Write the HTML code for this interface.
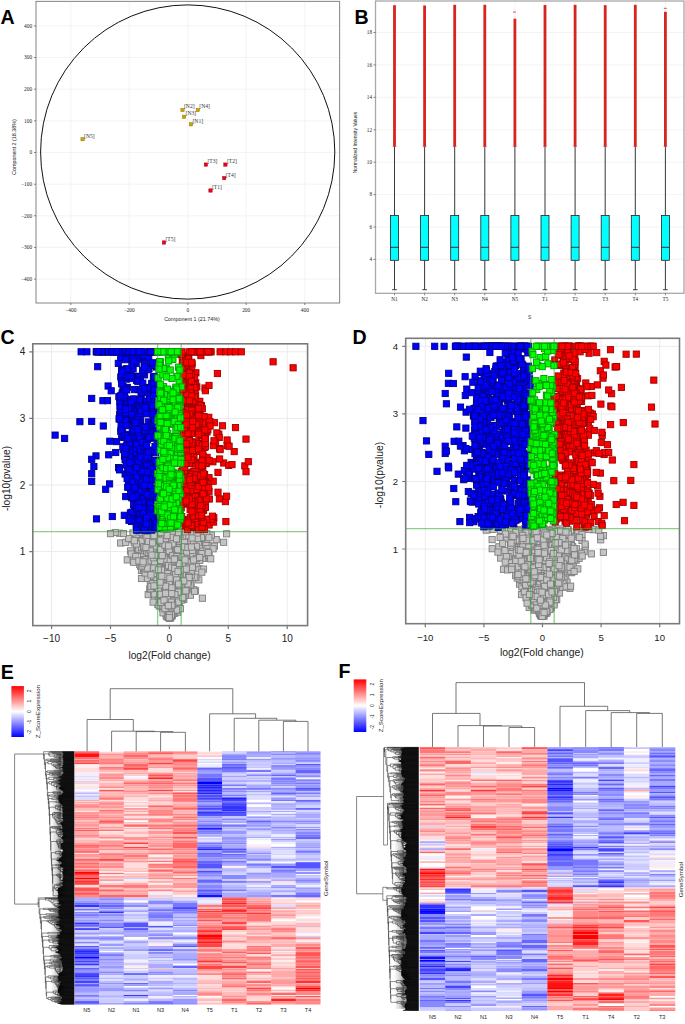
<!DOCTYPE html>
<html><head><meta charset="utf-8"><title>Figure</title>
<style>
html,body{margin:0;padding:0;background:#fff;}
body{width:685px;height:1024px;overflow:hidden;position:relative;}
body>svg{position:absolute;left:0;top:0;display:block;}
text{font-family:"Liberation Sans",sans-serif;}
.sf text,text.sf{font-family:"Liberation Serif",serif}
.b rect,.g rect,.r rect,.k rect{width:6.2px;height:6.2px;stroke-width:0.9px}
.b{fill:#0000ff;stroke:#00008c}.g{fill:#00ff00;stroke:#009a00}.r{fill:#ff0000;stroke:#9c0000}.k{fill:#c4c4c4;stroke:#7e7e7e}
.hm rect:not([height]){height:1px}
.hE rect{width:24.8px}.hF rect{width:25.8px}
</style></head><body>
<svg width="685" height="1024" viewBox="0 0 685 1024">
<path d="M70.8 1.4V303M129.2 1.4V303M187.8 1.4V303M246.2 1.4V303M304.8 1.4V303M36 279.1H339.6M36 247.4H339.6M36 215.8H339.6M36 184.2H339.6M36 152.5H339.6M36 120.8H339.6M36 89.2H339.6M36 57.5H339.6M36 25.9H339.6" stroke="#f0f0f0" stroke-width="0.8" fill="none"/>
<circle cx="187.7" cy="152" r="147.1" fill="none" stroke="#111" stroke-width="1"/>
<rect x="36" y="1.4" width="303.6" height="301.6" fill="none" stroke="#8e8e8e" stroke-width="1.1"/>
<path d="M70.8 303v2M129.2 303v2M187.8 303v2M246.2 303v2M304.8 303v2M36 279.1h-2M36 247.4h-2M36 215.8h-2M36 184.2h-2M36 152.5h-2M36 120.8h-2M36 89.2h-2M36 57.5h-2M36 25.9h-2" stroke="#555" stroke-width="0.7"/>
<g font-size="5.4" fill="#222" text-anchor="end" class="sf">
<text x="32.2" y="280.9">−400</text>
<text x="32.2" y="249.2">−300</text>
<text x="32.2" y="217.6">−200</text>
<text x="32.2" y="186">−100</text>
<text x="32.2" y="154.3">0</text>
<text x="32.2" y="122.6">100</text>
<text x="32.2" y="91">200</text>
<text x="32.2" y="59.3">300</text>
<text x="32.2" y="27.7">400</text>
</g><g font-size="5.4" fill="#222" text-anchor="middle" class="sf">
<text x="70.8" y="311.5">−400</text>
<text x="129.2" y="311.5">−200</text>
<text x="187.8" y="311.5">0</text>
<text x="246.2" y="311.5">200</text>
<text x="304.8" y="311.5">400</text>
</g>
<text x="192" y="320.8" font-size="5.4" fill="#222" text-anchor="middle">Component 1 (21.74%)</text>
<text transform="translate(15.8,147) rotate(-90)" font-size="5.4" fill="#222" text-anchor="middle">Component 2 (18.38%)</text>
<rect x="80.9" y="137.5" width="3.4" height="3.4" fill="#c9a400" stroke="#8a7000" stroke-width="0.4"/>
<text x="84.1" y="137.6" font-size="5.6" fill="#333" class="sf">[N5]</text>
<rect x="180.8" y="108.3" width="3.4" height="3.4" fill="#c9a400" stroke="#8a7000" stroke-width="0.4"/>
<text x="184" y="108.4" font-size="5.6" fill="#333" class="sf">[N2]</text>
<rect x="196.1" y="108.3" width="3.4" height="3.4" fill="#c9a400" stroke="#8a7000" stroke-width="0.4"/>
<text x="199.3" y="108.4" font-size="5.6" fill="#333" class="sf">[N4]</text>
<rect x="182.4" y="115.1" width="3.4" height="3.4" fill="#c9a400" stroke="#8a7000" stroke-width="0.4"/>
<text x="185.6" y="115.2" font-size="5.6" fill="#333" class="sf">[N3]</text>
<rect x="189.3" y="122.6" width="3.4" height="3.4" fill="#c9a400" stroke="#8a7000" stroke-width="0.4"/>
<text x="192.5" y="122.7" font-size="5.6" fill="#333" class="sf">[N1]</text>
<rect x="204.2" y="162.9" width="3.4" height="3.4" fill="#e8001c" stroke="#a00010" stroke-width="0.4"/>
<text x="207.4" y="163" font-size="5.6" fill="#333" class="sf">[T3]</text>
<rect x="223.7" y="162.9" width="3.4" height="3.4" fill="#e8001c" stroke="#a00010" stroke-width="0.4"/>
<text x="226.9" y="163" font-size="5.6" fill="#333" class="sf">[T2]</text>
<rect x="222.5" y="176.4" width="3.4" height="3.4" fill="#e8001c" stroke="#a00010" stroke-width="0.4"/>
<text x="225.7" y="176.5" font-size="5.6" fill="#333" class="sf">[T4]</text>
<rect x="208.8" y="188.8" width="3.4" height="3.4" fill="#e8001c" stroke="#a00010" stroke-width="0.4"/>
<text x="212" y="188.9" font-size="5.6" fill="#333" class="sf">[T1]</text>
<rect x="162.3" y="240.8" width="3.4" height="3.4" fill="#e8001c" stroke="#a00010" stroke-width="0.4"/>
<text x="165.5" y="240.9" font-size="5.6" fill="#333" class="sf">[T5]</text>
<text x="0.6" y="23.8" font-size="19.6" font-weight="bold" fill="#000">A</text>
<path d="M375.5 259.4H684M375.5 227H684M375.5 194.6H684M375.5 162.2H684M375.5 129.8H684M375.5 97.3H684M375.5 64.9H684M375.5 32.5H684M394.5 1V293.3M424.6 1V293.3M454.7 1V293.3M484.8 1V293.3M514.9 1V293.3M545 1V293.3M575.1 1V293.3M605.2 1V293.3M635.3 1V293.3M665.4 1V293.3" stroke="#f0f0f0" stroke-width="0.8" fill="none"/>
<rect x="375.5" y="1" width="308.5" height="292.3" fill="none" stroke="#a8a8a8" stroke-width="1.3"/>
<path d="M375.5 259.4h-2M375.5 227h-2M375.5 194.6h-2M375.5 162.2h-2M375.5 129.8h-2M375.5 97.3h-2M375.5 64.9h-2M375.5 32.5h-2M394.5 293.3v2M424.6 293.3v2M454.7 293.3v2M484.8 293.3v2M514.9 293.3v2M545 293.3v2M575.1 293.3v2M605.2 293.3v2M635.3 293.3v2M665.4 293.3v2" stroke="#555" stroke-width="0.7"/>
<g font-size="5.2" fill="#222" text-anchor="end" class="sf">
<text x="372" y="261.1">4</text>
<text x="372" y="228.7">6</text>
<text x="372" y="196.3">8</text>
<text x="372" y="163.9">10</text>
<text x="372" y="131.5">12</text>
<text x="372" y="99">14</text>
<text x="372" y="66.6">16</text>
<text x="372" y="34.2">18</text>
</g><g font-size="5.2" fill="#222" text-anchor="middle" class="sf">
<text x="394.5" y="301">N1</text>
<text x="424.6" y="301">N2</text>
<text x="454.7" y="301">N3</text>
<text x="484.8" y="301">N4</text>
<text x="514.9" y="301">N5</text>
<text x="545" y="301">T1</text>
<text x="575.1" y="301">T2</text>
<text x="605.2" y="301">T3</text>
<text x="635.3" y="301">T4</text>
<text x="665.4" y="301">T5</text>
</g>
<text x="529.5" y="319" font-size="4.8" fill="#333" text-anchor="middle">S</text>
<text transform="translate(356.8,142.5) rotate(-90)" font-size="5" fill="#222" text-anchor="middle">Normalized Intensity Values</text>
<path d="M394.5 146.4V215.5M394.5 260.3V289.7M392.2 289.7h4.6" stroke="#3a3a3a" stroke-width="1" fill="none"/>
<rect x="390.5" y="215.5" width="8" height="44.8" fill="#00ffff" stroke="#222" stroke-width="0.8"/>
<path d="M390.5 247.3h8" stroke="#222" stroke-width="0.9"/>
<rect x="393.1" y="5.2" width="2.8" height="141.4" fill="#d8241f"/>
<path d="M392.5 146.4h4" stroke="#d8241f" stroke-width="0.8" opacity="0.6"/>
<path d="M424.6 146.4V215.5M424.6 260.3V289.7M422.3 289.7h4.6" stroke="#3a3a3a" stroke-width="1" fill="none"/>
<rect x="420.6" y="215.5" width="8" height="44.8" fill="#00ffff" stroke="#222" stroke-width="0.8"/>
<path d="M420.6 247.3h8" stroke="#222" stroke-width="0.9"/>
<rect x="423.2" y="5.5" width="2.8" height="141.1" fill="#d8241f"/>
<path d="M422.6 146.4h4" stroke="#d8241f" stroke-width="0.8" opacity="0.6"/>
<path d="M454.7 146.4V215.5M454.7 260.3V289.7M452.4 289.7h4.6" stroke="#3a3a3a" stroke-width="1" fill="none"/>
<rect x="450.7" y="215.5" width="8" height="44.8" fill="#00ffff" stroke="#222" stroke-width="0.8"/>
<path d="M450.7 247.3h8" stroke="#222" stroke-width="0.9"/>
<rect x="453.3" y="4.8" width="2.8" height="141.8" fill="#d8241f"/>
<path d="M452.7 146.4h4" stroke="#d8241f" stroke-width="0.8" opacity="0.6"/>
<path d="M484.8 146.4V215.5M484.8 260.3V289.7M482.5 289.7h4.6" stroke="#3a3a3a" stroke-width="1" fill="none"/>
<rect x="480.8" y="215.5" width="8" height="44.8" fill="#00ffff" stroke="#222" stroke-width="0.8"/>
<path d="M480.8 247.3h8" stroke="#222" stroke-width="0.9"/>
<rect x="483.4" y="4.8" width="2.8" height="141.8" fill="#d8241f"/>
<path d="M482.8 146.4h4" stroke="#d8241f" stroke-width="0.8" opacity="0.6"/>
<path d="M514.9 146.4V215.5M514.9 260.3V289.7M512.6 289.7h4.6" stroke="#3a3a3a" stroke-width="1" fill="none"/>
<rect x="510.9" y="215.5" width="8" height="44.8" fill="#00ffff" stroke="#222" stroke-width="0.8"/>
<path d="M510.9 247.3h8" stroke="#222" stroke-width="0.9"/>
<rect x="513.5" y="18.7" width="2.8" height="127.9" fill="#d8241f"/>
<path d="M512.9 146.4h4" stroke="#d8241f" stroke-width="0.8" opacity="0.6"/>
<path d="M545 146.4V215.5M545 260.3V289.7M542.7 289.7h4.6" stroke="#3a3a3a" stroke-width="1" fill="none"/>
<rect x="541" y="215.5" width="8" height="44.8" fill="#00ffff" stroke="#222" stroke-width="0.8"/>
<path d="M541 247.3h8" stroke="#222" stroke-width="0.9"/>
<rect x="543.6" y="5" width="2.8" height="141.6" fill="#d8241f"/>
<path d="M543 146.4h4" stroke="#d8241f" stroke-width="0.8" opacity="0.6"/>
<path d="M575.1 146.4V215.5M575.1 260.3V289.7M572.8 289.7h4.6" stroke="#3a3a3a" stroke-width="1" fill="none"/>
<rect x="571.1" y="215.5" width="8" height="44.8" fill="#00ffff" stroke="#222" stroke-width="0.8"/>
<path d="M571.1 247.3h8" stroke="#222" stroke-width="0.9"/>
<rect x="573.7" y="4.8" width="2.8" height="141.8" fill="#d8241f"/>
<path d="M573.1 146.4h4" stroke="#d8241f" stroke-width="0.8" opacity="0.6"/>
<path d="M605.2 146.4V215.5M605.2 260.3V289.7M602.9 289.7h4.6" stroke="#3a3a3a" stroke-width="1" fill="none"/>
<rect x="601.2" y="215.5" width="8" height="44.8" fill="#00ffff" stroke="#222" stroke-width="0.8"/>
<path d="M601.2 247.3h8" stroke="#222" stroke-width="0.9"/>
<rect x="603.8" y="5.2" width="2.8" height="141.4" fill="#d8241f"/>
<path d="M603.2 146.4h4" stroke="#d8241f" stroke-width="0.8" opacity="0.6"/>
<path d="M635.3 146.4V215.5M635.3 260.3V289.7M633 289.7h4.6" stroke="#3a3a3a" stroke-width="1" fill="none"/>
<rect x="631.3" y="215.5" width="8" height="44.8" fill="#00ffff" stroke="#222" stroke-width="0.8"/>
<path d="M631.3 247.3h8" stroke="#222" stroke-width="0.9"/>
<rect x="633.9" y="4.8" width="2.8" height="141.8" fill="#d8241f"/>
<path d="M633.3 146.4h4" stroke="#d8241f" stroke-width="0.8" opacity="0.6"/>
<path d="M665.4 146.4V215.5M665.4 260.3V289.7M663.1 289.7h4.6" stroke="#3a3a3a" stroke-width="1" fill="none"/>
<rect x="661.4" y="215.5" width="8" height="44.8" fill="#00ffff" stroke="#222" stroke-width="0.8"/>
<path d="M661.4 247.3h8" stroke="#222" stroke-width="0.9"/>
<rect x="664" y="11.8" width="2.8" height="134.8" fill="#d8241f"/>
<path d="M663.4 146.4h4" stroke="#d8241f" stroke-width="0.8" opacity="0.6"/>
<rect x="513" y="11.6" width="3" height="1" fill="#d8241f" opacity="0.8"/>
<rect x="663.8" y="7.8" width="3" height="1" fill="#d8241f" opacity="0.8"/>
<text x="354.5" y="24.1" font-size="19.6" font-weight="bold" fill="#000">B</text>
<path d="M51.6 343.8V625.6M110.5 343.8V625.6M169.4 343.8V625.6M228.3 343.8V625.6M287.2 343.8V625.6M32.8 551.6H307.6M32.8 485H307.6M32.8 418.4H307.6M32.8 351.8H307.6" stroke="#ebebeb" stroke-width="1" fill="none"/>
<svg x="32.8" y="343.8" width="274.8" height="281.8" viewBox="32.8 343.8 274.8 281.8" overflow="hidden">
<g class="k"><rect x="175.2" y="594.1"/><rect x="165.7" y="599.7"/><rect x="190.4" y="546.9"/><rect x="170.9" y="540.8"/><rect x="171.6" y="556"/><rect x="167.2" y="541.2"/><rect x="161.4" y="539.9"/><rect x="204.8" y="542.5"/><rect x="166.9" y="602.1"/><rect x="165.2" y="581.8"/><rect x="168.5" y="592.2"/><rect x="169.8" y="608.8"/><rect x="173.3" y="531.1"/><rect x="181.4" y="579.5"/><rect x="146.6" y="534.6"/><rect x="159.2" y="546.5"/><rect x="158.3" y="562"/><rect x="169.4" y="543.5"/><rect x="124.2" y="556.8"/><rect x="174.5" y="570"/><rect x="174.1" y="548"/><rect x="178" y="556.6"/><rect x="192.4" y="587.7"/><rect x="165.2" y="555.4"/><rect x="162.7" y="549.7"/><rect x="196.1" y="538.9"/><rect x="150.2" y="570.4"/><rect x="161.4" y="588.5"/><rect x="167.8" y="608.8"/><rect x="182.5" y="556.1"/><rect x="165.1" y="539.3"/><rect x="173.2" y="573.7"/><rect x="165.9" y="596.5"/><rect x="184" y="552.3"/><rect x="168.9" y="602.3"/><rect x="179.3" y="565.4"/><rect x="161.6" y="595.3"/><rect x="145.9" y="531.2"/><rect x="160.7" y="531.9"/><rect x="162.3" y="565.3"/><rect x="165.7" y="586.5"/><rect x="172.3" y="551.9"/><rect x="164.6" y="554.6"/><rect x="179.9" y="529.1"/><rect x="163" y="562.8"/><rect x="153.2" y="532.8"/><rect x="158.7" y="549.7"/><rect x="166" y="572.3"/><rect x="167.2" y="611.4"/><rect x="175" y="601.7"/><rect x="155.7" y="592.5"/><rect x="180.7" y="596.4"/><rect x="162.9" y="574"/><rect x="165.5" y="562"/><rect x="164.8" y="606.1"/><rect x="181.5" y="528.7"/><rect x="163.1" y="572.2"/><rect x="174.2" y="584"/><rect x="162.3" y="596.7"/><rect x="180.7" y="579.4"/><rect x="179.9" y="590.3"/><rect x="170.2" y="584.1"/><rect x="179.7" y="586.6"/><rect x="137.5" y="563"/><rect x="169.7" y="606.1"/><rect x="163.8" y="612.3"/><rect x="171.6" y="585.1"/><rect x="159.6" y="595.3"/><rect x="169.1" y="529.6"/><rect x="175.7" y="551.6"/><rect x="165.3" y="529.5"/><rect x="165.9" y="611.9"/><rect x="156.4" y="591.7"/><rect x="154.8" y="601.3"/><rect x="164.6" y="553.6"/><rect x="162.4" y="535.7"/><rect x="154.3" y="582.8"/><rect x="183" y="563.6"/><rect x="185.2" y="556.9"/><rect x="169.4" y="597.9"/><rect x="170" y="541.7"/><rect x="145.2" y="555.5"/><rect x="180.6" y="530.3"/><rect x="151.8" y="578.8"/><rect x="166.8" y="613"/><rect x="166.3" y="609.1"/><rect x="181.5" y="559.4"/><rect x="165.9" y="592.2"/><rect x="167.2" y="612.1"/><rect x="174.5" y="579.7"/><rect x="190.6" y="586.7"/><rect x="116.4" y="530.1"/><rect x="164.9" y="593.4"/><rect x="159.5" y="570.2"/><rect x="157.5" y="567"/><rect x="178.8" y="591.2"/><rect x="168.7" y="543.3"/><rect x="160.5" y="605.4"/><rect x="171.1" y="600.7"/><rect x="147" y="589.4"/><rect x="167.8" y="553.8"/><rect x="154.6" y="599.2"/><rect x="176.9" y="592.6"/><rect x="172.4" y="578.9"/><rect x="177.5" y="551.3"/><rect x="177.1" y="586.4"/><rect x="142.1" y="572.1"/><rect x="156.9" y="593.9"/><rect x="176.1" y="544.8"/><rect x="169.3" y="551.4"/><rect x="171.2" y="604.7"/><rect x="152.6" y="591.3"/><rect x="140.9" y="550.6"/><rect x="138.4" y="567.4"/><rect x="172.3" y="578.1"/><rect x="156.4" y="534.9"/><rect x="149.7" y="578.6"/><rect x="183.2" y="546.8"/><rect x="155" y="594.5"/><rect x="138.4" y="575.4"/><rect x="154.3" y="562.4"/><rect x="151.8" y="576.2"/><rect x="173" y="577"/><rect x="178.7" y="581.3"/><rect x="193.2" y="544.5"/><rect x="169.3" y="596.8"/><rect x="173.6" y="538.3"/><rect x="162.2" y="602.9"/><rect x="171.8" y="592.1"/><rect x="211.3" y="543"/><rect x="168.9" y="611.5"/><rect x="167.1" y="570.8"/><rect x="180.2" y="562.8"/><rect x="157" y="599.3"/><rect x="145.9" y="530.8"/><rect x="168.1" y="597.7"/><rect x="168.9" y="589.5"/><rect x="176.2" y="563.5"/><rect x="165.8" y="587.7"/><rect x="168.2" y="606.2"/><rect x="147.9" y="535.1"/><rect x="168.7" y="599.7"/><rect x="199.3" y="529.7"/><rect x="166.7" y="609.1"/><rect x="156.3" y="585"/><rect x="167.8" y="550.8"/><rect x="164.8" y="561.4"/><rect x="163" y="584.6"/><rect x="157.1" y="586.3"/><rect x="166.9" y="602"/><rect x="168.1" y="600"/><rect x="168.1" y="555.3"/><rect x="156" y="531.2"/><rect x="161.1" y="558.2"/><rect x="161.6" y="567.5"/><rect x="181.5" y="587.3"/><rect x="173" y="583.5"/><rect x="170.1" y="534.3"/><rect x="164.4" y="568.8"/><rect x="156.3" y="587.1"/><rect x="157.5" y="579.2"/><rect x="165.7" y="565.8"/><rect x="165.5" y="611.3"/><rect x="170.3" y="568.8"/><rect x="188.8" y="564.6"/><rect x="147.1" y="536.4"/><rect x="159.9" y="571.6"/><rect x="176.3" y="600.9"/><rect x="184.5" y="577.1"/><rect x="177.4" y="547.7"/><rect x="179.9" y="534"/><rect x="193.3" y="551.4"/><rect x="143.7" y="563.4"/><rect x="174" y="569.3"/><rect x="182.1" y="532.5"/><rect x="160.6" y="563.9"/><rect x="184.8" y="572.9"/><rect x="153.7" y="575.3"/><rect x="159.9" y="578.1"/><rect x="186.5" y="553.9"/><rect x="145" y="557.4"/><rect x="166.1" y="614"/><rect x="159.4" y="568.8"/><rect x="140.6" y="542.3"/><rect x="184.9" y="590.7"/><rect x="149.4" y="557.4"/><rect x="169.9" y="541.9"/><rect x="171" y="591.4"/><rect x="175.9" y="564.3"/><rect x="155.7" y="533.4"/><rect x="170.3" y="541.2"/><rect x="167.6" y="528.7"/><rect x="170.8" y="567.1"/><rect x="147.9" y="583.7"/><rect x="168.8" y="612.6"/><rect x="147.3" y="575.4"/><rect x="201.6" y="554.2"/><rect x="168.8" y="558.1"/><rect x="159.6" y="530.2"/><rect x="160.3" y="595"/><rect x="176.8" y="565.9"/><rect x="154" y="563.9"/><rect x="169.7" y="591.2"/><rect x="171.8" y="583.6"/><rect x="175.4" y="569.4"/><rect x="164" y="590.4"/><rect x="177.1" y="548"/><rect x="163.7" y="584.1"/><rect x="170.9" y="574.1"/><rect x="168.5" y="562.9"/><rect x="167.9" y="588.8"/><rect x="188.6" y="568.6"/><rect x="153.8" y="561.9"/><rect x="141.4" y="534.4"/><rect x="189.8" y="530.7"/><rect x="168.6" y="611.3"/><rect x="166.2" y="600.9"/><rect x="169.6" y="597.6"/><rect x="171.7" y="590"/><rect x="145.7" y="566.9"/><rect x="166" y="563"/><rect x="160.7" y="605.3"/><rect x="170.3" y="570.4"/><rect x="186.6" y="530.2"/><rect x="162.1" y="593.3"/><rect x="184" y="554.3"/><rect x="157.5" y="583.5"/><rect x="179.5" y="533.7"/><rect x="169.5" y="608.4"/><rect x="151.6" y="534.7"/><rect x="164.9" y="576.2"/><rect x="164.9" y="591"/><rect x="157.8" y="555.2"/><rect x="186.4" y="529.8"/><rect x="157.8" y="562.2"/><rect x="156.8" y="588.2"/><rect x="163.3" y="529.6"/><rect x="168" y="573.2"/><rect x="169.6" y="574.1"/><rect x="170.4" y="605.8"/><rect x="151.3" y="532.9"/><rect x="164.9" y="563.2"/><rect x="146.8" y="559.7"/><rect x="180.3" y="570.7"/><rect x="169.2" y="534.2"/><rect x="156.4" y="596.6"/><rect x="194.5" y="550.9"/><rect x="165.6" y="609"/><rect x="179.7" y="585.4"/><rect x="166.6" y="537"/><rect x="156.5" y="552.2"/><rect x="149.3" y="548.8"/><rect x="168.7" y="563.3"/><rect x="159.5" y="569.5"/><rect x="183.2" y="556.7"/><rect x="176" y="534.8"/><rect x="165.6" y="604.2"/><rect x="138" y="536.7"/><rect x="149.9" y="531"/><rect x="153.7" y="569.2"/><rect x="157.8" y="572"/><rect x="157.2" y="543.6"/><rect x="151.6" y="563.3"/><rect x="173.8" y="550.5"/><rect x="177" y="540.7"/><rect x="154.4" y="589"/><rect x="166.5" y="615"/><rect x="170" y="566.5"/><rect x="159.4" y="605.3"/><rect x="169.6" y="572"/><rect x="153.4" y="537.9"/><rect x="174" y="587.1"/><rect x="163.7" y="599.7"/><rect x="164.8" y="598.1"/><rect x="162.8" y="584.9"/><rect x="145.1" y="591.5"/><rect x="176.9" y="589.3"/><rect x="162.1" y="543.7"/><rect x="158.6" y="528.6"/><rect x="154.3" y="529.9"/><rect x="213.1" y="536.5"/><rect x="167" y="555.2"/><rect x="159.6" y="590.1"/><rect x="168.5" y="545.4"/><rect x="186.2" y="575.4"/><rect x="177" y="581.3"/><rect x="165.2" y="595.5"/><rect x="159.2" y="558.6"/><rect x="187.5" y="571.6"/><rect x="192.7" y="551.7"/><rect x="170.3" y="607.6"/><rect x="151.9" y="541.7"/><rect x="173.1" y="545.6"/><rect x="171.4" y="595.7"/><rect x="187.1" y="542.6"/><rect x="159.9" y="553.8"/><rect x="146.2" y="530.3"/><rect x="165" y="585.7"/><rect x="175.2" y="529.6"/><rect x="174.1" y="539.6"/><rect x="167.2" y="611.1"/><rect x="175.7" y="589.7"/><rect x="182.2" y="576.7"/><rect x="167.3" y="605.6"/><rect x="177.6" y="584.9"/><rect x="173.4" y="591.4"/><rect x="183.3" y="562.7"/><rect x="169" y="580.3"/><rect x="171.5" y="535.3"/><rect x="180.1" y="538.3"/><rect x="162.1" y="607.1"/><rect x="166.9" y="584.8"/><rect x="164.7" y="596.1"/><rect x="166.3" y="613.4"/><rect x="161.3" y="585.2"/><rect x="174.7" y="550.3"/><rect x="154.6" y="574.1"/><rect x="153.1" y="550.3"/><rect x="140.2" y="533.6"/><rect x="158.5" y="562.5"/><rect x="168.9" y="605.4"/><rect x="163.3" y="609.6"/><rect x="127.4" y="547.8"/><rect x="166.1" y="573.9"/><rect x="188.5" y="569.4"/><rect x="143.4" y="545.7"/><rect x="148.8" y="571.6"/><rect x="178.5" y="536.1"/><rect x="161.8" y="570.5"/><rect x="149.8" y="562.9"/><rect x="165.1" y="591.8"/><rect x="180.5" y="529.7"/><rect x="166.6" y="611.2"/><rect x="177.5" y="542.3"/><rect x="163.7" y="553.4"/><rect x="173" y="553.3"/><rect x="150.3" y="547.6"/><rect x="149" y="559.2"/><rect x="167.6" y="610.7"/><rect x="153.5" y="596.2"/><rect x="195.7" y="576.8"/><rect x="161.5" y="542.2"/><rect x="185.7" y="540.2"/><rect x="195.3" y="541.8"/><rect x="177.7" y="593.1"/><rect x="148.9" y="534.7"/><rect x="175.4" y="536.1"/><rect x="171.9" y="543"/><rect x="159.4" y="595.6"/><rect x="190.9" y="541.2"/><rect x="151.7" y="575.4"/><rect x="181.6" y="528.8"/><rect x="160.2" y="556.8"/><rect x="170.6" y="594.3"/><rect x="164.4" y="558.1"/><rect x="155.1" y="547.8"/><rect x="150.8" y="558.7"/><rect x="160.2" y="574.4"/><rect x="164" y="612.7"/><rect x="160.1" y="536.9"/><rect x="159.6" y="530.5"/><rect x="158" y="539"/><rect x="192.8" y="574.2"/><rect x="163.8" y="603.9"/><rect x="171" y="608.1"/><rect x="172" y="567.7"/><rect x="157.5" y="557.1"/><rect x="171.9" y="603.4"/><rect x="165.7" y="592.5"/><rect x="162.5" y="601.4"/><rect x="200.7" y="555.1"/><rect x="161.9" y="537.3"/><rect x="175.4" y="550.1"/><rect x="166.7" y="560.4"/><rect x="168" y="564.4"/><rect x="163.2" y="557"/><rect x="166.4" y="605.9"/><rect x="160.9" y="568.2"/><rect x="195.4" y="545.6"/><rect x="163.5" y="544.8"/><rect x="158.8" y="584.1"/><rect x="154.3" y="567.5"/><rect x="153.4" y="559.4"/><rect x="171.7" y="546.3"/><rect x="199.6" y="555.3"/><rect x="160.3" y="543.4"/><rect x="160.3" y="601.8"/><rect x="165.9" y="544.2"/><rect x="167.2" y="535.2"/><rect x="168.7" y="538.2"/><rect x="152.9" y="530.3"/><rect x="178.8" y="576.6"/><rect x="155.5" y="576.7"/><rect x="145.4" y="535.9"/><rect x="154.8" y="578.4"/><rect x="167" y="529.6"/><rect x="195.8" y="565.7"/><rect x="163.3" y="610.9"/><rect x="181" y="545.6"/><rect x="177.3" y="556.6"/><rect x="160.6" y="605.1"/><rect x="158.9" y="579.8"/><rect x="160.3" y="563.9"/><rect x="169.3" y="588"/><rect x="151.3" y="532.9"/><rect x="150.4" y="543.1"/><rect x="167" y="540.7"/><rect x="152.9" y="563.8"/><rect x="186.7" y="582"/><rect x="170.1" y="605"/><rect x="171.8" y="577.7"/><rect x="153.8" y="535.1"/><rect x="167.5" y="611.8"/><rect x="179.2" y="556.2"/><rect x="190.8" y="544"/><rect x="158.4" y="594.4"/><rect x="186.7" y="529.1"/><rect x="169.6" y="579.7"/><rect x="168.2" y="611.5"/><rect x="223.5" y="530.7"/><rect x="182.9" y="580.1"/><rect x="166.3" y="610.3"/><rect x="169.5" y="558.8"/><rect x="178.5" y="549.8"/><rect x="165.8" y="592.4"/><rect x="167.1" y="582.1"/><rect x="169.5" y="583.7"/><rect x="169.6" y="574.8"/><rect x="169.4" y="604.8"/><rect x="163.1" y="578.1"/><rect x="167.2" y="606.8"/><rect x="163.8" y="605.4"/><rect x="186.5" y="577.8"/><rect x="152.1" y="569.8"/><rect x="193.1" y="560.6"/><rect x="181.8" y="547"/><rect x="168.9" y="588.8"/><rect x="160.1" y="568.5"/><rect x="160" y="585.2"/><rect x="162.1" y="563.5"/><rect x="170.4" y="588"/><rect x="167.1" y="544.3"/><rect x="149" y="571.4"/><rect x="165.3" y="588"/><rect x="156.4" y="594.2"/><rect x="180.8" y="548.7"/><rect x="159.1" y="570.4"/><rect x="157.4" y="532.4"/><rect x="171" y="555.9"/><rect x="153.8" y="560.7"/><rect x="140.5" y="550.4"/><rect x="163.3" y="586.5"/><rect x="158" y="544.6"/><rect x="172.9" y="598.5"/><rect x="168.4" y="575.1"/><rect x="165.2" y="594.2"/><rect x="155.2" y="563.6"/><rect x="146.8" y="552.2"/><rect x="159" y="549.6"/><rect x="161.7" y="563.5"/><rect x="177" y="585.7"/><rect x="167.1" y="530.4"/><rect x="167.4" y="569.8"/><rect x="162.5" y="609.8"/><rect x="185.7" y="563.1"/><rect x="165.3" y="584.2"/><rect x="146" y="535.6"/><rect x="131.1" y="539.8"/><rect x="149.6" y="560.3"/><rect x="168.7" y="582.3"/><rect x="202.8" y="539.4"/><rect x="188" y="580.6"/><rect x="158.5" y="572"/><rect x="158.6" y="558.4"/><rect x="167.4" y="607.8"/><rect x="160.2" y="537.9"/><rect x="173" y="539.1"/><rect x="154.9" y="594.3"/><rect x="187.2" y="561.6"/><rect x="176.7" y="544.4"/><rect x="163.2" y="592.1"/><rect x="168.6" y="553.7"/><rect x="186.1" y="551.3"/><rect x="175.3" y="537.5"/><rect x="170.9" y="595.1"/><rect x="165.6" y="612.5"/><rect x="166.4" y="604.6"/><rect x="154.9" y="539"/><rect x="184.9" y="572.4"/><rect x="175.3" y="581.6"/><rect x="171.1" y="599.7"/><rect x="166.5" y="570.2"/><rect x="161.8" y="567.4"/><rect x="166.2" y="614.5"/><rect x="140.9" y="536.9"/><rect x="179.3" y="536.3"/><rect x="165.7" y="559.5"/><rect x="160.9" y="592"/><rect x="200.4" y="566"/><rect x="164.4" y="590.1"/><rect x="162.9" y="556.3"/><rect x="174.5" y="585.6"/><rect x="150.5" y="528.9"/><rect x="169.6" y="604.3"/><rect x="194.3" y="539.8"/><rect x="174.2" y="589.4"/><rect x="173.6" y="589.8"/><rect x="170.8" y="531.8"/><rect x="157.8" y="578.6"/><rect x="177.7" y="590.3"/><rect x="197.5" y="546.8"/><rect x="165.1" y="609.4"/><rect x="173.5" y="544.9"/><rect x="142.5" y="560.7"/><rect x="163.3" y="602.2"/><rect x="151.6" y="568.2"/><rect x="172.8" y="546"/><rect x="179.2" y="556.5"/><rect x="203.6" y="536.2"/><rect x="165.2" y="587.3"/><rect x="153.8" y="573.5"/><rect x="165.6" y="605.1"/><rect x="175.6" y="578.2"/><rect x="159.1" y="537.5"/><rect x="126.7" y="536.6"/><rect x="162.5" y="530.3"/><rect x="163.8" y="613.4"/><rect x="153.6" y="583.1"/><rect x="178.8" y="578.5"/><rect x="189.2" y="561.9"/><rect x="141.8" y="559.6"/><rect x="150.6" y="565.7"/><rect x="154.9" y="563"/><rect x="171.8" y="530.8"/><rect x="159.9" y="555.4"/><rect x="166.5" y="555.9"/><rect x="164.3" y="609"/><rect x="167.6" y="576.1"/><rect x="167.6" y="591.1"/><rect x="172" y="600.8"/><rect x="165.6" y="588.3"/><rect x="158.4" y="540"/><rect x="170.9" y="574.4"/><rect x="184.2" y="577.4"/><rect x="172.9" y="578.1"/><rect x="166.4" y="533.2"/><rect x="150.9" y="567.5"/><rect x="168.7" y="604"/><rect x="172" y="597.7"/><rect x="155.9" y="582.3"/><rect x="161.4" y="538.7"/><rect x="183.7" y="544.6"/><rect x="156.9" y="539.5"/><rect x="187.3" y="592.1"/><rect x="155.2" y="587"/><rect x="164.8" y="563.8"/><rect x="168" y="569.7"/><rect x="157.6" y="572.4"/><rect x="175.3" y="553"/><rect x="161.3" y="579.2"/><rect x="164.7" y="569.5"/><rect x="188.2" y="533"/><rect x="174.5" y="590"/><rect x="143.4" y="568"/><rect x="175.8" y="579.5"/><rect x="181" y="540.1"/><rect x="165.7" y="576.9"/><rect x="178.2" y="597.1"/><rect x="168" y="561.9"/><rect x="155.4" y="584.6"/><rect x="155.5" y="559.1"/><rect x="187.5" y="543.8"/><rect x="167.6" y="543.3"/><rect x="161.8" y="586.7"/><rect x="145.4" y="553.7"/><rect x="147.6" y="572"/><rect x="167.3" y="607.1"/><rect x="168.2" y="564"/><rect x="187.1" y="581.9"/><rect x="168.2" y="606.6"/><rect x="168.7" y="579.8"/><rect x="154.7" y="591.3"/><rect x="133.4" y="531.3"/><rect x="173.2" y="573.5"/><rect x="171.2" y="555.3"/><rect x="165" y="561.6"/><rect x="184.9" y="559.8"/><rect x="163.9" y="587.4"/><rect x="163" y="599"/><rect x="164.3" y="579.6"/><rect x="171.5" y="531.6"/><rect x="175.6" y="553.5"/><rect x="175.8" y="566.8"/><rect x="158.4" y="546.7"/><rect x="191.6" y="574.1"/><rect x="165.7" y="593.6"/><rect x="154.5" y="577.8"/><rect x="168.9" y="559.7"/><rect x="179.4" y="551.9"/><rect x="186.2" y="541.7"/><rect x="165.3" y="574.4"/><rect x="177.1" y="558.4"/><rect x="167.4" y="600.8"/><rect x="178.9" y="552"/><rect x="157.6" y="547.9"/><rect x="164.7" y="579.3"/><rect x="170.3" y="607.1"/><rect x="165.9" y="540.6"/><rect x="165.5" y="588.8"/><rect x="172.3" y="576.4"/><rect x="153.5" y="552.3"/><rect x="164.7" y="600"/><rect x="167" y="586.4"/><rect x="154.5" y="529.1"/><rect x="166.9" y="540.6"/><rect x="167.4" y="541.6"/><rect x="164.6" y="609.1"/><rect x="154.6" y="574.3"/><rect x="189.2" y="560.5"/><rect x="169.4" y="540.4"/><rect x="165.3" y="609.8"/><rect x="179.9" y="593.4"/><rect x="172.5" y="598.4"/><rect x="112.1" y="529.4"/><rect x="167" y="593.6"/><rect x="166.9" y="601"/><rect x="182.3" y="581.5"/><rect x="163.4" y="594.9"/><rect x="160.1" y="575.6"/><rect x="165.7" y="607.4"/><rect x="165.7" y="593.9"/><rect x="171.2" y="530.4"/><rect x="146.5" y="530.5"/><rect x="168.8" y="562.7"/><rect x="133.7" y="540.9"/><rect x="188.6" y="531.7"/><rect x="146.7" y="586"/><rect x="155.2" y="583.6"/><rect x="137.9" y="529.1"/><rect x="166.3" y="603.3"/><rect x="162.2" y="575.8"/><rect x="155.7" y="530.7"/><rect x="148.8" y="575.6"/><rect x="159.5" y="582.9"/><rect x="163.4" y="551"/><rect x="149.7" y="582.4"/><rect x="156.8" y="580.6"/><rect x="159.7" y="569.3"/><rect x="166.7" y="561.7"/><rect x="162.1" y="591.9"/><rect x="162.5" y="600.2"/><rect x="164.9" y="533.7"/><rect x="154.2" y="592.5"/><rect x="171.3" y="585.5"/><rect x="167.1" y="605"/><rect x="182.2" y="579.7"/><rect x="175.1" y="532.6"/><rect x="175.1" y="567.5"/><rect x="165" y="581"/><rect x="172" y="566.6"/><rect x="134.7" y="547.4"/><rect x="196.7" y="557.3"/><rect x="160.7" y="578.6"/><rect x="169.1" y="603.4"/><rect x="145" y="569.3"/><rect x="164.7" y="605.2"/><rect x="168.2" y="610.7"/><rect x="158.1" y="549.2"/><rect x="164.2" y="537.6"/><rect x="176.4" y="545"/><rect x="165.9" y="583.8"/><rect x="166.3" y="560.4"/><rect x="168.2" y="572"/><rect x="177.9" y="533.9"/><rect x="160.5" y="536"/><rect x="174.4" y="580.6"/><rect x="147.2" y="580"/><rect x="169.1" y="612.4"/><rect x="152.6" y="578.5"/><rect x="162.2" y="581.1"/><rect x="158.2" y="549.5"/><rect x="170.8" y="535.1"/><rect x="161.4" y="592.4"/><rect x="151.6" y="595.9"/><rect x="168.9" y="546.8"/><rect x="149.8" y="534.7"/><rect x="150" y="599"/><rect x="162" y="565"/><rect x="145.5" y="537.7"/><rect x="176.7" y="568.2"/><rect x="163.9" y="550.4"/><rect x="140.6" y="546.6"/><rect x="158.5" y="591.8"/><rect x="142.9" y="547.6"/><rect x="165.2" y="595.1"/><rect x="165.3" y="530.7"/><rect x="166.8" y="555.2"/><rect x="179.3" y="582.9"/><rect x="172.4" y="562.4"/><rect x="129.9" y="529.8"/><rect x="148.9" y="554.3"/><rect x="164.5" y="597.7"/><rect x="171.5" y="610.3"/><rect x="136.7" y="541.2"/><rect x="163" y="594.1"/><rect x="161.7" y="582"/><rect x="168.7" y="544.2"/><rect x="165.2" y="545.1"/><rect x="163.5" y="550.4"/><rect x="160.8" y="579.6"/><rect x="169.1" y="547.7"/><rect x="173.5" y="568.8"/><rect x="166" y="595.9"/><rect x="170.7" y="591.9"/><rect x="162.5" y="602.7"/><rect x="169.1" y="598.8"/><rect x="164.1" y="595.1"/><rect x="168.3" y="584.3"/><rect x="166.2" y="608.9"/><rect x="160.1" y="569.6"/><rect x="159.8" y="599.2"/><rect x="128.2" y="550.8"/><rect x="167.2" y="604.4"/><rect x="176.4" y="537.1"/><rect x="166.9" y="604.6"/><rect x="137" y="540.9"/><rect x="157" y="573.2"/><rect x="173.1" y="554.9"/><rect x="162.7" y="568.4"/><rect x="148.5" y="540.2"/><rect x="164.4" y="559.1"/><rect x="174.6" y="590.1"/><rect x="183.9" y="534.7"/><rect x="169.7" y="572.9"/><rect x="183.2" y="558.5"/><rect x="171.5" y="599.5"/><rect x="165" y="586"/><rect x="173.2" y="528.6"/><rect x="170.8" y="607.1"/><rect x="150.4" y="533.7"/><rect x="151.8" y="559.6"/><rect x="162" y="563.1"/><rect x="172.1" y="581.3"/><rect x="186.1" y="544"/><rect x="187.8" y="530.2"/><rect x="160.8" y="592.6"/><rect x="180.3" y="562.3"/><rect x="193.6" y="546.9"/><rect x="156.4" y="577.4"/><rect x="188.2" y="572.3"/><rect x="164.1" y="605.2"/><rect x="161.4" y="601.1"/><rect x="169.1" y="539.2"/><rect x="174.5" y="564.7"/><rect x="161.7" y="588.5"/><rect x="183.7" y="533.7"/><rect x="142.3" y="559.8"/><rect x="180.6" y="533.9"/><rect x="198.7" y="534.7"/><rect x="171" y="545.3"/><rect x="163" y="550.2"/><rect x="155.4" y="592.4"/><rect x="170" y="533.6"/><rect x="156.9" y="564.4"/><rect x="167.2" y="594.2"/><rect x="174.6" y="598.8"/><rect x="165.2" y="613.6"/><rect x="149.5" y="535.3"/><rect x="165.9" y="611"/><rect x="174.8" y="534.9"/><rect x="177.2" y="543.1"/><rect x="180.4" y="552"/><rect x="148.5" y="557.4"/><rect x="167.3" y="592.1"/><rect x="168.7" y="607"/><rect x="172.3" y="598.5"/><rect x="165.5" y="537.1"/><rect x="168.6" y="555.4"/><rect x="165.7" y="554"/><rect x="146.6" y="534.8"/><rect x="191" y="553"/><rect x="159.9" y="586.3"/><rect x="170.7" y="572.8"/><rect x="181.1" y="576.4"/><rect x="161.3" y="570.3"/><rect x="172.8" y="559.8"/><rect x="161.5" y="549.2"/><rect x="172.4" y="557.8"/><rect x="140.5" y="557.2"/><rect x="155.9" y="532.9"/><rect x="135" y="546.3"/><rect x="147.6" y="561.9"/><rect x="169.4" y="565.6"/><rect x="175.2" y="578.4"/><rect x="165.5" y="587"/><rect x="169.4" y="602.5"/><rect x="143.9" y="562.5"/><rect x="177.4" y="549.2"/><rect x="173.8" y="533.7"/><rect x="162.5" y="554.4"/><rect x="174.9" y="534"/><rect x="166.8" y="611.9"/><rect x="179.6" y="595.1"/><rect x="162.3" y="598.5"/><rect x="167.5" y="614.2"/><rect x="178.5" y="582"/><rect x="157.2" y="561.4"/><rect x="178.1" y="556.2"/><rect x="184" y="532.9"/><rect x="172.7" y="550.1"/><rect x="156.9" y="544.5"/><rect x="165" y="611.1"/><rect x="150.6" y="590.4"/><rect x="155.4" y="559.9"/><rect x="148.9" y="559.2"/><rect x="187.2" y="530.7"/><rect x="156.9" y="569.2"/><rect x="158.2" y="588.1"/><rect x="183.1" y="535.4"/><rect x="174.9" y="534.1"/><rect x="159.1" y="561.2"/><rect x="170.9" y="577.7"/><rect x="157" y="547.5"/><rect x="142.9" y="532.2"/><rect x="163.1" y="578"/><rect x="191.2" y="533.7"/><rect x="184.5" y="550.7"/><rect x="163.4" y="611.7"/><rect x="166.9" y="556"/><rect x="191.3" y="544.4"/><rect x="172.2" y="543.1"/><rect x="172" y="597.1"/><rect x="160.2" y="541.3"/><rect x="149.9" y="563.1"/><rect x="156.7" y="548.3"/><rect x="169.6" y="531.9"/><rect x="145.2" y="545.5"/><rect x="166.6" y="592.4"/><rect x="177.5" y="589.9"/><rect x="174.6" y="542.5"/><rect x="169.4" y="587.4"/><rect x="175.3" y="585.4"/><rect x="166.5" y="546.8"/><rect x="175" y="574.9"/><rect x="164.3" y="539"/><rect x="163.4" y="598.8"/><rect x="164" y="608.1"/><rect x="157.9" y="596.3"/><rect x="168" y="585.5"/><rect x="162.3" y="548.7"/><rect x="157.8" y="541.3"/><rect x="154.8" y="548.1"/><rect x="142.6" y="534.3"/><rect x="159.3" y="558.9"/><rect x="193" y="533.7"/><rect x="163.3" y="568"/><rect x="160.5" y="600.4"/><rect x="167.5" y="552.8"/><rect x="166.7" y="568.2"/><rect x="177" y="547.4"/><rect x="167.4" y="561.3"/><rect x="158.6" y="571.5"/><rect x="168.6" y="601.2"/><rect x="173.6" y="586.2"/><rect x="183.9" y="532"/><rect x="169.7" y="603.6"/><rect x="194.2" y="537"/><rect x="177.8" y="582.6"/><rect x="178.2" y="578.9"/><rect x="169.5" y="605.8"/><rect x="154.5" y="553.6"/><rect x="163.9" y="555.1"/><rect x="197.9" y="550.5"/><rect x="181.8" y="537.8"/><rect x="179.9" y="543.6"/><rect x="163.9" y="599.9"/><rect x="181.5" y="572.7"/><rect x="162.5" y="601.9"/><rect x="172.7" y="547.2"/><rect x="151" y="555.2"/><rect x="138.7" y="538.1"/><rect x="177.4" y="561.4"/><rect x="171.7" y="544.6"/><rect x="163" y="594.1"/><rect x="159.6" y="560.1"/><rect x="166.7" y="615"/><rect x="178.4" y="571.7"/><rect x="166.2" y="591.6"/><rect x="164.3" y="577.7"/><rect x="165.4" y="595.9"/><rect x="153.1" y="565"/><rect x="172.9" y="599.9"/><rect x="171.5" y="606.9"/><rect x="153.5" y="555.6"/><rect x="169.1" y="558.8"/><rect x="172.6" y="571.6"/><rect x="148.8" y="552.5"/><rect x="167.5" y="605"/><rect x="167.5" y="532.3"/><rect x="182.9" y="543.1"/><rect x="152.6" y="532.5"/><rect x="180.2" y="540.5"/><rect x="172.7" y="568"/><rect x="171.1" y="580.7"/><rect x="167.5" y="614.5"/><rect x="180.4" y="540.9"/><rect x="161.1" y="541.3"/><rect x="182.4" y="533.1"/><rect x="163.4" y="608.1"/><rect x="172.5" y="547.8"/><rect x="206" y="552.3"/><rect x="164.9" y="558.5"/><rect x="156.2" y="534.6"/><rect x="161.3" y="566.4"/><rect x="179.5" y="586.8"/><rect x="161.5" y="602.6"/><rect x="150.6" y="555.1"/><rect x="158.1" y="598.2"/><rect x="177.6" y="560.4"/><rect x="173.3" y="578.6"/><rect x="155.9" y="579.1"/><rect x="169.7" y="601.7"/><rect x="184.4" y="564.8"/><rect x="168.2" y="610"/><rect x="188" y="568.4"/><rect x="167" y="532.8"/><rect x="149.1" y="547.7"/><rect x="171.2" y="546.9"/><rect x="163.4" y="605.3"/><rect x="172.4" y="595.6"/><rect x="162.4" y="570.5"/><rect x="172.4" y="559.9"/><rect x="176.5" y="572.3"/><rect x="173.2" y="590.7"/><rect x="157.2" y="561.5"/><rect x="186.6" y="559.2"/><rect x="165.8" y="614.5"/><rect x="180.8" y="580.7"/><rect x="190.4" y="545.7"/><rect x="138.2" y="547.2"/><rect x="161.5" y="573.2"/><rect x="166.8" y="584.5"/><rect x="170.8" y="587.4"/><rect x="142" y="556.6"/><rect x="145.2" y="546.3"/><rect x="172.6" y="579.1"/><rect x="163.2" y="612.8"/><rect x="162.6" y="567.3"/><rect x="155.9" y="535.7"/><rect x="169.5" y="597"/><rect x="164.3" y="572.8"/><rect x="170.6" y="582.9"/><rect x="170" y="532"/><rect x="158" y="589.8"/><rect x="157.6" y="567.4"/><rect x="177.1" y="585.7"/><rect x="167.5" y="557.3"/><rect x="160" y="591.1"/><rect x="141.1" y="561.6"/><rect x="150.9" y="542.5"/><rect x="145.1" y="570.2"/><rect x="167.2" y="561"/><rect x="164.3" y="600.7"/><rect x="171.4" y="553.5"/><rect x="162.7" y="545"/><rect x="163.5" y="574.9"/><rect x="165.1" y="612.3"/><rect x="155.1" y="593"/><rect x="174.6" y="550"/><rect x="169.4" y="533.9"/><rect x="155.6" y="591.5"/><rect x="135.7" y="546"/><rect x="155.4" y="570.7"/><rect x="169.1" y="597.4"/><rect x="138.4" y="544.6"/><rect x="163.6" y="568.8"/><rect x="166.1" y="589.7"/><rect x="174.2" y="549.7"/><rect x="140.4" y="567"/><rect x="185.2" y="578.4"/><rect x="167.7" y="579.2"/><rect x="172.9" y="588.6"/><rect x="153.7" y="566.1"/><rect x="175.7" y="540.8"/><rect x="156.7" y="579.6"/><rect x="152.5" y="532.4"/><rect x="178.4" y="559.3"/><rect x="163.4" y="593.7"/><rect x="167.9" y="592.3"/><rect x="162.2" y="584.8"/><rect x="191.2" y="539.8"/><rect x="172.9" y="576"/><rect x="180.9" y="590.9"/><rect x="161.3" y="591.9"/><rect x="164.2" y="599.6"/><rect x="163.9" y="532.5"/><rect x="165" y="581.6"/><rect x="170.1" y="568"/><rect x="181" y="562.1"/><rect x="180.6" y="566"/><rect x="196.4" y="541.9"/><rect x="154.8" y="572.1"/><rect x="159.5" y="579.9"/><rect x="157" y="570.8"/><rect x="168.6" y="588.7"/><rect x="171.8" y="556.3"/><rect x="180.4" y="535"/><rect x="165.6" y="592.6"/><rect x="172.8" y="604.3"/><rect x="177.8" y="580"/><rect x="171.8" y="578"/><rect x="176.8" y="593.9"/><rect x="208.3" y="532"/><rect x="170.1" y="574.5"/><rect x="157.6" y="571.7"/><rect x="166.2" y="534.7"/><rect x="141.1" y="565.5"/><rect x="157.9" y="554.2"/><rect x="177" y="540.6"/><rect x="170.7" y="591.9"/><rect x="164.3" y="566.1"/><rect x="182.3" y="592.2"/><rect x="158.4" y="576.3"/><rect x="174" y="550.5"/><rect x="169.6" y="567.7"/><rect x="151" y="540.7"/><rect x="133.2" y="540.9"/><rect x="190.9" y="533.9"/><rect x="151.2" y="590.8"/><rect x="161.2" y="590.4"/><rect x="155.6" y="538.3"/><rect x="185" y="577.3"/><rect x="179.2" y="532.6"/><rect x="165.3" y="613"/><rect x="155.3" y="557.5"/><rect x="160.1" y="534.8"/><rect x="158.3" y="573.8"/><rect x="164.3" y="548.8"/><rect x="185.3" y="564.2"/><rect x="183.1" y="586"/><rect x="165.3" y="599.1"/><rect x="149" y="543.1"/><rect x="149" y="573.2"/><rect x="156.9" y="537.9"/><rect x="172" y="596.5"/><rect x="170.9" y="597.5"/><rect x="157.8" y="543.9"/><rect x="169.8" y="604.4"/><rect x="161.8" y="586.3"/><rect x="170.8" y="592"/><rect x="165.6" y="585.6"/><rect x="159.9" y="566.7"/><rect x="193.4" y="555.2"/><rect x="170.4" y="546.7"/><rect x="169.3" y="588.9"/><rect x="168.8" y="537.9"/><rect x="163.3" y="609.3"/><rect x="153.9" y="554.4"/><rect x="153.7" y="571.3"/><rect x="171.8" y="546.8"/><rect x="165.6" y="602.8"/><rect x="179.4" y="574"/><rect x="137.1" y="558.1"/><rect x="178.8" y="591.7"/><rect x="199.5" y="534.4"/><rect x="167.3" y="602.6"/><rect x="148.5" y="585"/><rect x="172" y="599.6"/><rect x="170.1" y="566.3"/><rect x="148.7" y="549.4"/><rect x="171" y="528.6"/><rect x="159.3" y="581.8"/><rect x="166.4" y="563.1"/><rect x="117.6" y="539.9"/><rect x="146.2" y="545"/><rect x="148.7" y="538.1"/><rect x="172" y="543.5"/><rect x="173.4" y="574.8"/><rect x="152.9" y="531.1"/><rect x="181.9" y="584.5"/><rect x="198.8" y="550.5"/><rect x="136.6" y="561.3"/><rect x="179.7" y="559.3"/><rect x="179.2" y="592"/><rect x="170.7" y="600.2"/><rect x="155.1" y="570.2"/><rect x="175.9" y="593.9"/><rect x="153.9" y="538.6"/><rect x="153.3" y="576.2"/><rect x="167" y="603.7"/><rect x="164.9" y="612"/><rect x="157.2" y="540.3"/><rect x="155.9" y="546.3"/><rect x="156.9" y="589.2"/><rect x="160.9" y="560.5"/><rect x="158.2" y="569.9"/><rect x="164.4" y="606.1"/><rect x="159" y="591.4"/><rect x="169.6" y="550.4"/><rect x="165.6" y="613.8"/><rect x="172" y="560.3"/><rect x="164.2" y="543.3"/><rect x="165.7" y="558.5"/><rect x="164.6" y="575.7"/><rect x="174.6" y="609.1"/><rect x="151.3" y="550.2"/><rect x="167.4" y="559.5"/><rect x="156.4" y="529.7"/><rect x="164.8" y="576.5"/><rect x="166.6" y="604.9"/><rect x="173.5" y="534"/><rect x="183.9" y="549.2"/><rect x="143.6" y="548.8"/><rect x="175.7" y="540.9"/><rect x="159" y="592.7"/><rect x="179.6" y="551.7"/><rect x="176.3" y="561.6"/><rect x="167.8" y="579"/><rect x="155.9" y="538.5"/><rect x="159.1" y="561.7"/><rect x="180.3" y="584.3"/><rect x="160.7" y="537.5"/><rect x="179.4" y="576.1"/><rect x="175.2" y="594.9"/><rect x="170.2" y="539.5"/><rect x="139.1" y="561.2"/><rect x="178" y="555.6"/><rect x="167.1" y="600.8"/><rect x="165" y="606.8"/><rect x="165.4" y="567.5"/><rect x="170.6" y="597.2"/><rect x="197.8" y="529.5"/><rect x="159.4" y="556.5"/><rect x="161.5" y="573.3"/><rect x="181.9" y="536.7"/><rect x="169.8" y="589.1"/><rect x="173.8" y="590.9"/><rect x="179.5" y="580.6"/><rect x="153.3" y="529.6"/><rect x="181.1" y="578.4"/><rect x="210" y="545.7"/><rect x="175.1" y="588.6"/><rect x="165" y="548.1"/><rect x="168.5" y="563.9"/><rect x="167.1" y="600.2"/><rect x="164.1" y="608.3"/><rect x="150" y="563.9"/><rect x="154.8" y="550.1"/><rect x="171.2" y="608.3"/><rect x="149.9" y="547.5"/><rect x="166.1" y="614"/><rect x="177.9" y="537.3"/><rect x="161.5" y="586.7"/><rect x="172.9" y="548.8"/><rect x="157.4" y="600.7"/><rect x="170" y="578.6"/><rect x="161.2" y="590.6"/><rect x="165.5" y="549"/><rect x="166.8" y="542.4"/><rect x="169.7" y="577.7"/><rect x="168.2" y="613.2"/><rect x="138.1" y="559.6"/><rect x="155.8" y="565.2"/><rect x="159.7" y="563.8"/><rect x="173.2" y="557.9"/><rect x="162.1" y="598.1"/><rect x="176" y="571.6"/><rect x="169.6" y="566.2"/><rect x="122.6" y="539.3"/><rect x="140.6" y="544.6"/><rect x="178.8" y="529.6"/><rect x="162.2" y="595"/><rect x="165.2" y="551.3"/><rect x="149" y="541.9"/><rect x="166.7" y="555.5"/><rect x="165.3" y="540.5"/><rect x="169.7" y="537.5"/><rect x="182.8" y="587.2"/><rect x="182.6" y="539.7"/><rect x="158.6" y="603.4"/><rect x="161.2" y="593.5"/><rect x="163.9" y="577"/><rect x="175.7" y="531.5"/><rect x="164.2" y="596.1"/><rect x="164.3" y="545.1"/><rect x="165.3" y="531.5"/><rect x="178.7" y="594.7"/><rect x="184.4" y="541.5"/><rect x="156" y="602.8"/><rect x="145.2" y="528.8"/><rect x="188.8" y="535.3"/><rect x="144.3" y="575.4"/><rect x="184.1" y="550.4"/><rect x="145.8" y="559.2"/><rect x="168.1" y="540.5"/><rect x="125.6" y="535.4"/><rect x="172.6" y="537.9"/><rect x="176.8" y="567.5"/><rect x="166" y="614.3"/><rect x="203.6" y="530.3"/><rect x="160.2" y="567.8"/><rect x="165.6" y="564.1"/><rect x="156.7" y="533.5"/><rect x="189.4" y="542.2"/><rect x="149.1" y="570.8"/><rect x="170.8" y="595.2"/><rect x="166.7" y="580.6"/><rect x="169.3" y="589"/><rect x="166.2" y="541.1"/><rect x="161" y="601.4"/><rect x="162.2" y="566"/><rect x="190.2" y="539.2"/><rect x="157.2" y="578.7"/><rect x="195.2" y="539.2"/><rect x="148.4" y="551.7"/><rect x="173.6" y="606.8"/><rect x="165.1" y="529.4"/><rect x="164" y="596"/><rect x="173.3" y="543.8"/><rect x="163.7" y="557.5"/><rect x="146.3" y="539.1"/><rect x="131.2" y="537.6"/><rect x="178.7" y="595.2"/><rect x="175.2" y="588.8"/><rect x="183.1" y="537.7"/><rect x="161.9" y="546"/><rect x="162.4" y="592.1"/><rect x="165.8" y="556.9"/><rect x="165.1" y="598.6"/><rect x="168.2" y="530.1"/><rect x="160.9" y="557.8"/><rect x="176.3" y="544.7"/><rect x="163" y="567.8"/><rect x="165.1" y="578.3"/><rect x="170.7" y="569.8"/><rect x="164.5" y="608.4"/><rect x="167.1" y="564"/><rect x="167.7" y="602"/><rect x="157.6" y="568.7"/><rect x="171.7" y="550.8"/><rect x="165.3" y="608.3"/><rect x="175.6" y="589"/><rect x="155.4" y="531"/><rect x="183.7" y="532.2"/><rect x="167.8" y="565.5"/><rect x="187.8" y="529.2"/><rect x="163.8" y="541.1"/><rect x="172.9" y="534.1"/><rect x="174.8" y="584"/><rect x="174.6" y="546.3"/><rect x="174.5" y="577.8"/><rect x="132.7" y="553.3"/><rect x="160" y="537.3"/><rect x="162.9" y="552.9"/><rect x="172.8" y="588"/><rect x="142.1" y="569.9"/><rect x="185.7" y="550.8"/><rect x="172.2" y="554.3"/><rect x="177.2" y="534.5"/><rect x="170.8" y="546.5"/><rect x="130.1" y="558"/><rect x="169.6" y="606"/><rect x="176.3" y="538.1"/><rect x="173.5" y="554.5"/><rect x="166.6" y="608.1"/><rect x="152" y="543.8"/><rect x="165.4" y="559"/><rect x="198.4" y="534.6"/><rect x="181.2" y="544.2"/><rect x="168.6" y="606.4"/><rect x="163.4" y="571.3"/><rect x="187.4" y="538.4"/><rect x="167.8" y="547.7"/><rect x="162.2" y="568.3"/><rect x="162.7" y="574"/><rect x="164.2" y="613.8"/><rect x="164.1" y="538.8"/><rect x="169.5" y="557.5"/><rect x="189.3" y="564.2"/><rect x="160.9" y="569.6"/><rect x="181.6" y="545"/><rect x="158.9" y="582.4"/><rect x="180.1" y="554.8"/><rect x="148" y="557.6"/><rect x="165.1" y="596.5"/><rect x="145.2" y="549.3"/><rect x="175.3" y="570.4"/><rect x="168.8" y="559.7"/><rect x="163.3" y="597.3"/><rect x="171.8" y="598.6"/><rect x="147.4" y="585.6"/><rect x="177.1" y="549.7"/><rect x="159.4" y="602.7"/><rect x="167" y="615.1"/><rect x="163.9" y="550.5"/><rect x="165.2" y="612.9"/><rect x="159.7" y="583.2"/><rect x="171.7" y="605.4"/><rect x="166" y="596.3"/><rect x="162.4" y="559.4"/><rect x="160.7" y="577.8"/><rect x="175.2" y="580.4"/><rect x="184.9" y="543.9"/><rect x="156.2" y="552.4"/><rect x="181.4" y="540.1"/><rect x="167.9" y="611.1"/><rect x="173.2" y="546.9"/><rect x="162.5" y="573.5"/><rect x="161.6" y="557.3"/><rect x="165.5" y="574.6"/><rect x="149.3" y="580.6"/><rect x="161" y="605.1"/><rect x="153.6" y="563.8"/><rect x="168" y="593.8"/><rect x="179.4" y="571.1"/><rect x="175.7" y="584.5"/><rect x="166.8" y="538"/><rect x="171.2" y="594.2"/><rect x="183.4" y="549.1"/><rect x="144.4" y="565.8"/><rect x="155.1" y="556"/><rect x="171.4" y="601.6"/><rect x="148.3" y="538"/><rect x="168.9" y="602.6"/><rect x="178.6" y="566"/><rect x="177.3" y="605.6"/><rect x="172.4" y="579.3"/><rect x="170.3" y="566.9"/><rect x="162.8" y="606.3"/><rect x="149.9" y="546.1"/><rect x="160.3" y="580.4"/><rect x="155.9" y="552.1"/><rect x="178.8" y="529.4"/><rect x="189" y="543.7"/><rect x="175.8" y="588.6"/><rect x="171" y="566.2"/><rect x="167.2" y="558.1"/><rect x="151.2" y="543"/><rect x="166.7" y="550.2"/><rect x="175" y="571"/><rect x="181.5" y="539.1"/><rect x="154.9" y="564.7"/><rect x="166.3" y="567.5"/><rect x="163" y="550.5"/><rect x="142.9" y="565.8"/><rect x="162.5" y="602.1"/><rect x="175.5" y="566.1"/><rect x="163.1" y="557.7"/><rect x="167.7" y="586"/><rect x="157.9" y="598.9"/><rect x="162.6" y="598.9"/><rect x="181.2" y="543.7"/><rect x="158.7" y="532.7"/><rect x="164.6" y="570.4"/><rect x="183.9" y="532.6"/><rect x="170.7" y="587"/><rect x="167.4" y="555.4"/><rect x="168.4" y="594.3"/><rect x="144.2" y="565"/><rect x="173.2" y="591.9"/><rect x="169.3" y="555"/><rect x="165" y="567.8"/><rect x="161.9" y="592.3"/><rect x="174.6" y="546.7"/><rect x="172.1" y="587.8"/><rect x="165.6" y="584.5"/><rect x="172.7" y="555.9"/><rect x="170.6" y="581"/><rect x="175" y="554"/><rect x="155.4" y="585.2"/><rect x="179.2" y="561.9"/><rect x="165.7" y="601.5"/><rect x="159.9" y="609.7"/><rect x="179.5" y="532.9"/><rect x="168" y="551.5"/><rect x="173.7" y="591.9"/><rect x="166.7" y="572.1"/><rect x="163.1" y="565.4"/><rect x="156.4" y="591.7"/><rect x="146.8" y="546.1"/><rect x="167.7" y="579.9"/><rect x="165.4" y="584.4"/><rect x="163.5" y="598.1"/><rect x="151.4" y="558.8"/><rect x="170.9" y="607.5"/><rect x="181.2" y="555.2"/><rect x="143.9" y="534.4"/><rect x="172.6" y="572.9"/><rect x="160.5" y="537.7"/><rect x="184.8" y="544.4"/><rect x="161.9" y="577.7"/><rect x="169.7" y="531.4"/><rect x="158.8" y="567"/><rect x="167.5" y="574.5"/><rect x="170.1" y="579.5"/><rect x="175.3" y="579.3"/><rect x="207.6" y="555.7"/><rect x="190.5" y="540.2"/><rect x="164.3" y="613.3"/><rect x="167.6" y="609.4"/><rect x="172.9" y="536.6"/><rect x="165.6" y="582"/><rect x="159.7" y="530.9"/><rect x="193.1" y="543.3"/><rect x="165.7" y="614.3"/><rect x="168.4" y="541.6"/><rect x="165.8" y="605.1"/><rect x="163.5" y="558.5"/><rect x="198.7" y="569.1"/><rect x="144.2" y="541.8"/><rect x="151.5" y="551.3"/><rect x="177" y="573.3"/><rect x="189.5" y="547.9"/><rect x="164.9" y="598.1"/><rect x="138.3" y="562.9"/><rect x="162.2" y="582.1"/><rect x="161.2" y="575.6"/><rect x="150.2" y="567.6"/><rect x="167.1" y="558.9"/><rect x="171.3" y="572.3"/><rect x="164.6" y="564.6"/><rect x="156.3" y="580.9"/><rect x="177" y="531.6"/><rect x="159.8" y="539.3"/><rect x="183.4" y="580.4"/><rect x="173.7" y="564.9"/><rect x="161.4" y="533.6"/><rect x="167.6" y="576.1"/><rect x="168.6" y="551.5"/><rect x="177.9" y="590.4"/><rect x="189.8" y="553.6"/><rect x="167.1" y="592.6"/><rect x="171.3" y="576.5"/><rect x="165.9" y="605.5"/><rect x="175.6" y="530.8"/><rect x="150.7" y="565"/><rect x="152.6" y="570.3"/><rect x="157.8" y="599.2"/><rect x="160.2" y="579"/><rect x="166.2" y="602"/><rect x="193.2" y="555.5"/><rect x="164.5" y="582.5"/><rect x="184.8" y="580.8"/><rect x="164.3" y="559.3"/><rect x="171.1" y="605"/><rect x="179.1" y="578.1"/><rect x="177.9" y="554.2"/><rect x="183.1" y="566"/><rect x="169" y="601.8"/><rect x="172.3" y="575.9"/><rect x="174.4" y="563.8"/><rect x="164.8" y="593.6"/><rect x="166.5" y="564.6"/><rect x="167.6" y="566.6"/><rect x="158.5" y="574.3"/><rect x="162.4" y="605.7"/><rect x="170.2" y="572"/><rect x="170.1" y="539.1"/><rect x="194.5" y="535.4"/><rect x="160" y="558"/><rect x="155.3" y="566.8"/><rect x="164" y="538"/><rect x="176.1" y="570"/><rect x="162.2" y="588.5"/><rect x="161.5" y="556"/><rect x="157.7" y="591.2"/><rect x="164.7" y="604.6"/><rect x="159.5" y="540"/><rect x="164.7" y="570.4"/><rect x="152.2" y="535.4"/><rect x="169.3" y="589.3"/><rect x="166" y="548.3"/><rect x="178.1" y="584.1"/><rect x="158.2" y="548.5"/><rect x="167.4" y="563.3"/><rect x="157.6" y="577.2"/><rect x="177.8" y="554"/><rect x="168.5" y="593.3"/><rect x="166.3" y="595.3"/><rect x="169.4" y="562.5"/><rect x="164.5" y="573.6"/><rect x="130.6" y="559.2"/><rect x="196.5" y="554.5"/><rect x="147.9" y="571.8"/><rect x="148.9" y="538.6"/><rect x="170.5" y="588.1"/><rect x="166.1" y="547.8"/><rect x="176.6" y="571.7"/><rect x="166.3" y="612.4"/><rect x="166.1" y="599.5"/><rect x="166.9" y="536.2"/><rect x="164.7" y="591.2"/><rect x="174.5" y="574.3"/><rect x="167.2" y="580.1"/><rect x="194" y="529.9"/><rect x="170.1" y="592"/><rect x="190.4" y="556.9"/><rect x="168.5" y="534.2"/><rect x="173.4" y="606.9"/><rect x="163.1" y="583.2"/><rect x="174.1" y="568.4"/><rect x="166.4" y="607.5"/><rect x="166.3" y="580.1"/><rect x="167.7" y="606.8"/><rect x="169.8" y="594.5"/><rect x="169.6" y="540.6"/><rect x="185.9" y="573.2"/><rect x="173.3" y="595.7"/><rect x="180.7" y="590.8"/><rect x="172.4" y="571.4"/><rect x="139.3" y="560.6"/><rect x="163.8" y="535.8"/><rect x="140.9" y="543.4"/><rect x="163.9" y="591.5"/><rect x="162.3" y="538.7"/><rect x="166.1" y="581.3"/><rect x="163.9" y="532.4"/><rect x="175.5" y="529.6"/><rect x="156.5" y="573"/><rect x="162.6" y="587.5"/><rect x="176.6" y="582"/><rect x="158.9" y="550.2"/><rect x="167.1" y="557.9"/><rect x="205.8" y="534.6"/><rect x="175.4" y="598.9"/><rect x="169.3" y="597.8"/><rect x="145.2" y="538.4"/><rect x="167.2" y="586.2"/><rect x="165.4" y="562.6"/><rect x="168.5" y="564.2"/><rect x="156.4" y="538"/><rect x="149.5" y="539.8"/><rect x="167" y="608.5"/><rect x="168.2" y="611.7"/><rect x="167.9" y="603.9"/><rect x="150.4" y="554.7"/><rect x="179.6" y="594.6"/><rect x="154.1" y="580.6"/><rect x="162.9" y="593.2"/><rect x="173.6" y="576.8"/><rect x="169.7" y="552.4"/><rect x="135.8" y="557.8"/><rect x="162.2" y="541.8"/><rect x="164.1" y="595.6"/><rect x="171.2" y="589.7"/><rect x="173.6" y="553.5"/><rect x="147.2" y="547.8"/><rect x="172.1" y="555.7"/><rect x="153.2" y="552.4"/><rect x="171.6" y="565.3"/><rect x="176.4" y="560.5"/><rect x="176.9" y="566.9"/><rect x="157.3" y="546.5"/><rect x="205.1" y="549.4"/><rect x="157.5" y="557.3"/><rect x="166.2" y="580.4"/><rect x="162.6" y="583.1"/><rect x="166.4" y="611.9"/><rect x="182.4" y="528.7"/><rect x="166.8" y="575.1"/><rect x="157.8" y="529.5"/><rect x="174.9" y="568.3"/><rect x="182" y="556.8"/><rect x="161.9" y="605.4"/><rect x="173.4" y="535.8"/><rect x="161.9" y="542"/><rect x="189" y="534.9"/><rect x="147.9" y="583.4"/><rect x="171.2" y="556.1"/><rect x="140" y="558.7"/><rect x="157" y="537.1"/><rect x="150.9" y="532.5"/><rect x="186" y="574.5"/><rect x="180.6" y="577.8"/><rect x="188.3" y="543.9"/><rect x="148.8" y="552"/><rect x="156.5" y="581.8"/><rect x="165.5" y="542.8"/><rect x="150.9" y="582.8"/><rect x="169.6" y="601.5"/><rect x="142.8" y="544.4"/><rect x="158.7" y="552.7"/><rect x="175.1" y="589"/><rect x="157" y="579"/><rect x="166.7" y="602.2"/><rect x="168.7" y="584.8"/><rect x="168.2" y="599.1"/><rect x="166.6" y="602.6"/><rect x="171.8" y="591.4"/><rect x="168.7" y="602.2"/><rect x="160.9" y="597.1"/><rect x="159.1" y="552.4"/><rect x="162.5" y="590.2"/><rect x="158.7" y="573"/><rect x="191.5" y="588.2"/><rect x="182.7" y="587.7"/><rect x="166.1" y="614.5"/><rect x="165.2" y="602.6"/><rect x="168.6" y="590.5"/><rect x="175.5" y="580.9"/><rect x="220.5" y="539.2"/><rect x="199.3" y="595.1"/><rect x="107.4" y="530.5"/><rect x="120.4" y="530.5"/></g><g class="b"><rect x="137.3" y="447.3"/><rect x="135" y="437.6"/><rect x="119.7" y="416"/><rect x="153.2" y="511.2"/><rect x="153.6" y="411.8"/><rect x="144.4" y="433.9"/><rect x="135.5" y="521.9"/><rect x="129.7" y="435.6"/><rect x="120.2" y="446.5"/><rect x="151.8" y="471.5"/><rect x="138" y="391.9"/><rect x="143.7" y="527.1"/><rect x="117.6" y="354.2"/><rect x="119.1" y="389.8"/><rect x="134.4" y="506.4"/><rect x="135.7" y="386.5"/><rect x="122.6" y="493.5"/><rect x="147" y="506.6"/><rect x="141.6" y="473.5"/><rect x="147.5" y="509.5"/><rect x="150.8" y="390.8"/><rect x="139.6" y="511.3"/><rect x="137.9" y="461.6"/><rect x="147.6" y="425.8"/><rect x="128" y="483.2"/><rect x="137.8" y="492.5"/><rect x="92.9" y="452.8"/><rect x="131.3" y="485.1"/><rect x="126.3" y="421.9"/><rect x="134.5" y="515"/><rect x="145.3" y="418.8"/><rect x="152.8" y="524.3"/><rect x="150.4" y="496.1"/><rect x="132.9" y="463.3"/><rect x="123" y="405.2"/><rect x="133.4" y="524"/><rect x="138" y="523.4"/><rect x="122" y="470.9"/><rect x="126.2" y="397.1"/><rect x="126.9" y="465.1"/><rect x="134.4" y="453.6"/><rect x="129.8" y="416.9"/><rect x="133.7" y="513"/><rect x="130.7" y="398.7"/><rect x="112.6" y="449.4"/><rect x="148.6" y="521.9"/><rect x="118.4" y="403.9"/><rect x="134.6" y="482"/><rect x="136.2" y="491.4"/><rect x="130.9" y="449.2"/><rect x="130.1" y="492.2"/><rect x="141.5" y="371.8"/><rect x="133.1" y="503.2"/><rect x="146.7" y="401.7"/><rect x="139" y="447.7"/><rect x="121.5" y="416.8"/><rect x="127.8" y="353.9"/><rect x="132.2" y="373.1"/><rect x="129" y="472.6"/><rect x="145.1" y="446.9"/><rect x="142.5" y="502.3"/><rect x="117.2" y="416"/><rect x="146.3" y="406.4"/><rect x="149.9" y="525.3"/><rect x="138.5" y="479.1"/><rect x="123.4" y="418.7"/><rect x="127.9" y="367.2"/><rect x="131.9" y="504.3"/><rect x="128.4" y="460.7"/><rect x="146.3" y="360.5"/><rect x="125.7" y="399.8"/><rect x="128.1" y="489.5"/><rect x="121" y="432.4"/><rect x="118.3" y="376.2"/><rect x="153" y="430.1"/><rect x="146.5" y="384.4"/><rect x="128.2" y="468.1"/><rect x="128.8" y="436"/><rect x="150.8" y="360.3"/><rect x="134.1" y="488.1"/><rect x="131.5" y="414.4"/><rect x="127.2" y="472.2"/><rect x="139.6" y="490.4"/><rect x="134.4" y="426.1"/><rect x="133.5" y="420.4"/><rect x="137.2" y="456.5"/><rect x="137" y="405.2"/><rect x="125.6" y="479.7"/><rect x="131.9" y="443.1"/><rect x="153.4" y="363.9"/><rect x="145" y="492.9"/><rect x="115.5" y="464.5"/><rect x="148.8" y="505.5"/><rect x="138.1" y="433.6"/><rect x="130.6" y="433.8"/><rect x="129.5" y="414.5"/><rect x="123.4" y="376"/><rect x="121.3" y="367.9"/><rect x="150.1" y="488.7"/><rect x="151.1" y="484.9"/><rect x="148.6" y="380.3"/><rect x="125.9" y="456.1"/><rect x="149" y="406.8"/><rect x="129.1" y="437.9"/><rect x="133.2" y="493.8"/><rect x="148" y="429.8"/><rect x="128.7" y="494.6"/><rect x="94.6" y="363.6"/><rect x="137.1" y="445.6"/><rect x="153.8" y="436.2"/><rect x="135.4" y="403.5"/><rect x="146.8" y="396.7"/><rect x="125.1" y="436.7"/><rect x="137.3" y="402.8"/><rect x="123.3" y="421.4"/><rect x="131.9" y="481.6"/><rect x="119.9" y="383.4"/><rect x="137.3" y="404.6"/><rect x="134.9" y="399.7"/><rect x="140.4" y="525.3"/><rect x="144.2" y="486.2"/><rect x="137.9" y="410.7"/><rect x="153.2" y="403.4"/><rect x="137.6" y="418.6"/><rect x="151.7" y="518.3"/><rect x="139.3" y="482.9"/><rect x="124.2" y="384.3"/><rect x="143.1" y="519.2"/><rect x="152.5" y="497.3"/><rect x="133.1" y="360.4"/><rect x="135.7" y="462.7"/><rect x="153.9" y="477.1"/><rect x="132.9" y="483.9"/><rect x="152.3" y="458.4"/><rect x="142.6" y="514.2"/><rect x="123.4" y="355.4"/><rect x="122.1" y="399.6"/><rect x="135.7" y="420.7"/><rect x="150.4" y="491.2"/><rect x="144.3" y="449"/><rect x="133.3" y="424.4"/><rect x="99.8" y="397.6"/><rect x="142.5" y="388.8"/><rect x="128.8" y="406.3"/><rect x="116.4" y="394.2"/><rect x="144.2" y="520.2"/><rect x="150.9" y="417.2"/><rect x="139" y="511.9"/><rect x="142.3" y="461.3"/><rect x="122.1" y="395.7"/><rect x="144.8" y="384.4"/><rect x="140.9" y="452.3"/><rect x="131.9" y="411.8"/><rect x="105.6" y="451.7"/><rect x="142.3" y="513.3"/><rect x="150.7" y="406.2"/><rect x="129.1" y="489.5"/><rect x="147.8" y="399.2"/><rect x="149.9" y="464"/><rect x="117.8" y="402"/><rect x="142.4" y="366"/><rect x="127.2" y="471.1"/><rect x="143.3" y="483.4"/><rect x="135" y="457.4"/><rect x="131.3" y="386.5"/><rect x="146.3" y="496"/><rect x="141.3" y="523.3"/><rect x="123.1" y="385.2"/><rect x="133.2" y="512.4"/><rect x="121.2" y="512.2"/><rect x="124" y="412.6"/><rect x="140.9" y="435.1"/><rect x="128.6" y="440.1"/><rect x="130" y="365.7"/><rect x="137.9" y="434.7"/><rect x="121.4" y="453"/><rect x="139.7" y="460.9"/><rect x="127.1" y="475.6"/><rect x="149.4" y="506.9"/><rect x="133.5" y="516.2"/><rect x="148.9" y="520.8"/><rect x="147.3" y="485.6"/><rect x="134.2" y="494.5"/><rect x="139" y="472.2"/><rect x="143.7" y="481.2"/><rect x="145.1" y="430.6"/><rect x="144.9" y="518.4"/><rect x="118.6" y="434.1"/><rect x="116.6" y="411.1"/><rect x="134.2" y="461.6"/><rect x="147" y="499.4"/><rect x="117.7" y="373.8"/><rect x="131.9" y="480.2"/><rect x="136.6" y="526.9"/><rect x="151.6" y="512.6"/><rect x="132.8" y="442.5"/><rect x="137.4" y="375.9"/><rect x="145.9" y="365.4"/><rect x="123.5" y="431.3"/><rect x="126.7" y="472.2"/><rect x="129.8" y="444.7"/><rect x="131.2" y="508.5"/><rect x="118.6" y="380.7"/><rect x="135.3" y="401.9"/><rect x="149.3" y="525.3"/><rect x="132.5" y="418.5"/><rect x="134" y="474.6"/><rect x="144.1" y="481.9"/><rect x="150" y="399.4"/><rect x="136.3" y="502.3"/><rect x="138.4" y="495.4"/><rect x="150.9" y="511.3"/><rect x="139.2" y="455.4"/><rect x="124.5" y="436.9"/><rect x="153.8" y="459.1"/><rect x="128" y="456.5"/><rect x="119.2" y="410.7"/><rect x="124.7" y="466.8"/><rect x="131.6" y="437.3"/><rect x="139.8" y="499.2"/><rect x="116.3" y="465"/><rect x="117.6" y="400.9"/><rect x="120.6" y="416.5"/><rect x="119.5" y="425.4"/><rect x="90.8" y="463.4"/><rect x="139.8" y="503.3"/><rect x="117.7" y="428.3"/><rect x="105" y="382.9"/><rect x="136.8" y="476.3"/><rect x="150.7" y="380.6"/><rect x="133.5" y="521.5"/><rect x="125" y="411"/><rect x="153.7" y="459.8"/><rect x="128.1" y="492"/><rect x="143.3" y="426.7"/><rect x="152.6" y="426.9"/><rect x="130" y="408.8"/><rect x="129.6" y="444.3"/><rect x="115.8" y="393.4"/><rect x="124.3" y="455"/><rect x="121.5" y="434.4"/><rect x="127" y="470.6"/><rect x="141.2" y="398"/><rect x="118" y="422.5"/><rect x="113.5" y="438.5"/><rect x="138.8" y="434.3"/><rect x="127.7" y="485.6"/><rect x="122.5" y="409.7"/><rect x="129.7" y="488"/><rect x="127.3" y="509.8"/><rect x="143.1" y="359.4"/><rect x="129.2" y="469.9"/><rect x="152.5" y="457.1"/><rect x="142.7" y="521.7"/><rect x="122.1" y="443.8"/><rect x="140.4" y="368.9"/><rect x="119.8" y="443.8"/><rect x="130.8" y="491.5"/><rect x="146.6" y="518.4"/><rect x="117.8" y="401.3"/><rect x="142.7" y="448.6"/><rect x="143.9" y="401.8"/><rect x="127.7" y="409.9"/><rect x="135.5" y="486.8"/><rect x="88.6" y="478.3"/><rect x="152.4" y="449.5"/><rect x="123.3" y="421.3"/><rect x="147.9" y="511.8"/><rect x="128.2" y="477.9"/><rect x="129" y="352.9"/><rect x="147.6" y="459.3"/><rect x="129.2" y="429.1"/><rect x="121.1" y="389"/><rect x="146.5" y="406.4"/><rect x="143.9" y="389.6"/><rect x="127" y="449.5"/><rect x="137.6" y="485.5"/><rect x="128.3" y="439.1"/><rect x="147.7" y="426.1"/><rect x="144.1" y="524"/><rect x="106.5" y="480.8"/><rect x="144.3" y="426.8"/><rect x="130.5" y="501.4"/><rect x="130.6" y="417.6"/><rect x="147.6" y="511.6"/><rect x="134.1" y="499"/><rect x="148.7" y="516.4"/><rect x="128.6" y="355.9"/><rect x="129.2" y="353.1"/><rect x="150.7" y="520.3"/><rect x="151.3" y="457.8"/><rect x="137.7" y="521.1"/><rect x="146.9" y="486.6"/><rect x="141.5" y="445.7"/><rect x="152.8" y="520.2"/><rect x="135.2" y="466.6"/><rect x="123.3" y="370.8"/><rect x="142.1" y="459.9"/><rect x="148.3" y="494.8"/><rect x="141.5" y="489.3"/><rect x="151" y="374.9"/><rect x="153.4" y="405.2"/><rect x="130.4" y="495.1"/><rect x="147.3" y="401"/><rect x="128.8" y="361.9"/><rect x="139.5" y="367.1"/><rect x="136" y="512.5"/><rect x="144.6" y="435.5"/><rect x="153.5" y="520"/><rect x="149.5" y="472.1"/><rect x="127.5" y="402.5"/><rect x="136" y="501.2"/><rect x="145.9" y="455.7"/><rect x="152.9" y="475.6"/><rect x="136.3" y="522.9"/><rect x="123.9" y="355"/><rect x="128.6" y="489"/><rect x="150.3" y="373.9"/><rect x="122.5" y="451.7"/><rect x="148.7" y="469.3"/><rect x="131.8" y="456.2"/><rect x="141.7" y="484.9"/><rect x="139.8" y="500.6"/><rect x="138.9" y="403.6"/><rect x="128.9" y="516.1"/><rect x="143.6" y="423.8"/><rect x="141.4" y="523"/><rect x="140.1" y="481"/><rect x="131.1" y="418.6"/><rect x="137" y="416.5"/><rect x="142.4" y="478.4"/><rect x="118.6" y="366.7"/><rect x="149.1" y="472.7"/><rect x="147.4" y="493.2"/><rect x="148.6" y="527"/><rect x="131.4" y="440.1"/><rect x="140.7" y="428.2"/><rect x="131.5" y="466"/><rect x="121.8" y="404.5"/><rect x="139.4" y="499"/><rect x="136.4" y="462"/><rect x="148.7" y="485.4"/><rect x="125.1" y="436.5"/><rect x="129" y="509.1"/><rect x="120.4" y="390.9"/><rect x="134.4" y="373.7"/><rect x="143.3" y="386.6"/><rect x="124.2" y="400.9"/><rect x="130.2" y="427"/><rect x="148" y="505.1"/><rect x="129.9" y="494.6"/><rect x="139.4" y="355.9"/><rect x="116.1" y="415.7"/><rect x="136" y="518.6"/><rect x="150.2" y="476.7"/><rect x="138.6" y="468.9"/><rect x="127.3" y="461.3"/><rect x="131.6" y="477.1"/><rect x="135.4" y="354.1"/><rect x="149.3" y="386"/><rect x="149.4" y="362.4"/><rect x="149.2" y="470.1"/><rect x="134.5" y="416.8"/><rect x="128.5" y="462.6"/><rect x="123.5" y="369.6"/><rect x="123.6" y="441.9"/><rect x="139.3" y="441.7"/><rect x="139.6" y="517"/><rect x="125.8" y="478.3"/><rect x="147.4" y="449"/><rect x="136" y="522.5"/><rect x="137.2" y="463.8"/><rect x="154.1" y="525.3"/><rect x="127.1" y="434.1"/><rect x="128.7" y="456.7"/><rect x="140" y="353.2"/><rect x="153.2" y="402.7"/><rect x="139.2" y="425.4"/><rect x="128.6" y="411.2"/><rect x="143.2" y="464.7"/><rect x="148.7" y="510.6"/><rect x="146.3" y="396"/><rect x="143.3" y="508.5"/><rect x="146.7" y="525.5"/><rect x="122" y="432.4"/><rect x="88.6" y="470.6"/><rect x="139.5" y="451.3"/><rect x="127.1" y="402.6"/><rect x="141.1" y="359.9"/><rect x="140.8" y="352.6"/><rect x="119.6" y="413.6"/><rect x="106.7" y="438.1"/><rect x="136.7" y="405.4"/><rect x="135" y="459.3"/><rect x="137.1" y="436.3"/><rect x="147.6" y="422.5"/><rect x="142.3" y="444.5"/><rect x="88.6" y="456.2"/><rect x="130.6" y="440.5"/><rect x="151.2" y="386.4"/><rect x="138.5" y="482.9"/><rect x="129.5" y="374.4"/><rect x="142.3" y="514.2"/><rect x="132.5" y="484.5"/><rect x="147.8" y="430.2"/><rect x="124.7" y="462.6"/><rect x="133.5" y="506.5"/><rect x="88.6" y="418.3"/><rect x="134.5" y="490.7"/><rect x="153.9" y="492.4"/><rect x="144.8" y="467.3"/><rect x="148.5" y="420.8"/><rect x="122.1" y="404.7"/><rect x="132" y="464.1"/><rect x="137.2" y="397.2"/><rect x="133.6" y="501.4"/><rect x="123.2" y="455"/><rect x="135.5" y="466.1"/><rect x="129.2" y="476.9"/><rect x="138" y="407.8"/><rect x="151.2" y="396"/><rect x="122.5" y="453.2"/><rect x="146.2" y="475.5"/><rect x="145" y="454.6"/><rect x="125.7" y="452.9"/><rect x="100.2" y="422.9"/><rect x="136.9" y="511.6"/><rect x="117.4" y="409.1"/><rect x="145.7" y="523.1"/><rect x="132.5" y="445.1"/><rect x="132.1" y="352"/><rect x="116.8" y="403.5"/><rect x="122" y="456.4"/><rect x="127.8" y="490.2"/><rect x="128.2" y="396.3"/><rect x="122.5" y="417.2"/><rect x="116.7" y="398.2"/><rect x="134.8" y="524.4"/><rect x="142" y="522.9"/><rect x="141.4" y="507.6"/><rect x="133.9" y="505.2"/><rect x="144.3" y="436.8"/><rect x="138.3" y="454.1"/><rect x="149.7" y="428.7"/><rect x="133.4" y="377.2"/><rect x="122.6" y="455.5"/><rect x="126.8" y="454.2"/><rect x="132.5" y="397.6"/><rect x="133.1" y="522.2"/><rect x="117.7" y="413.7"/><rect x="109.2" y="513.4"/><rect x="127.1" y="469.2"/><rect x="142.5" y="438.8"/><rect x="136.4" y="396.7"/><rect x="137.5" y="443"/><rect x="128.5" y="518.4"/><rect x="149.9" y="430.6"/><rect x="146" y="461.5"/><rect x="117.9" y="394.9"/><rect x="122.4" y="356.6"/><rect x="143.8" y="462.7"/><rect x="134.1" y="419.7"/><rect x="124.7" y="436.1"/><rect x="141.5" y="482.7"/><rect x="128.1" y="375.4"/><rect x="145.9" y="512.1"/><rect x="134.3" y="471.2"/><rect x="125.9" y="517.2"/><rect x="153.3" y="429.7"/><rect x="137.4" y="424.9"/><rect x="150.7" y="407.2"/><rect x="138.3" y="389.3"/><rect x="123.1" y="448.2"/><rect x="104.4" y="397.5"/><rect x="122.1" y="409.6"/><rect x="126.7" y="472.5"/><rect x="131.6" y="489.9"/><rect x="153.4" y="505.4"/><rect x="123" y="451"/><rect x="126.3" y="440.1"/><rect x="139.7" y="508.6"/><rect x="144.2" y="491.5"/><rect x="131.6" y="422.8"/><rect x="134.8" y="378.5"/><rect x="145.6" y="354.1"/><rect x="146.2" y="481.1"/><rect x="137.5" y="515.9"/><rect x="121.5" y="450.8"/><rect x="145" y="366.6"/><rect x="121" y="394.3"/><rect x="141.5" y="521"/><rect x="130.4" y="468.4"/><rect x="144.6" y="385"/><rect x="150.6" y="492"/><rect x="118.3" y="392.2"/><rect x="125.6" y="405.5"/><rect x="145.6" y="475.9"/><rect x="146.4" y="483.2"/><rect x="124" y="475.5"/><rect x="138.8" y="479.1"/><rect x="122.5" y="373"/><rect x="132.7" y="419.6"/><rect x="143" y="410.7"/><rect x="136.2" y="517.6"/><rect x="133.8" y="486"/><rect x="141.3" y="360.6"/><rect x="102.6" y="486.2"/><rect x="149.5" y="411.2"/><rect x="141.6" y="427.4"/><rect x="151.2" y="373.3"/><rect x="138.8" y="522"/><rect x="146.6" y="435.2"/><rect x="146.1" y="434.2"/><rect x="150.6" y="402.8"/><rect x="133.6" y="441.2"/><rect x="136.5" y="503.4"/><rect x="138.9" y="523.6"/><rect x="150.3" y="419"/><rect x="124.5" y="435.5"/><rect x="138.8" y="522.9"/><rect x="124.8" y="435.5"/><rect x="133.6" y="527.1"/><rect x="139.7" y="380.1"/><rect x="141.1" y="524.5"/><rect x="136.7" y="434.3"/><rect x="149.5" y="485.8"/><rect x="144.1" y="482.5"/><rect x="139.1" y="485.1"/><rect x="146.9" y="482.2"/><rect x="133.7" y="474"/><rect x="108.1" y="387.7"/><rect x="126.9" y="484"/><rect x="123" y="461.8"/><rect x="128.6" y="458.9"/><rect x="144.5" y="467.5"/><rect x="122.9" y="422.5"/><rect x="152.7" y="524.7"/><rect x="123.1" y="365.8"/><rect x="116.5" y="466.8"/><rect x="115.2" y="360.3"/><rect x="149.5" y="359.7"/><rect x="129.3" y="479"/><rect x="147.8" y="465.9"/><rect x="139.8" y="505.5"/><rect x="150.4" y="392.7"/><rect x="133.2" y="487.8"/><rect x="141.6" y="364.1"/><rect x="118.2" y="426.9"/><rect x="137.2" y="446"/><rect x="153.6" y="493.5"/><rect x="121.5" y="392.6"/><rect x="153.8" y="496.6"/><rect x="136" y="488.4"/><rect x="122.9" y="445.1"/><rect x="145.4" y="519.9"/><rect x="140.7" y="443.7"/><rect x="142.2" y="453.6"/><rect x="123.9" y="365.9"/><rect x="118.5" y="371.5"/><rect x="146.6" y="476.2"/><rect x="142.4" y="424.2"/><rect x="140.4" y="510.1"/><rect x="139.7" y="439.4"/><rect x="141.5" y="526.9"/><rect x="116.2" y="415.7"/><rect x="143.4" y="442.2"/><rect x="145.3" y="449"/><rect x="141.4" y="482.2"/><rect x="135.4" y="429.2"/><rect x="143.3" y="475.9"/><rect x="132.8" y="492.5"/><rect x="122.4" y="406.3"/><rect x="141.2" y="385.8"/><rect x="124.6" y="484.1"/><rect x="126" y="466.6"/><rect x="93.4" y="515.8"/><rect x="127.9" y="373.4"/><rect x="151.5" y="417.3"/><rect x="134.8" y="426.7"/><rect x="126.8" y="459.3"/><rect x="123.6" y="386.8"/><rect x="142.4" y="404.6"/><rect x="129.8" y="494.1"/><rect x="144.5" y="468.8"/><rect x="138.4" y="468.4"/><rect x="143.2" y="520.9"/><rect x="130.7" y="395.8"/><rect x="131.7" y="484.6"/><rect x="133.5" y="464.5"/><rect x="137.6" y="454.1"/><rect x="130.6" y="357.9"/><rect x="117.8" y="392.6"/><rect x="118.9" y="367.9"/><rect x="151.8" y="434.1"/><rect x="135.8" y="500.7"/><rect x="128.2" y="398.9"/><rect x="149.3" y="402.6"/><rect x="151.9" y="443.4"/><rect x="143.5" y="514.6"/><rect x="135.7" y="504.6"/><rect x="129.4" y="348.7"/><rect x="114" y="348.7"/><rect x="112" y="348.7"/><rect x="116.1" y="348.7"/><rect x="151.6" y="348.7"/><rect x="110.2" y="348.7"/><rect x="146.5" y="348.7"/><rect x="151.1" y="348.7"/><rect x="124.9" y="348.7"/><rect x="153.5" y="348.7"/><rect x="150" y="348.7"/><rect x="130.1" y="348.7"/><rect x="125.3" y="348.7"/><rect x="147.9" y="348.7"/><rect x="95" y="348.7"/><rect x="101.3" y="348.7"/><rect x="124.1" y="348.7"/><rect x="117.8" y="348.7"/><rect x="134.8" y="348.7"/><rect x="93.1" y="348.7"/><rect x="147" y="348.7"/><rect x="135.5" y="348.7"/><rect x="140.7" y="348.7"/><rect x="100.5" y="348.7"/><rect x="122.8" y="348.7"/><rect x="128.9" y="348.7"/><rect x="129.6" y="348.7"/><rect x="99.1" y="348.7"/><rect x="138.4" y="348.7"/><rect x="105.1" y="348.7"/><rect x="110.3" y="348.7"/><rect x="126.5" y="348.7"/><rect x="131.7" y="348.7"/><rect x="127.2" y="348.7"/><rect x="126.2" y="348.7"/><rect x="134.8" y="348.7"/><rect x="115.6" y="348.7"/><rect x="128.9" y="348.7"/><rect x="135.6" y="348.7"/><rect x="106.3" y="348.7"/><rect x="126.1" y="348.7"/><rect x="125" y="348.7"/><rect x="99.6" y="348.7"/><rect x="126.1" y="348.7"/><rect x="131" y="348.7"/><rect x="98.5" y="348.7"/><rect x="93.6" y="348.7"/><rect x="105.5" y="348.7"/><rect x="129.5" y="348.7"/><rect x="112.6" y="348.7"/><rect x="108.3" y="348.7"/><rect x="136" y="348.7"/><rect x="109.3" y="348.7"/><rect x="95.2" y="348.7"/><rect x="113.6" y="348.7"/><rect x="52" y="432"/><rect x="61.5" y="435.3"/><rect x="76.8" y="418.6"/><rect x="88.6" y="395.3"/><rect x="78" y="348.7"/><rect x="83.8" y="348.7"/></g><g class="r"><rect x="183.9" y="409.2"/><rect x="184.8" y="391.2"/><rect x="193.9" y="401.6"/><rect x="189" y="481.4"/><rect x="178.9" y="351.8"/><rect x="188.5" y="424.3"/><rect x="196.6" y="423"/><rect x="192.5" y="425"/><rect x="215.7" y="431.1"/><rect x="186" y="469.9"/><rect x="183" y="427.1"/><rect x="185.8" y="416.8"/><rect x="201.9" y="384.9"/><rect x="193.6" y="445.9"/><rect x="179.2" y="358.9"/><rect x="199.3" y="474.2"/><rect x="192.7" y="460.1"/><rect x="182.3" y="522.9"/><rect x="185.3" y="472.3"/><rect x="216.3" y="495.8"/><rect x="191.8" y="396.8"/><rect x="183.9" y="522.2"/><rect x="196.3" y="403"/><rect x="189.9" y="488.6"/><rect x="193.7" y="383.8"/><rect x="182.6" y="487.8"/><rect x="183.2" y="357"/><rect x="193.9" y="407.7"/><rect x="184.6" y="489.1"/><rect x="179.7" y="462.9"/><rect x="190.1" y="404.4"/><rect x="202.6" y="424.3"/><rect x="189.6" y="375"/><rect x="192.5" y="404.2"/><rect x="184.9" y="404.4"/><rect x="185.1" y="428.1"/><rect x="202.6" y="475.6"/><rect x="219.4" y="422.7"/><rect x="201.1" y="444.4"/><rect x="191.2" y="394.1"/><rect x="191.7" y="438.9"/><rect x="198.8" y="444.5"/><rect x="192.8" y="369.7"/><rect x="185.8" y="521.6"/><rect x="195.5" y="493.4"/><rect x="187.2" y="405.1"/><rect x="200.8" y="429.6"/><rect x="192.6" y="379.7"/><rect x="199.7" y="431.3"/><rect x="242.9" y="436"/><rect x="193.9" y="524.8"/><rect x="189.5" y="507.7"/><rect x="181.8" y="392.6"/><rect x="184.6" y="445.3"/><rect x="193.9" y="448.3"/><rect x="194.2" y="415.7"/><rect x="187.3" y="489.4"/><rect x="198.1" y="509.3"/><rect x="194.2" y="399.4"/><rect x="178.8" y="386.4"/><rect x="186.9" y="498.3"/><rect x="194.7" y="481.4"/><rect x="206.9" y="418.6"/><rect x="197" y="459.6"/><rect x="184.9" y="494.5"/><rect x="180.2" y="478"/><rect x="199.2" y="494.3"/><rect x="191.7" y="403.6"/><rect x="180.1" y="459.6"/><rect x="179.8" y="440.4"/><rect x="186.8" y="522.3"/><rect x="183.3" y="501"/><rect x="193.2" y="438.9"/><rect x="180.6" y="485"/><rect x="185.1" y="374.6"/><rect x="189.5" y="378.2"/><rect x="181.6" y="399.7"/><rect x="222.3" y="498.5"/><rect x="220.6" y="459.9"/><rect x="198.7" y="421"/><rect x="200.8" y="476.6"/><rect x="205.7" y="414.2"/><rect x="192" y="460.9"/><rect x="209.8" y="458.7"/><rect x="223.5" y="493.1"/><rect x="200.9" y="423.5"/><rect x="188.1" y="503.9"/><rect x="198.3" y="402.4"/><rect x="196.3" y="475.5"/><rect x="188.6" y="364"/><rect x="191.7" y="392.1"/><rect x="191.5" y="374.4"/><rect x="180.7" y="379.1"/><rect x="216.5" y="455.9"/><rect x="186.7" y="516.2"/><rect x="198.9" y="420.1"/><rect x="185.7" y="353"/><rect x="192.6" y="493.7"/><rect x="198.4" y="467.3"/><rect x="195" y="469.3"/><rect x="190.5" y="515.7"/><rect x="187.1" y="399.7"/><rect x="197.4" y="471.1"/><rect x="216.6" y="445.5"/><rect x="180.2" y="356.6"/><rect x="196" y="521"/><rect x="180" y="426.2"/><rect x="198.3" y="509.8"/><rect x="186.9" y="406.5"/><rect x="200.5" y="507.3"/><rect x="206" y="521.9"/><rect x="187.4" y="504.6"/><rect x="199.8" y="505.9"/><rect x="195.4" y="429.4"/><rect x="185.1" y="355.1"/><rect x="185.8" y="444.5"/><rect x="179.9" y="421"/><rect x="202.2" y="504"/><rect x="187.1" y="387.3"/><rect x="186.5" y="385.3"/><rect x="203.7" y="456.9"/><rect x="210.5" y="519"/><rect x="193.5" y="500.6"/><rect x="185.4" y="392.4"/><rect x="214.3" y="370.4"/><rect x="224.5" y="442"/><rect x="182.7" y="395"/><rect x="231.1" y="448.5"/><rect x="181.5" y="468"/><rect x="199.7" y="520.6"/><rect x="202.3" y="387.6"/><rect x="184.3" y="444.2"/><rect x="200.2" y="413.7"/><rect x="199.8" y="418.1"/><rect x="180.9" y="386.9"/><rect x="185.1" y="430.8"/><rect x="213.8" y="429.8"/><rect x="191.1" y="393.2"/><rect x="194.8" y="398.8"/><rect x="194.6" y="497.3"/><rect x="241.7" y="462.8"/><rect x="193.1" y="420.3"/><rect x="199.2" y="419"/><rect x="182.5" y="356"/><rect x="188.1" y="454.7"/><rect x="196" y="465.1"/><rect x="182.3" y="378.3"/><rect x="201.5" y="471.5"/><rect x="200" y="473.8"/><rect x="200.2" y="414.6"/><rect x="185.2" y="393.2"/><rect x="189.9" y="443.6"/><rect x="210.1" y="478.1"/><rect x="180.5" y="385.5"/><rect x="178.6" y="513.5"/><rect x="179.3" y="447.2"/><rect x="188.4" y="452.9"/><rect x="180.9" y="425.8"/><rect x="203.9" y="428.8"/><rect x="200.2" y="499.6"/><rect x="194.1" y="413.2"/><rect x="191.5" y="499.3"/><rect x="194.3" y="401.3"/><rect x="190.8" y="381.5"/><rect x="189.7" y="498.9"/><rect x="198.6" y="445.1"/><rect x="178.1" y="468.7"/><rect x="180.3" y="430.5"/><rect x="195.4" y="480"/><rect x="190.9" y="454.3"/><rect x="199.8" y="481.8"/><rect x="178.2" y="492.3"/><rect x="203.1" y="460.2"/><rect x="201.2" y="495.8"/><rect x="200.9" y="490.4"/><rect x="185.2" y="443.6"/><rect x="189" y="412.8"/><rect x="190.8" y="446.6"/><rect x="190.9" y="406.2"/><rect x="187.8" y="501.6"/><rect x="200.6" y="521.5"/><rect x="184.1" y="379.4"/><rect x="199.6" y="472.3"/><rect x="198.7" y="459.8"/><rect x="192.5" y="392.1"/><rect x="197.1" y="512.5"/><rect x="185.6" y="397.1"/><rect x="199.3" y="443.9"/><rect x="198.2" y="497"/><rect x="198.8" y="505.8"/><rect x="197" y="407"/><rect x="186.4" y="437.2"/><rect x="199.6" y="453.3"/><rect x="187.2" y="514.6"/><rect x="204.2" y="487"/><rect x="186.2" y="430.8"/><rect x="190.6" y="524.2"/><rect x="202.7" y="460.5"/><rect x="205.9" y="474.6"/><rect x="189.5" y="523.7"/><rect x="216.1" y="434.4"/><rect x="197" y="429"/><rect x="200.9" y="438.4"/><rect x="189.2" y="399.1"/><rect x="199.2" y="425"/><rect x="193.1" y="518"/><rect x="183.3" y="366.9"/><rect x="180.1" y="359.8"/><rect x="184.4" y="394.1"/><rect x="188.2" y="371.3"/><rect x="197" y="478.6"/><rect x="179.2" y="516.5"/><rect x="224" y="442.6"/><rect x="181.8" y="362.2"/><rect x="187.9" y="408.5"/><rect x="202.3" y="443.7"/><rect x="185.6" y="380.9"/><rect x="201.1" y="413.7"/><rect x="201" y="472.1"/><rect x="196.7" y="398.2"/><rect x="185.6" y="484.4"/><rect x="196" y="509.1"/><rect x="192" y="443.8"/><rect x="187.2" y="479.3"/><rect x="183.8" y="414.4"/><rect x="201.2" y="487.2"/><rect x="205.9" y="382.3"/><rect x="190.6" y="519.5"/><rect x="196.7" y="448.3"/><rect x="225.6" y="462.3"/><rect x="182.8" y="399.5"/><rect x="181.6" y="447.6"/><rect x="184.3" y="526.5"/><rect x="200.9" y="488.1"/><rect x="192" y="407.8"/><rect x="185.4" y="398"/><rect x="210.7" y="514.6"/><rect x="197.9" y="420.2"/><rect x="197.8" y="352.5"/><rect x="187.5" y="414.5"/><rect x="201.4" y="526.4"/><rect x="201.9" y="422.5"/><rect x="178.5" y="445.6"/><rect x="189" y="469.7"/><rect x="202.4" y="478.7"/><rect x="189.9" y="457.5"/><rect x="181.8" y="385.6"/><rect x="202.2" y="433.5"/><rect x="185.4" y="369.1"/><rect x="203.1" y="480.2"/><rect x="196.3" y="477"/><rect x="179.9" y="422.2"/><rect x="202.1" y="504.2"/><rect x="189.5" y="390.4"/><rect x="191.1" y="420.5"/><rect x="180.4" y="479.8"/><rect x="185.6" y="409.1"/><rect x="199.9" y="420"/><rect x="179.5" y="364.6"/><rect x="232.4" y="424.5"/><rect x="178.1" y="504.8"/><rect x="191.9" y="387.2"/><rect x="212.5" y="439.6"/><rect x="194.9" y="520.3"/><rect x="187" y="506.6"/><rect x="187.9" y="391"/><rect x="187.8" y="478.5"/><rect x="178.1" y="391.1"/><rect x="208.4" y="516.2"/><rect x="184.5" y="417.4"/><rect x="205.9" y="488.2"/><rect x="187.2" y="453.1"/><rect x="190.6" y="381.2"/><rect x="211.4" y="419.6"/><rect x="196.7" y="486.2"/><rect x="201.1" y="484"/><rect x="180.2" y="518.1"/><rect x="187.9" y="475.1"/><rect x="189.4" y="512.7"/><rect x="206.1" y="418.5"/><rect x="185.2" y="517.3"/><rect x="190.5" y="382"/><rect x="195.5" y="526.6"/><rect x="186" y="487.7"/><rect x="189.3" y="429.5"/><rect x="198.7" y="518.4"/><rect x="180.8" y="371.7"/><rect x="178.2" y="399.1"/><rect x="193.5" y="504.9"/><rect x="182.3" y="443.1"/><rect x="198" y="503.6"/><rect x="180.7" y="381.3"/><rect x="196" y="440.5"/><rect x="191.6" y="384.5"/><rect x="214.9" y="489.1"/><rect x="190.1" y="443.6"/><rect x="179.1" y="364.2"/><rect x="181.9" y="407.8"/><rect x="180.6" y="426.7"/><rect x="200.4" y="453.5"/><rect x="217" y="446.5"/><rect x="204.8" y="426.6"/><rect x="203.7" y="516.1"/><rect x="199.5" y="503"/><rect x="199.1" y="429.5"/><rect x="179.7" y="424"/><rect x="201.5" y="491.9"/><rect x="207" y="422.9"/><rect x="184.3" y="455"/><rect x="199" y="524.4"/><rect x="185" y="500"/><rect x="185.6" y="418.7"/><rect x="185.1" y="420.1"/><rect x="186.2" y="369.8"/><rect x="181.6" y="481.8"/><rect x="181.1" y="520.2"/><rect x="183.5" y="390.1"/><rect x="199.7" y="463.1"/><rect x="192.7" y="424.4"/><rect x="196.6" y="483.6"/><rect x="189.8" y="487.5"/><rect x="187.4" y="377.8"/><rect x="192.5" y="429.6"/><rect x="200.4" y="485.5"/><rect x="184.4" y="360.1"/><rect x="180.9" y="447.1"/><rect x="183.7" y="487"/><rect x="209.4" y="513.1"/><rect x="193.5" y="421.3"/><rect x="184.4" y="475"/><rect x="190.5" y="397.8"/><rect x="188.2" y="430.3"/><rect x="183.7" y="450.9"/><rect x="188.8" y="439.7"/><rect x="195.9" y="511.8"/><rect x="196.3" y="418.5"/><rect x="194.7" y="420.6"/><rect x="195.9" y="428.4"/><rect x="183.2" y="451.7"/><rect x="224" y="436.9"/><rect x="206.3" y="495.9"/><rect x="178.2" y="351.3"/><rect x="183.2" y="448.1"/><rect x="181.7" y="464.4"/><rect x="198.1" y="432"/><rect x="193.2" y="421.4"/><rect x="179.7" y="479.3"/><rect x="182.5" y="412.8"/><rect x="193.8" y="486.3"/><rect x="198.4" y="479.5"/><rect x="187.4" y="385.2"/><rect x="190.1" y="468.1"/><rect x="184.5" y="406.5"/><rect x="186.5" y="373.6"/><rect x="201.9" y="434.9"/><rect x="178.5" y="396.1"/><rect x="179.1" y="517.9"/><rect x="178.8" y="496.1"/><rect x="202.1" y="498"/><rect x="200.1" y="440.5"/><rect x="184.8" y="422.9"/><rect x="228.9" y="461.5"/><rect x="199" y="442"/><rect x="201.4" y="478.9"/><rect x="184.6" y="494.1"/><rect x="199.2" y="405.6"/><rect x="191.9" y="468.3"/><rect x="181.3" y="495.8"/><rect x="183.6" y="521"/><rect x="182.5" y="480.7"/><rect x="188.5" y="407.3"/><rect x="198" y="432.2"/><rect x="199.6" y="483.4"/><rect x="186.2" y="437.6"/><rect x="189" y="360.7"/><rect x="189.4" y="447.3"/><rect x="195.4" y="505.3"/><rect x="188.9" y="471.3"/><rect x="187.7" y="390.8"/><rect x="188.8" y="501.2"/><rect x="195.8" y="483.4"/><rect x="181.5" y="452.2"/><rect x="202.2" y="440.3"/><rect x="210.2" y="442.5"/><rect x="197.7" y="506.3"/><rect x="195.7" y="462.3"/><rect x="200.3" y="519.2"/><rect x="187.5" y="389.8"/><rect x="181.6" y="385.9"/><rect x="193.1" y="515.2"/><rect x="195.4" y="446"/><rect x="201" y="454.6"/><rect x="183.1" y="390.9"/><rect x="193.6" y="509.1"/><rect x="184.9" y="430.2"/><rect x="187.1" y="473.6"/><rect x="194.8" y="471.8"/><rect x="191.7" y="393.8"/><rect x="185.3" y="355.7"/><rect x="193" y="471.8"/><rect x="201.9" y="435.5"/><rect x="226" y="443.1"/><rect x="180.3" y="477.9"/><rect x="199.2" y="474.5"/><rect x="179.9" y="380.1"/><rect x="186.5" y="460.3"/><rect x="179.8" y="409.6"/><rect x="189.2" y="424.7"/><rect x="201.7" y="426.9"/><rect x="195.4" y="429.9"/><rect x="183.8" y="519"/><rect x="188.6" y="392.7"/><rect x="187.8" y="482.1"/><rect x="181.6" y="424.7"/><rect x="188.5" y="522.4"/><rect x="186.8" y="411"/><rect x="188.4" y="378"/><rect x="203.4" y="495.7"/><rect x="183" y="460.4"/><rect x="188.2" y="456.6"/><rect x="196" y="401.5"/><rect x="197.2" y="402.7"/><rect x="204" y="454.3"/><rect x="214.9" y="469.3"/><rect x="198.6" y="514.1"/><rect x="184.5" y="415.6"/><rect x="189.6" y="418.3"/><rect x="187.8" y="479.2"/><rect x="201.6" y="484.3"/><rect x="190.8" y="513.1"/><rect x="195.5" y="405.2"/><rect x="186.1" y="495.9"/><rect x="196.9" y="507"/><rect x="180.6" y="499"/><rect x="197.6" y="502.5"/><rect x="179.1" y="437.8"/><rect x="180.1" y="382.3"/><rect x="199.7" y="450.9"/><rect x="182" y="397.9"/><rect x="179.4" y="413.9"/><rect x="191" y="475.3"/><rect x="186.3" y="476.7"/><rect x="199" y="457.9"/><rect x="195.6" y="431.1"/><rect x="188.9" y="508.7"/><rect x="183.6" y="412"/><rect x="179.9" y="440.8"/><rect x="205.6" y="484.4"/><rect x="186.3" y="397.6"/><rect x="206.1" y="457.4"/><rect x="199.9" y="479.3"/><rect x="210.9" y="437.7"/><rect x="183.5" y="440.7"/><rect x="179.4" y="492.4"/><rect x="183.2" y="418.6"/><rect x="183.7" y="359.2"/><rect x="183" y="497.9"/><rect x="185" y="519.9"/><rect x="188.6" y="359.2"/><rect x="195.6" y="412.6"/><rect x="197.5" y="472.8"/><rect x="183.1" y="421.2"/><rect x="179.7" y="386.4"/><rect x="198.9" y="462.8"/><rect x="184.9" y="454.2"/><rect x="195.5" y="512.8"/><rect x="200" y="490.7"/><rect x="200.4" y="470.7"/><rect x="180" y="397.6"/><rect x="198.4" y="512.2"/><rect x="201.3" y="348.7"/><rect x="193.5" y="348.7"/><rect x="208" y="348.7"/><rect x="192.2" y="348.7"/><rect x="191.7" y="348.7"/><rect x="197.6" y="348.7"/><rect x="202.2" y="348.7"/><rect x="196.1" y="348.7"/><rect x="206.9" y="348.7"/><rect x="186.4" y="348.7"/><rect x="205.5" y="348.7"/><rect x="205" y="348.7"/><rect x="188.7" y="348.7"/><rect x="179" y="348.7"/><rect x="196.5" y="348.7"/><rect x="197.1" y="348.7"/><rect x="217" y="348.7"/><rect x="222.8" y="348.7"/><rect x="227.6" y="348.7"/><rect x="232.3" y="348.7"/><rect x="238.2" y="348.7"/><rect x="270" y="358.7"/><rect x="290" y="364.7"/><rect x="245.2" y="458.6"/><rect x="242.9" y="468.6"/><rect x="222.8" y="518.5"/></g><g class="g"><rect x="170.2" y="399.4"/><rect x="163.1" y="449.8"/><rect x="155.8" y="397.5"/><rect x="173" y="388.2"/><rect x="161.5" y="516"/><rect x="168.8" y="447.6"/><rect x="167.7" y="420.5"/><rect x="158.2" y="434.9"/><rect x="170.4" y="441.9"/><rect x="172.1" y="478.5"/><rect x="173.4" y="491.2"/><rect x="173.2" y="433.5"/><rect x="157.5" y="463.9"/><rect x="163.6" y="496"/><rect x="155.8" y="433.4"/><rect x="154.7" y="507.6"/><rect x="165.2" y="354.2"/><rect x="169.8" y="356.3"/><rect x="170.5" y="522.9"/><rect x="173.1" y="513.3"/><rect x="166.5" y="433.5"/><rect x="158.5" y="389.1"/><rect x="161.3" y="502"/><rect x="157.3" y="358.8"/><rect x="168.5" y="509"/><rect x="157.8" y="424"/><rect x="173.8" y="404.4"/><rect x="176.5" y="513.8"/><rect x="154.9" y="417.6"/><rect x="166.5" y="436.4"/><rect x="161.9" y="432.2"/><rect x="165.1" y="403.2"/><rect x="156.8" y="496.7"/><rect x="156.2" y="366.2"/><rect x="158.7" y="446.7"/><rect x="159.7" y="430.7"/><rect x="170.9" y="420.6"/><rect x="167.6" y="421.3"/><rect x="155.9" y="485.9"/><rect x="177.1" y="424.6"/><rect x="154.7" y="501.4"/><rect x="156.1" y="459.5"/><rect x="165.9" y="484.2"/><rect x="166.3" y="486.3"/><rect x="172.8" y="385.7"/><rect x="158.6" y="465.1"/><rect x="160.5" y="453.2"/><rect x="175.9" y="439.4"/><rect x="170.8" y="399.1"/><rect x="176.7" y="410.6"/><rect x="161.9" y="474.2"/><rect x="159.4" y="401.2"/><rect x="165.6" y="417.9"/><rect x="156.7" y="507.5"/><rect x="166.4" y="418.5"/><rect x="164.8" y="437.8"/><rect x="178" y="383.7"/><rect x="173.8" y="514.6"/><rect x="175.5" y="364.1"/><rect x="176.3" y="399.7"/><rect x="169" y="511.1"/><rect x="175.9" y="394.3"/><rect x="177.1" y="510.6"/><rect x="158.6" y="399.1"/><rect x="158" y="481.5"/><rect x="157.4" y="511.9"/><rect x="167.1" y="436.5"/><rect x="172.8" y="384.1"/><rect x="176.7" y="397.2"/><rect x="177" y="516.4"/><rect x="173.1" y="500.9"/><rect x="159.2" y="427.7"/><rect x="156.7" y="423.8"/><rect x="158.5" y="471.7"/><rect x="169.5" y="514.1"/><rect x="163.1" y="365"/><rect x="176.1" y="377.7"/><rect x="156.5" y="358.5"/><rect x="162.9" y="428.3"/><rect x="160.8" y="525.8"/><rect x="171.4" y="435.4"/><rect x="167" y="506.5"/><rect x="167.3" y="510.7"/><rect x="162.8" y="411.8"/><rect x="159.5" y="490.3"/><rect x="164.8" y="493.3"/><rect x="160.5" y="383.6"/><rect x="165.2" y="454.9"/><rect x="159.2" y="482.6"/><rect x="160.7" y="425.5"/><rect x="175.4" y="495.2"/><rect x="166.5" y="503.7"/><rect x="162.8" y="467.8"/><rect x="162" y="504.6"/><rect x="164.9" y="496.3"/><rect x="171.3" y="488.3"/><rect x="177.3" y="397.2"/><rect x="167.4" y="415"/><rect x="173.8" y="441.3"/><rect x="155.4" y="484.5"/><rect x="172" y="490.5"/><rect x="161.5" y="410.4"/><rect x="166.9" y="391"/><rect x="162.7" y="457.6"/><rect x="154.6" y="470.6"/><rect x="172.7" y="442.6"/><rect x="168.1" y="475.4"/><rect x="172.1" y="504.9"/><rect x="172.2" y="455.3"/><rect x="158.6" y="513.2"/><rect x="162.9" y="504.3"/><rect x="163.6" y="387.7"/><rect x="176.8" y="471.9"/><rect x="159.6" y="515.1"/><rect x="171.3" y="523.5"/><rect x="156.7" y="468.5"/><rect x="177" y="399.6"/><rect x="164.1" y="415.7"/><rect x="177.9" y="475.6"/><rect x="166" y="397.1"/><rect x="160.3" y="508.6"/><rect x="176.9" y="512.7"/><rect x="155.7" y="415.2"/><rect x="166.4" y="405.7"/><rect x="160" y="454.7"/><rect x="164.7" y="387"/><rect x="167.6" y="474.9"/><rect x="162.9" y="401.1"/><rect x="167.7" y="417.3"/><rect x="167.2" y="419.3"/><rect x="156.3" y="417.6"/><rect x="168.4" y="416.9"/><rect x="176.7" y="479.8"/><rect x="156.7" y="414.1"/><rect x="170" y="469.1"/><rect x="159.4" y="416"/><rect x="165.5" y="509.6"/><rect x="173.3" y="386.1"/><rect x="170" y="475.5"/><rect x="163.4" y="522.1"/><rect x="170.9" y="478"/><rect x="161" y="441.8"/><rect x="156.6" y="475.8"/><rect x="172.9" y="506.5"/><rect x="166.5" y="409.1"/><rect x="157.2" y="524.1"/><rect x="159.7" y="505.9"/><rect x="177.7" y="513.5"/><rect x="174.4" y="412.6"/><rect x="175.7" y="471.1"/><rect x="168" y="388.3"/><rect x="171.2" y="522.7"/><rect x="159.8" y="442"/><rect x="176.6" y="403.4"/><rect x="162.1" y="451"/><rect x="173.3" y="473.6"/><rect x="161.3" y="412.5"/><rect x="177.9" y="456.4"/><rect x="173.8" y="373.2"/><rect x="174.1" y="435.4"/><rect x="173.7" y="499.4"/><rect x="158.4" y="493.7"/><rect x="158.3" y="499.8"/><rect x="176.8" y="366.9"/><rect x="176.1" y="505.9"/><rect x="174.5" y="448.9"/><rect x="175.5" y="470.7"/><rect x="162.1" y="523.8"/><rect x="174.3" y="422.9"/><rect x="158.4" y="440.1"/><rect x="155" y="486.6"/><rect x="174.8" y="460.5"/><rect x="172.6" y="484.9"/><rect x="164.5" y="410.8"/><rect x="164" y="446.1"/><rect x="159.1" y="435.5"/><rect x="163.6" y="502.8"/><rect x="166.3" y="403.8"/><rect x="158.7" y="414.9"/><rect x="172.8" y="426.9"/><rect x="177.2" y="490.8"/><rect x="173" y="440.6"/><rect x="165.1" y="461.5"/><rect x="158.4" y="442.6"/><rect x="164.2" y="495.6"/><rect x="168.5" y="440.1"/><rect x="168.2" y="518.6"/><rect x="172" y="445.5"/><rect x="171.7" y="418.2"/><rect x="160.8" y="492.4"/><rect x="155" y="374.8"/><rect x="169.8" y="445.2"/><rect x="163.2" y="422.9"/><rect x="176.2" y="394.9"/><rect x="176" y="487.4"/><rect x="158.4" y="419.4"/><rect x="177.6" y="449"/><rect x="164.4" y="386"/><rect x="163" y="495.7"/><rect x="166.4" y="395.7"/><rect x="165.8" y="415.8"/><rect x="156.8" y="458.8"/><rect x="158.5" y="437.3"/><rect x="167.8" y="474.6"/><rect x="164.6" y="413.1"/><rect x="176.2" y="412.2"/><rect x="159.8" y="371.7"/><rect x="158.7" y="504.2"/><rect x="166.6" y="419.9"/><rect x="171.2" y="418.3"/><rect x="157.2" y="381.2"/><rect x="160" y="512.8"/><rect x="165.6" y="357.8"/><rect x="157.6" y="415.3"/><rect x="160.3" y="365.3"/><rect x="156.1" y="362"/><rect x="164.9" y="433.4"/><rect x="163.5" y="481.4"/><rect x="158.8" y="473.4"/><rect x="172" y="435.7"/><rect x="157.3" y="447.2"/><rect x="159.5" y="473.6"/><rect x="168.9" y="375.3"/><rect x="167.3" y="504.2"/><rect x="157.2" y="398.3"/><rect x="176.8" y="446.2"/><rect x="163.7" y="439.9"/><rect x="174.7" y="404.3"/><rect x="166.7" y="393.1"/><rect x="175.5" y="507.3"/><rect x="166.3" y="485.7"/><rect x="167.5" y="473.8"/><rect x="161.1" y="450.6"/><rect x="164.5" y="492.2"/><rect x="160.7" y="438.2"/><rect x="169.5" y="475.1"/><rect x="163.5" y="520.5"/><rect x="171.9" y="508.3"/><rect x="159.9" y="464.7"/><rect x="161.8" y="426.4"/><rect x="167.8" y="405.5"/><rect x="169.8" y="472.8"/><rect x="156.1" y="503.5"/><rect x="167.5" y="523.8"/><rect x="176" y="437.9"/><rect x="175.3" y="421.7"/><rect x="161.6" y="391.5"/><rect x="168.6" y="514.6"/><rect x="174" y="477.2"/><rect x="167.4" y="481.4"/><rect x="167.1" y="450.5"/><rect x="165" y="463"/><rect x="155.2" y="480.7"/><rect x="162" y="410"/><rect x="171.6" y="479.3"/><rect x="155.9" y="473.5"/><rect x="166.5" y="480.7"/><rect x="174.5" y="478.7"/><rect x="175.1" y="482"/><rect x="164.1" y="442.5"/><rect x="167" y="455.6"/><rect x="170" y="389.9"/><rect x="171.5" y="481"/><rect x="157.1" y="508.3"/><rect x="169.9" y="501.2"/><rect x="174.7" y="521.9"/><rect x="154.8" y="432.6"/><rect x="160.7" y="400.5"/><rect x="157.3" y="412.3"/><rect x="163.4" y="483.8"/><rect x="163.1" y="412.4"/><rect x="157.4" y="495.7"/><rect x="155.9" y="366.1"/><rect x="165.6" y="406.5"/><rect x="174.4" y="443.7"/><rect x="164" y="420.6"/><rect x="164.7" y="430.1"/><rect x="156.5" y="388.8"/><rect x="164.5" y="520.3"/><rect x="177.7" y="460.2"/><rect x="160.3" y="510.4"/><rect x="157.6" y="419.4"/><rect x="160.5" y="407.3"/><rect x="161.1" y="391.4"/><rect x="164.5" y="454.5"/><rect x="167.1" y="366.9"/><rect x="163.5" y="465.5"/><rect x="171.5" y="351.1"/><rect x="155.6" y="401.9"/><rect x="172" y="408.9"/><rect x="165.9" y="404.4"/><rect x="158.4" y="506"/><rect x="174.9" y="445.7"/><rect x="168" y="465.2"/><rect x="175.5" y="476.4"/><rect x="158.3" y="404.3"/><rect x="166.8" y="501.6"/><rect x="159.8" y="456.1"/><rect x="165.5" y="515.8"/><rect x="174.1" y="424.6"/><rect x="176.6" y="476.2"/><rect x="163.2" y="373.8"/><rect x="158.5" y="407.2"/><rect x="170" y="396.7"/><rect x="170.2" y="482.2"/><rect x="161.8" y="450.1"/><rect x="158.4" y="390.4"/><rect x="159.4" y="489.9"/><rect x="157.7" y="394.4"/><rect x="176.6" y="471.9"/><rect x="160.5" y="397.2"/><rect x="171.6" y="494"/><rect x="176.9" y="437.7"/><rect x="176.2" y="396.5"/><rect x="176.9" y="444.3"/><rect x="167.5" y="471.1"/><rect x="164" y="495.1"/><rect x="171.6" y="506.7"/><rect x="162.3" y="426.4"/><rect x="164.3" y="511.9"/><rect x="167.6" y="515"/><rect x="166" y="486.1"/><rect x="169.3" y="495.9"/><rect x="163.2" y="432.4"/><rect x="170.4" y="513.7"/><rect x="166.7" y="520.1"/><rect x="169" y="495.9"/><rect x="155.9" y="401.7"/><rect x="158.7" y="520.5"/><rect x="163" y="474.9"/><rect x="166.3" y="442.6"/><rect x="167.9" y="519.9"/><rect x="166.2" y="473.8"/><rect x="177.5" y="414.9"/><rect x="159.2" y="406.7"/><rect x="176.2" y="395.7"/><rect x="173.2" y="493.7"/><rect x="171.4" y="459.9"/><rect x="160.3" y="490.6"/><rect x="157.2" y="389.8"/><rect x="177.6" y="424.4"/><rect x="160.7" y="448.6"/><rect x="158.7" y="508.5"/><rect x="161.4" y="501.9"/><rect x="167.9" y="471.7"/><rect x="161.1" y="503.8"/><rect x="170.2" y="348.7"/><rect x="158.7" y="348.7"/><rect x="156.8" y="348.7"/><rect x="156.2" y="348.7"/><rect x="174.7" y="348.7"/><rect x="167.2" y="348.7"/><rect x="155" y="348.7"/><rect x="162.9" y="348.7"/><rect x="169.4" y="348.7"/><rect x="159.7" y="348.7"/><rect x="174.1" y="348.7"/><rect x="154.6" y="348.7"/><rect x="166.9" y="348.7"/><rect x="168.1" y="348.7"/></g>
<path d="M157.6 343.8V625.6M181.2 343.8V625.6M32.8 531.6H307.6" stroke="rgba(40,170,40,0.55)" stroke-width="1.3" fill="none"/>
</svg>
<rect x="32.8" y="343.8" width="274.8" height="281.8" fill="none" stroke="#7a7a7a" stroke-width="1.6"/>
<path d="M51.6 625.6v3.5M110.5 625.6v3.5M169.4 625.6v3.5M228.3 625.6v3.5M287.2 625.6v3.5M32.8 551.6h-3.5M32.8 485h-3.5M32.8 418.4h-3.5M32.8 351.8h-3.5" stroke="#777" stroke-width="1.2"/>
<g font-size="10" fill="#222" text-anchor="end">
<text x="25.2" y="555.2">1</text>
<text x="25.2" y="488.6">2</text>
<text x="25.2" y="422">3</text>
<text x="25.2" y="355.4">4</text>
</g><g font-size="10" fill="#222" text-anchor="middle">
<text x="51.6" y="642.2">−10</text>
<text x="110.5" y="642.2">−5</text>
<text x="169.4" y="642.2">0</text>
<text x="228.3" y="642.2">5</text>
<text x="287.2" y="642.2">10</text>
</g>
<text x="169.5" y="658.6" font-size="10.2" fill="#222" text-anchor="middle">log2(Fold change)</text>
<text transform="translate(10.2,478.5) rotate(-90)" font-size="10.2" fill="#222" text-anchor="middle">-log10(pvalue)</text>
<text x="0.6" y="344.3" font-size="19.6" font-weight="bold" fill="#000">C</text>
<path d="M425.3 338.3V623.7M483.9 338.3V623.7M542.5 338.3V623.7M601.1 338.3V623.7M659.7 338.3V623.7M405.7 549H679.5M405.7 481.5H679.5M405.7 413.9H679.5M405.7 346.3H679.5" stroke="#ebebeb" stroke-width="1" fill="none"/>
<svg x="405.7" y="338.3" width="273.8" height="285.40000000000003" viewBox="405.7 338.3 273.8 285.40000000000003" overflow="hidden">
<g class="k"><rect x="544.6" y="597.1"/><rect x="554.4" y="577.7"/><rect x="560.5" y="530.9"/><rect x="564.1" y="556.6"/><rect x="536.3" y="608"/><rect x="550.3" y="545.9"/><rect x="540" y="604.6"/><rect x="537.5" y="600.2"/><rect x="531.7" y="584.2"/><rect x="546.2" y="590"/><rect x="546.5" y="590.6"/><rect x="513.8" y="526.4"/><rect x="545.4" y="564"/><rect x="537.8" y="585.9"/><rect x="541.8" y="591.4"/><rect x="519.8" y="541.6"/><rect x="553.5" y="538.5"/><rect x="557.6" y="533.1"/><rect x="549.3" y="576.3"/><rect x="546.6" y="553.4"/><rect x="536.7" y="543.6"/><rect x="554.3" y="561.5"/><rect x="541.3" y="600.5"/><rect x="523" y="566.5"/><rect x="539.4" y="588.5"/><rect x="535.2" y="585.5"/><rect x="541" y="541.1"/><rect x="540.1" y="544.7"/><rect x="531.5" y="530.4"/><rect x="497.6" y="555"/><rect x="527.4" y="574.2"/><rect x="542.4" y="583.5"/><rect x="532.6" y="599.8"/><rect x="535" y="596.5"/><rect x="559.6" y="581.2"/><rect x="525.7" y="573.6"/><rect x="517" y="546.1"/><rect x="528.3" y="574.4"/><rect x="541.1" y="545.5"/><rect x="536.9" y="561.7"/><rect x="565.6" y="547.5"/><rect x="525.4" y="552"/><rect x="539.9" y="600.1"/><rect x="538.3" y="552.7"/><rect x="510.6" y="549"/><rect x="544.7" y="545.3"/><rect x="540.2" y="605.7"/><rect x="535" y="555.4"/><rect x="539.7" y="537.2"/><rect x="542.4" y="604"/><rect x="556.6" y="567.1"/><rect x="535.2" y="583.7"/><rect x="529.5" y="526.4"/><rect x="534.8" y="545.9"/><rect x="524.8" y="545.9"/><rect x="554.3" y="588.3"/><rect x="527.4" y="571.4"/><rect x="526.3" y="528.7"/><rect x="543.3" y="527.2"/><rect x="547.5" y="595.7"/><rect x="540.2" y="598.2"/><rect x="536.9" y="534.9"/><rect x="527.8" y="569.1"/><rect x="543.8" y="552.2"/><rect x="550.5" y="567.4"/><rect x="530.5" y="554.1"/><rect x="533.7" y="572.6"/><rect x="542.5" y="551.3"/><rect x="562.7" y="542.8"/><rect x="530.9" y="550"/><rect x="536.3" y="610.1"/><rect x="557.2" y="527.2"/><rect x="524.7" y="594.4"/><rect x="546.5" y="573.9"/><rect x="542.1" y="607.9"/><rect x="539.8" y="582.7"/><rect x="552.7" y="546"/><rect x="540.8" y="532.5"/><rect x="531.4" y="558.4"/><rect x="526.6" y="597.8"/><rect x="536.6" y="606.9"/><rect x="566.5" y="564"/><rect x="523.9" y="593.5"/><rect x="565.1" y="526.8"/><rect x="534" y="588.6"/><rect x="538.2" y="603.5"/><rect x="560.7" y="571.3"/><rect x="527.4" y="530.1"/><rect x="526.1" y="604.4"/><rect x="540.1" y="609.1"/><rect x="514.8" y="544.9"/><rect x="573" y="557.1"/><rect x="546.4" y="581.4"/><rect x="529.1" y="601.6"/><rect x="521.5" y="525.8"/><rect x="547.1" y="584.2"/><rect x="557.7" y="567.1"/><rect x="549" y="598.9"/><rect x="545.8" y="547.9"/><rect x="522.7" y="526.8"/><rect x="553.2" y="561.2"/><rect x="536.7" y="559.2"/><rect x="551.9" y="544.9"/><rect x="539" y="569.3"/><rect x="576" y="555.2"/><rect x="529.6" y="571.4"/><rect x="541.9" y="552"/><rect x="567.6" y="566.4"/><rect x="547.7" y="595.8"/><rect x="533.9" y="570.4"/><rect x="539.8" y="611.2"/><rect x="540.3" y="574.7"/><rect x="541.8" y="609.3"/><rect x="538.8" y="555.7"/><rect x="533.2" y="570.6"/><rect x="535.4" y="566"/><rect x="539.9" y="561.8"/><rect x="536.9" y="543.3"/><rect x="513.3" y="543.6"/><rect x="537" y="565.2"/><rect x="539.4" y="536.2"/><rect x="542.7" y="545.2"/><rect x="548" y="578.7"/><rect x="540.1" y="583.3"/><rect x="538.4" y="612.5"/><rect x="537.8" y="582.7"/><rect x="550.5" y="553.8"/><rect x="540.7" y="607.3"/><rect x="526" y="547.1"/><rect x="531.3" y="536.2"/><rect x="553.7" y="563"/><rect x="541.4" y="533.7"/><rect x="512.6" y="572.5"/><rect x="581.1" y="548.5"/><rect x="546.6" y="551.7"/><rect x="540.3" y="542.2"/><rect x="564.7" y="536.1"/><rect x="536.9" y="611"/><rect x="512.4" y="528.2"/><rect x="529" y="588.6"/><rect x="567" y="565.6"/><rect x="539.9" y="584.3"/><rect x="552.2" y="554.2"/><rect x="543.1" y="573.7"/><rect x="538.1" y="548.9"/><rect x="544.6" y="604.3"/><rect x="557.4" y="553.3"/><rect x="545.9" y="587.3"/><rect x="539.3" y="609.2"/><rect x="537.9" y="530.5"/><rect x="539.5" y="607.2"/><rect x="540.9" y="525.7"/><rect x="540.4" y="552.2"/><rect x="536.3" y="588.4"/><rect x="557.9" y="532.3"/><rect x="557.4" y="569.8"/><rect x="538.2" y="588.5"/><rect x="562.5" y="526.6"/><rect x="540.2" y="582"/><rect x="542.5" y="570"/><rect x="536.1" y="560.8"/><rect x="544.2" y="579.6"/><rect x="516.4" y="581"/><rect x="546.1" y="562.7"/><rect x="537.4" y="590.3"/><rect x="534.8" y="598"/><rect x="541.2" y="551.8"/><rect x="543.1" y="576.3"/><rect x="538.9" y="606.7"/><rect x="539" y="559.4"/><rect x="534.3" y="584.8"/><rect x="537.5" y="569.6"/><rect x="568.6" y="558.6"/><rect x="549.1" y="550.3"/><rect x="534.6" y="578.7"/><rect x="519.5" y="528.7"/><rect x="526.9" y="568.9"/><rect x="547.9" y="581.4"/><rect x="541.9" y="581.3"/><rect x="543.5" y="563.6"/><rect x="517.4" y="533.8"/><rect x="542.4" y="593.6"/><rect x="541.4" y="602.1"/><rect x="535.8" y="567"/><rect x="544.1" y="594"/><rect x="537.1" y="598.3"/><rect x="545.7" y="603"/><rect x="545.2" y="577.5"/><rect x="550.3" y="542.6"/><rect x="542.8" y="594.5"/><rect x="538.8" y="552.9"/><rect x="537.9" y="565.6"/><rect x="545.6" y="600.4"/><rect x="537.4" y="604.8"/><rect x="546.6" y="595"/><rect x="554.4" y="584.3"/><rect x="546.1" y="583.2"/><rect x="545.5" y="563.8"/><rect x="512.6" y="529.1"/><rect x="553.5" y="532.2"/><rect x="519.9" y="539.4"/><rect x="543.8" y="588.2"/><rect x="530" y="562.2"/><rect x="537.7" y="602.6"/><rect x="545.8" y="570.9"/><rect x="527.3" y="578.1"/><rect x="538.9" y="567.9"/><rect x="545.2" y="581.8"/><rect x="551.1" y="592.2"/><rect x="542.6" y="577.6"/><rect x="545.2" y="594.3"/><rect x="556.2" y="545.7"/><rect x="540.5" y="595.6"/><rect x="542.6" y="529.9"/><rect x="529.6" y="579.2"/><rect x="545.7" y="581.3"/><rect x="549.1" y="532"/><rect x="536.9" y="566.3"/><rect x="549.1" y="583"/><rect x="553.3" y="530.5"/><rect x="537.1" y="585.8"/><rect x="548" y="547.1"/><rect x="537.8" y="604.1"/><rect x="542.3" y="558.4"/><rect x="511.8" y="555.2"/><rect x="554" y="567.9"/><rect x="522" y="532.5"/><rect x="543.6" y="592.2"/><rect x="548.1" y="535"/><rect x="532.4" y="574.7"/><rect x="540.4" y="608.3"/><rect x="546.8" y="605.1"/><rect x="558.1" y="555.7"/><rect x="516.3" y="535.5"/><rect x="531.3" y="576.5"/><rect x="543.2" y="536.6"/><rect x="531.8" y="559.5"/><rect x="504.2" y="551.4"/><rect x="534.8" y="593.1"/><rect x="532.6" y="575.8"/><rect x="534.7" y="567.8"/><rect x="546.1" y="587.2"/><rect x="550.3" y="539"/><rect x="527.3" y="583.9"/><rect x="568.4" y="569.6"/><rect x="533.1" y="587.4"/><rect x="532.2" y="566.3"/><rect x="529.2" y="591.3"/><rect x="500.4" y="566.2"/><rect x="543.2" y="542.5"/><rect x="541.6" y="600"/><rect x="526.3" y="588.7"/><rect x="547.4" y="574.5"/><rect x="549.1" y="551.2"/><rect x="526.7" y="544"/><rect x="541.7" y="584.3"/><rect x="546" y="605.9"/><rect x="551" y="600"/><rect x="578.9" y="537.4"/><rect x="546.8" y="542.2"/><rect x="549.3" y="586.7"/><rect x="537.2" y="596.5"/><rect x="539.6" y="598.9"/><rect x="545.6" y="593.3"/><rect x="531" y="594.3"/><rect x="545.1" y="594.7"/><rect x="547.8" y="587.8"/><rect x="535.3" y="539.6"/><rect x="548.7" y="575"/><rect x="512.8" y="539.2"/><rect x="542.3" y="574.8"/><rect x="545.5" y="541.3"/><rect x="534.5" y="606"/><rect x="542" y="573.8"/><rect x="539.5" y="547.1"/><rect x="529.5" y="564.4"/><rect x="543.6" y="550"/><rect x="553.8" y="553.1"/><rect x="541.7" y="580.5"/><rect x="534.8" y="557.7"/><rect x="544.7" y="601.3"/><rect x="499.4" y="532.3"/><rect x="526.7" y="561"/><rect x="523.1" y="562.8"/><rect x="545.4" y="596.6"/><rect x="534.3" y="526.3"/><rect x="540.2" y="605"/><rect x="555.8" y="558.9"/><rect x="541" y="562.7"/><rect x="543.6" y="573"/><rect x="551.4" y="570"/><rect x="543.7" y="567.6"/><rect x="526.7" y="590.1"/><rect x="518.7" y="551.7"/><rect x="543.3" y="600"/><rect x="536.2" y="542.2"/><rect x="546.9" y="569.6"/><rect x="542.9" y="571.3"/><rect x="535.6" y="544.1"/><rect x="540" y="540.9"/><rect x="582.3" y="543.1"/><rect x="537.7" y="575.4"/><rect x="542.7" y="595.4"/><rect x="539.2" y="612.8"/><rect x="553.5" y="542.8"/><rect x="520.3" y="547.9"/><rect x="539.5" y="550.5"/><rect x="559.7" y="544.8"/><rect x="537.5" y="610"/><rect x="507.5" y="527.7"/><rect x="546" y="554.4"/><rect x="600.4" y="532.5"/><rect x="533.5" y="588.3"/><rect x="545.2" y="587"/><rect x="524.5" y="553.4"/><rect x="506.8" y="559.4"/><rect x="525.4" y="543.3"/><rect x="540.3" y="574.4"/><rect x="546.5" y="554.4"/><rect x="544.8" y="588.9"/><rect x="538" y="608.1"/><rect x="557" y="534.9"/><rect x="543.2" y="607.1"/><rect x="544.9" y="573.9"/><rect x="536.5" y="530.7"/><rect x="527" y="547.5"/><rect x="536.4" y="544.3"/><rect x="534.1" y="571.5"/><rect x="549.7" y="550.1"/><rect x="547.7" y="572.5"/><rect x="539.8" y="587"/><rect x="527" y="593.9"/><rect x="537.6" y="612.4"/><rect x="553.5" y="575.7"/><rect x="535.5" y="574.3"/><rect x="538.2" y="606.8"/><rect x="539.5" y="567.8"/><rect x="528.2" y="552.6"/><rect x="554.5" y="528.4"/><rect x="550.3" y="561.5"/><rect x="542.5" y="600.3"/><rect x="550.3" y="555.9"/><rect x="543.4" y="598.7"/><rect x="552.5" y="530.8"/><rect x="534.3" y="548.8"/><rect x="537.7" y="597.5"/><rect x="547.5" y="535.3"/><rect x="530.4" y="527.3"/><rect x="526" y="534.3"/><rect x="540.6" y="542.4"/><rect x="533.5" y="593.6"/><rect x="518.8" y="546"/><rect x="553.5" y="564"/><rect x="563.2" y="579.4"/><rect x="509.3" y="534.4"/><rect x="542.3" y="572.5"/><rect x="536" y="602"/><rect x="536.1" y="549.4"/><rect x="535.2" y="595.6"/><rect x="549.2" y="559.7"/><rect x="526.9" y="594.7"/><rect x="536.4" y="587.7"/><rect x="545.1" y="581"/><rect x="517.8" y="541.6"/><rect x="525.2" y="583.5"/><rect x="516.8" y="567.1"/><rect x="507.9" y="550.2"/><rect x="540.7" y="528.1"/><rect x="562.7" y="547.1"/><rect x="516.5" y="542.5"/><rect x="525" y="554.7"/><rect x="538.1" y="589.8"/><rect x="548.8" y="567.2"/><rect x="539" y="604"/><rect x="539.5" y="589.8"/><rect x="552.7" y="529.7"/><rect x="536.6" y="549.1"/><rect x="534.1" y="589"/><rect x="520.8" y="562.8"/><rect x="542.4" y="562.1"/><rect x="590.7" y="526.6"/><rect x="543" y="599.7"/><rect x="538.6" y="546.6"/><rect x="533.2" y="591.7"/><rect x="537.5" y="607.9"/><rect x="546" y="598.7"/><rect x="528.8" y="557"/><rect x="531.6" y="598"/><rect x="543.7" y="553"/><rect x="551.2" y="596.4"/><rect x="545" y="594.3"/><rect x="540.4" y="595.8"/><rect x="529.3" y="576.9"/><rect x="549.5" y="577.1"/><rect x="531.8" y="587"/><rect x="537.3" y="594.5"/><rect x="540.1" y="578.8"/><rect x="539.4" y="589.9"/><rect x="543.3" y="587.8"/><rect x="547.2" y="535.3"/><rect x="561" y="527.8"/><rect x="545.3" y="596.5"/><rect x="541.4" y="602.6"/><rect x="543" y="593.7"/><rect x="544.1" y="589.4"/><rect x="541.5" y="600.9"/><rect x="538.2" y="591.3"/><rect x="536.7" y="535.9"/><rect x="532.8" y="595"/><rect x="538.9" y="597.2"/><rect x="541.1" y="527.1"/><rect x="566.7" y="538.9"/><rect x="539.3" y="566.2"/><rect x="561.3" y="563.5"/><rect x="536.5" y="590"/><rect x="527.4" y="558.3"/><rect x="549.2" y="535.9"/><rect x="529.9" y="595.7"/><rect x="533.6" y="569.2"/><rect x="536.2" y="532.8"/><rect x="539.9" y="594.1"/><rect x="540.3" y="609.9"/><rect x="531.7" y="573.7"/><rect x="571.9" y="554.7"/><rect x="553.6" y="546.2"/><rect x="539.3" y="596.1"/><rect x="546.6" y="583.6"/><rect x="538.8" y="588.7"/><rect x="539.8" y="610.7"/><rect x="561.6" y="556.1"/><rect x="531.4" y="566.8"/><rect x="527.5" y="587.6"/><rect x="543.1" y="592.5"/><rect x="520.9" y="543.8"/><rect x="526.7" y="577.1"/><rect x="544.8" y="592.1"/><rect x="538.5" y="544.6"/><rect x="528.1" y="530.3"/><rect x="529.9" y="576.2"/><rect x="534.3" y="549.3"/><rect x="536.9" y="579.4"/><rect x="538" y="581.5"/><rect x="572.3" y="551.1"/><rect x="549.2" y="568.9"/><rect x="548.7" y="565.4"/><rect x="540.2" y="577"/><rect x="530" y="561.8"/><rect x="553.5" y="527.9"/><rect x="542.8" y="601.2"/><rect x="511.1" y="534.5"/><rect x="531.2" y="588.4"/><rect x="519.2" y="560"/><rect x="548.5" y="595.8"/><rect x="535.1" y="597"/><rect x="531.7" y="539.8"/><rect x="520.8" y="536.4"/><rect x="546.6" y="557.1"/><rect x="572.2" y="549.3"/><rect x="530.7" y="587.3"/><rect x="510.3" y="534.6"/><rect x="546.8" y="577.1"/><rect x="557.4" y="560.5"/><rect x="560.7" y="540.1"/><rect x="534.5" y="578.1"/><rect x="536.8" y="598.7"/><rect x="537.2" y="588"/><rect x="549" y="527.1"/><rect x="531" y="574.3"/><rect x="521" y="526.1"/><rect x="553.6" y="549.2"/><rect x="543.3" y="569.3"/><rect x="503.3" y="531.8"/><rect x="538.3" y="539.1"/><rect x="532.2" y="565.5"/><rect x="539.7" y="611.6"/><rect x="540.7" y="539.6"/><rect x="530.1" y="576.5"/><rect x="530.2" y="557.7"/><rect x="538.7" y="591.2"/><rect x="545.1" y="581"/><rect x="526.6" y="579"/><rect x="550.3" y="567.7"/><rect x="571" y="556"/><rect x="539.2" y="584.5"/><rect x="530.8" y="557.8"/><rect x="549" y="548.6"/><rect x="573.1" y="529.5"/><rect x="534.7" y="595.6"/><rect x="526.6" y="546.2"/><rect x="529.8" y="530.3"/><rect x="554.9" y="554.9"/><rect x="539.7" y="542.1"/><rect x="530.8" y="567.2"/><rect x="537.6" y="606.1"/><rect x="545.5" y="550.4"/><rect x="534.5" y="575"/><rect x="532.1" y="594.7"/><rect x="559.1" y="558.6"/><rect x="522.3" y="557.7"/><rect x="527.6" y="578.9"/><rect x="512.9" y="539.9"/><rect x="525" y="569.4"/><rect x="541.1" y="609.2"/><rect x="536.3" y="555.2"/><rect x="553.4" y="531.2"/><rect x="540.6" y="557.4"/><rect x="544.4" y="588.3"/><rect x="530.9" y="564"/><rect x="524.6" y="530.5"/><rect x="559.6" y="546.3"/><rect x="531.7" y="596.8"/><rect x="542.3" y="572.3"/><rect x="529.4" y="540.7"/><rect x="541.1" y="600.3"/><rect x="530.5" y="559.7"/><rect x="525.5" y="586.2"/><rect x="547.9" y="563.1"/><rect x="561.6" y="529.7"/><rect x="518.1" y="566.3"/><rect x="538.5" y="577.4"/><rect x="541.7" y="607.5"/><rect x="540.1" y="602.7"/><rect x="531.1" y="607"/><rect x="527" y="527.1"/><rect x="547.4" y="586.3"/><rect x="543.4" y="569.1"/><rect x="546.8" y="527.8"/><rect x="538.6" y="589.8"/><rect x="515.5" y="546.7"/><rect x="568.1" y="539"/><rect x="569.6" y="543.4"/><rect x="537.4" y="601.7"/><rect x="535.1" y="606.2"/><rect x="539.3" y="551.5"/><rect x="518.6" y="530.5"/><rect x="530" y="534.4"/><rect x="534.7" y="589.3"/><rect x="554.4" y="585.4"/><rect x="530.5" y="583.5"/><rect x="550.5" y="542.1"/><rect x="547.7" y="592.3"/><rect x="545.5" y="588.6"/><rect x="509.1" y="541.8"/><rect x="535.1" y="592.4"/><rect x="543.6" y="563"/><rect x="542.1" y="577.7"/><rect x="543.2" y="549.7"/><rect x="517.2" y="560.6"/><rect x="554.4" y="527.5"/><rect x="540.1" y="589.4"/><rect x="559.4" y="557.8"/><rect x="538.5" y="546.3"/><rect x="543.1" y="608.9"/><rect x="537.6" y="603.9"/><rect x="545.6" y="577.2"/><rect x="539" y="604"/><rect x="546.4" y="534.7"/><rect x="531.6" y="533.9"/><rect x="530.1" y="562.7"/><rect x="552.8" y="587"/><rect x="543.9" y="569"/><rect x="523" y="569.2"/><rect x="529.5" y="537.9"/><rect x="533.2" y="534.4"/><rect x="544.6" y="536.2"/><rect x="537" y="528"/><rect x="551.1" y="526.9"/><rect x="541.4" y="559.8"/><rect x="564.8" y="562.9"/><rect x="538.4" y="551.3"/><rect x="557.8" y="557.1"/><rect x="559.7" y="575.1"/><rect x="541.9" y="609.1"/><rect x="553.7" y="584.9"/><rect x="541.1" y="606.5"/><rect x="565.1" y="537.5"/><rect x="528.8" y="568.9"/><rect x="545.9" y="598.3"/><rect x="532.1" y="592.5"/><rect x="546.5" y="548.3"/><rect x="554.4" y="538.5"/><rect x="544.1" y="608.8"/><rect x="535.3" y="602.7"/><rect x="539.5" y="611.9"/><rect x="534.8" y="554.8"/><rect x="539" y="599.1"/><rect x="539" y="580.3"/><rect x="531.3" y="604.5"/><rect x="520.4" y="568"/><rect x="558.6" y="549.3"/><rect x="535.8" y="542"/><rect x="541.5" y="533.3"/><rect x="538.3" y="611.2"/><rect x="544.4" y="549.6"/><rect x="534.9" y="530.8"/><rect x="541.7" y="558.4"/><rect x="527.8" y="554.9"/><rect x="530" y="535.3"/><rect x="542.9" y="565.2"/><rect x="534.5" y="547.2"/><rect x="544.4" y="592.5"/><rect x="532.1" y="569.7"/><rect x="530.8" y="562.2"/><rect x="512.5" y="555.7"/><rect x="533.8" y="528.1"/><rect x="548.5" y="562.9"/><rect x="540.8" y="612.9"/><rect x="538" y="541.1"/><rect x="557.7" y="560.3"/><rect x="538.9" y="607"/><rect x="520.3" y="588.1"/><rect x="537.7" y="587.5"/><rect x="550.4" y="534.4"/><rect x="532.1" y="558.2"/><rect x="540.6" y="612.9"/><rect x="542.1" y="557.3"/><rect x="548.4" y="562"/><rect x="507.3" y="559.5"/><rect x="542.2" y="563.5"/><rect x="510.9" y="540.5"/><rect x="538" y="603.3"/><rect x="529.1" y="549.9"/><rect x="548" y="604.5"/><rect x="523.3" y="557.8"/><rect x="597.6" y="536.7"/><rect x="548.4" y="550.8"/><rect x="542.4" y="560.8"/><rect x="547.5" y="544.9"/><rect x="521.8" y="564.4"/><rect x="524.9" y="557.7"/><rect x="559.9" y="530.2"/><rect x="541.5" y="608"/><rect x="534.5" y="583.7"/><rect x="558.3" y="569.7"/><rect x="558.3" y="541.5"/><rect x="520.3" y="551.9"/><rect x="553.9" y="533"/><rect x="534.4" y="532.1"/><rect x="520.3" y="558.7"/><rect x="514.5" y="540"/><rect x="527.1" y="540.1"/><rect x="528.6" y="551.3"/><rect x="548.4" y="574"/><rect x="552.3" y="579"/><rect x="552.4" y="533.4"/><rect x="538.9" y="609.6"/><rect x="547.3" y="590.4"/><rect x="532.5" y="602.7"/><rect x="532" y="528.3"/><rect x="542.1" y="599"/><rect x="547.1" y="587.4"/><rect x="547.8" y="574.7"/><rect x="541.7" y="533.8"/><rect x="530.7" y="568.5"/><rect x="540.6" y="599.6"/><rect x="527.6" y="529.6"/><rect x="537.9" y="563.9"/><rect x="555.6" y="579.5"/><rect x="544.7" y="605.1"/><rect x="533.4" y="579.9"/><rect x="512.7" y="560.3"/><rect x="530.9" y="535.5"/><rect x="524.4" y="547.3"/><rect x="552.9" y="536.8"/><rect x="545" y="554.3"/><rect x="533.9" y="550"/><rect x="541.8" y="598.9"/><rect x="537.8" y="561.1"/><rect x="546.4" y="590.4"/><rect x="536.8" y="575.3"/><rect x="537.4" y="531.1"/><rect x="547.8" y="552"/><rect x="538.8" y="526"/><rect x="525.7" y="574.9"/><rect x="537.6" y="607.4"/><rect x="520.4" y="546.9"/><rect x="553.6" y="527.4"/><rect x="531.8" y="570.6"/><rect x="533.2" y="527.9"/><rect x="545.5" y="528.5"/><rect x="553.1" y="565.5"/><rect x="543.2" y="601.9"/><rect x="534.8" y="602.6"/><rect x="533.8" y="597"/><rect x="534.7" y="604.5"/><rect x="542.2" y="575.2"/><rect x="533.7" y="584.2"/><rect x="552.6" y="548.9"/><rect x="548.4" y="589.1"/><rect x="548.4" y="573.3"/><rect x="524.9" y="535.2"/><rect x="532.8" y="526.2"/><rect x="525.9" y="578.3"/><rect x="557.4" y="578.1"/><rect x="573.7" y="526.6"/><rect x="545.3" y="560.9"/><rect x="569.4" y="552.2"/><rect x="520.6" y="529.2"/><rect x="547.6" y="562.9"/><rect x="521.8" y="527.2"/><rect x="536.2" y="535.1"/><rect x="541.6" y="604.5"/><rect x="542.7" y="563.5"/><rect x="558.6" y="560.4"/><rect x="527.1" y="546.4"/><rect x="538" y="607.7"/><rect x="539.8" y="542.3"/><rect x="536.2" y="599.1"/><rect x="531.7" y="582.4"/><rect x="538" y="612.5"/><rect x="564.3" y="551.3"/><rect x="519.1" y="542"/><rect x="537.4" y="545.5"/><rect x="532.4" y="583.8"/><rect x="536.5" y="564.7"/><rect x="534.7" y="583"/><rect x="546.6" y="600.1"/><rect x="541.1" y="579.4"/><rect x="538.5" y="579.5"/><rect x="525.4" y="565.6"/><rect x="523" y="529.3"/><rect x="539.8" y="556.1"/><rect x="570" y="533.4"/><rect x="550.1" y="548.7"/><rect x="525.4" y="541.2"/><rect x="526.1" y="568.7"/><rect x="542.8" y="541.9"/><rect x="547.3" y="596.9"/><rect x="543.5" y="610.1"/><rect x="537.4" y="595.4"/><rect x="561.6" y="547"/><rect x="533.9" y="593.4"/><rect x="551.3" y="549.4"/><rect x="513.9" y="527.1"/><rect x="534" y="593"/><rect x="558.9" y="550.9"/><rect x="519.9" y="559.2"/><rect x="562.6" y="575"/><rect x="557.9" y="545.7"/><rect x="521.6" y="571.4"/><rect x="557.9" y="531.3"/><rect x="542.6" y="575.2"/><rect x="524" y="533.7"/><rect x="522.7" y="532.1"/><rect x="533.5" y="530.8"/><rect x="548.8" y="562.6"/><rect x="541" y="588.8"/><rect x="539.7" y="593.1"/><rect x="553" y="586.5"/><rect x="537.2" y="586.8"/><rect x="517.5" y="533.2"/><rect x="560.5" y="556.3"/><rect x="552.8" y="580.5"/><rect x="539.4" y="527.4"/><rect x="544.1" y="597.8"/><rect x="513.7" y="535.6"/><rect x="533.5" y="549.1"/><rect x="521.5" y="584.7"/><rect x="545.9" y="591.2"/><rect x="528.4" y="577.4"/><rect x="552.4" y="540.1"/><rect x="546.1" y="565.6"/><rect x="539.3" y="564.1"/><rect x="528.8" y="602.5"/><rect x="540.5" y="578.6"/><rect x="540.7" y="598.5"/><rect x="538.9" y="599.7"/><rect x="566.8" y="585.2"/><rect x="539.2" y="608.3"/><rect x="547.6" y="568.5"/><rect x="523.4" y="534.7"/><rect x="549.6" y="572.4"/><rect x="538.3" y="526.9"/><rect x="541.1" y="600.1"/><rect x="528.6" y="594.3"/><rect x="535.1" y="532.1"/><rect x="538.7" y="613.1"/><rect x="521.5" y="543.3"/><rect x="536.1" y="603.7"/><rect x="534.8" y="542.6"/><rect x="551.3" y="546.8"/><rect x="489" y="536.5"/><rect x="547.4" y="560.8"/><rect x="551.4" y="527.8"/><rect x="551.2" y="582.4"/><rect x="521.9" y="554.6"/><rect x="521.7" y="537.8"/><rect x="534.8" y="604.7"/><rect x="524.3" y="533.3"/><rect x="522" y="530.7"/><rect x="561.3" y="563.4"/><rect x="546.7" y="533.8"/><rect x="517.1" y="532.1"/><rect x="536.1" y="567.9"/><rect x="562.4" y="581.7"/><rect x="523" y="573.9"/><rect x="534.1" y="547.5"/><rect x="556.2" y="539.9"/><rect x="514.4" y="556.5"/><rect x="532.9" y="570.6"/><rect x="530.9" y="529.1"/><rect x="517.7" y="575.4"/><rect x="538.3" y="600.4"/><rect x="546.9" y="605.4"/><rect x="543.6" y="567.6"/><rect x="537.9" y="610.8"/><rect x="539.7" y="612.7"/><rect x="534.1" y="569.1"/><rect x="531.6" y="579.6"/><rect x="543.6" y="590"/><rect x="545.1" y="593.2"/><rect x="532.9" y="606.7"/><rect x="547.4" y="580"/><rect x="539.6" y="537.9"/><rect x="536.8" y="561.7"/><rect x="562.2" y="528.8"/><rect x="539.2" y="591.2"/><rect x="515.6" y="527.4"/><rect x="529.7" y="596.3"/><rect x="543.8" y="550.7"/><rect x="545.8" y="602.4"/><rect x="588.3" y="550.8"/><rect x="534.1" y="560.2"/><rect x="531.5" y="527.3"/><rect x="536.8" y="596.7"/><rect x="517.3" y="551.3"/><rect x="555.9" y="547"/><rect x="541.1" y="569"/><rect x="518.4" y="554.8"/><rect x="525.8" y="572.7"/><rect x="534.1" y="555.1"/><rect x="545.4" y="591.1"/><rect x="551" y="571.5"/><rect x="512.7" y="536.9"/><rect x="551.4" y="539.8"/><rect x="516.3" y="568.7"/><rect x="541.6" y="596.7"/><rect x="536" y="537.5"/><rect x="532.3" y="592"/><rect x="535.8" y="561.6"/><rect x="541.5" y="608.5"/><rect x="553.4" y="565.9"/><rect x="549.4" y="573.1"/><rect x="582" y="541"/><rect x="530.1" y="549.7"/><rect x="534.1" y="586.8"/><rect x="538.5" y="585.5"/><rect x="538.9" y="613.3"/><rect x="525.6" y="550.4"/><rect x="515.5" y="562.5"/><rect x="535" y="572.9"/><rect x="530.5" y="560"/><rect x="559.8" y="559.4"/><rect x="537.5" y="590.4"/><rect x="567.6" y="555.9"/><rect x="505" y="553.6"/><rect x="547.5" y="566.1"/><rect x="573.4" y="545.7"/><rect x="495.8" y="543.7"/><rect x="557.2" y="535.4"/><rect x="547.7" y="534.5"/><rect x="509.4" y="544.2"/><rect x="526.1" y="584.3"/><rect x="561.9" y="555.5"/><rect x="539.2" y="567.2"/><rect x="538.2" y="605.7"/><rect x="555.5" y="529.9"/><rect x="533.9" y="602.8"/><rect x="537.4" y="607.8"/><rect x="575.1" y="531"/><rect x="529.2" y="600.2"/><rect x="536.8" y="603.6"/><rect x="532.3" y="586.8"/><rect x="541.8" y="588.1"/><rect x="550.7" y="577.9"/><rect x="550.9" y="574.8"/><rect x="543.8" y="574.3"/><rect x="535.9" y="584.7"/><rect x="559.7" y="532.7"/><rect x="526.8" y="559.6"/><rect x="539.8" y="602.3"/><rect x="560.6" y="550.2"/><rect x="556.3" y="566.7"/><rect x="535.9" y="570"/><rect x="533.6" y="584.7"/><rect x="543.3" y="543.6"/><rect x="530.4" y="566.7"/><rect x="543.3" y="600.6"/><rect x="543.6" y="596.9"/><rect x="540.3" y="599.2"/><rect x="540.8" y="598.3"/><rect x="538.2" y="595.1"/><rect x="521.5" y="537.4"/><rect x="534.7" y="579.1"/><rect x="552.5" y="542.3"/><rect x="538.3" y="607.8"/><rect x="543.2" y="604"/><rect x="540.7" y="604.9"/><rect x="523.8" y="541.1"/><rect x="548.6" y="584.4"/><rect x="541.7" y="538"/><rect x="516.7" y="538.5"/><rect x="552.4" y="579.6"/><rect x="499.7" y="533"/><rect x="522.5" y="565.2"/><rect x="528.4" y="552.7"/><rect x="530" y="599.6"/><rect x="543.3" y="583"/><rect x="507.3" y="539.3"/><rect x="535.9" y="553.7"/><rect x="541" y="592.4"/><rect x="556" y="530.7"/><rect x="542.1" y="610.5"/><rect x="541.3" y="569.9"/><rect x="535.9" y="608.1"/><rect x="539" y="549.7"/><rect x="551.6" y="574.2"/><rect x="564.9" y="534.2"/><rect x="518.8" y="583.6"/><rect x="546.5" y="541.1"/><rect x="535.9" y="595.8"/><rect x="521.4" y="571.4"/><rect x="537" y="609.7"/><rect x="533.2" y="551.7"/><rect x="541.1" y="602"/><rect x="570.2" y="563.9"/><rect x="546.7" y="581.5"/><rect x="522.7" y="550"/><rect x="523.4" y="578.5"/><rect x="557.2" y="533.7"/><rect x="530" y="585.5"/><rect x="523.6" y="540.9"/><rect x="551.7" y="552.4"/><rect x="536.1" y="536.7"/><rect x="533.2" y="592.3"/><rect x="559.4" y="530.5"/><rect x="568.5" y="569.1"/><rect x="523.1" y="539.7"/><rect x="538.9" y="611.6"/><rect x="547.7" y="557.8"/><rect x="542" y="599.1"/><rect x="548.4" y="541.9"/><rect x="535.3" y="606.5"/><rect x="540.5" y="611.9"/><rect x="533.2" y="533.1"/><rect x="549.6" y="526.1"/><rect x="541.8" y="558.7"/><rect x="521.1" y="562.2"/><rect x="535.1" y="586"/><rect x="536.4" y="532"/><rect x="512.7" y="558"/><rect x="550.5" y="549.7"/><rect x="516.8" y="537.6"/><rect x="540.7" y="590.4"/><rect x="547.4" y="575.2"/><rect x="522.2" y="534.4"/><rect x="540.3" y="607.5"/><rect x="539.7" y="610.4"/><rect x="535.6" y="597.5"/><rect x="562" y="555.9"/><rect x="519" y="570.9"/><rect x="514.8" y="567"/><rect x="533.2" y="575.2"/><rect x="546.5" y="594.4"/><rect x="535.8" y="554.8"/><rect x="509.3" y="541"/><rect x="554.6" y="560.8"/><rect x="548.1" y="545.5"/><rect x="558" y="558.3"/><rect x="549.1" y="580.9"/><rect x="539.6" y="530.7"/><rect x="542.8" y="605.7"/><rect x="541" y="588.4"/><rect x="549.5" y="562.6"/><rect x="543.1" y="580.1"/><rect x="501.8" y="547.4"/><rect x="500.1" y="531.8"/><rect x="562.5" y="528.8"/><rect x="541.6" y="528.3"/><rect x="545.1" y="570.3"/><rect x="535.9" y="559.8"/><rect x="519.1" y="543.5"/><rect x="534.7" y="572.7"/><rect x="533.2" y="566"/><rect x="533.4" y="555.2"/><rect x="537.4" y="602.8"/><rect x="556.4" y="567.4"/><rect x="551.5" y="532.4"/><rect x="552.3" y="546.4"/><rect x="527.8" y="527.7"/><rect x="562.1" y="566"/><rect x="539.9" y="573.4"/><rect x="521.2" y="556.8"/><rect x="550.9" y="571.3"/><rect x="503.8" y="535.6"/><rect x="535.9" y="603.8"/><rect x="538" y="604"/><rect x="531.7" y="584"/><rect x="530.1" y="539.9"/><rect x="547.1" y="602.8"/><rect x="551.9" y="588.1"/><rect x="550.5" y="585.9"/><rect x="550.6" y="544.3"/><rect x="516" y="530.6"/><rect x="543.2" y="561.5"/><rect x="549.2" y="586.6"/><rect x="558.4" y="535.9"/><rect x="556.9" y="539.1"/><rect x="549.7" y="563.8"/><rect x="532.2" y="584.1"/><rect x="558.7" y="554"/><rect x="535.6" y="584.7"/><rect x="544.8" y="579.7"/><rect x="526.7" y="539.6"/><rect x="597.5" y="533.2"/><rect x="552.6" y="582.5"/><rect x="566.5" y="533.7"/><rect x="541.7" y="609.2"/><rect x="536.2" y="551"/><rect x="539.1" y="592.5"/><rect x="541.7" y="581.1"/><rect x="541.3" y="610.2"/><rect x="538.6" y="586.2"/><rect x="538.9" y="538.5"/><rect x="554.3" y="537.2"/><rect x="529.5" y="558.9"/><rect x="532.9" y="561.5"/><rect x="545.8" y="532.2"/><rect x="540" y="544.6"/><rect x="549.1" y="548.4"/><rect x="537.6" y="607.4"/><rect x="550.4" y="573.9"/><rect x="540.7" y="591.6"/><rect x="545.3" y="581.5"/><rect x="545.5" y="581.1"/><rect x="544.6" y="562.5"/><rect x="542.1" y="550.2"/><rect x="535.6" y="556.7"/><rect x="526.7" y="569.4"/><rect x="544.8" y="580.9"/><rect x="544.9" y="541.9"/><rect x="532.8" y="558.2"/><rect x="565.8" y="539.4"/><rect x="522.7" y="545.5"/><rect x="541" y="568.3"/><rect x="539.1" y="593.3"/><rect x="568.2" y="542.5"/><rect x="535.2" y="551.6"/><rect x="548.7" y="563.7"/><rect x="534" y="583.7"/><rect x="536.5" y="525.9"/><rect x="565.5" y="538.5"/><rect x="534.1" y="545.8"/><rect x="527.2" y="585.1"/><rect x="537.3" y="591.6"/><rect x="526.4" y="561.9"/><rect x="528.4" y="579"/><rect x="547.8" y="589.9"/><rect x="539.9" y="583.4"/><rect x="520" y="572.4"/><rect x="522" y="564.1"/><rect x="535.6" y="600.2"/><rect x="551" y="601.8"/><rect x="556.4" y="589.9"/><rect x="521.1" y="579.6"/><rect x="565.1" y="531.3"/><rect x="553.5" y="543.2"/><rect x="540.7" y="539"/><rect x="513.3" y="549.7"/><rect x="537.2" y="594.9"/><rect x="529.6" y="596"/><rect x="539.1" y="589.3"/><rect x="542.1" y="607.7"/><rect x="527.2" y="526.2"/><rect x="547.3" y="551.9"/><rect x="563.9" y="579.1"/><rect x="510.5" y="537.4"/><rect x="553.7" y="575"/><rect x="552" y="568.1"/><rect x="549.9" y="577.5"/><rect x="560.4" y="560.8"/><rect x="547.6" y="581.4"/><rect x="545.6" y="564.3"/><rect x="523.2" y="558"/><rect x="516.7" y="576.5"/><rect x="541.3" y="554.2"/><rect x="525.2" y="543.4"/><rect x="529.6" y="568.9"/><rect x="550.2" y="571.7"/><rect x="533.9" y="548.8"/><rect x="531.4" y="571.3"/><rect x="530.9" y="586.9"/><rect x="534" y="572.9"/><rect x="543.4" y="577.3"/><rect x="538.3" y="600.6"/><rect x="541.6" y="584.1"/><rect x="549.9" y="556.9"/><rect x="531.1" y="534.9"/><rect x="546.7" y="600.3"/><rect x="567.7" y="568"/><rect x="534.7" y="564.6"/><rect x="517.1" y="549.8"/><rect x="529.9" y="547.8"/><rect x="537.2" y="584.3"/><rect x="538.2" y="577.3"/><rect x="556.1" y="584"/><rect x="536.5" y="585.6"/><rect x="569.1" y="548.5"/><rect x="541.7" y="582.5"/><rect x="531.9" y="591.1"/><rect x="545.4" y="587.9"/><rect x="529.2" y="535.1"/><rect x="519.6" y="537.1"/><rect x="560.9" y="576.1"/><rect x="535" y="542.7"/><rect x="559.4" y="584.1"/><rect x="514.2" y="574.9"/><rect x="539.2" y="593.9"/><rect x="546.2" y="587.4"/><rect x="523.8" y="591.5"/><rect x="543.5" y="603.2"/><rect x="542.3" y="536.6"/><rect x="539.5" y="567.4"/><rect x="550" y="568.2"/><rect x="515" y="563.7"/><rect x="534.5" y="597.4"/><rect x="547.1" y="586.5"/><rect x="534.9" y="600"/><rect x="531.3" y="572.5"/><rect x="533.8" y="556.6"/><rect x="535.4" y="543.1"/><rect x="546.2" y="606.3"/><rect x="533.2" y="542.4"/><rect x="526.3" y="558.6"/><rect x="544.4" y="594.8"/><rect x="527" y="566.8"/><rect x="539.3" y="605"/><rect x="554.8" y="574.8"/><rect x="507.5" y="542.5"/><rect x="530.6" y="573.5"/><rect x="552.4" y="581.1"/><rect x="549.2" y="585"/><rect x="574.9" y="527.8"/><rect x="540.4" y="534.7"/><rect x="540.1" y="607"/><rect x="531.5" y="564"/><rect x="535.6" y="572"/><rect x="553.6" y="596.5"/><rect x="543.8" y="556.6"/><rect x="526" y="533.9"/><rect x="541.7" y="574.5"/><rect x="538" y="570.6"/><rect x="521.5" y="535.8"/><rect x="539.7" y="531.7"/><rect x="533.6" y="572.9"/><rect x="529.6" y="585"/><rect x="530.1" y="587.6"/><rect x="527.4" y="539.1"/><rect x="534" y="539.2"/><rect x="543.4" y="600.9"/><rect x="523.2" y="586.6"/><rect x="539.5" y="588.4"/><rect x="538.1" y="611.6"/><rect x="515.1" y="573"/><rect x="530.6" y="575.6"/><rect x="534.3" y="537.7"/><rect x="544" y="583.7"/><rect x="530.6" y="555.9"/><rect x="534.7" y="595.2"/><rect x="541" y="602"/><rect x="533.6" y="552.8"/><rect x="532.7" y="538.7"/><rect x="546.2" y="588.5"/><rect x="527.2" y="577.1"/><rect x="529.4" y="553.5"/><rect x="528.7" y="574.4"/><rect x="520.1" y="573.8"/><rect x="543.2" y="528.2"/><rect x="550.4" y="561.9"/><rect x="543.7" y="600.9"/><rect x="528" y="551.1"/><rect x="499.5" y="528.4"/><rect x="522.3" y="550.2"/><rect x="554.2" y="568"/><rect x="536.7" y="574.7"/><rect x="536.5" y="543.7"/><rect x="528.8" y="566.6"/><rect x="546.2" y="567.6"/><rect x="532.5" y="570.5"/><rect x="541.5" y="578"/><rect x="578.9" y="531.3"/><rect x="512.5" y="529.3"/><rect x="538.5" y="598.5"/><rect x="524.3" y="561.9"/><rect x="529.7" y="561.1"/><rect x="528.5" y="585.8"/><rect x="517.9" y="540.9"/><rect x="530" y="533.8"/><rect x="547" y="571.4"/><rect x="535.5" y="595.4"/><rect x="489.1" y="545.6"/><rect x="532.1" y="532.6"/><rect x="544.7" y="552.8"/><rect x="541.4" y="598.1"/><rect x="535.8" y="527.9"/><rect x="506.9" y="531.2"/><rect x="536.2" y="581.8"/><rect x="556.8" y="529.4"/><rect x="540.3" y="594.5"/><rect x="518.9" y="560.2"/><rect x="564.4" y="526.5"/><rect x="553.9" y="581.5"/><rect x="508" y="540"/><rect x="537.6" y="572.7"/><rect x="524.5" y="587"/><rect x="541" y="562.9"/><rect x="533.6" y="578.1"/><rect x="564.5" y="538.6"/><rect x="544.2" y="561"/><rect x="549.8" y="534.9"/><rect x="563.2" y="563.8"/><rect x="547.4" y="530.7"/><rect x="526.3" y="580.8"/><rect x="531.8" y="557.7"/><rect x="535.6" y="576.9"/><rect x="541.7" y="599.4"/><rect x="537.5" y="538"/><rect x="544.8" y="594"/><rect x="519.3" y="539.8"/><rect x="522.1" y="542.3"/><rect x="552.7" y="585.8"/><rect x="528.2" y="590.7"/><rect x="546.2" y="527.4"/><rect x="544.6" y="539"/><rect x="523.2" y="544.1"/><rect x="538.3" y="599.5"/><rect x="536.5" y="604.2"/><rect x="571" y="548.1"/><rect x="540.2" y="579.4"/><rect x="541.6" y="526.6"/><rect x="555.2" y="549.5"/><rect x="546.3" y="544.5"/><rect x="532.3" y="550"/><rect x="526.5" y="586.8"/><rect x="543" y="594.7"/><rect x="541.6" y="593.8"/><rect x="528.9" y="587.3"/><rect x="543.7" y="571.3"/><rect x="545.5" y="588.9"/><rect x="533.4" y="597.4"/><rect x="556.5" y="541.4"/><rect x="557.7" y="558.9"/><rect x="539.3" y="591.9"/><rect x="497.6" y="527.3"/><rect x="516.2" y="537.1"/><rect x="551.6" y="588.1"/><rect x="527.9" y="566.3"/><rect x="532.8" y="549"/><rect x="542.8" y="576.9"/><rect x="527.4" y="530.3"/><rect x="566.9" y="564.2"/><rect x="534" y="600.1"/><rect x="543.5" y="588.2"/><rect x="530.4" y="592.2"/><rect x="538.4" y="610.2"/><rect x="530.2" y="546.4"/><rect x="522" y="540.1"/><rect x="535" y="525.9"/><rect x="540.1" y="597.1"/><rect x="535" y="538.3"/><rect x="526.3" y="547.9"/><rect x="544.7" y="541.5"/><rect x="535.9" y="554.3"/><rect x="550.2" y="574.4"/><rect x="518.4" y="591.5"/><rect x="564.6" y="547.2"/><rect x="484.7" y="526.5"/><rect x="524.1" y="530.7"/><rect x="536" y="601.4"/><rect x="540.3" y="562.6"/><rect x="551.1" y="577.6"/><rect x="556.2" y="568.1"/><rect x="539.8" y="589.7"/><rect x="538.6" y="559.8"/><rect x="550.1" y="586.2"/><rect x="545" y="580.5"/><rect x="527.3" y="540.3"/><rect x="565.2" y="531"/><rect x="535" y="603.8"/><rect x="535.6" y="593.2"/><rect x="552.6" y="529.7"/><rect x="537.6" y="597"/><rect x="551.9" y="565"/><rect x="540.7" y="556"/><rect x="550.7" y="590.2"/><rect x="531.4" y="572.1"/><rect x="533.2" y="555.9"/><rect x="536.9" y="602.5"/><rect x="540.1" y="540.3"/><rect x="550" y="549.7"/><rect x="537.3" y="607"/><rect x="556.3" y="554.7"/><rect x="547.6" y="585.1"/><rect x="536.6" y="553.4"/><rect x="550.4" y="559.9"/><rect x="543.6" y="537.5"/><rect x="528.5" y="552.4"/><rect x="539.1" y="613.3"/><rect x="534.6" y="575.5"/><rect x="523.2" y="594.8"/><rect x="545.6" y="598.4"/><rect x="544.3" y="529.7"/><rect x="539.3" y="577"/><rect x="539.3" y="566.6"/><rect x="538.4" y="582.5"/><rect x="552.4" y="596.6"/><rect x="529.3" y="600.7"/><rect x="557.2" y="532.7"/><rect x="530.9" y="559.9"/><rect x="529.5" y="587.1"/><rect x="542.8" y="599"/><rect x="537.1" y="572.8"/><rect x="532.6" y="552.7"/><rect x="542.4" y="536.2"/><rect x="526.2" y="563.8"/><rect x="533.7" y="559.6"/><rect x="533.2" y="561.6"/><rect x="530.2" y="583.1"/><rect x="528.6" y="587.5"/><rect x="524.1" y="582.4"/><rect x="544.9" y="573.5"/><rect x="568.7" y="557.1"/><rect x="526.6" y="575.5"/><rect x="530.6" y="547.3"/><rect x="528.3" y="541.5"/><rect x="531.2" y="557.2"/><rect x="544.8" y="584.4"/><rect x="541.9" y="583.4"/><rect x="516" y="552.1"/><rect x="527.1" y="580.3"/><rect x="538.6" y="607.9"/><rect x="537" y="602.4"/><rect x="515.6" y="546.5"/><rect x="544.8" y="567.3"/><rect x="524.7" y="526.9"/><rect x="522.1" y="541.3"/><rect x="549.4" y="556.6"/><rect x="534.7" y="602.8"/><rect x="541.6" y="557.9"/><rect x="522.6" y="581.8"/><rect x="537" y="572.5"/><rect x="537.9" y="552.5"/><rect x="536.1" y="588.3"/><rect x="559.3" y="543.2"/><rect x="523.2" y="529.9"/><rect x="550.5" y="594.1"/><rect x="529.6" y="593"/><rect x="519.6" y="532.3"/><rect x="529.6" y="573.4"/><rect x="520.4" y="562.3"/><rect x="536.8" y="594.4"/><rect x="542.2" y="584.3"/><rect x="541" y="536"/><rect x="557.5" y="561.6"/><rect x="554.4" y="542.2"/><rect x="533.2" y="581.7"/><rect x="499.5" y="540.3"/><rect x="546.7" y="530.1"/><rect x="540.8" y="582.4"/><rect x="537.1" y="530"/><rect x="554.3" y="546.9"/><rect x="545.7" y="547.7"/><rect x="537.5" y="592.1"/><rect x="559.1" y="579.1"/><rect x="539.3" y="610.2"/><rect x="545.3" y="530.6"/><rect x="528.4" y="601.6"/><rect x="548.2" y="580.3"/><rect x="541.1" y="588.3"/><rect x="490.1" y="526.2"/><rect x="559.9" y="580"/><rect x="540.3" y="575.9"/><rect x="519" y="538.1"/><rect x="550.3" y="552.6"/><rect x="534" y="538.3"/><rect x="539.6" y="592.1"/><rect x="508.9" y="563.5"/><rect x="521.3" y="589"/><rect x="524.8" y="561.9"/><rect x="550.7" y="529.2"/><rect x="554.7" y="534.2"/><rect x="546.5" y="554.7"/><rect x="556.3" y="555.3"/><rect x="553" y="533.4"/><rect x="523.1" y="594.6"/><rect x="528.9" y="527.6"/><rect x="518.5" y="569.8"/><rect x="547.7" y="580.1"/><rect x="551.3" y="588.3"/><rect x="540.4" y="585.3"/><rect x="537.6" y="589.5"/><rect x="542.5" y="536.1"/><rect x="538" y="583.9"/><rect x="551" y="575.2"/><rect x="544.2" y="550.6"/><rect x="544.1" y="576.8"/><rect x="504.5" y="566.8"/><rect x="537.5" y="533.7"/><rect x="547" y="598"/><rect x="541" y="599.5"/><rect x="559.7" y="535.3"/><rect x="562.8" y="547.4"/><rect x="542.5" y="563.4"/><rect x="519.8" y="541.7"/><rect x="538" y="587.1"/><rect x="536" y="582"/><rect x="537.3" y="608.7"/><rect x="543.8" y="580.3"/><rect x="535.3" y="571.6"/><rect x="528.6" y="554.6"/><rect x="545.6" y="597.7"/><rect x="549.2" y="542.3"/><rect x="531.3" y="596.3"/><rect x="536.7" y="581.3"/><rect x="531.1" y="536.9"/><rect x="529.2" y="578.5"/><rect x="559" y="525.8"/><rect x="539.5" y="601.6"/><rect x="540.5" y="525.8"/><rect x="541.5" y="539.4"/><rect x="542.4" y="545.2"/><rect x="533.7" y="568.1"/><rect x="533.7" y="546.1"/><rect x="524" y="600.1"/><rect x="546.7" y="606.2"/><rect x="543.1" y="593.4"/><rect x="539.6" y="595"/><rect x="540.8" y="589.4"/><rect x="537" y="560.9"/><rect x="535.5" y="589.6"/><rect x="549.6" y="548.6"/><rect x="538.3" y="549.9"/><rect x="531.4" y="529.7"/><rect x="524.2" y="535.1"/><rect x="576.3" y="534.3"/><rect x="537.8" y="600.8"/><rect x="533" y="528.5"/><rect x="532.7" y="587.9"/><rect x="571.5" y="551.8"/><rect x="540.2" y="605.2"/><rect x="520.2" y="537.6"/><rect x="503.3" y="553.6"/><rect x="517.2" y="547.1"/><rect x="541.5" y="601"/><rect x="533.3" y="591.5"/><rect x="540" y="536.9"/><rect x="538.4" y="604.8"/><rect x="527.7" y="579"/><rect x="551.5" y="545"/><rect x="556" y="546.4"/><rect x="551.8" y="568.3"/><rect x="545.2" y="601.1"/><rect x="558" y="543"/><rect x="543.5" y="593.1"/><rect x="545" y="600.8"/><rect x="555.1" y="557.5"/><rect x="515" y="571.4"/><rect x="553.8" y="528.3"/><rect x="540.4" y="602"/><rect x="538.6" y="596.1"/><rect x="531.6" y="597.7"/><rect x="534.5" y="574.2"/><rect x="552.7" y="560.5"/><rect x="558.8" y="565.6"/><rect x="544.3" y="568.2"/><rect x="508.6" y="566.2"/><rect x="543.9" y="586.6"/><rect x="543.9" y="572.7"/><rect x="523.7" y="537.1"/><rect x="557.6" y="527.7"/><rect x="535.6" y="584.9"/><rect x="540.7" y="579.4"/><rect x="559.1" y="542.8"/><rect x="540.6" y="609.1"/><rect x="508.3" y="533.2"/><rect x="541.6" y="557.4"/><rect x="533.2" y="598.7"/><rect x="535" y="586.6"/><rect x="544.2" y="567.4"/><rect x="543.8" y="553.2"/><rect x="540" y="610.2"/><rect x="543.8" y="605"/><rect x="534.3" y="589.5"/><rect x="541" y="590.7"/><rect x="554.9" y="572.3"/><rect x="570.9" y="545.4"/><rect x="502.1" y="559"/><rect x="524" y="576.3"/><rect x="530.4" y="573.9"/><rect x="551.1" y="565.9"/><rect x="546.9" y="551.1"/><rect x="540.1" y="564.3"/><rect x="541.2" y="609.8"/><rect x="531.6" y="550.2"/><rect x="502.3" y="530.8"/><rect x="530.5" y="595.7"/><rect x="525.1" y="550.6"/><rect x="543.1" y="608.2"/><rect x="545" y="554.7"/><rect x="539.9" y="610.8"/><rect x="531.7" y="593.2"/><rect x="538.6" y="606.5"/><rect x="578.2" y="550.7"/><rect x="509.9" y="533.2"/><rect x="539.8" y="602"/><rect x="539.2" y="608.7"/><rect x="497" y="534.3"/><rect x="541.9" y="529.9"/><rect x="555.9" y="539.5"/><rect x="546.2" y="588.3"/><rect x="522.8" y="575.7"/><rect x="555.2" y="552.7"/><rect x="539.1" y="613.3"/><rect x="543.2" y="600.2"/><rect x="541.4" y="583.2"/><rect x="518.2" y="558.1"/><rect x="537.6" y="574.3"/><rect x="544" y="553.3"/><rect x="533.7" y="605"/><rect x="535.9" y="557.9"/><rect x="534.9" y="556.7"/><rect x="558.2" y="546.7"/><rect x="535" y="566.5"/><rect x="546.7" y="594.5"/><rect x="534.3" y="535.1"/><rect x="519.9" y="535.2"/><rect x="574.7" y="565.8"/><rect x="563" y="583.7"/><rect x="535.1" y="546.6"/><rect x="541" y="609.4"/><rect x="558.1" y="564.1"/><rect x="549.1" y="590.3"/><rect x="536.8" y="563.8"/><rect x="568.1" y="535.1"/><rect x="536.8" y="588.2"/><rect x="557.6" y="556.9"/><rect x="531.7" y="549.4"/><rect x="530.2" y="564.9"/><rect x="579.1" y="552.9"/><rect x="541.5" y="590.3"/><rect x="585.8" y="526.4"/><rect x="549.6" y="554.7"/><rect x="543.4" y="554.7"/><rect x="546.6" y="558.3"/><rect x="531.8" y="572.5"/><rect x="540.6" y="592"/><rect x="542.3" y="545.8"/><rect x="552.2" y="539.9"/><rect x="571" y="568.3"/><rect x="525.7" y="544.1"/><rect x="548.1" y="547.5"/><rect x="545.4" y="591.1"/><rect x="538.1" y="599.5"/><rect x="526.4" y="591.4"/><rect x="534.2" y="593.5"/><rect x="521.8" y="563.7"/><rect x="494.9" y="549"/><rect x="557.2" y="575.8"/><rect x="549.2" y="530.2"/><rect x="528.2" y="553.4"/><rect x="534.9" y="546.2"/><rect x="555.6" y="579.9"/><rect x="531.1" y="568.7"/><rect x="546.8" y="599"/><rect x="524.8" y="548.3"/><rect x="558.1" y="573.9"/><rect x="556.5" y="571.7"/><rect x="562.8" y="528.9"/><rect x="529.6" y="537.1"/><rect x="546" y="560.4"/><rect x="542.2" y="601.9"/><rect x="548.9" y="588.8"/><rect x="543.7" y="576.7"/><rect x="550.4" y="550.5"/><rect x="541.3" y="550.1"/><rect x="543.7" y="531.9"/><rect x="541" y="542.2"/><rect x="538.9" y="589.1"/><rect x="535" y="549.5"/><rect x="535.5" y="561.4"/><rect x="555.9" y="562.6"/><rect x="562.5" y="542"/><rect x="536" y="556.7"/><rect x="537.4" y="597"/><rect x="523.1" y="549.3"/><rect x="556.4" y="572.9"/><rect x="534.2" y="534.8"/><rect x="547.4" y="581"/><rect x="527.3" y="555.2"/><rect x="546.3" y="571.1"/><rect x="600.3" y="549.3"/><rect x="567.5" y="583.1"/><rect x="483.1" y="527"/><rect x="595.7" y="527"/></g><g class="b"><rect x="510.3" y="364.5"/><rect x="500.1" y="429.4"/><rect x="479.9" y="484.7"/><rect x="486" y="397.2"/><rect x="492.5" y="460"/><rect x="504.9" y="406.5"/><rect x="490.8" y="388.3"/><rect x="485.8" y="468"/><rect x="515.3" y="418.6"/><rect x="515.4" y="492.3"/><rect x="480.4" y="503.8"/><rect x="504.3" y="421.7"/><rect x="494.8" y="472.7"/><rect x="486.5" y="478"/><rect x="481" y="375.9"/><rect x="471.7" y="418.2"/><rect x="466.5" y="514.3"/><rect x="474.5" y="401.3"/><rect x="505.7" y="427.9"/><rect x="524.8" y="349.8"/><rect x="473.3" y="440.9"/><rect x="516.6" y="485.6"/><rect x="501.4" y="427"/><rect x="495.2" y="363"/><rect x="480.5" y="401.2"/><rect x="502" y="409.8"/><rect x="482.9" y="386.1"/><rect x="497.4" y="504.9"/><rect x="522.7" y="374.7"/><rect x="493.7" y="423.7"/><rect x="527.3" y="440"/><rect x="477.9" y="456.8"/><rect x="501.2" y="487.9"/><rect x="498.3" y="448.6"/><rect x="496.4" y="400.9"/><rect x="455.2" y="471"/><rect x="497.2" y="369.7"/><rect x="505.4" y="416"/><rect x="503.6" y="470.2"/><rect x="494.3" y="449.2"/><rect x="477" y="478.6"/><rect x="519.9" y="477.1"/><rect x="500.4" y="441.5"/><rect x="515" y="370.6"/><rect x="508.2" y="516.7"/><rect x="467.5" y="498.1"/><rect x="522" y="453.4"/><rect x="516.2" y="493.9"/><rect x="491.6" y="520.9"/><rect x="482.7" y="440.4"/><rect x="508.8" y="377.2"/><rect x="515.2" y="500.3"/><rect x="495.4" y="447.9"/><rect x="497.5" y="370.5"/><rect x="479.2" y="390.9"/><rect x="483.9" y="501.2"/><rect x="489.8" y="517.2"/><rect x="523.2" y="428.5"/><rect x="492.6" y="467.8"/><rect x="488.1" y="450.1"/><rect x="493.1" y="444.5"/><rect x="474.5" y="412.7"/><rect x="503.3" y="447.3"/><rect x="473.7" y="455.8"/><rect x="516.6" y="397.4"/><rect x="496.2" y="416.4"/><rect x="471.6" y="427.2"/><rect x="493.6" y="498.2"/><rect x="515.2" y="390"/><rect x="509.5" y="462.1"/><rect x="508.7" y="436"/><rect x="509.6" y="351.9"/><rect x="493.4" y="362.9"/><rect x="472.8" y="404.9"/><rect x="483.3" y="504.5"/><rect x="493" y="381.9"/><rect x="471" y="432.7"/><rect x="484.5" y="408.5"/><rect x="516.3" y="393.3"/><rect x="518.2" y="485.4"/><rect x="504.9" y="349.6"/><rect x="489.6" y="422.4"/><rect x="495.6" y="499.4"/><rect x="478.2" y="432.6"/><rect x="495.5" y="509.7"/><rect x="487.3" y="375.3"/><rect x="476.6" y="498.7"/><rect x="480.2" y="414.4"/><rect x="474.1" y="430.8"/><rect x="485.9" y="476.6"/><rect x="515.3" y="501.5"/><rect x="520.6" y="434.6"/><rect x="499.9" y="479.9"/><rect x="524.9" y="495.7"/><rect x="484.2" y="418.2"/><rect x="486.7" y="497"/><rect x="510.4" y="444.3"/><rect x="507.3" y="392.1"/><rect x="486.8" y="507.8"/><rect x="484.8" y="452"/><rect x="525.8" y="493.1"/><rect x="483.7" y="400.2"/><rect x="489.6" y="412.2"/><rect x="509.4" y="358.7"/><rect x="490.5" y="430.7"/><rect x="483.9" y="413.1"/><rect x="517.1" y="416.8"/><rect x="522.7" y="522.4"/><rect x="482.1" y="437.4"/><rect x="519.5" y="405.2"/><rect x="501.1" y="415.1"/><rect x="483" y="365.6"/><rect x="473.4" y="400.2"/><rect x="517.7" y="401.2"/><rect x="507.1" y="393.5"/><rect x="523.7" y="427"/><rect x="519.5" y="457.1"/><rect x="479" y="513.3"/><rect x="478.1" y="369.3"/><rect x="499.8" y="464.7"/><rect x="485.1" y="393"/><rect x="482.4" y="473.8"/><rect x="496.4" y="393.5"/><rect x="484.7" y="409.6"/><rect x="488.7" y="445.6"/><rect x="494.8" y="490"/><rect x="487.9" y="504.7"/><rect x="517" y="379.9"/><rect x="519.4" y="414.6"/><rect x="475.3" y="487.5"/><rect x="512.9" y="492.1"/><rect x="521.4" y="410.1"/><rect x="524.6" y="492.7"/><rect x="527.4" y="427.6"/><rect x="473.3" y="457.8"/><rect x="521.9" y="465.9"/><rect x="520.7" y="369.3"/><rect x="481.4" y="507.5"/><rect x="498.3" y="499.3"/><rect x="524.1" y="435.4"/><rect x="478" y="516.2"/><rect x="472.9" y="412.4"/><rect x="463.3" y="468.3"/><rect x="480.5" y="405"/><rect x="478.8" y="437.1"/><rect x="491.5" y="398.8"/><rect x="512" y="468.4"/><rect x="512.4" y="362.2"/><rect x="513" y="421.9"/><rect x="504.4" y="507.7"/><rect x="524.1" y="504.6"/><rect x="460.6" y="476.6"/><rect x="520.2" y="362.9"/><rect x="476.5" y="393.7"/><rect x="478.6" y="477.9"/><rect x="487.4" y="384.6"/><rect x="480.3" y="495.9"/><rect x="505" y="428.2"/><rect x="494.1" y="442"/><rect x="484.7" y="395.5"/><rect x="522.7" y="378.5"/><rect x="476.1" y="442.2"/><rect x="473.1" y="463.6"/><rect x="526.3" y="402.5"/><rect x="490.4" y="422.7"/><rect x="465.2" y="488.4"/><rect x="496.5" y="384.1"/><rect x="508.3" y="489.3"/><rect x="494.4" y="400.6"/><rect x="518" y="355.7"/><rect x="515.5" y="467.9"/><rect x="498.2" y="395.6"/><rect x="502.4" y="416.3"/><rect x="475.5" y="383.9"/><rect x="489.4" y="492.2"/><rect x="480.7" y="507.9"/><rect x="470.3" y="412.9"/><rect x="494.9" y="394"/><rect x="490" y="379.1"/><rect x="503.1" y="388.1"/><rect x="463.5" y="467.3"/><rect x="469" y="499"/><rect x="470.5" y="412.3"/><rect x="525.9" y="390"/><rect x="467.9" y="475.4"/><rect x="512.2" y="418.4"/><rect x="479" y="474"/><rect x="488.1" y="436.6"/><rect x="473.3" y="459.6"/><rect x="485.4" y="461"/><rect x="479.6" y="476.6"/><rect x="513.7" y="432.5"/><rect x="506.8" y="420.7"/><rect x="503.7" y="345.6"/><rect x="504.2" y="457.4"/><rect x="516.7" y="445.7"/><rect x="500.2" y="408.1"/><rect x="501.4" y="405.8"/><rect x="477.1" y="402.8"/><rect x="507.3" y="514.7"/><rect x="500.1" y="442.6"/><rect x="483.5" y="472.3"/><rect x="483.1" y="513.4"/><rect x="487.2" y="411.2"/><rect x="506.8" y="517.4"/><rect x="504.2" y="363.1"/><rect x="499.5" y="450.6"/><rect x="509.5" y="491.3"/><rect x="524.6" y="508.5"/><rect x="472" y="440.3"/><rect x="506.8" y="473"/><rect x="514.3" y="514.6"/><rect x="495.2" y="406.3"/><rect x="524.2" y="476.8"/><rect x="507.2" y="483.1"/><rect x="517.5" y="345.8"/><rect x="521.4" y="364.2"/><rect x="477.9" y="453.7"/><rect x="523.2" y="500"/><rect x="503.4" y="501"/><rect x="503.6" y="388.1"/><rect x="475.9" y="482.6"/><rect x="489.3" y="515.2"/><rect x="503.5" y="517.5"/><rect x="452.7" y="498.6"/><rect x="505.9" y="369.3"/><rect x="507.8" y="419.6"/><rect x="453.7" y="423.8"/><rect x="485.5" y="460.4"/><rect x="494.2" y="496.5"/><rect x="492.3" y="475.5"/><rect x="515.5" y="425.7"/><rect x="508.9" y="384.1"/><rect x="512.2" y="362.6"/><rect x="474.5" y="392.7"/><rect x="520.8" y="434.6"/><rect x="500.3" y="474.2"/><rect x="487.2" y="445.5"/><rect x="481.3" y="515.3"/><rect x="459.9" y="442.5"/><rect x="475.7" y="496.4"/><rect x="500.6" y="421.2"/><rect x="523" y="403.5"/><rect x="495.8" y="501.3"/><rect x="475.3" y="433.1"/><rect x="509.2" y="471.8"/><rect x="480.3" y="500.5"/><rect x="489.3" y="463.5"/><rect x="506.5" y="413.1"/><rect x="495.4" y="478.4"/><rect x="479" y="490.1"/><rect x="497.7" y="496.4"/><rect x="463" y="409"/><rect x="489.9" y="387.2"/><rect x="504.3" y="397.9"/><rect x="504" y="426.6"/><rect x="501.5" y="359.1"/><rect x="523" y="412.6"/><rect x="474.1" y="409.5"/><rect x="509.3" y="435.5"/><rect x="478.9" y="413.7"/><rect x="516.7" y="453.6"/><rect x="507.2" y="434"/><rect x="512.1" y="477.4"/><rect x="522.5" y="481"/><rect x="500.5" y="372.7"/><rect x="488.8" y="442.5"/><rect x="485.1" y="492.2"/><rect x="496.7" y="505"/><rect x="470.8" y="518.6"/><rect x="516.8" y="380.2"/><rect x="484.6" y="385.5"/><rect x="484.5" y="478.8"/><rect x="525.6" y="431.6"/><rect x="498.5" y="419.5"/><rect x="479.6" y="427.8"/><rect x="496.1" y="412.5"/><rect x="484.3" y="471.8"/><rect x="510.9" y="451.6"/><rect x="478.6" y="440.4"/><rect x="511.5" y="357.5"/><rect x="510.7" y="441.2"/><rect x="488.5" y="520.8"/><rect x="476" y="427.9"/><rect x="497.2" y="471.9"/><rect x="493.7" y="467.6"/><rect x="485" y="511.5"/><rect x="504.2" y="389.1"/><rect x="507.7" y="365.4"/><rect x="474.1" y="439.5"/><rect x="481.6" y="475.5"/><rect x="463.7" y="386"/><rect x="519.1" y="361.1"/><rect x="490.4" y="501"/><rect x="479.8" y="441.1"/><rect x="514.7" y="435.3"/><rect x="493.7" y="501.3"/><rect x="514.5" y="349.9"/><rect x="505.9" y="362.4"/><rect x="501.2" y="395.4"/><rect x="504.8" y="413.2"/><rect x="507.2" y="436.8"/><rect x="522.2" y="512.7"/><rect x="475.5" y="457.6"/><rect x="474.1" y="401"/><rect x="445.3" y="380.2"/><rect x="471.8" y="463.3"/><rect x="486.4" y="430.3"/><rect x="479" y="507.5"/><rect x="496.3" y="442.8"/><rect x="526.2" y="485.4"/><rect x="523.2" y="421.9"/><rect x="474.5" y="491.2"/><rect x="498.2" y="387.2"/><rect x="526.5" y="426.4"/><rect x="475.5" y="400.7"/><rect x="514.8" y="453.4"/><rect x="526.5" y="375.7"/><rect x="471.2" y="435.1"/><rect x="480.7" y="523.7"/><rect x="493.2" y="451.7"/><rect x="515.7" y="411.9"/><rect x="456.8" y="518.5"/><rect x="486.8" y="483.7"/><rect x="512.7" y="463.7"/><rect x="503.7" y="476.5"/><rect x="507.7" y="498.8"/><rect x="513.4" y="469.8"/><rect x="482.8" y="464.9"/><rect x="479.5" y="472.9"/><rect x="503.1" y="479.7"/><rect x="479.7" y="390.4"/><rect x="483.6" y="459.7"/><rect x="522" y="420.8"/><rect x="502.7" y="477.6"/><rect x="519.8" y="511.3"/><rect x="505.9" y="449.8"/><rect x="499.2" y="434.2"/><rect x="482.9" y="386.3"/><rect x="478.8" y="431.6"/><rect x="478.3" y="479.2"/><rect x="505.9" y="434.1"/><rect x="497.3" y="392.3"/><rect x="493.2" y="440"/><rect x="509.2" y="370.9"/><rect x="521.4" y="471.3"/><rect x="519.8" y="431.8"/><rect x="519.2" y="416.4"/><rect x="523" y="431.6"/><rect x="517.2" y="383.3"/><rect x="509.8" y="378.6"/><rect x="515.3" y="462.9"/><rect x="486.7" y="522.3"/><rect x="492.3" y="401.9"/><rect x="511.5" y="351.8"/><rect x="484" y="515"/><rect x="502.7" y="503.9"/><rect x="489.6" y="491.4"/><rect x="508.8" y="508.4"/><rect x="526.2" y="451.1"/><rect x="488.9" y="470"/><rect x="510.7" y="429.9"/><rect x="489.5" y="431.2"/><rect x="509.7" y="348.6"/><rect x="497.1" y="495.4"/><rect x="514.3" y="398.5"/><rect x="504.9" y="451"/><rect x="474.9" y="463.3"/><rect x="514.2" y="516"/><rect x="472.1" y="405.3"/><rect x="518.3" y="415.3"/><rect x="520.1" y="450.4"/><rect x="498.8" y="456.4"/><rect x="477.2" y="415.1"/><rect x="527.1" y="382.7"/><rect x="473.5" y="482"/><rect x="496.3" y="414.5"/><rect x="514.4" y="374.3"/><rect x="475.8" y="471.3"/><rect x="524.9" y="437.3"/><rect x="502.3" y="438.5"/><rect x="471" y="405.5"/><rect x="480.8" y="449.9"/><rect x="478.4" y="492.3"/><rect x="508" y="438.4"/><rect x="489.2" y="377.1"/><rect x="502.7" y="508.9"/><rect x="473.7" y="399.7"/><rect x="479.4" y="418.3"/><rect x="478.3" y="451.5"/><rect x="476.6" y="377.7"/><rect x="522.1" y="392.8"/><rect x="491.3" y="476.1"/><rect x="489.1" y="448"/><rect x="475.5" y="388.1"/><rect x="474.1" y="393.6"/><rect x="466.7" y="465.4"/><rect x="470" y="466"/><rect x="520.1" y="513.4"/><rect x="512.7" y="428.6"/><rect x="511.5" y="426.1"/><rect x="481.5" y="476.6"/><rect x="492.9" y="461.5"/><rect x="527.6" y="419.2"/><rect x="495.9" y="493.1"/><rect x="492.8" y="406.3"/><rect x="484.4" y="478.8"/><rect x="479.1" y="404.4"/><rect x="525.1" y="520.5"/><rect x="494.9" y="401"/><rect x="492" y="464.6"/><rect x="494.2" y="466.1"/><rect x="489" y="455.8"/><rect x="499.7" y="368.6"/><rect x="472.1" y="515.6"/><rect x="484.4" y="388.3"/><rect x="513.3" y="432.2"/><rect x="524.4" y="522.3"/><rect x="477.3" y="439.6"/><rect x="504.6" y="387"/><rect x="466.5" y="406.2"/><rect x="494.7" y="472.3"/><rect x="478.8" y="490.4"/><rect x="517.4" y="464.1"/><rect x="493.1" y="433.8"/><rect x="509.2" y="382.7"/><rect x="479.4" y="467.8"/><rect x="482.6" y="408.8"/><rect x="519.7" y="444.3"/><rect x="495.7" y="410.6"/><rect x="522.3" y="517"/><rect x="502.3" y="521.5"/><rect x="495.1" y="524.2"/><rect x="524.4" y="463.4"/><rect x="510.7" y="520.6"/><rect x="488.3" y="407.9"/><rect x="461.3" y="447.7"/><rect x="480.9" y="513"/><rect x="499.8" y="409.8"/><rect x="514.8" y="507.5"/><rect x="508.1" y="465.5"/><rect x="481" y="419.6"/><rect x="442.1" y="443.1"/><rect x="508.2" y="491.9"/><rect x="520.2" y="384.8"/><rect x="486.4" y="466.3"/><rect x="478.8" y="465.2"/><rect x="484.6" y="466.4"/><rect x="502.5" y="463.5"/><rect x="492.7" y="366.2"/><rect x="493.9" y="514.6"/><rect x="476.1" y="445.4"/><rect x="478.5" y="477.5"/><rect x="518" y="461.9"/><rect x="513.3" y="443.4"/><rect x="514" y="460.9"/><rect x="475" y="442.9"/><rect x="525.4" y="363.1"/><rect x="496.6" y="518.3"/><rect x="504.8" y="355.5"/><rect x="522.8" y="500.2"/><rect x="501.4" y="406.4"/><rect x="520.8" y="405.1"/><rect x="468" y="459.3"/><rect x="480.1" y="481.6"/><rect x="484.5" y="413.3"/><rect x="520.1" y="511.6"/><rect x="493.5" y="431"/><rect x="507.4" y="435"/><rect x="523.8" y="411.5"/><rect x="509.7" y="383.1"/><rect x="498" y="413.4"/><rect x="511.3" y="490.5"/><rect x="517.9" y="499"/><rect x="486.4" y="431.6"/><rect x="477.9" y="492.1"/><rect x="487.3" y="497.8"/><rect x="468.7" y="446.4"/><rect x="514.3" y="513.7"/><rect x="475" y="513.5"/><rect x="519.9" y="497.6"/><rect x="486.3" y="502.7"/><rect x="499.9" y="369.4"/><rect x="498.5" y="518"/><rect x="481.9" y="385.5"/><rect x="485" y="428.1"/><rect x="491.7" y="368.5"/><rect x="527" y="505.2"/><rect x="472.4" y="410.4"/><rect x="482.6" y="383.8"/><rect x="466.4" y="472.1"/><rect x="505.9" y="402.4"/><rect x="483.8" y="479.7"/><rect x="511.5" y="370.8"/><rect x="522.2" y="509"/><rect x="515" y="350.3"/><rect x="481.6" y="492.9"/><rect x="486.3" y="466.8"/><rect x="519.9" y="421.3"/><rect x="497.5" y="440.5"/><rect x="488" y="434.8"/><rect x="524.3" y="517.5"/><rect x="490.4" y="517.9"/><rect x="521.5" y="477.5"/><rect x="507.1" y="369.2"/><rect x="477.3" y="423"/><rect x="478.5" y="487.9"/><rect x="479.7" y="419.5"/><rect x="509.9" y="460.7"/><rect x="473.8" y="460.1"/><rect x="502.7" y="395.4"/><rect x="513.1" y="408.1"/><rect x="491.2" y="403.2"/><rect x="477.2" y="368.1"/><rect x="511.4" y="370.4"/><rect x="461.3" y="467.4"/><rect x="499.2" y="378"/><rect x="518.1" y="381.2"/><rect x="483.6" y="397.8"/><rect x="483.5" y="453.4"/><rect x="493.8" y="463.2"/><rect x="519.5" y="459.7"/><rect x="495.4" y="470"/><rect x="489.9" y="443.6"/><rect x="489" y="449.4"/><rect x="525.3" y="462.3"/><rect x="525.4" y="395.8"/><rect x="468.5" y="461"/><rect x="510.5" y="379.1"/><rect x="468.3" y="462.2"/><rect x="514.4" y="467.5"/><rect x="498.7" y="486.4"/><rect x="498.8" y="419.6"/><rect x="472.4" y="423.1"/><rect x="520.1" y="481"/><rect x="475.5" y="476.7"/><rect x="476.2" y="471.4"/><rect x="521.9" y="441.4"/><rect x="500.4" y="501.4"/><rect x="484.7" y="405.1"/><rect x="484.3" y="505.4"/><rect x="510.2" y="385.4"/><rect x="475.7" y="497.1"/><rect x="519.7" y="492.3"/><rect x="515.7" y="438.3"/><rect x="480" y="519.4"/><rect x="514.6" y="396.6"/><rect x="495.2" y="367.5"/><rect x="465.5" y="470.9"/><rect x="493.9" y="505.6"/><rect x="498.5" y="377.2"/><rect x="493" y="389.2"/><rect x="510.1" y="358.3"/><rect x="505" y="471.1"/><rect x="511.5" y="477.6"/><rect x="519.7" y="515.4"/><rect x="495.9" y="363.6"/><rect x="469.7" y="379.1"/><rect x="509.7" y="481.3"/><rect x="500.4" y="366"/><rect x="516.2" y="426.1"/><rect x="498.6" y="443"/><rect x="478.7" y="403.1"/><rect x="474.9" y="406.7"/><rect x="481.4" y="487.2"/><rect x="514.7" y="414.5"/><rect x="480" y="393"/><rect x="485.1" y="499.6"/><rect x="499.5" y="384.7"/><rect x="519.1" y="428.6"/><rect x="486.1" y="522.9"/><rect x="505.3" y="351.3"/><rect x="523.2" y="517.9"/><rect x="499.9" y="507"/><rect x="511.5" y="469.3"/><rect x="473.9" y="443.2"/><rect x="483.8" y="475.5"/><rect x="477.1" y="449.7"/><rect x="512.6" y="439.5"/><rect x="478.6" y="427.8"/><rect x="484.8" y="370.3"/><rect x="490.7" y="495.8"/><rect x="505.3" y="394.4"/><rect x="486.9" y="440.9"/><rect x="482.6" y="518.5"/><rect x="521.5" y="499.9"/><rect x="494.4" y="392"/><rect x="463.6" y="462.3"/><rect x="473.6" y="395"/><rect x="450.7" y="485.4"/><rect x="517.6" y="388.7"/><rect x="506.6" y="494.9"/><rect x="490.9" y="427.8"/><rect x="475.6" y="500.9"/><rect x="486.2" y="444"/><rect x="521.2" y="457.2"/><rect x="503.8" y="432"/><rect x="514.6" y="407.8"/><rect x="478.6" y="459.4"/><rect x="507.4" y="512.8"/><rect x="486.4" y="436.6"/><rect x="501.1" y="467.2"/><rect x="504" y="510.2"/><rect x="477.7" y="509.6"/><rect x="478.4" y="449.3"/><rect x="499.9" y="452.8"/><rect x="494.5" y="478.4"/><rect x="473" y="431.2"/><rect x="505.3" y="374.9"/><rect x="521.5" y="457.7"/><rect x="502.2" y="350.1"/><rect x="499.4" y="369.9"/><rect x="481.1" y="515.2"/><rect x="516" y="510.1"/><rect x="521.4" y="390.2"/><rect x="472" y="373.3"/><rect x="507.3" y="401.1"/><rect x="494.6" y="439.9"/><rect x="480.2" y="412.8"/><rect x="442.1" y="450.4"/><rect x="487.3" y="515.7"/><rect x="494.5" y="520.8"/><rect x="513.9" y="389.9"/><rect x="468.9" y="389.6"/><rect x="511.9" y="420.4"/><rect x="476.8" y="422.1"/><rect x="445.2" y="463.1"/><rect x="476.8" y="416.1"/><rect x="506.7" y="384.4"/><rect x="523.4" y="373.7"/><rect x="479.5" y="434.6"/><rect x="467.3" y="498"/><rect x="473.3" y="476.4"/><rect x="487" y="424.1"/><rect x="462.8" y="425"/><rect x="451" y="438.2"/><rect x="512.8" y="517.1"/><rect x="517.8" y="506.2"/><rect x="478.8" y="450.8"/><rect x="523.7" y="503.4"/><rect x="527.5" y="496"/><rect x="494.7" y="479.5"/><rect x="486.1" y="445.9"/><rect x="501.7" y="442.6"/><rect x="478.2" y="508.1"/><rect x="499" y="469.7"/><rect x="475.1" y="384.6"/><rect x="442.1" y="390.4"/><rect x="516.7" y="477.4"/><rect x="476.7" y="434"/><rect x="478" y="457.8"/><rect x="517.5" y="472.3"/><rect x="516.7" y="404.7"/><rect x="481.5" y="515.2"/><rect x="494.3" y="410.9"/><rect x="485.9" y="454.2"/><rect x="462.8" y="445.4"/><rect x="511.7" y="437.1"/><rect x="511.2" y="483.1"/><rect x="511" y="393.9"/><rect x="471.4" y="475.5"/><rect x="524.7" y="456.8"/><rect x="491.8" y="512.3"/><rect x="490.1" y="456.9"/><rect x="501" y="428.6"/><rect x="524.3" y="370.8"/><rect x="526.1" y="367.9"/><rect x="505.6" y="390.1"/><rect x="484.1" y="426.7"/><rect x="505.4" y="407.8"/><rect x="523.1" y="512.4"/><rect x="511" y="429.9"/><rect x="506" y="516.1"/><rect x="513.5" y="405.3"/><rect x="513.3" y="450.5"/><rect x="494.3" y="440.2"/><rect x="476.5" y="473.7"/><rect x="486.4" y="506.9"/><rect x="517" y="477.7"/><rect x="473.8" y="451"/><rect x="489.2" y="388.4"/><rect x="503.4" y="384"/><rect x="471.9" y="450.6"/><rect x="487.9" y="414.5"/><rect x="485.3" y="513.6"/><rect x="508.2" y="505.4"/><rect x="497" y="356.7"/><rect x="520.9" y="403.7"/><rect x="472.7" y="442.8"/><rect x="525.6" y="486"/><rect x="501.4" y="518.7"/><rect x="509.4" y="354.1"/><rect x="486.7" y="398"/><rect x="501.1" y="480.3"/><rect x="478.4" y="463.6"/><rect x="495.4" y="459.8"/><rect x="480.7" y="503.6"/><rect x="461.9" y="475.3"/><rect x="492.9" y="363.5"/><rect x="515.8" y="491.9"/><rect x="487.3" y="424.5"/><rect x="489.4" y="507.4"/><rect x="512.2" y="460.3"/><rect x="499.2" y="521.9"/><rect x="469.2" y="433"/><rect x="523.8" y="392.5"/><rect x="499" y="518.5"/><rect x="476" y="422.9"/><rect x="478.1" y="467.5"/><rect x="495.5" y="515"/><rect x="511.5" y="449.3"/><rect x="520.6" y="472.7"/><rect x="472.1" y="418.9"/><rect x="473.4" y="448.4"/><rect x="500.1" y="409.1"/><rect x="516.4" y="355.7"/><rect x="520.8" y="373"/><rect x="501.5" y="449.5"/><rect x="497.4" y="515.8"/><rect x="478" y="397.4"/><rect x="519.3" y="420.9"/><rect x="506.6" y="381"/><rect x="481.4" y="506"/><rect x="510.7" y="450.7"/><rect x="524.3" y="346.7"/><rect x="523.1" y="398.1"/><rect x="485.7" y="520.4"/><rect x="468.1" y="490.2"/><rect x="507" y="406.1"/><rect x="522.5" y="414"/><rect x="497.8" y="362.4"/><rect x="486.8" y="349.4"/><rect x="484.1" y="465.6"/><rect x="463.2" y="354"/><rect x="462.2" y="392.4"/><rect x="525.7" y="398.2"/><rect x="473.5" y="461.4"/><rect x="490.2" y="483.6"/><rect x="470.7" y="492.2"/><rect x="491.1" y="510.1"/><rect x="485.6" y="397"/><rect x="489.5" y="396.5"/><rect x="502.6" y="426.5"/><rect x="503" y="417.1"/><rect x="466.6" y="519.5"/><rect x="492.9" y="510.2"/><rect x="522.6" y="427.6"/><rect x="504.3" y="426.2"/><rect x="497" y="463.4"/><rect x="498.6" y="412.3"/><rect x="525.9" y="504.6"/><rect x="515.9" y="382.5"/><rect x="499.5" y="393.8"/><rect x="508.1" y="402.3"/><rect x="517.5" y="455.9"/><rect x="519.7" y="431.2"/><rect x="511.4" y="365.8"/><rect x="492.4" y="396.8"/><rect x="518.6" y="447"/><rect x="511.5" y="455.5"/><rect x="491.2" y="372.1"/><rect x="471.6" y="412.7"/><rect x="482.3" y="458.3"/><rect x="496" y="412"/><rect x="505.5" y="437.7"/><rect x="480.8" y="514.6"/><rect x="495" y="382.9"/><rect x="515.6" y="450.2"/><rect x="484.9" y="520"/><rect x="471.8" y="424"/><rect x="484.7" y="490"/><rect x="478.6" y="519.9"/><rect x="499.5" y="506.4"/><rect x="511.8" y="513.7"/><rect x="472.3" y="475.3"/><rect x="483" y="426.5"/><rect x="482.6" y="397.8"/><rect x="509.3" y="520"/><rect x="503.9" y="513.5"/><rect x="480.6" y="383.8"/><rect x="476.8" y="464.4"/><rect x="483" y="382.4"/><rect x="490.5" y="443.2"/><rect x="493.8" y="496.4"/><rect x="516.2" y="385.3"/><rect x="487.1" y="513.4"/><rect x="455.7" y="438.1"/><rect x="490.7" y="412.1"/><rect x="520.7" y="402.8"/><rect x="457.3" y="443"/><rect x="483.3" y="367.2"/><rect x="502.6" y="518.8"/><rect x="489.3" y="514.5"/><rect x="488.4" y="497"/><rect x="509.6" y="510.6"/><rect x="474.6" y="449.2"/><rect x="475.4" y="465.5"/><rect x="477.5" y="378.7"/><rect x="472" y="442.5"/><rect x="499.9" y="405.2"/><rect x="452.8" y="343.2"/><rect x="465.9" y="343.2"/><rect x="521.7" y="343.2"/><rect x="468.2" y="343.2"/><rect x="490.9" y="343.2"/><rect x="521.7" y="343.2"/><rect x="496.1" y="343.2"/><rect x="473.7" y="343.2"/><rect x="497.2" y="343.2"/><rect x="460.4" y="343.2"/><rect x="472" y="343.2"/><rect x="504.7" y="343.2"/><rect x="494.5" y="343.2"/><rect x="455.2" y="343.2"/><rect x="481.1" y="343.2"/><rect x="516.8" y="343.2"/><rect x="496.7" y="343.2"/><rect x="513.8" y="343.2"/><rect x="508.5" y="343.2"/><rect x="485" y="343.2"/><rect x="506.5" y="343.2"/><rect x="453.4" y="343.2"/><rect x="485.5" y="343.2"/><rect x="487.2" y="343.2"/><rect x="479.1" y="343.2"/><rect x="517.7" y="343.2"/><rect x="475.4" y="343.2"/><rect x="486.4" y="343.2"/><rect x="482.5" y="343.2"/><rect x="521.2" y="343.2"/><rect x="488.8" y="343.2"/><rect x="471.1" y="343.2"/><rect x="503.2" y="343.2"/><rect x="496.4" y="343.2"/><rect x="459.7" y="343.2"/><rect x="522" y="343.2"/><rect x="494.2" y="343.2"/><rect x="480.6" y="343.2"/><rect x="518.7" y="343.2"/><rect x="494" y="343.2"/><rect x="454.4" y="343.2"/><rect x="486.8" y="343.2"/><rect x="500.8" y="343.2"/><rect x="507.5" y="343.2"/><rect x="502" y="343.2"/><rect x="493.6" y="343.2"/><rect x="501.3" y="343.2"/><rect x="488.9" y="343.2"/><rect x="480.3" y="343.2"/><rect x="472.4" y="343.2"/><rect x="465.6" y="343.2"/><rect x="510.7" y="343.2"/><rect x="525.4" y="343.2"/><rect x="490.4" y="343.2"/><rect x="494.4" y="343.2"/><rect x="515.5" y="343.2"/><rect x="490.2" y="343.2"/><rect x="494.8" y="343.2"/><rect x="482.1" y="343.2"/><rect x="502.2" y="343.2"/><rect x="498.4" y="343.2"/><rect x="524.2" y="343.2"/><rect x="517.3" y="343.2"/><rect x="489.2" y="343.2"/><rect x="516.4" y="343.2"/><rect x="454.5" y="343.2"/><rect x="517.4" y="343.2"/><rect x="452.3" y="343.2"/><rect x="466.1" y="343.2"/><rect x="492.7" y="343.2"/><rect x="412.8" y="343.2"/><rect x="431.6" y="343.2"/><rect x="441" y="343.2"/><rect x="419.9" y="417.5"/><rect x="423.4" y="437.8"/><rect x="425.7" y="451.3"/><rect x="433.9" y="468.2"/><rect x="443.3" y="448"/><rect x="445.6" y="464.8"/><rect x="445.6" y="370.2"/><rect x="450.3" y="380.4"/><rect x="462" y="373.6"/><rect x="443.3" y="400.7"/><rect x="457.4" y="404"/></g><g class="r"><rect x="560.4" y="443"/><rect x="573.5" y="459"/><rect x="556.5" y="473.7"/><rect x="573" y="378.4"/><rect x="564.2" y="350.8"/><rect x="568.4" y="365.4"/><rect x="583.6" y="415.2"/><rect x="577.1" y="499.8"/><rect x="555.3" y="416"/><rect x="582.7" y="509.7"/><rect x="554.7" y="394.4"/><rect x="559.1" y="447.9"/><rect x="571.5" y="369.9"/><rect x="556.5" y="376.7"/><rect x="580.7" y="488.7"/><rect x="565.6" y="501.6"/><rect x="580.4" y="457.7"/><rect x="561.8" y="510.7"/><rect x="577.9" y="490.1"/><rect x="569.1" y="402.5"/><rect x="582.7" y="379.9"/><rect x="563.6" y="431.7"/><rect x="564.6" y="354.7"/><rect x="557.6" y="500"/><rect x="577.4" y="475.3"/><rect x="578.7" y="474"/><rect x="556.6" y="499.6"/><rect x="566.7" y="406.5"/><rect x="584.1" y="496"/><rect x="581.4" y="415.9"/><rect x="569.5" y="392"/><rect x="627.7" y="477.3"/><rect x="573.9" y="484.9"/><rect x="561.9" y="374.7"/><rect x="579" y="488.1"/><rect x="567.4" y="495.4"/><rect x="560.8" y="472"/><rect x="573.3" y="419.5"/><rect x="575" y="385.4"/><rect x="586.7" y="425.7"/><rect x="585.1" y="392.7"/><rect x="575.8" y="495.7"/><rect x="565.6" y="496.1"/><rect x="556.6" y="438.9"/><rect x="591.2" y="427.4"/><rect x="564.2" y="374.7"/><rect x="581.2" y="473.2"/><rect x="597.3" y="470"/><rect x="559.8" y="457.4"/><rect x="571.9" y="365.4"/><rect x="560.7" y="370"/><rect x="554.7" y="346"/><rect x="559.1" y="352.5"/><rect x="552.4" y="405.5"/><rect x="559.8" y="360.2"/><rect x="583.2" y="465.1"/><rect x="564.3" y="441.6"/><rect x="584.3" y="471.2"/><rect x="570" y="372.7"/><rect x="575.8" y="387.7"/><rect x="558.2" y="479.6"/><rect x="560.6" y="485.9"/><rect x="568.1" y="484.7"/><rect x="588.6" y="508.3"/><rect x="563.1" y="365.6"/><rect x="577.9" y="449.4"/><rect x="554.5" y="428.4"/><rect x="571.5" y="463.3"/><rect x="566.4" y="443"/><rect x="573.2" y="448.6"/><rect x="562.1" y="359.8"/><rect x="564.2" y="412.6"/><rect x="558.3" y="508.7"/><rect x="565.6" y="488"/><rect x="571.6" y="474.6"/><rect x="573.7" y="456.6"/><rect x="571.5" y="362"/><rect x="575.3" y="463.8"/><rect x="566.1" y="447.9"/><rect x="566.4" y="518"/><rect x="563.5" y="518.6"/><rect x="582.4" y="455"/><rect x="582.6" y="462.2"/><rect x="583" y="522.1"/><rect x="582.7" y="470.1"/><rect x="573" y="448.8"/><rect x="598.2" y="439.4"/><rect x="569.5" y="364.1"/><rect x="561.7" y="404"/><rect x="562.6" y="454"/><rect x="577.7" y="507.3"/><rect x="559.8" y="414.1"/><rect x="574.6" y="478.9"/><rect x="566.2" y="389.5"/><rect x="574.8" y="389.6"/><rect x="579.4" y="512.1"/><rect x="560.7" y="356.4"/><rect x="574.7" y="424.3"/><rect x="569.7" y="516.2"/><rect x="575.9" y="477.8"/><rect x="570.9" y="375.6"/><rect x="566.1" y="402.7"/><rect x="561.2" y="428.5"/><rect x="579.9" y="462.5"/><rect x="574.2" y="393.3"/><rect x="558.6" y="484.8"/><rect x="576.2" y="459.7"/><rect x="558" y="390.3"/><rect x="582.8" y="479.6"/><rect x="576.9" y="410.8"/><rect x="562.8" y="436.6"/><rect x="554.7" y="511.1"/><rect x="565.4" y="511.6"/><rect x="551.1" y="395.4"/><rect x="561.7" y="421.2"/><rect x="561.4" y="484.9"/><rect x="555.1" y="429.9"/><rect x="585.4" y="418.7"/><rect x="565.2" y="477.4"/><rect x="564.1" y="487.1"/><rect x="570.2" y="444"/><rect x="583.3" y="512"/><rect x="553.2" y="406.7"/><rect x="589.2" y="410.9"/><rect x="552.7" y="451.7"/><rect x="557.1" y="511.3"/><rect x="554.3" y="420.1"/><rect x="557.6" y="485.6"/><rect x="574.3" y="398.4"/><rect x="567.7" y="386.6"/><rect x="575.7" y="430"/><rect x="562.8" y="472.3"/><rect x="587.4" y="458.9"/><rect x="599.9" y="375"/><rect x="607.7" y="402.9"/><rect x="560.1" y="454.8"/><rect x="569" y="351.1"/><rect x="559.3" y="492"/><rect x="562.5" y="431.4"/><rect x="580.7" y="419.4"/><rect x="555.8" y="411.6"/><rect x="573.4" y="383.2"/><rect x="577.7" y="441.9"/><rect x="555.7" y="491.4"/><rect x="581.5" y="448.2"/><rect x="573.9" y="474.5"/><rect x="580.7" y="428.9"/><rect x="564.3" y="397.2"/><rect x="562.7" y="366"/><rect x="558.9" y="500.1"/><rect x="570.5" y="443.1"/><rect x="582.1" y="474.9"/><rect x="553.4" y="453.7"/><rect x="561.2" y="491.9"/><rect x="558.4" y="400.7"/><rect x="553.2" y="483.7"/><rect x="572.7" y="380.1"/><rect x="553.4" y="404.3"/><rect x="578.4" y="393.6"/><rect x="591" y="513.2"/><rect x="590.3" y="449.8"/><rect x="584.3" y="479"/><rect x="551.5" y="500.9"/><rect x="567.4" y="404.2"/><rect x="572.8" y="426"/><rect x="571.7" y="356.6"/><rect x="578.4" y="418"/><rect x="567.6" y="459.8"/><rect x="551.8" y="474.5"/><rect x="563.4" y="422"/><rect x="573.2" y="471.5"/><rect x="570.5" y="511.5"/><rect x="564.1" y="432"/><rect x="610.7" y="477.6"/><rect x="570.6" y="422.4"/><rect x="562.2" y="463.1"/><rect x="555.4" y="377.5"/><rect x="594.5" y="482.7"/><rect x="569.1" y="495.1"/><rect x="559.6" y="445.5"/><rect x="563.8" y="476.5"/><rect x="585.3" y="432.1"/><rect x="551.2" y="382.4"/><rect x="563.5" y="368.2"/><rect x="558.4" y="451.3"/><rect x="581.8" y="455.3"/><rect x="607.5" y="421.5"/><rect x="562.6" y="449.2"/><rect x="596.4" y="504.7"/><rect x="551.7" y="356.9"/><rect x="579.1" y="476.6"/><rect x="569.6" y="371.3"/><rect x="555.5" y="433"/><rect x="554.9" y="431.9"/><rect x="572.1" y="517.1"/><rect x="576.9" y="398"/><rect x="585.2" y="499.7"/><rect x="586.1" y="490.1"/><rect x="571.3" y="467.5"/><rect x="564.1" y="496.3"/><rect x="581.3" y="521.6"/><rect x="576.4" y="387.2"/><rect x="572" y="444"/><rect x="566.4" y="448.8"/><rect x="572.9" y="483.2"/><rect x="568.9" y="510.4"/><rect x="588.8" y="392.3"/><rect x="577.3" y="488"/><rect x="556" y="476.4"/><rect x="601.1" y="512.5"/><rect x="571.2" y="440"/><rect x="555.3" y="491.6"/><rect x="562" y="518.1"/><rect x="574.3" y="509.8"/><rect x="576.2" y="413.7"/><rect x="588.4" y="501.4"/><rect x="573.2" y="436.4"/><rect x="552.5" y="361.5"/><rect x="552.8" y="515.6"/><rect x="564.8" y="507.3"/><rect x="596.8" y="493.2"/><rect x="571.7" y="412.1"/><rect x="608.8" y="403.7"/><rect x="564.9" y="437.6"/><rect x="564.6" y="504.4"/><rect x="556.7" y="495.9"/><rect x="582.1" y="524"/><rect x="579.4" y="517.6"/><rect x="563.6" y="379.5"/><rect x="601" y="451.4"/><rect x="561.9" y="393.2"/><rect x="577.1" y="387.9"/><rect x="555.5" y="421.7"/><rect x="574.4" y="385.9"/><rect x="580" y="419.9"/><rect x="572" y="464.3"/><rect x="601.1" y="358.2"/><rect x="568.1" y="431.6"/><rect x="559.9" y="378.8"/><rect x="558.3" y="396.4"/><rect x="582.6" y="509.6"/><rect x="558.4" y="423.7"/><rect x="613.5" y="363.5"/><rect x="604.4" y="441.6"/><rect x="574.7" y="477.9"/><rect x="564.3" y="346.2"/><rect x="553.5" y="446.7"/><rect x="564.4" y="429.5"/><rect x="609.2" y="456.9"/><rect x="588.2" y="383.4"/><rect x="569.8" y="482.3"/><rect x="583.9" y="460"/><rect x="576.8" y="462.3"/><rect x="583.5" y="523.1"/><rect x="576.5" y="472.8"/><rect x="558" y="413.7"/><rect x="575.6" y="413.5"/><rect x="587" y="409.9"/><rect x="574.1" y="403.2"/><rect x="568.9" y="418.8"/><rect x="570.6" y="387.2"/><rect x="590.1" y="413.6"/><rect x="573.9" y="489.1"/><rect x="559.5" y="454.4"/><rect x="572.3" y="504.7"/><rect x="564.6" y="468.5"/><rect x="554.6" y="494.9"/><rect x="575.4" y="485.5"/><rect x="581.2" y="495.7"/><rect x="572.5" y="378.1"/><rect x="557.3" y="447.8"/><rect x="571.3" y="377.5"/><rect x="578.3" y="441.2"/><rect x="581.9" y="518.8"/><rect x="597.2" y="367.7"/><rect x="587.5" y="519.3"/><rect x="578.1" y="446.9"/><rect x="581.8" y="451.9"/><rect x="553.4" y="478.7"/><rect x="579.6" y="433.5"/><rect x="556" y="411.7"/><rect x="558.1" y="379.3"/><rect x="577.4" y="388.4"/><rect x="553.5" y="514.5"/><rect x="585" y="523.5"/><rect x="555.3" y="433.2"/><rect x="566.8" y="403.8"/><rect x="580.5" y="485.7"/><rect x="558.8" y="496.7"/><rect x="555.8" y="514.7"/><rect x="573" y="421.5"/><rect x="580.4" y="451.4"/><rect x="608.5" y="390.6"/><rect x="551.6" y="487.6"/><rect x="558.7" y="404.4"/><rect x="562.1" y="450.1"/><rect x="574.5" y="375.6"/><rect x="584.2" y="508.7"/><rect x="563.2" y="434"/><rect x="587.6" y="416.3"/><rect x="564.2" y="513.6"/><rect x="580.8" y="491"/><rect x="567.9" y="499.5"/><rect x="559.7" y="409.6"/><rect x="569.3" y="442"/><rect x="577" y="461.1"/><rect x="595.1" y="518.5"/><rect x="581.4" y="460.7"/><rect x="590.2" y="481.3"/><rect x="558.9" y="455.6"/><rect x="551.3" y="401.1"/><rect x="584.9" y="456"/><rect x="576.6" y="500.1"/><rect x="567" y="356"/><rect x="578.9" y="467.2"/><rect x="575.4" y="457.9"/><rect x="600.3" y="371.9"/><rect x="578.5" y="398.3"/><rect x="578.4" y="476.3"/><rect x="602.8" y="362"/><rect x="586.6" y="504"/><rect x="578" y="390.4"/><rect x="573.4" y="510.1"/><rect x="556.1" y="362.3"/><rect x="571.5" y="350.7"/><rect x="583.8" y="383.6"/><rect x="570.7" y="369.5"/><rect x="568.5" y="482.9"/><rect x="579.4" y="420"/><rect x="623" y="351.1"/><rect x="581.6" y="409.5"/><rect x="575.6" y="450.6"/><rect x="583" y="447.1"/><rect x="568.5" y="405.9"/><rect x="574.4" y="410"/><rect x="579.6" y="420"/><rect x="584" y="460.2"/><rect x="566.2" y="387.9"/><rect x="620.2" y="419.5"/><rect x="578" y="505.6"/><rect x="570.2" y="465.2"/><rect x="558" y="480.9"/><rect x="553.4" y="393.5"/><rect x="558.4" y="453"/><rect x="598.6" y="520.1"/><rect x="578.6" y="511.1"/><rect x="571.2" y="396.2"/><rect x="579.4" y="414.2"/><rect x="577.2" y="448"/><rect x="580.7" y="450.8"/><rect x="567" y="489.1"/><rect x="564.4" y="415.9"/><rect x="601.5" y="449.6"/><rect x="577.5" y="386.2"/><rect x="552.2" y="401.9"/><rect x="566.6" y="473.2"/><rect x="620" y="499.2"/><rect x="599.1" y="432.2"/><rect x="580.7" y="440.4"/><rect x="573.3" y="389.9"/><rect x="584.5" y="467.7"/><rect x="585.3" y="450.8"/><rect x="571.2" y="432.5"/><rect x="576.8" y="445.8"/><rect x="567.6" y="437.2"/><rect x="559.5" y="501.1"/><rect x="563.1" y="353.8"/><rect x="565.9" y="462.1"/><rect x="599.1" y="522.4"/><rect x="572.7" y="451.8"/><rect x="562.3" y="380.7"/><rect x="560.8" y="506.4"/><rect x="562.8" y="502.6"/><rect x="567.6" y="482"/><rect x="589.1" y="459.6"/><rect x="558.1" y="453.7"/><rect x="573.8" y="523.7"/><rect x="580.8" y="407.5"/><rect x="572.9" y="374.2"/><rect x="564.4" y="381"/><rect x="573.6" y="474.1"/><rect x="560.5" y="374.2"/><rect x="577.5" y="461.9"/><rect x="552" y="505.8"/><rect x="584.8" y="487.2"/><rect x="556.8" y="499.9"/><rect x="551.7" y="435.6"/><rect x="554" y="385.4"/><rect x="576.9" y="446.1"/><rect x="569.5" y="427.8"/><rect x="580.4" y="471.4"/><rect x="553.4" y="420.3"/><rect x="568.1" y="401.7"/><rect x="569.3" y="372.6"/><rect x="584.8" y="489.1"/><rect x="595" y="490"/><rect x="579.3" y="475.4"/><rect x="575.1" y="419.6"/><rect x="575.9" y="449.3"/><rect x="569.5" y="490.1"/><rect x="576.8" y="393.7"/><rect x="558.2" y="503.3"/><rect x="556.6" y="347.4"/><rect x="557.8" y="438.3"/><rect x="558.9" y="388.9"/><rect x="552" y="511.9"/><rect x="580.8" y="436.7"/><rect x="593.1" y="469.3"/><rect x="582.9" y="467.2"/><rect x="572.9" y="390.4"/><rect x="569.9" y="481.6"/><rect x="597.8" y="401"/><rect x="577.3" y="396.8"/><rect x="578.1" y="394.7"/><rect x="560.9" y="377.5"/><rect x="574.4" y="483.5"/><rect x="578.6" y="408.2"/><rect x="564.3" y="390.7"/><rect x="573.8" y="406.4"/><rect x="580.2" y="480.7"/><rect x="561.2" y="475.8"/><rect x="584.4" y="479.9"/><rect x="561.2" y="514.9"/><rect x="563.4" y="520"/><rect x="573.4" y="406.4"/><rect x="556.4" y="361.3"/><rect x="593.2" y="447.6"/><rect x="553.9" y="472"/><rect x="581.5" y="442.7"/><rect x="556.6" y="441"/><rect x="586" y="350.1"/><rect x="554.7" y="385.6"/><rect x="613.1" y="501.4"/><rect x="551.2" y="406.3"/><rect x="575.1" y="495.5"/><rect x="557" y="474.3"/><rect x="566.1" y="355.4"/><rect x="578" y="451.1"/><rect x="555.6" y="424.8"/><rect x="580.9" y="497.1"/><rect x="577" y="348.7"/><rect x="562.4" y="461.9"/><rect x="551.2" y="495.6"/><rect x="566.9" y="514.5"/><rect x="564.7" y="349.7"/><rect x="552.3" y="512.9"/><rect x="563.4" y="369"/><rect x="571" y="393.9"/><rect x="561.8" y="390.8"/><rect x="618.3" y="384.3"/><rect x="568" y="369.4"/><rect x="581.2" y="436.4"/><rect x="585" y="491.7"/><rect x="587.2" y="492.4"/><rect x="633.2" y="351"/><rect x="562.2" y="395.6"/><rect x="568.7" y="507.2"/><rect x="571.4" y="504.4"/><rect x="612" y="363.9"/><rect x="552.7" y="479"/><rect x="571.8" y="501.2"/><rect x="585.2" y="491.6"/><rect x="553.6" y="432.2"/><rect x="568.8" y="476.4"/><rect x="563.8" y="512.1"/><rect x="575.4" y="408"/><rect x="577.1" y="427.6"/><rect x="572.1" y="358.5"/><rect x="581.9" y="346.3"/><rect x="576.1" y="419.3"/><rect x="569.7" y="384.6"/><rect x="552.3" y="480.2"/><rect x="559.9" y="498.7"/><rect x="578.7" y="469.9"/><rect x="560" y="388.1"/><rect x="565.5" y="392"/><rect x="630.8" y="502.3"/><rect x="585.3" y="406.3"/><rect x="573.6" y="492.8"/><rect x="598.8" y="429.2"/><rect x="578.3" y="456.2"/><rect x="580" y="410.8"/><rect x="594.7" y="506.8"/><rect x="593.6" y="349.5"/><rect x="563.6" y="389.5"/><rect x="605.6" y="386.9"/><rect x="580.4" y="432"/><rect x="565.2" y="436"/><rect x="551.6" y="470.2"/><rect x="552.9" y="516"/><rect x="567.6" y="428"/><rect x="562.5" y="513.3"/><rect x="579.1" y="452.3"/><rect x="558.5" y="492.1"/><rect x="570.7" y="428.4"/><rect x="582.4" y="461.6"/><rect x="605.6" y="449.4"/><rect x="575.8" y="398.2"/><rect x="565.2" y="425.3"/><rect x="555.1" y="372.9"/><rect x="565.1" y="419.1"/><rect x="578.4" y="496"/><rect x="565.6" y="394.1"/><rect x="557.3" y="513.6"/><rect x="577.2" y="477.3"/><rect x="581.1" y="501.9"/><rect x="575.3" y="475.1"/><rect x="572.6" y="370.4"/><rect x="571.3" y="494"/><rect x="564.2" y="471.8"/><rect x="561.4" y="424.3"/><rect x="569.9" y="356.3"/><rect x="578.1" y="470.1"/><rect x="594.2" y="381.8"/><rect x="554.1" y="485.9"/><rect x="577.4" y="466.1"/><rect x="563.3" y="500.1"/><rect x="573.8" y="440.1"/><rect x="570.7" y="396.9"/><rect x="571.5" y="390.2"/><rect x="571.6" y="492.1"/><rect x="573.5" y="494.1"/><rect x="578.3" y="427.1"/><rect x="595.9" y="450.3"/><rect x="560.4" y="359.7"/><rect x="571.3" y="399"/><rect x="560.4" y="400"/><rect x="562.7" y="473.9"/><rect x="556.2" y="425.2"/><rect x="552.1" y="519"/><rect x="561.9" y="386"/><rect x="576.4" y="393.8"/><rect x="566" y="352.7"/><rect x="554.6" y="425.3"/><rect x="584.2" y="469.5"/><rect x="552" y="379.1"/><rect x="557.2" y="345.5"/><rect x="574.5" y="414.5"/><rect x="555.7" y="351.6"/><rect x="575.2" y="407.7"/><rect x="575.9" y="343.2"/><rect x="586.7" y="343.2"/><rect x="558.7" y="343.2"/><rect x="561.5" y="343.2"/><rect x="575.9" y="343.2"/><rect x="577.7" y="343.2"/><rect x="583.4" y="343.2"/><rect x="577.2" y="343.2"/><rect x="554.8" y="343.2"/><rect x="562" y="343.2"/><rect x="559.1" y="343.2"/><rect x="570.8" y="343.2"/><rect x="575.9" y="343.2"/><rect x="560.8" y="343.2"/><rect x="564.9" y="343.2"/><rect x="565.8" y="343.2"/><rect x="566.9" y="343.2"/><rect x="565.5" y="343.2"/><rect x="576.3" y="343.2"/><rect x="564.5" y="343.2"/><rect x="575.3" y="343.2"/><rect x="589.3" y="343.2"/><rect x="553.6" y="343.2"/><rect x="575.7" y="343.2"/><rect x="583.1" y="343.2"/><rect x="587.7" y="343.2"/><rect x="575.5" y="343.2"/><rect x="559" y="343.2"/><rect x="590.1" y="343.2"/><rect x="578.6" y="343.2"/><rect x="650.7" y="377"/><rect x="648.4" y="404"/><rect x="651.9" y="420.9"/><rect x="630.8" y="461.5"/><rect x="621.4" y="517.6"/><rect x="613.2" y="363.5"/><rect x="607.4" y="346.6"/></g><g class="g"><rect x="538" y="452.8"/><rect x="532.3" y="419.2"/><rect x="535.1" y="483.3"/><rect x="546.4" y="466"/><rect x="544.1" y="422.4"/><rect x="537.1" y="354.4"/><rect x="527.8" y="445.5"/><rect x="530.9" y="503.5"/><rect x="540.8" y="375.5"/><rect x="533" y="482"/><rect x="551.1" y="431.4"/><rect x="535.5" y="508.7"/><rect x="532.4" y="487.3"/><rect x="531" y="409.4"/><rect x="533.3" y="471.6"/><rect x="528.8" y="490.1"/><rect x="533.9" y="449"/><rect x="529.9" y="404.1"/><rect x="535.4" y="521.5"/><rect x="538.2" y="479.6"/><rect x="546" y="407.7"/><rect x="530.2" y="418.8"/><rect x="538.6" y="513.8"/><rect x="542.5" y="419.9"/><rect x="551.1" y="460.5"/><rect x="536.3" y="448.1"/><rect x="537.7" y="477.5"/><rect x="530.4" y="494"/><rect x="545.8" y="425"/><rect x="538" y="469.8"/><rect x="550.9" y="453.5"/><rect x="550.7" y="440.6"/><rect x="540.5" y="463.9"/><rect x="531.8" y="423.7"/><rect x="542.1" y="454.4"/><rect x="536.8" y="463.6"/><rect x="533.7" y="386.4"/><rect x="528.2" y="438.7"/><rect x="542.8" y="430.8"/><rect x="544.9" y="510.2"/><rect x="530.3" y="511.9"/><rect x="542.9" y="506.3"/><rect x="549.7" y="347.2"/><rect x="549.1" y="459.1"/><rect x="530.7" y="440.7"/><rect x="550.4" y="489.6"/><rect x="536" y="436"/><rect x="528.7" y="439.6"/><rect x="538.8" y="513.3"/><rect x="538.4" y="495.1"/><rect x="530.5" y="480.4"/><rect x="534.8" y="474.2"/><rect x="544.3" y="448.5"/><rect x="543.1" y="405.9"/><rect x="542.8" y="419.4"/><rect x="532.4" y="488.3"/><rect x="550.6" y="445.2"/><rect x="536.9" y="404.3"/><rect x="537.1" y="500.7"/><rect x="545.9" y="414.2"/><rect x="544.8" y="360.7"/><rect x="534.8" y="409.2"/><rect x="533.3" y="481.8"/><rect x="547.2" y="440.1"/><rect x="544.4" y="431.6"/><rect x="546.1" y="442.1"/><rect x="538.4" y="423.1"/><rect x="544.6" y="453.1"/><rect x="546.1" y="493.4"/><rect x="540.8" y="477.5"/><rect x="545.3" y="471.8"/><rect x="550.5" y="414"/><rect x="528.7" y="397.3"/><rect x="541.9" y="444.4"/><rect x="549" y="455.5"/><rect x="529.9" y="500"/><rect x="534.7" y="362.5"/><rect x="527.9" y="521.4"/><rect x="550.3" y="491.3"/><rect x="530.4" y="414.2"/><rect x="538.4" y="425.9"/><rect x="550.2" y="517.8"/><rect x="544.8" y="449.3"/><rect x="535" y="449.5"/><rect x="544.4" y="406.2"/><rect x="531" y="467.5"/><rect x="532.8" y="407.9"/><rect x="539.1" y="363.5"/><rect x="537" y="452.8"/><rect x="542.1" y="502.4"/><rect x="543.5" y="392.1"/><rect x="532.5" y="522.3"/><rect x="531.2" y="449.7"/><rect x="540.8" y="436.1"/><rect x="529.7" y="461.3"/><rect x="533.4" y="405.8"/><rect x="534.8" y="401.7"/><rect x="531.9" y="424.8"/><rect x="539.7" y="481.8"/><rect x="545.8" y="426.2"/><rect x="549.2" y="441.9"/><rect x="529.3" y="365.6"/><rect x="549.6" y="384"/><rect x="549.4" y="438.9"/><rect x="542.6" y="382"/><rect x="548.4" y="436.1"/><rect x="538.1" y="382.3"/><rect x="542.7" y="419.9"/><rect x="549.6" y="434.9"/><rect x="545.3" y="496.1"/><rect x="548.8" y="418.5"/><rect x="547.1" y="381.1"/><rect x="549.7" y="504.5"/><rect x="547.5" y="481.7"/><rect x="541.5" y="516.8"/><rect x="533.1" y="515.5"/><rect x="533.5" y="460.7"/><rect x="544.1" y="424"/><rect x="536.3" y="498"/><rect x="531.1" y="479.8"/><rect x="548.4" y="389.6"/><rect x="543.9" y="402.2"/><rect x="534.2" y="428.8"/><rect x="548.4" y="437.8"/><rect x="538.9" y="445.8"/><rect x="541.4" y="415.3"/><rect x="547.1" y="466.7"/><rect x="544.6" y="409.9"/><rect x="531.5" y="396.8"/><rect x="548.1" y="484.5"/><rect x="550.3" y="511.1"/><rect x="547.2" y="482.1"/><rect x="551" y="463.9"/><rect x="548.1" y="449.8"/><rect x="546.7" y="387.2"/><rect x="540.1" y="461.1"/><rect x="545.6" y="450.3"/><rect x="529.5" y="389.8"/><rect x="529.9" y="491.4"/><rect x="545.6" y="411.3"/><rect x="532.9" y="489.8"/><rect x="529.3" y="419.1"/><rect x="530.7" y="497.7"/><rect x="549.9" y="439.7"/><rect x="543.6" y="411.4"/><rect x="534.9" y="380.2"/><rect x="546.1" y="437.8"/><rect x="543.2" y="453.4"/><rect x="541.3" y="433.4"/><rect x="529.4" y="495.7"/><rect x="543.2" y="487.6"/><rect x="529.5" y="466.1"/><rect x="533.5" y="359.1"/><rect x="547.5" y="479.5"/><rect x="549.7" y="409.3"/><rect x="542" y="511.5"/><rect x="528" y="486.2"/><rect x="547.6" y="419.2"/><rect x="542" y="412.8"/><rect x="534.9" y="483.3"/><rect x="547.6" y="406.3"/><rect x="532.3" y="521.7"/><rect x="549.8" y="455"/><rect x="536.6" y="440.4"/><rect x="550.9" y="362.5"/><rect x="536.4" y="447.1"/><rect x="535.5" y="434.1"/><rect x="531.8" y="402.7"/><rect x="533.1" y="440.4"/><rect x="541.1" y="487.9"/><rect x="539.3" y="421.5"/><rect x="546.4" y="434.5"/><rect x="532.8" y="377.7"/><rect x="545.8" y="471.2"/><rect x="543.1" y="404"/><rect x="549.9" y="481.1"/><rect x="547.9" y="434.1"/><rect x="542.5" y="405.7"/><rect x="540.5" y="474.6"/><rect x="531.6" y="447.8"/><rect x="532.9" y="433.1"/><rect x="541.5" y="345.6"/><rect x="536.3" y="399.7"/><rect x="539.8" y="434.6"/><rect x="547.6" y="507.2"/><rect x="534.5" y="472.3"/><rect x="544.5" y="515"/><rect x="543.8" y="511.1"/><rect x="539.8" y="521.1"/><rect x="533.1" y="460.6"/><rect x="529.3" y="399.9"/><rect x="542.9" y="498.7"/><rect x="530" y="523.4"/><rect x="547.5" y="503.1"/><rect x="527.8" y="397"/><rect x="546.3" y="416.1"/><rect x="534.4" y="517.4"/><rect x="529.1" y="404.8"/><rect x="550.4" y="451.5"/><rect x="532.8" y="465.2"/><rect x="530.4" y="509.4"/><rect x="550.9" y="478.9"/><rect x="542.6" y="431.6"/><rect x="532.1" y="457.6"/><rect x="547.6" y="382.3"/><rect x="528.4" y="453.4"/><rect x="538.2" y="431.7"/><rect x="540.4" y="502.4"/><rect x="536.6" y="413.3"/><rect x="528.9" y="518.4"/><rect x="529.3" y="520.8"/><rect x="534.7" y="429.3"/><rect x="528.1" y="461"/><rect x="530.1" y="421.3"/><rect x="543" y="399.7"/><rect x="530.8" y="522.9"/><rect x="528.2" y="490.1"/><rect x="550" y="462.5"/><rect x="530.3" y="431.7"/><rect x="542.6" y="353.5"/><rect x="549.7" y="510.1"/><rect x="532.5" y="408.1"/><rect x="536.4" y="487"/><rect x="532.7" y="430"/><rect x="527.7" y="480.7"/><rect x="546.8" y="489.8"/><rect x="536.8" y="499.6"/><rect x="536.2" y="383.1"/><rect x="542.3" y="441.2"/><rect x="544.3" y="392.9"/><rect x="544.7" y="424.4"/><rect x="536.7" y="412.1"/><rect x="539.4" y="420.6"/><rect x="539" y="472.1"/><rect x="532.5" y="424"/><rect x="550.4" y="502.9"/><rect x="539.2" y="504.2"/><rect x="542" y="494"/><rect x="539.3" y="520.8"/><rect x="545.8" y="508.2"/><rect x="537.4" y="505.7"/><rect x="545.8" y="447.8"/><rect x="548.7" y="469"/><rect x="530.3" y="427.9"/><rect x="530.5" y="490.6"/><rect x="543.2" y="474"/><rect x="529" y="348.2"/><rect x="540.8" y="507"/><rect x="535" y="460.7"/><rect x="530.5" y="500.9"/><rect x="548.8" y="478.4"/><rect x="547.4" y="515.3"/><rect x="550.3" y="496.8"/><rect x="548.7" y="376.5"/><rect x="543.2" y="382.5"/><rect x="538.5" y="471.2"/><rect x="547.6" y="508"/><rect x="541.7" y="470.5"/><rect x="529.8" y="351.6"/><rect x="544.6" y="348"/><rect x="540.8" y="432.6"/><rect x="531.8" y="425.4"/><rect x="549.2" y="450.2"/><rect x="529.5" y="404.4"/><rect x="532" y="405.7"/><rect x="547.7" y="399.9"/><rect x="536.5" y="517.8"/><rect x="531.3" y="420.5"/><rect x="528.4" y="513.3"/><rect x="538.1" y="417.9"/><rect x="545.7" y="500.2"/><rect x="531.9" y="427"/><rect x="531.2" y="488.5"/><rect x="548.4" y="436.3"/><rect x="530.6" y="462.2"/><rect x="530.2" y="510.4"/><rect x="530.8" y="423.8"/><rect x="550.5" y="343.2"/><rect x="543.9" y="343.2"/><rect x="549.1" y="343.2"/><rect x="550.2" y="343.2"/><rect x="536.9" y="343.2"/><rect x="543.4" y="343.2"/><rect x="543.5" y="343.2"/><rect x="541.5" y="343.2"/><rect x="535.1" y="343.2"/><rect x="535.1" y="343.2"/><rect x="550.9" y="343.2"/><rect x="533.1" y="343.2"/></g>
<path d="M530.8 338.3V623.7M554.2 338.3V623.7M405.7 528.7H679.5" stroke="rgba(40,170,40,0.55)" stroke-width="1.3" fill="none"/>
</svg>
<rect x="405.7" y="338.3" width="273.8" height="285.4" fill="none" stroke="#7a7a7a" stroke-width="1.6"/>
<path d="M425.3 623.7v3.5M483.9 623.7v3.5M542.5 623.7v3.5M601.1 623.7v3.5M659.7 623.7v3.5M405.7 549h-3.5M405.7 481.5h-3.5M405.7 413.9h-3.5M405.7 346.3h-3.5" stroke="#777" stroke-width="1.2"/>
<g font-size="9.6" fill="#222" text-anchor="end">
<text x="398.2" y="552.5">1</text>
<text x="398.2" y="484.9">2</text>
<text x="398.2" y="417.3">3</text>
<text x="398.2" y="349.8">4</text>
</g><g font-size="9.6" fill="#222" text-anchor="middle">
<text x="425.3" y="641">−10</text>
<text x="483.9" y="641">−5</text>
<text x="542.5" y="641">0</text>
<text x="601.1" y="641">5</text>
<text x="659.7" y="641">10</text>
</g>
<text x="541.8" y="655.9" font-size="10.4" fill="#222" text-anchor="middle">log2(Fold change)</text>
<text transform="translate(382.8,475) rotate(-90)" font-size="10.4" fill="#222" text-anchor="middle">-log10(pvalue)</text>
<text x="352.6" y="344.4" font-size="19.6" font-weight="bold" fill="#000">D</text>
<g class="hm hE"><g transform="translate(74.6,0)"><rect y="751.4" fill="#f44"/><rect y="752.4" height="1.5" fill="#f33"/><rect y="753.9" height="3.5" fill="#f11"/><rect y="757.4" height="1.5" fill="#f55"/><rect y="758.9" fill="#faa"/><rect y="759.9" height="2" fill="#f66"/><rect y="761.9" fill="#f77"/><rect y="762.9" fill="#f22"/><rect y="763.9" fill="#fdd"/><rect y="764.9" height="3" fill="#fee"/><rect y="767.9" height="4.5" fill="#fdd"/><rect y="772.4" fill="#eef"/><rect y="773.4" fill="#fdd"/><rect y="774.4" height="2" fill="#eef"/><rect y="776.4" fill="#ccf"/><rect y="777.4" height="2" fill="#eef"/><rect y="779.4" fill="#fcc"/><rect y="780.4" fill="#eef"/><rect y="781.4" fill="#bbf"/><rect y="782.4" height="2" fill="#fcc"/><rect y="784.4" height="2" fill="#fee"/><rect y="786.4" height="1.5" fill="#fdd"/><rect y="787.9" height="2" fill="#eef"/><rect y="789.9" height="1.5" fill="#fff"/><rect y="791.4" fill="#fdd"/><rect y="792.4" height="2" fill="#bbf"/><rect y="794.4" fill="#eef"/><rect y="795.4" fill="#ccf"/><rect y="796.4" fill="#aaf"/><rect y="797.4" height="2.5" fill="#ddf"/><rect y="799.9" height="1.5" fill="#faa"/><rect y="801.4" fill="#fcc"/><rect y="802.4" fill="#f77"/><rect y="803.4" fill="#fcc"/><rect y="804.4" fill="#f66"/><rect y="805.4" height="1.5" fill="#f77"/><rect y="806.9" fill="#f88"/><rect y="807.9" height="3" fill="#fbb"/><rect y="810.9" fill="#fee"/><rect y="811.9" height="3" fill="#f99"/><rect y="814.9" height="1.5" fill="#f88"/><rect y="816.4" height="2" fill="#f77"/><rect y="818.4" height="2" fill="#f99"/><rect y="820.4" height="2" fill="#fbb"/><rect y="822.4" fill="#f77"/><rect y="823.4" height="3.5" fill="#f99"/><rect y="826.9" fill="#fbb"/><rect y="827.9" fill="#f66"/><rect y="828.9" fill="#faa"/><rect y="829.9" fill="#f44"/><rect y="830.9" height="3.5" fill="#faa"/><rect y="834.4" height="2.5" fill="#f88"/><rect y="836.9" height="1.5" fill="#faa"/><rect y="838.4" fill="#fcc"/><rect y="839.4" height="3" fill="#fbb"/><rect y="842.4" height="2" fill="#f99"/><rect y="844.4" height="2.5" fill="#f66"/><rect y="846.9" height="1.5" fill="#f77"/><rect y="848.4" height="2" fill="#f88"/><rect y="850.4" height="2.5" fill="#f66"/><rect y="852.9" fill="#fdd"/><rect y="853.9" height="3.5" fill="#f99"/><rect y="857.4" height="1.5" fill="#faa"/><rect y="858.9" height="2" fill="#f66"/><rect y="860.9" fill="#f88"/><rect y="861.9" fill="#f99"/><rect y="862.9" fill="#f55"/><rect y="863.9" height="2" fill="#f88"/><rect y="865.9" height="2.5" fill="#f77"/><rect y="868.4" fill="#faa"/><rect y="869.4" height="1.5" fill="#f55"/><rect y="870.9" fill="#f77"/><rect y="871.9" height="2" fill="#f00"/><rect y="873.9" fill="#f22"/><rect y="874.9" fill="#f55"/><rect y="875.9" height="2" fill="#f66"/><rect y="877.9" height="1.5" fill="#f00"/><rect y="879.4" height="1.5" fill="#f55"/><rect y="880.9" height="2" fill="#f33"/><rect y="882.9" height="2" fill="#f44"/><rect y="884.9" height="2.5" fill="#fdd"/><rect y="887.4" height="4" fill="#f55"/><rect y="891.4" fill="#f66"/><rect y="892.4" height="2.5" fill="#f55"/><rect y="894.9" height="2.5" fill="#f88"/><rect y="897.4" height="0.2" fill="#f44"/><rect y="897.6" fill="#88f"/><rect y="898.6" height="2" fill="#aaf"/><rect y="900.6" height="2" fill="#99f"/><rect y="902.6" height="2" fill="#66f"/><rect y="904.6" height="2.5" fill="#33f"/><rect y="907.1" height="2" fill="#bbf"/><rect y="909.1" fill="#66f"/><rect y="910.1" fill="#aaf"/><rect y="911.1" fill="#ddf"/><rect y="912.1" fill="#77f"/><rect y="913.1" fill="#99f"/><rect y="914.1" height="2.5" fill="#77f"/><rect y="916.6" height="2" fill="#99f"/><rect y="918.6" fill="#aaf"/><rect y="919.6" height="2" fill="#99f"/><rect y="921.6" fill="#88f"/><rect y="922.6" height="2" fill="#33f"/><rect y="924.6" height="1.5" fill="#66f"/><rect y="926.1" fill="#77f"/><rect y="927.1" fill="#bbf"/><rect y="928.1" height="2" fill="#44f"/><rect y="930.1" height="2.5" fill="#ccf"/><rect y="932.6" fill="#88f"/><rect y="933.6" fill="#66f"/><rect y="934.6" height="1.5" fill="#ddf"/><rect y="936.1" fill="#bbf"/><rect y="937.1" height="2.5" fill="#88f"/><rect y="939.6" fill="#bbf"/><rect y="940.6" height="1.5" fill="#ccf"/><rect y="942.1" height="1.5" fill="#77f"/><rect y="943.6" height="2.5" fill="#ddf"/><rect y="946.1" fill="#44f"/><rect y="947.1" height="2" fill="#88f"/><rect y="949.1" height="2" fill="#44f"/><rect y="951.1" fill="#11f"/><rect y="952.1" height="2" fill="#33f"/><rect y="954.1" height="2.5" fill="#55f"/><rect y="956.6" height="2" fill="#00f"/><rect y="958.6" fill="#22f"/><rect y="959.6" fill="#55f"/><rect y="960.6" height="2" fill="#44f"/><rect y="962.6" fill="#66f"/><rect y="963.6" height="2" fill="#33f"/><rect y="965.6" height="2.5" fill="#bbf"/><rect y="968.1" fill="#55f"/><rect y="969.1" height="1.5" fill="#77f"/><rect y="970.6" fill="#66f"/><rect y="971.6" height="1.5" fill="#88f"/><rect y="973.1" height="2" fill="#44f"/><rect y="975.1" height="2.5" fill="#33f"/><rect y="977.6" height="2" fill="#55f"/><rect y="979.6" fill="#66f"/><rect y="980.6" height="2.5" fill="#44f"/><rect y="983.1" fill="#99f"/><rect y="984.1" height="2" fill="#55f"/><rect y="986.1" height="1.5" fill="#77f"/><rect y="987.6" height="4" fill="#99f"/><rect y="991.6" fill="#66f"/><rect y="992.6" height="2.5" fill="#bbf"/><rect y="995.1" fill="#66f"/><rect y="996.1" height="1.5" fill="#88f"/><rect y="997.6" fill="#bbf"/><rect y="998.6" height="2.5" fill="#aaf"/><rect y="1001.1" height="2" fill="#55f"/><rect y="1003.1" height="1.4" fill="#66f"/></g><g transform="translate(99.2,0)"><rect y="751.4" fill="#fee"/><rect y="752.4" height="1.5" fill="#fbb"/><rect y="753.9" fill="#f88"/><rect y="754.9" height="2.5" fill="#faa"/><rect y="757.4" height="1.5" fill="#f99"/><rect y="758.9" fill="#f77"/><rect y="759.9" height="2" fill="#f88"/><rect y="761.9" fill="#f77"/><rect y="762.9" fill="#f66"/><rect y="763.9" fill="#faa"/><rect y="764.9" height="2" fill="#fcc"/><rect y="766.9" fill="#f66"/><rect y="767.9" height="2" fill="#f88"/><rect y="769.9" height="2.5" fill="#fbb"/><rect y="772.4" fill="#fdd"/><rect y="773.4" height="3" fill="#f99"/><rect y="776.4" height="3" fill="#f88"/><rect y="779.4" height="2" fill="#faa"/><rect y="781.4" fill="#fdd"/><rect y="782.4" height="4" fill="#fbb"/><rect y="786.4" height="1.5" fill="#f77"/><rect y="787.9" height="2" fill="#fdd"/><rect y="789.9" height="1.5" fill="#f55"/><rect y="791.4" fill="#f88"/><rect y="792.4" height="3" fill="#fbb"/><rect y="795.4" fill="#f99"/><rect y="796.4" fill="#f88"/><rect y="797.4" height="2.5" fill="#f77"/><rect y="799.9" height="1.5" fill="#fdd"/><rect y="801.4" fill="#f99"/><rect y="802.4" fill="#f77"/><rect y="803.4" fill="#f66"/><rect y="804.4" fill="#f77"/><rect y="805.4" height="1.5" fill="#f99"/><rect y="806.9" fill="#f88"/><rect y="807.9" height="2" fill="#fbb"/><rect y="809.9" fill="#f66"/><rect y="810.9" fill="#f88"/><rect y="811.9" height="2" fill="#f99"/><rect y="813.9" fill="#fbb"/><rect y="814.9" height="1.5" fill="#faa"/><rect y="816.4" height="2" fill="#f88"/><rect y="818.4" height="2" fill="#f99"/><rect y="820.4" height="2" fill="#f55"/><rect y="822.4" fill="#f44"/><rect y="823.4" fill="#f77"/><rect y="824.4" height="2.5" fill="#fcc"/><rect y="826.9" fill="#f88"/><rect y="827.9" fill="#fbb"/><rect y="828.9" fill="#faa"/><rect y="829.9" fill="#f55"/><rect y="830.9" fill="#fee"/><rect y="831.9" height="2.5" fill="#fdd"/><rect y="834.4" height="2.5" fill="#fbb"/><rect y="836.9" height="1.5" fill="#f88"/><rect y="838.4" fill="#faa"/><rect y="839.4" fill="#fee"/><rect y="840.4" height="4" fill="#f99"/><rect y="844.4" height="2.5" fill="#f77"/><rect y="846.9" height="1.5" fill="#faa"/><rect y="848.4" height="2" fill="#f88"/><rect y="850.4" height="2.5" fill="#fcc"/><rect y="852.9" fill="#f88"/><rect y="853.9" fill="#f66"/><rect y="854.9" height="4" fill="#f99"/><rect y="858.9" height="2" fill="#f44"/><rect y="860.9" fill="#f99"/><rect y="861.9" fill="#fbb"/><rect y="862.9" height="3" fill="#f99"/><rect y="865.9" height="2.5" fill="#f88"/><rect y="868.4" fill="#fcc"/><rect y="869.4" height="1.5" fill="#faa"/><rect y="870.9" fill="#fdd"/><rect y="871.9" fill="#fee"/><rect y="872.9" fill="#f55"/><rect y="873.9" fill="#fdd"/><rect y="874.9" fill="#fee"/><rect y="875.9" height="2" fill="#faa"/><rect y="877.9" height="1.5" fill="#fcc"/><rect y="879.4" height="1.5" fill="#f88"/><rect y="880.9" height="2" fill="#eef"/><rect y="882.9" height="2" fill="#fcc"/><rect y="884.9" height="2.5" fill="#f77"/><rect y="887.4" fill="#f99"/><rect y="888.4" fill="#fbb"/><rect y="889.4" height="2" fill="#f66"/><rect y="891.4" fill="#f77"/><rect y="892.4" height="2.5" fill="#faa"/><rect y="894.9" height="2.5" fill="#f66"/><rect y="897.4" height="0.2" fill="#f77"/><rect y="897.6" fill="#77f"/><rect y="898.6" height="2" fill="#88f"/><rect y="900.6" height="2" fill="#aaf"/><rect y="902.6" height="2" fill="#77f"/><rect y="904.6" height="2.5" fill="#66f"/><rect y="907.1" height="2" fill="#88f"/><rect y="909.1" fill="#bbf"/><rect y="910.1" fill="#99f"/><rect y="911.1" fill="#66f"/><rect y="912.1" fill="#22f"/><rect y="913.1" fill="#aaf"/><rect y="914.1" height="2.5" fill="#88f"/><rect y="916.6" height="2" fill="#aaf"/><rect y="918.6" fill="#99f"/><rect y="919.6" height="2" fill="#88f"/><rect y="921.6" fill="#aaf"/><rect y="922.6" height="3.5" fill="#88f"/><rect y="926.1" fill="#77f"/><rect y="927.1" fill="#44f"/><rect y="928.1" height="2" fill="#ccf"/><rect y="930.1" height="2.5" fill="#bbf"/><rect y="932.6" fill="#77f"/><rect y="933.6" fill="#88f"/><rect y="934.6" height="1.5" fill="#eef"/><rect y="936.1" fill="#aaf"/><rect y="937.1" height="2.5" fill="#88f"/><rect y="939.6" fill="#66f"/><rect y="940.6" height="3" fill="#ddf"/><rect y="943.6" height="2.5" fill="#99f"/><rect y="946.1" fill="#ddf"/><rect y="947.1" height="2" fill="#aaf"/><rect y="949.1" height="2" fill="#ccf"/><rect y="951.1" fill="#fff"/><rect y="952.1" fill="#bbf"/><rect y="953.1" fill="#99f"/><rect y="954.1" height="2.5" fill="#77f"/><rect y="956.6" height="2" fill="#aaf"/><rect y="958.6" fill="#88f"/><rect y="959.6" fill="#44f"/><rect y="960.6" fill="#ccf"/><rect y="961.6" fill="#77f"/><rect y="962.6" fill="#88f"/><rect y="963.6" height="2" fill="#aaf"/><rect y="965.6" height="2.5" fill="#99f"/><rect y="968.1" fill="#aaf"/><rect y="969.1" height="1.5" fill="#bbf"/><rect y="970.6" fill="#99f"/><rect y="971.6" height="1.5" fill="#88f"/><rect y="973.1" height="2" fill="#aaf"/><rect y="975.1" height="2.5" fill="#ddf"/><rect y="977.6" height="2" fill="#bbf"/><rect y="979.6" fill="#eef"/><rect y="980.6" height="2.5" fill="#bbf"/><rect y="983.1" fill="#88f"/><rect y="984.1" height="2" fill="#bbf"/><rect y="986.1" height="1.5" fill="#aaf"/><rect y="987.6" height="4" fill="#99f"/><rect y="991.6" height="3.5" fill="#ccf"/><rect y="995.1" fill="#bbf"/><rect y="996.1" height="1.5" fill="#aaf"/><rect y="997.6" fill="#bbf"/><rect y="998.6" height="4.5" fill="#ccf"/><rect y="1003.1" height="1.4" fill="#99f"/></g><g transform="translate(123.7,0)"><rect y="751.4" fill="#f99"/><rect y="752.4" height="2.5" fill="#f88"/><rect y="754.9" height="2.5" fill="#f66"/><rect y="757.4" height="1.5" fill="#f77"/><rect y="758.9" fill="#fbb"/><rect y="759.9" height="2" fill="#faa"/><rect y="761.9" height="2" fill="#f99"/><rect y="763.9" height="3" fill="#f66"/><rect y="766.9" fill="#f77"/><rect y="767.9" height="2" fill="#f44"/><rect y="769.9" height="2.5" fill="#fbb"/><rect y="772.4" fill="#faa"/><rect y="773.4" fill="#f88"/><rect y="774.4" height="2" fill="#fcc"/><rect y="776.4" fill="#fff"/><rect y="777.4" height="2" fill="#eef"/><rect y="779.4" height="2" fill="#fbb"/><rect y="781.4" fill="#f77"/><rect y="782.4" height="2" fill="#f66"/><rect y="784.4" height="2" fill="#f99"/><rect y="786.4" height="1.5" fill="#faa"/><rect y="787.9" height="2" fill="#fbb"/><rect y="789.9" height="1.5" fill="#faa"/><rect y="791.4" fill="#f55"/><rect y="792.4" height="2" fill="#faa"/><rect y="794.4" fill="#fbb"/><rect y="795.4" fill="#faa"/><rect y="796.4" fill="#f99"/><rect y="797.4" height="4" fill="#fdd"/><rect y="801.4" fill="#fee"/><rect y="802.4" fill="#faa"/><rect y="803.4" fill="#fee"/><rect y="804.4" fill="#fcc"/><rect y="805.4" height="1.5" fill="#fbb"/><rect y="806.9" fill="#fff"/><rect y="807.9" height="2" fill="#f99"/><rect y="809.9" fill="#fcc"/><rect y="810.9" fill="#f99"/><rect y="811.9" height="2" fill="#fdd"/><rect y="813.9" fill="#f88"/><rect y="814.9" height="1.5" fill="#faa"/><rect y="816.4" height="2" fill="#fdd"/><rect y="818.4" height="2" fill="#f99"/><rect y="820.4" height="2" fill="#fff"/><rect y="822.4" fill="#f99"/><rect y="823.4" fill="#fcc"/><rect y="824.4" height="2.5" fill="#f66"/><rect y="826.9" fill="#fee"/><rect y="827.9" fill="#faa"/><rect y="828.9" height="2" fill="#fdd"/><rect y="830.9" fill="#fcc"/><rect y="831.9" height="2.5" fill="#fbb"/><rect y="834.4" height="2.5" fill="#fdd"/><rect y="836.9" height="1.5" fill="#f99"/><rect y="838.4" fill="#f66"/><rect y="839.4" fill="#f77"/><rect y="840.4" height="2" fill="#fbb"/><rect y="842.4" height="2" fill="#f44"/><rect y="844.4" height="2.5" fill="#fcc"/><rect y="846.9" height="1.5" fill="#f44"/><rect y="848.4" height="2" fill="#f88"/><rect y="850.4" height="2.5" fill="#fbb"/><rect y="852.9" height="2" fill="#f99"/><rect y="854.9" height="2.5" fill="#f77"/><rect y="857.4" height="1.5" fill="#f88"/><rect y="858.9" height="2" fill="#fbb"/><rect y="860.9" fill="#f88"/><rect y="861.9" fill="#fbb"/><rect y="862.9" height="5.5" fill="#fdd"/><rect y="868.4" fill="#faa"/><rect y="869.4" height="1.5" fill="#fcc"/><rect y="870.9" fill="#faa"/><rect y="871.9" fill="#fff"/><rect y="872.9" fill="#fcc"/><rect y="873.9" fill="#fbb"/><rect y="874.9" fill="#fcc"/><rect y="875.9" height="2" fill="#fbb"/><rect y="877.9" height="1.5" fill="#ccf"/><rect y="879.4" height="1.5" fill="#fee"/><rect y="880.9" height="2" fill="#fdd"/><rect y="882.9" height="2" fill="#faa"/><rect y="884.9" height="2.5" fill="#f77"/><rect y="887.4" fill="#f55"/><rect y="888.4" fill="#fbb"/><rect y="889.4" height="2" fill="#faa"/><rect y="891.4" fill="#f77"/><rect y="892.4" height="2.5" fill="#faa"/><rect y="894.9" height="2.5" fill="#f66"/><rect y="897.4" height="0.2" fill="#faa"/><rect y="897.6" height="3" fill="#ccf"/><rect y="900.6" height="2" fill="#fff"/><rect y="902.6" height="2" fill="#aaf"/><rect y="904.6" height="2.5" fill="#88f"/><rect y="907.1" height="2" fill="#ddf"/><rect y="909.1" fill="#ccf"/><rect y="910.1" fill="#aaf"/><rect y="911.1" fill="#99f"/><rect y="912.1" height="2" fill="#ddf"/><rect y="914.1" height="2.5" fill="#bbf"/><rect y="916.6" height="3" fill="#ccf"/><rect y="919.6" height="2" fill="#ddf"/><rect y="921.6" fill="#99f"/><rect y="922.6" height="4.5" fill="#55f"/><rect y="927.1" fill="#aaf"/><rect y="928.1" height="2" fill="#55f"/><rect y="930.1" height="2.5" fill="#99f"/><rect y="932.6" fill="#88f"/><rect y="933.6" height="3.5" fill="#aaf"/><rect y="937.1" height="2.5" fill="#fff"/><rect y="939.6" fill="#ddf"/><rect y="940.6" height="1.5" fill="#aaf"/><rect y="942.1" height="1.5" fill="#99f"/><rect y="943.6" height="2.5" fill="#ccf"/><rect y="946.1" height="3" fill="#bbf"/><rect y="949.1" height="2" fill="#99f"/><rect y="951.1" height="3" fill="#ddf"/><rect y="954.1" height="4.5" fill="#ccf"/><rect y="958.6" fill="#aaf"/><rect y="959.6" fill="#fff"/><rect y="960.6" fill="#ddf"/><rect y="961.6" fill="#fee"/><rect y="962.6" height="3" fill="#ccf"/><rect y="965.6" height="2.5" fill="#fee"/><rect y="968.1" fill="#ccf"/><rect y="969.1" height="1.5" fill="#eef"/><rect y="970.6" height="2.5" fill="#ccf"/><rect y="973.1" height="2" fill="#66f"/><rect y="975.1" height="2.5" fill="#ccf"/><rect y="977.6" height="2" fill="#bbf"/><rect y="979.6" fill="#77f"/><rect y="980.6" height="2.5" fill="#ddf"/><rect y="983.1" fill="#55f"/><rect y="984.1" height="2" fill="#99f"/><rect y="986.1" height="1.5" fill="#fff"/><rect y="987.6" height="2" fill="#bbf"/><rect y="989.6" height="2" fill="#88f"/><rect y="991.6" fill="#bbf"/><rect y="992.6" height="2.5" fill="#ccf"/><rect y="995.1" fill="#22f"/><rect y="996.1" height="2.5" fill="#aaf"/><rect y="998.6" height="2.5" fill="#eef"/><rect y="1001.1" height="2" fill="#aaf"/><rect y="1003.1" height="1.4" fill="#77f"/></g><g transform="translate(148.3,0)"><rect y="751.4" fill="#f77"/><rect y="752.4" height="1.5" fill="#f44"/><rect y="753.9" fill="#f99"/><rect y="754.9" height="2.5" fill="#fbb"/><rect y="757.4" height="1.5" fill="#f77"/><rect y="758.9" fill="#f66"/><rect y="759.9" height="3" fill="#f99"/><rect y="762.9" fill="#f22"/><rect y="763.9" fill="#f88"/><rect y="764.9" height="2" fill="#faa"/><rect y="766.9" fill="#f88"/><rect y="767.9" height="4.5" fill="#fdd"/><rect y="772.4" fill="#faa"/><rect y="773.4" fill="#f66"/><rect y="774.4" height="2" fill="#f55"/><rect y="776.4" fill="#f66"/><rect y="777.4" height="2" fill="#f22"/><rect y="779.4" height="2" fill="#faa"/><rect y="781.4" fill="#f44"/><rect y="782.4" height="2" fill="#f66"/><rect y="784.4" height="2" fill="#f88"/><rect y="786.4" height="1.5" fill="#f77"/><rect y="787.9" height="2" fill="#faa"/><rect y="789.9" height="1.5" fill="#f44"/><rect y="791.4" fill="#faa"/><rect y="792.4" height="2" fill="#f88"/><rect y="794.4" fill="#fbb"/><rect y="795.4" fill="#fcc"/><rect y="796.4" fill="#fdd"/><rect y="797.4" height="2.5" fill="#fbb"/><rect y="799.9" height="1.5" fill="#faa"/><rect y="801.4" fill="#fbb"/><rect y="802.4" fill="#fcc"/><rect y="803.4" fill="#fbb"/><rect y="804.4" fill="#fcc"/><rect y="805.4" height="1.5" fill="#f55"/><rect y="806.9" fill="#f99"/><rect y="807.9" height="2" fill="#faa"/><rect y="809.9" fill="#f77"/><rect y="810.9" height="3" fill="#f88"/><rect y="813.9" fill="#f66"/><rect y="814.9" height="1.5" fill="#f99"/><rect y="816.4" height="2" fill="#fdd"/><rect y="818.4" height="4" fill="#f88"/><rect y="822.4" fill="#f99"/><rect y="823.4" fill="#fbb"/><rect y="824.4" height="2.5" fill="#f77"/><rect y="826.9" fill="#f99"/><rect y="827.9" fill="#f55"/><rect y="828.9" height="2" fill="#fcc"/><rect y="830.9" height="3.5" fill="#f99"/><rect y="834.4" height="2.5" fill="#fbb"/><rect y="836.9" height="1.5" fill="#f88"/><rect y="838.4" fill="#fbb"/><rect y="839.4" fill="#f77"/><rect y="840.4" height="2" fill="#faa"/><rect y="842.4" height="2" fill="#f99"/><rect y="844.4" height="2.5" fill="#f88"/><rect y="846.9" height="1.5" fill="#fbb"/><rect y="848.4" height="2" fill="#f66"/><rect y="850.4" height="2.5" fill="#faa"/><rect y="852.9" fill="#f66"/><rect y="853.9" fill="#fbb"/><rect y="854.9" height="2.5" fill="#fee"/><rect y="857.4" height="1.5" fill="#f99"/><rect y="858.9" height="2" fill="#fdd"/><rect y="860.9" fill="#f55"/><rect y="861.9" fill="#fee"/><rect y="862.9" fill="#fcc"/><rect y="863.9" height="2" fill="#f77"/><rect y="865.9" height="2.5" fill="#f88"/><rect y="868.4" fill="#fcc"/><rect y="869.4" height="2.5" fill="#f66"/><rect y="871.9" fill="#fcc"/><rect y="872.9" fill="#faa"/><rect y="873.9" fill="#f99"/><rect y="874.9" fill="#f88"/><rect y="875.9" height="2" fill="#faa"/><rect y="877.9" height="1.5" fill="#f88"/><rect y="879.4" height="1.5" fill="#fdd"/><rect y="880.9" height="2" fill="#faa"/><rect y="882.9" height="2" fill="#fee"/><rect y="884.9" height="2.5" fill="#faa"/><rect y="887.4" fill="#f88"/><rect y="888.4" fill="#fdd"/><rect y="889.4" height="2" fill="#f88"/><rect y="891.4" fill="#fdd"/><rect y="892.4" height="2.5" fill="#eef"/><rect y="894.9" height="2.5" fill="#fcc"/><rect y="897.4" height="0.2" fill="#faa"/><rect y="897.6" height="3" fill="#ccf"/><rect y="900.6" height="4" fill="#88f"/><rect y="904.6" height="2.5" fill="#ccf"/><rect y="907.1" height="2" fill="#aaf"/><rect y="909.1" fill="#77f"/><rect y="910.1" fill="#66f"/><rect y="911.1" fill="#aaf"/><rect y="912.1" height="2" fill="#88f"/><rect y="914.1" height="4.5" fill="#77f"/><rect y="918.6" height="3" fill="#99f"/><rect y="921.6" height="3" fill="#eef"/><rect y="924.6" height="1.5" fill="#ddf"/><rect y="926.1" fill="#44f"/><rect y="927.1" fill="#99f"/><rect y="928.1" height="2" fill="#ddf"/><rect y="930.1" height="2.5" fill="#aaf"/><rect y="932.6" fill="#ccf"/><rect y="933.6" fill="#66f"/><rect y="934.6" height="1.5" fill="#88f"/><rect y="936.1" fill="#ccf"/><rect y="937.1" height="2.5" fill="#88f"/><rect y="939.6" fill="#fcc"/><rect y="940.6" height="1.5" fill="#ccf"/><rect y="942.1" height="1.5" fill="#ddf"/><rect y="943.6" height="2.5" fill="#fee"/><rect y="946.1" fill="#99f"/><rect y="947.1" height="2" fill="#aaf"/><rect y="949.1" height="2" fill="#66f"/><rect y="951.1" fill="#ccf"/><rect y="952.1" fill="#77f"/><rect y="953.1" fill="#88f"/><rect y="954.1" height="2.5" fill="#bbf"/><rect y="956.6" height="2" fill="#aaf"/><rect y="958.6" fill="#eef"/><rect y="959.6" height="2" fill="#bbf"/><rect y="961.6" height="2" fill="#ccf"/><rect y="963.6" height="4.5" fill="#aaf"/><rect y="968.1" fill="#fbb"/><rect y="969.1" height="2.5" fill="#bbf"/><rect y="971.6" height="1.5" fill="#88f"/><rect y="973.1" height="2" fill="#99f"/><rect y="975.1" height="2.5" fill="#eef"/><rect y="977.6" height="2" fill="#ccf"/><rect y="979.6" fill="#fee"/><rect y="980.6" height="3.5" fill="#aaf"/><rect y="984.1" height="2" fill="#bbf"/><rect y="986.1" height="1.5" fill="#ddf"/><rect y="987.6" height="2" fill="#99f"/><rect y="989.6" height="2" fill="#ddf"/><rect y="991.6" fill="#aaf"/><rect y="992.6" height="2.5" fill="#bbf"/><rect y="995.1" fill="#aaf"/><rect y="996.1" height="1.5" fill="#eef"/><rect y="997.6" fill="#fdd"/><rect y="998.6" height="2.5" fill="#bbf"/><rect y="1001.1" height="3.4" fill="#77f"/></g><g transform="translate(172.9,0)"><rect y="751.4" height="2.5" fill="#f88"/><rect y="753.9" fill="#faa"/><rect y="754.9" height="4" fill="#fcc"/><rect y="758.9" fill="#f66"/><rect y="759.9" height="2" fill="#f44"/><rect y="761.9" height="2" fill="#f88"/><rect y="763.9" fill="#f77"/><rect y="764.9" height="2" fill="#f99"/><rect y="766.9" fill="#f77"/><rect y="767.9" height="2" fill="#f66"/><rect y="769.9" height="2.5" fill="#faa"/><rect y="772.4" fill="#fcc"/><rect y="773.4" fill="#f77"/><rect y="774.4" height="2" fill="#faa"/><rect y="776.4" fill="#f77"/><rect y="777.4" height="2" fill="#faa"/><rect y="779.4" fill="#f66"/><rect y="780.4" fill="#f44"/><rect y="781.4" fill="#fcc"/><rect y="782.4" height="2" fill="#f77"/><rect y="784.4" height="2" fill="#f99"/><rect y="786.4" height="1.5" fill="#faa"/><rect y="787.9" height="2" fill="#fcc"/><rect y="789.9" height="1.5" fill="#f99"/><rect y="791.4" fill="#fee"/><rect y="792.4" height="2" fill="#f55"/><rect y="794.4" height="2" fill="#f77"/><rect y="796.4" fill="#f44"/><rect y="797.4" height="4" fill="#f77"/><rect y="801.4" fill="#f66"/><rect y="802.4" fill="#fbb"/><rect y="803.4" height="2" fill="#faa"/><rect y="805.4" height="1.5" fill="#f99"/><rect y="806.9" fill="#f88"/><rect y="807.9" height="2" fill="#f66"/><rect y="809.9" fill="#fbb"/><rect y="810.9" fill="#faa"/><rect y="811.9" height="2" fill="#fbb"/><rect y="813.9" fill="#f77"/><rect y="814.9" height="1.5" fill="#faa"/><rect y="816.4" height="2" fill="#f77"/><rect y="818.4" height="2" fill="#f88"/><rect y="820.4" height="2" fill="#fbb"/><rect y="822.4" fill="#f66"/><rect y="823.4" fill="#f88"/><rect y="824.4" height="2.5" fill="#f66"/><rect y="826.9" fill="#faa"/><rect y="827.9" fill="#f77"/><rect y="828.9" fill="#f88"/><rect y="829.9" fill="#f66"/><rect y="830.9" fill="#f88"/><rect y="831.9" height="2.5" fill="#f55"/><rect y="834.4" height="2.5" fill="#faa"/><rect y="836.9" height="1.5" fill="#f55"/><rect y="838.4" fill="#f66"/><rect y="839.4" fill="#faa"/><rect y="840.4" height="2" fill="#f77"/><rect y="842.4" height="6" fill="#f66"/><rect y="848.4" height="2" fill="#f88"/><rect y="850.4" height="2.5" fill="#f99"/><rect y="852.9" fill="#f66"/><rect y="853.9" fill="#faa"/><rect y="854.9" height="2.5" fill="#f99"/><rect y="857.4" height="1.5" fill="#f88"/><rect y="858.9" height="2" fill="#f66"/><rect y="860.9" fill="#f44"/><rect y="861.9" fill="#f55"/><rect y="862.9" height="3" fill="#f77"/><rect y="865.9" height="2.5" fill="#f66"/><rect y="868.4" fill="#f88"/><rect y="869.4" height="1.5" fill="#f99"/><rect y="870.9" fill="#f88"/><rect y="871.9" fill="#f55"/><rect y="872.9" fill="#f88"/><rect y="873.9" fill="#fbb"/><rect y="874.9" fill="#f88"/><rect y="875.9" height="2" fill="#fdd"/><rect y="877.9" height="1.5" fill="#f77"/><rect y="879.4" height="1.5" fill="#faa"/><rect y="880.9" height="2" fill="#fbb"/><rect y="882.9" height="5.5" fill="#f99"/><rect y="888.4" fill="#fdd"/><rect y="889.4" height="2" fill="#fbb"/><rect y="891.4" fill="#f77"/><rect y="892.4" height="2.5" fill="#fcc"/><rect y="894.9" height="2.5" fill="#fee"/><rect y="897.4" height="0.2" fill="#f88"/><rect y="897.6" fill="#bbf"/><rect y="898.6" height="2" fill="#ddf"/><rect y="900.6" height="2" fill="#aaf"/><rect y="902.6" height="4.5" fill="#77f"/><rect y="907.1" height="2" fill="#44f"/><rect y="909.1" fill="#77f"/><rect y="910.1" fill="#66f"/><rect y="911.1" fill="#88f"/><rect y="912.1" fill="#77f"/><rect y="913.1" fill="#99f"/><rect y="914.1" height="2.5" fill="#bbf"/><rect y="916.6" height="2" fill="#99f"/><rect y="918.6" fill="#ccf"/><rect y="919.6" height="2" fill="#aaf"/><rect y="921.6" fill="#99f"/><rect y="922.6" height="2" fill="#aaf"/><rect y="924.6" height="1.5" fill="#88f"/><rect y="926.1" fill="#ddf"/><rect y="927.1" fill="#aaf"/><rect y="928.1" height="2" fill="#bbf"/><rect y="930.1" height="2.5" fill="#aaf"/><rect y="932.6" height="2" fill="#fff"/><rect y="934.6" height="1.5" fill="#ccf"/><rect y="936.1" fill="#aaf"/><rect y="937.1" height="2.5" fill="#88f"/><rect y="939.6" fill="#ddf"/><rect y="940.6" height="1.5" fill="#eef"/><rect y="942.1" height="1.5" fill="#ccf"/><rect y="943.6" height="2.5" fill="#88f"/><rect y="946.1" fill="#44f"/><rect y="947.1" height="2" fill="#ddf"/><rect y="949.1" height="2" fill="#88f"/><rect y="951.1" height="2" fill="#bbf"/><rect y="953.1" height="5.5" fill="#aaf"/><rect y="958.6" fill="#77f"/><rect y="959.6" fill="#66f"/><rect y="960.6" height="2" fill="#ccf"/><rect y="962.6" fill="#aaf"/><rect y="963.6" height="2" fill="#fff"/><rect y="965.6" height="2.5" fill="#66f"/><rect y="968.1" fill="#ccf"/><rect y="969.1" height="1.5" fill="#bbf"/><rect y="970.6" fill="#99f"/><rect y="971.6" height="1.5" fill="#bbf"/><rect y="973.1" height="2" fill="#aaf"/><rect y="975.1" height="2.5" fill="#eef"/><rect y="977.6" height="3" fill="#bbf"/><rect y="980.6" height="2.5" fill="#ccf"/><rect y="983.1" fill="#aaf"/><rect y="984.1" height="2" fill="#ccf"/><rect y="986.1" height="1.5" fill="#ddf"/><rect y="987.6" height="2" fill="#bbf"/><rect y="989.6" height="2" fill="#88f"/><rect y="991.6" height="3.5" fill="#aaf"/><rect y="995.1" fill="#fff"/><rect y="996.1" height="1.5" fill="#aaf"/><rect y="997.6" fill="#ddf"/><rect y="998.6" height="4.5" fill="#99f"/><rect y="1003.1" height="1.4" fill="#88f"/></g><g transform="translate(197.4,0)"><rect y="751.4" fill="#fee"/><rect y="752.4" height="1.5" fill="#fcc"/><rect y="753.9" fill="#fee"/><rect y="754.9" height="2.5" fill="#fcc"/><rect y="757.4" height="1.5" fill="#fff"/><rect y="758.9" fill="#ccf"/><rect y="759.9" height="2" fill="#eef"/><rect y="761.9" fill="#ccf"/><rect y="762.9" fill="#fff"/><rect y="763.9" height="3" fill="#eef"/><rect y="766.9" fill="#bbf"/><rect y="767.9" height="2" fill="#66f"/><rect y="769.9" height="2.5" fill="#99f"/><rect y="772.4" fill="#88f"/><rect y="773.4" height="4" fill="#77f"/><rect y="777.4" height="2" fill="#55f"/><rect y="779.4" fill="#11f"/><rect y="780.4" fill="#33f"/><rect y="781.4" height="3" fill="#00f"/><rect y="784.4" height="2" fill="#22f"/><rect y="786.4" height="1.5" fill="#00f"/><rect y="787.9" height="2" fill="#44f"/><rect y="789.9" height="1.5" fill="#22f"/><rect y="791.4" fill="#11f"/><rect y="792.4" height="2" fill="#22f"/><rect y="794.4" fill="#66f"/><rect y="795.4" fill="#00f"/><rect y="796.4" fill="#22f"/><rect y="797.4" height="2.5" fill="#44f"/><rect y="799.9" height="1.5" fill="#88f"/><rect y="801.4" fill="#33f"/><rect y="802.4" fill="#99f"/><rect y="803.4" fill="#88f"/><rect y="804.4" fill="#77f"/><rect y="805.4" height="1.5" fill="#55f"/><rect y="806.9" fill="#77f"/><rect y="807.9" height="2" fill="#44f"/><rect y="809.9" fill="#88f"/><rect y="810.9" fill="#66f"/><rect y="811.9" height="2" fill="#33f"/><rect y="813.9" height="2.5" fill="#55f"/><rect y="816.4" height="2" fill="#99f"/><rect y="818.4" height="2" fill="#aaf"/><rect y="820.4" height="2" fill="#88f"/><rect y="822.4" fill="#99f"/><rect y="823.4" fill="#77f"/><rect y="824.4" height="2.5" fill="#66f"/><rect y="826.9" fill="#88f"/><rect y="827.9" fill="#00f"/><rect y="828.9" fill="#33f"/><rect y="829.9" fill="#88f"/><rect y="830.9" fill="#66f"/><rect y="831.9" height="2.5" fill="#88f"/><rect y="834.4" height="2.5" fill="#aaf"/><rect y="836.9" height="1.5" fill="#eef"/><rect y="838.4" fill="#bbf"/><rect y="839.4" fill="#ccf"/><rect y="840.4" height="2" fill="#ddf"/><rect y="842.4" height="2" fill="#77f"/><rect y="844.4" height="2.5" fill="#88f"/><rect y="846.9" height="1.5" fill="#55f"/><rect y="848.4" height="2" fill="#22f"/><rect y="850.4" height="2.5" fill="#99f"/><rect y="852.9" fill="#55f"/><rect y="853.9" height="3.5" fill="#77f"/><rect y="857.4" height="1.5" fill="#88f"/><rect y="858.9" height="2" fill="#99f"/><rect y="860.9" height="3" fill="#66f"/><rect y="863.9" height="4.5" fill="#55f"/><rect y="868.4" fill="#77f"/><rect y="869.4" height="1.5" fill="#aaf"/><rect y="870.9" fill="#33f"/><rect y="871.9" height="2" fill="#77f"/><rect y="873.9" fill="#99f"/><rect y="874.9" fill="#77f"/><rect y="875.9" height="2" fill="#aaf"/><rect y="877.9" height="1.5" fill="#bbf"/><rect y="879.4" height="3.5" fill="#66f"/><rect y="882.9" height="2" fill="#aaf"/><rect y="884.9" height="2.5" fill="#88f"/><rect y="887.4" fill="#55f"/><rect y="888.4" fill="#88f"/><rect y="889.4" height="2" fill="#55f"/><rect y="891.4" fill="#44f"/><rect y="892.4" height="2.5" fill="#66f"/><rect y="894.9" height="2.5" fill="#11f"/><rect y="897.4" height="0.2" fill="#88f"/><rect y="897.6" fill="#ccf"/><rect y="898.6" height="2" fill="#ddf"/><rect y="900.6" height="2" fill="#eef"/><rect y="902.6" height="2" fill="#ddf"/><rect y="904.6" height="2.5" fill="#f77"/><rect y="907.1" height="2" fill="#fbb"/><rect y="909.1" fill="#f44"/><rect y="910.1" fill="#f88"/><rect y="911.1" fill="#f22"/><rect y="912.1" fill="#f77"/><rect y="913.1" fill="#f55"/><rect y="914.1" height="4.5" fill="#f66"/><rect y="918.6" fill="#f77"/><rect y="919.6" height="2" fill="#f55"/><rect y="921.6" fill="#faa"/><rect y="922.6" height="2" fill="#f99"/><rect y="924.6" height="1.5" fill="#f88"/><rect y="926.1" fill="#f77"/><rect y="927.1" fill="#f55"/><rect y="928.1" height="2" fill="#f77"/><rect y="930.1" height="2.5" fill="#f33"/><rect y="932.6" fill="#f55"/><rect y="933.6" fill="#f33"/><rect y="934.6" height="2.5" fill="#f00"/><rect y="937.1" height="2.5" fill="#f11"/><rect y="939.6" fill="#f00"/><rect y="940.6" height="1.5" fill="#f44"/><rect y="942.1" height="1.5" fill="#f00"/><rect y="943.6" height="3.5" fill="#f44"/><rect y="947.1" height="2" fill="#faa"/><rect y="949.1" height="2" fill="#f77"/><rect y="951.1" fill="#f88"/><rect y="952.1" fill="#fcc"/><rect y="953.1" height="3.5" fill="#f88"/><rect y="956.6" height="2" fill="#f77"/><rect y="958.6" fill="#f66"/><rect y="959.6" fill="#f55"/><rect y="960.6" height="2" fill="#f33"/><rect y="962.6" fill="#f99"/><rect y="963.6" height="2" fill="#f77"/><rect y="965.6" height="3.5" fill="#f44"/><rect y="969.1" height="1.5" fill="#f88"/><rect y="970.6" fill="#f77"/><rect y="971.6" height="1.5" fill="#fbb"/><rect y="973.1" height="2" fill="#f88"/><rect y="975.1" height="4.5" fill="#fdd"/><rect y="979.6" fill="#faa"/><rect y="980.6" height="2.5" fill="#fbb"/><rect y="983.1" fill="#faa"/><rect y="984.1" height="2" fill="#fdd"/><rect y="986.1" height="1.5" fill="#fcc"/><rect y="987.6" height="2" fill="#fbb"/><rect y="989.6" height="2" fill="#fcc"/><rect y="991.6" fill="#f77"/><rect y="992.6" height="2.5" fill="#f88"/><rect y="995.1" fill="#f99"/><rect y="996.1" height="1.5" fill="#fff"/><rect y="997.6" fill="#fcc"/><rect y="998.6" height="2.5" fill="#fbb"/><rect y="1001.1" height="2" fill="#fdd"/><rect y="1003.1" height="1.4" fill="#fbb"/></g><g transform="translate(222,0)"><rect y="751.4" fill="#bbf"/><rect y="752.4" height="1.5" fill="#ccf"/><rect y="753.9" fill="#aaf"/><rect y="754.9" height="4" fill="#88f"/><rect y="758.9" fill="#66f"/><rect y="759.9" height="2" fill="#bbf"/><rect y="761.9" fill="#88f"/><rect y="762.9" fill="#bbf"/><rect y="763.9" fill="#55f"/><rect y="764.9" height="2" fill="#77f"/><rect y="766.9" fill="#44f"/><rect y="767.9" height="2" fill="#66f"/><rect y="769.9" height="2.5" fill="#77f"/><rect y="772.4" fill="#aaf"/><rect y="773.4" fill="#bbf"/><rect y="774.4" height="2" fill="#ccf"/><rect y="776.4" fill="#77f"/><rect y="777.4" height="3" fill="#ccf"/><rect y="780.4" fill="#88f"/><rect y="781.4" fill="#99f"/><rect y="782.4" height="2" fill="#ccf"/><rect y="784.4" height="2" fill="#77f"/><rect y="786.4" height="1.5" fill="#ddf"/><rect y="787.9" height="2" fill="#77f"/><rect y="789.9" height="1.5" fill="#aaf"/><rect y="791.4" fill="#55f"/><rect y="792.4" height="2" fill="#bbf"/><rect y="794.4" fill="#88f"/><rect y="795.4" fill="#44f"/><rect y="796.4" fill="#bbf"/><rect y="797.4" height="2.5" fill="#22f"/><rect y="799.9" height="1.5" fill="#44f"/><rect y="801.4" fill="#55f"/><rect y="802.4" fill="#33f"/><rect y="803.4" fill="#22f"/><rect y="804.4" fill="#00f"/><rect y="805.4" height="1.5" fill="#22f"/><rect y="806.9" height="3" fill="#33f"/><rect y="809.9" fill="#11f"/><rect y="810.9" fill="#66f"/><rect y="811.9" height="2" fill="#44f"/><rect y="813.9" height="2.5" fill="#55f"/><rect y="816.4" height="2" fill="#ccf"/><rect y="818.4" height="2" fill="#88f"/><rect y="820.4" height="3" fill="#aaf"/><rect y="823.4" fill="#eef"/><rect y="824.4" height="2.5" fill="#77f"/><rect y="826.9" fill="#bbf"/><rect y="827.9" fill="#aaf"/><rect y="828.9" fill="#ccf"/><rect y="829.9" fill="#bbf"/><rect y="830.9" height="3.5" fill="#99f"/><rect y="834.4" height="2.5" fill="#bbf"/><rect y="836.9" height="1.5" fill="#99f"/><rect y="838.4" fill="#66f"/><rect y="839.4" fill="#88f"/><rect y="840.4" height="2" fill="#99f"/><rect y="842.4" height="2" fill="#88f"/><rect y="844.4" height="4" fill="#aaf"/><rect y="848.4" height="2" fill="#55f"/><rect y="850.4" height="2.5" fill="#66f"/><rect y="852.9" fill="#ccf"/><rect y="853.9" fill="#55f"/><rect y="854.9" height="2.5" fill="#88f"/><rect y="857.4" height="1.5" fill="#77f"/><rect y="858.9" height="2" fill="#bbf"/><rect y="860.9" fill="#66f"/><rect y="861.9" fill="#88f"/><rect y="862.9" fill="#99f"/><rect y="863.9" height="2" fill="#aaf"/><rect y="865.9" height="2.5" fill="#fee"/><rect y="868.4" fill="#99f"/><rect y="869.4" height="1.5" fill="#aaf"/><rect y="870.9" fill="#bbf"/><rect y="871.9" height="2" fill="#ccf"/><rect y="873.9" fill="#ddf"/><rect y="874.9" height="4.5" fill="#88f"/><rect y="879.4" height="1.5" fill="#ccf"/><rect y="880.9" height="2" fill="#77f"/><rect y="882.9" height="2" fill="#ccf"/><rect y="884.9" height="2.5" fill="#bbf"/><rect y="887.4" fill="#88f"/><rect y="888.4" fill="#aaf"/><rect y="889.4" height="2" fill="#77f"/><rect y="891.4" fill="#ccf"/><rect y="892.4" height="5" fill="#aaf"/><rect y="897.4" height="0.2" fill="#77f"/><rect y="897.6" fill="#f22"/><rect y="898.6" height="2" fill="#f44"/><rect y="900.6" height="2" fill="#f55"/><rect y="902.6" height="2" fill="#f22"/><rect y="904.6" height="2.5" fill="#f55"/><rect y="907.1" height="2" fill="#f88"/><rect y="909.1" fill="#f44"/><rect y="910.1" fill="#f11"/><rect y="911.1" fill="#f22"/><rect y="912.1" fill="#f77"/><rect y="913.1" fill="#f44"/><rect y="914.1" height="2.5" fill="#f88"/><rect y="916.6" height="2" fill="#f77"/><rect y="918.6" fill="#f44"/><rect y="919.6" height="2" fill="#f99"/><rect y="921.6" height="3" fill="#f44"/><rect y="924.6" height="1.5" fill="#faa"/><rect y="926.1" height="2" fill="#f55"/><rect y="928.1" height="2" fill="#f44"/><rect y="930.1" height="2.5" fill="#fcc"/><rect y="932.6" fill="#fee"/><rect y="933.6" fill="#fcc"/><rect y="934.6" height="1.5" fill="#fbb"/><rect y="936.1" fill="#faa"/><rect y="937.1" height="2.5" fill="#fcc"/><rect y="939.6" fill="#fbb"/><rect y="940.6" height="1.5" fill="#f88"/><rect y="942.1" height="1.5" fill="#faa"/><rect y="943.6" height="5.5" fill="#fdd"/><rect y="949.1" height="2" fill="#f99"/><rect y="951.1" fill="#f88"/><rect y="952.1" fill="#f55"/><rect y="953.1" fill="#faa"/><rect y="954.1" height="2.5" fill="#f99"/><rect y="956.6" height="2" fill="#f77"/><rect y="958.6" fill="#f99"/><rect y="959.6" height="2" fill="#f88"/><rect y="961.6" height="2" fill="#f55"/><rect y="963.6" height="2" fill="#fbb"/><rect y="965.6" height="2.5" fill="#f44"/><rect y="968.1" fill="#faa"/><rect y="969.1" height="1.5" fill="#f88"/><rect y="970.6" fill="#f99"/><rect y="971.6" height="1.5" fill="#f88"/><rect y="973.1" height="2" fill="#f66"/><rect y="975.1" height="2.5" fill="#f88"/><rect y="977.6" height="2" fill="#f66"/><rect y="979.6" fill="#fbb"/><rect y="980.6" height="2.5" fill="#faa"/><rect y="983.1" fill="#f99"/><rect y="984.1" height="2" fill="#f88"/><rect y="986.1" height="1.5" fill="#f66"/><rect y="987.6" height="4" fill="#fcc"/><rect y="991.6" height="3.5" fill="#fbb"/><rect y="995.1" fill="#faa"/><rect y="996.1" height="1.5" fill="#f88"/><rect y="997.6" fill="#faa"/><rect y="998.6" height="2.5" fill="#f66"/><rect y="1001.1" height="2" fill="#f88"/><rect y="1003.1" height="1.4" fill="#faa"/></g><g transform="translate(246.6,0)"><rect y="751.4" height="2.5" fill="#99f"/><rect y="753.9" height="3.5" fill="#aaf"/><rect y="757.4" height="1.5" fill="#eef"/><rect y="758.9" fill="#88f"/><rect y="759.9" height="2" fill="#bbf"/><rect y="761.9" height="2" fill="#ccf"/><rect y="763.9" fill="#bbf"/><rect y="764.9" height="2" fill="#ccf"/><rect y="766.9" fill="#bbf"/><rect y="767.9" height="2" fill="#eef"/><rect y="769.9" height="2.5" fill="#77f"/><rect y="772.4" fill="#fee"/><rect y="773.4" fill="#bbf"/><rect y="774.4" height="2" fill="#88f"/><rect y="776.4" fill="#ccf"/><rect y="777.4" height="2" fill="#bbf"/><rect y="779.4" fill="#ccf"/><rect y="780.4" fill="#88f"/><rect y="781.4" fill="#aaf"/><rect y="782.4" height="2" fill="#ddf"/><rect y="784.4" height="3.5" fill="#aaf"/><rect y="787.9" height="2" fill="#77f"/><rect y="789.9" height="1.5" fill="#ccf"/><rect y="791.4" fill="#77f"/><rect y="792.4" height="2" fill="#ddf"/><rect y="794.4" fill="#99f"/><rect y="795.4" fill="#ddf"/><rect y="796.4" fill="#ccf"/><rect y="797.4" height="2.5" fill="#ddf"/><rect y="799.9" height="2.5" fill="#fff"/><rect y="802.4" height="2" fill="#bbf"/><rect y="804.4" fill="#fee"/><rect y="805.4" height="1.5" fill="#fff"/><rect y="806.9" height="3" fill="#ccf"/><rect y="809.9" fill="#ddf"/><rect y="810.9" fill="#99f"/><rect y="811.9" height="2" fill="#ccf"/><rect y="813.9" fill="#ddf"/><rect y="814.9" height="1.5" fill="#fff"/><rect y="816.4" height="2" fill="#99f"/><rect y="818.4" height="2" fill="#bbf"/><rect y="820.4" height="2" fill="#66f"/><rect y="822.4" fill="#77f"/><rect y="823.4" fill="#88f"/><rect y="824.4" height="2.5" fill="#99f"/><rect y="826.9" fill="#ccf"/><rect y="827.9" fill="#99f"/><rect y="828.9" fill="#88f"/><rect y="829.9" fill="#bbf"/><rect y="830.9" fill="#ccf"/><rect y="831.9" height="2.5" fill="#ddf"/><rect y="834.4" height="2.5" fill="#ccf"/><rect y="836.9" height="1.5" fill="#aaf"/><rect y="838.4" fill="#fff"/><rect y="839.4" fill="#ddf"/><rect y="840.4" height="4" fill="#fff"/><rect y="844.4" height="2.5" fill="#eef"/><rect y="846.9" height="1.5" fill="#fdd"/><rect y="848.4" height="2" fill="#ccf"/><rect y="850.4" height="2.5" fill="#bbf"/><rect y="852.9" fill="#77f"/><rect y="853.9" fill="#ccf"/><rect y="854.9" height="2.5" fill="#aaf"/><rect y="857.4" height="1.5" fill="#99f"/><rect y="858.9" height="2" fill="#88f"/><rect y="860.9" fill="#ddf"/><rect y="861.9" fill="#eef"/><rect y="862.9" fill="#aaf"/><rect y="863.9" height="2" fill="#77f"/><rect y="865.9" height="2.5" fill="#aaf"/><rect y="868.4" fill="#ccf"/><rect y="869.4" height="2.5" fill="#ddf"/><rect y="871.9" fill="#ccf"/><rect y="872.9" fill="#88f"/><rect y="873.9" fill="#99f"/><rect y="874.9" height="3" fill="#aaf"/><rect y="877.9" height="1.5" fill="#bbf"/><rect y="879.4" height="1.5" fill="#fdd"/><rect y="880.9" height="2" fill="#99f"/><rect y="882.9" height="2" fill="#ccf"/><rect y="884.9" height="2.5" fill="#eef"/><rect y="887.4" fill="#99f"/><rect y="888.4" fill="#ddf"/><rect y="889.4" height="2" fill="#bbf"/><rect y="891.4" height="3.5" fill="#aaf"/><rect y="894.9" height="2.5" fill="#99f"/><rect y="897.4" height="0.2" fill="#ccf"/><rect y="897.6" fill="#f88"/><rect y="898.6" height="2" fill="#faa"/><rect y="900.6" height="2" fill="#f99"/><rect y="902.6" height="2" fill="#f88"/><rect y="904.6" height="2.5" fill="#f66"/><rect y="907.1" height="2" fill="#f44"/><rect y="909.1" fill="#f88"/><rect y="910.1" fill="#f66"/><rect y="911.1" fill="#f88"/><rect y="912.1" fill="#f77"/><rect y="913.1" fill="#f22"/><rect y="914.1" height="7.5" fill="#f77"/><rect y="921.6" fill="#f88"/><rect y="922.6" height="2" fill="#fdd"/><rect y="924.6" height="1.5" fill="#fcc"/><rect y="926.1" fill="#f88"/><rect y="927.1" fill="#faa"/><rect y="928.1" height="2" fill="#f99"/><rect y="930.1" height="2.5" fill="#fbb"/><rect y="932.6" fill="#faa"/><rect y="933.6" fill="#f66"/><rect y="934.6" height="1.5" fill="#fdd"/><rect y="936.1" height="3.5" fill="#f99"/><rect y="939.6" fill="#f77"/><rect y="940.6" height="1.5" fill="#fbb"/><rect y="942.1" height="1.5" fill="#faa"/><rect y="943.6" height="2.5" fill="#fcc"/><rect y="946.1" fill="#f66"/><rect y="947.1" height="2" fill="#f88"/><rect y="949.1" height="2" fill="#f77"/><rect y="951.1" height="2" fill="#f99"/><rect y="953.1" fill="#f44"/><rect y="954.1" height="2.5" fill="#fdd"/><rect y="956.6" height="2" fill="#f77"/><rect y="958.6" fill="#f55"/><rect y="959.6" fill="#f77"/><rect y="960.6" fill="#faa"/><rect y="961.6" fill="#f77"/><rect y="962.6" fill="#f55"/><rect y="963.6" height="2" fill="#f66"/><rect y="965.6" height="2.5" fill="#f99"/><rect y="968.1" fill="#f77"/><rect y="969.1" height="2.5" fill="#fee"/><rect y="971.6" height="1.5" fill="#f77"/><rect y="973.1" height="2" fill="#faa"/><rect y="975.1" height="2.5" fill="#fdd"/><rect y="977.6" height="2" fill="#fbb"/><rect y="979.6" fill="#fcc"/><rect y="980.6" height="2.5" fill="#f66"/><rect y="983.1" fill="#fcc"/><rect y="984.1" height="2" fill="#f88"/><rect y="986.1" height="1.5" fill="#faa"/><rect y="987.6" height="2" fill="#f44"/><rect y="989.6" height="2" fill="#f77"/><rect y="991.6" fill="#f99"/><rect y="992.6" height="2.5" fill="#f88"/><rect y="995.1" fill="#faa"/><rect y="996.1" height="1.5" fill="#fcc"/><rect y="997.6" fill="#fbb"/><rect y="998.6" height="2.5" fill="#fdd"/><rect y="1001.1" height="2" fill="#f88"/><rect y="1003.1" height="1.4" fill="#f55"/></g><g transform="translate(271.2,0)"><rect y="751.4" fill="#66f"/><rect y="752.4" height="1.5" fill="#aaf"/><rect y="753.9" fill="#77f"/><rect y="754.9" height="2.5" fill="#bbf"/><rect y="757.4" height="2.5" fill="#99f"/><rect y="759.9" height="3" fill="#bbf"/><rect y="762.9" fill="#99f"/><rect y="763.9" fill="#ddf"/><rect y="764.9" height="3" fill="#88f"/><rect y="767.9" height="2" fill="#99f"/><rect y="769.9" height="2.5" fill="#ccf"/><rect y="772.4" height="2" fill="#aaf"/><rect y="774.4" height="2" fill="#66f"/><rect y="776.4" fill="#ccf"/><rect y="777.4" height="2" fill="#77f"/><rect y="779.4" fill="#44f"/><rect y="780.4" fill="#88f"/><rect y="781.4" fill="#55f"/><rect y="782.4" height="2" fill="#88f"/><rect y="784.4" height="2" fill="#99f"/><rect y="786.4" height="1.5" fill="#ccf"/><rect y="787.9" height="2" fill="#88f"/><rect y="789.9" height="1.5" fill="#aaf"/><rect y="791.4" fill="#88f"/><rect y="792.4" height="2" fill="#66f"/><rect y="794.4" fill="#77f"/><rect y="795.4" fill="#bbf"/><rect y="796.4" fill="#ddf"/><rect y="797.4" height="2.5" fill="#99f"/><rect y="799.9" height="1.5" fill="#77f"/><rect y="801.4" fill="#fff"/><rect y="802.4" fill="#ccf"/><rect y="803.4" fill="#99f"/><rect y="804.4" fill="#88f"/><rect y="805.4" height="1.5" fill="#aaf"/><rect y="806.9" fill="#bbf"/><rect y="807.9" height="2" fill="#aaf"/><rect y="809.9" fill="#eef"/><rect y="810.9" fill="#99f"/><rect y="811.9" height="2" fill="#eef"/><rect y="813.9" fill="#99f"/><rect y="814.9" height="1.5" fill="#ddf"/><rect y="816.4" height="4" fill="#bbf"/><rect y="820.4" height="2" fill="#88f"/><rect y="822.4" fill="#99f"/><rect y="823.4" fill="#aaf"/><rect y="824.4" height="2.5" fill="#bbf"/><rect y="826.9" fill="#77f"/><rect y="827.9" fill="#99f"/><rect y="828.9" fill="#bbf"/><rect y="829.9" fill="#99f"/><rect y="830.9" height="3.5" fill="#bbf"/><rect y="834.4" height="2.5" fill="#eef"/><rect y="836.9" height="1.5" fill="#bbf"/><rect y="838.4" fill="#ccf"/><rect y="839.4" fill="#66f"/><rect y="840.4" height="2" fill="#ccf"/><rect y="842.4" height="2" fill="#eef"/><rect y="844.4" height="2.5" fill="#fff"/><rect y="846.9" height="1.5" fill="#aaf"/><rect y="848.4" height="2" fill="#ccf"/><rect y="850.4" height="3.5" fill="#ddf"/><rect y="853.9" fill="#ccf"/><rect y="854.9" height="2.5" fill="#eef"/><rect y="857.4" height="1.5" fill="#ddf"/><rect y="858.9" height="2" fill="#bbf"/><rect y="860.9" fill="#ddf"/><rect y="861.9" fill="#fff"/><rect y="862.9" fill="#ccf"/><rect y="863.9" height="2" fill="#99f"/><rect y="865.9" height="2.5" fill="#55f"/><rect y="868.4" fill="#99f"/><rect y="869.4" height="2.5" fill="#77f"/><rect y="871.9" fill="#88f"/><rect y="872.9" height="5" fill="#aaf"/><rect y="877.9" height="1.5" fill="#ccf"/><rect y="879.4" height="1.5" fill="#99f"/><rect y="880.9" height="2" fill="#fdd"/><rect y="882.9" height="2" fill="#eef"/><rect y="884.9" height="2.5" fill="#aaf"/><rect y="887.4" fill="#66f"/><rect y="888.4" fill="#ddf"/><rect y="889.4" height="2" fill="#bbf"/><rect y="891.4" fill="#77f"/><rect y="892.4" height="2.5" fill="#ddf"/><rect y="894.9" height="2.5" fill="#77f"/><rect y="897.4" height="0.2" fill="#99f"/><rect y="897.6" fill="#fee"/><rect y="898.6" height="4" fill="#fdd"/><rect y="902.6" height="2" fill="#fcc"/><rect y="904.6" height="2.5" fill="#ddf"/><rect y="907.1" height="2" fill="#faa"/><rect y="909.1" fill="#fdd"/><rect y="910.1" fill="#fbb"/><rect y="911.1" fill="#f99"/><rect y="912.1" height="2" fill="#fbb"/><rect y="914.1" height="2.5" fill="#f99"/><rect y="916.6" height="2" fill="#fbb"/><rect y="918.6" fill="#fdd"/><rect y="919.6" height="2" fill="#fff"/><rect y="921.6" fill="#fbb"/><rect y="922.6" height="2" fill="#fdd"/><rect y="924.6" height="1.5" fill="#faa"/><rect y="926.1" fill="#fbb"/><rect y="927.1" fill="#faa"/><rect y="928.1" height="2" fill="#f77"/><rect y="930.1" height="2.5" fill="#f88"/><rect y="932.6" fill="#fbb"/><rect y="933.6" fill="#faa"/><rect y="934.6" height="1.5" fill="#fbb"/><rect y="936.1" fill="#faa"/><rect y="937.1" height="2.5" fill="#f66"/><rect y="939.6" fill="#faa"/><rect y="940.6" height="3" fill="#fbb"/><rect y="943.6" height="3.5" fill="#faa"/><rect y="947.1" height="2" fill="#fdd"/><rect y="949.1" height="2" fill="#fbb"/><rect y="951.1" fill="#eef"/><rect y="952.1" fill="#fcc"/><rect y="953.1" fill="#fdd"/><rect y="954.1" height="2.5" fill="#faa"/><rect y="956.6" height="2" fill="#fee"/><rect y="958.6" fill="#f88"/><rect y="959.6" height="2" fill="#fee"/><rect y="961.6" fill="#fdd"/><rect y="962.6" fill="#faa"/><rect y="963.6" height="2" fill="#fdd"/><rect y="965.6" height="2.5" fill="#fcc"/><rect y="968.1" fill="#f99"/><rect y="969.1" height="1.5" fill="#fbb"/><rect y="970.6" height="7" fill="#faa"/><rect y="977.6" height="2" fill="#fbb"/><rect y="979.6" fill="#f66"/><rect y="980.6" height="3.5" fill="#f99"/><rect y="984.1" height="2" fill="#faa"/><rect y="986.1" height="1.5" fill="#fcc"/><rect y="987.6" height="2" fill="#fff"/><rect y="989.6" height="2" fill="#fbb"/><rect y="991.6" fill="#fee"/><rect y="992.6" height="2.5" fill="#f66"/><rect y="995.1" fill="#fdd"/><rect y="996.1" height="1.5" fill="#f88"/><rect y="997.6" fill="#faa"/><rect y="998.6" height="2.5" fill="#f22"/><rect y="1001.1" height="2" fill="#f88"/><rect y="1003.1" height="1.4" fill="#f99"/></g><g transform="translate(295.7,0)"><rect y="751.4" fill="#88f"/><rect y="752.4" height="1.5" fill="#77f"/><rect y="753.9" fill="#88f"/><rect y="754.9" height="2.5" fill="#aaf"/><rect y="757.4" height="1.5" fill="#88f"/><rect y="758.9" fill="#99f"/><rect y="759.9" height="2" fill="#88f"/><rect y="761.9" fill="#bbf"/><rect y="762.9" fill="#ddf"/><rect y="763.9" fill="#44f"/><rect y="764.9" height="2" fill="#88f"/><rect y="766.9" fill="#99f"/><rect y="767.9" height="2" fill="#88f"/><rect y="769.9" height="2.5" fill="#66f"/><rect y="772.4" fill="#22f"/><rect y="773.4" fill="#aaf"/><rect y="774.4" height="2" fill="#99f"/><rect y="776.4" fill="#55f"/><rect y="777.4" height="2" fill="#eef"/><rect y="779.4" fill="#77f"/><rect y="780.4" fill="#55f"/><rect y="781.4" fill="#99f"/><rect y="782.4" height="2" fill="#77f"/><rect y="784.4" height="3.5" fill="#99f"/><rect y="787.9" height="2" fill="#55f"/><rect y="789.9" height="1.5" fill="#77f"/><rect y="791.4" fill="#bbf"/><rect y="792.4" height="2" fill="#77f"/><rect y="794.4" fill="#bbf"/><rect y="795.4" fill="#99f"/><rect y="796.4" fill="#88f"/><rect y="797.4" height="2.5" fill="#ddf"/><rect y="799.9" height="1.5" fill="#66f"/><rect y="801.4" fill="#55f"/><rect y="802.4" fill="#aaf"/><rect y="803.4" fill="#99f"/><rect y="804.4" fill="#aaf"/><rect y="805.4" height="1.5" fill="#ccf"/><rect y="806.9" fill="#ddf"/><rect y="807.9" height="2" fill="#66f"/><rect y="809.9" fill="#ccf"/><rect y="810.9" fill="#ddf"/><rect y="811.9" height="2" fill="#bbf"/><rect y="813.9" fill="#99f"/><rect y="814.9" height="3.5" fill="#aaf"/><rect y="818.4" height="2" fill="#bbf"/><rect y="820.4" height="2" fill="#88f"/><rect y="822.4" fill="#99f"/><rect y="823.4" fill="#77f"/><rect y="824.4" height="2.5" fill="#ddf"/><rect y="826.9" fill="#88f"/><rect y="827.9" fill="#ddf"/><rect y="828.9" fill="#77f"/><rect y="829.9" height="2" fill="#aaf"/><rect y="831.9" height="2.5" fill="#88f"/><rect y="834.4" height="2.5" fill="#77f"/><rect y="836.9" height="2.5" fill="#66f"/><rect y="839.4" fill="#ccf"/><rect y="840.4" height="2" fill="#bbf"/><rect y="842.4" height="4.5" fill="#aaf"/><rect y="846.9" height="1.5" fill="#99f"/><rect y="848.4" height="2" fill="#bbf"/><rect y="850.4" height="2.5" fill="#77f"/><rect y="852.9" fill="#bbf"/><rect y="853.9" fill="#aaf"/><rect y="854.9" height="2.5" fill="#ccf"/><rect y="857.4" height="3.5" fill="#bbf"/><rect y="860.9" fill="#fff"/><rect y="861.9" fill="#66f"/><rect y="862.9" height="5.5" fill="#55f"/><rect y="868.4" fill="#66f"/><rect y="869.4" height="1.5" fill="#88f"/><rect y="870.9" fill="#eef"/><rect y="871.9" fill="#88f"/><rect y="872.9" fill="#77f"/><rect y="873.9" fill="#fff"/><rect y="874.9" fill="#bbf"/><rect y="875.9" height="2" fill="#ccf"/><rect y="877.9" height="1.5" fill="#aaf"/><rect y="879.4" height="1.5" fill="#77f"/><rect y="880.9" height="2" fill="#99f"/><rect y="882.9" height="2" fill="#ccf"/><rect y="884.9" height="2.5" fill="#eef"/><rect y="887.4" fill="#99f"/><rect y="888.4" fill="#77f"/><rect y="889.4" height="2" fill="#aaf"/><rect y="891.4" fill="#99f"/><rect y="892.4" height="2.5" fill="#77f"/><rect y="894.9" height="2.7" fill="#66f"/><rect y="897.6" height="3" fill="#fdd"/><rect y="900.6" height="2" fill="#fff"/><rect y="902.6" height="2" fill="#fbb"/><rect y="904.6" height="2.5" fill="#faa"/><rect y="907.1" height="2" fill="#fbb"/><rect y="909.1" fill="#fee"/><rect y="910.1" fill="#fbb"/><rect y="911.1" height="2" fill="#fcc"/><rect y="913.1" fill="#fbb"/><rect y="914.1" height="2.5" fill="#fdd"/><rect y="916.6" height="2" fill="#fff"/><rect y="918.6" fill="#fcc"/><rect y="919.6" height="2" fill="#fdd"/><rect y="921.6" fill="#eef"/><rect y="922.6" height="3.5" fill="#fbb"/><rect y="926.1" fill="#faa"/><rect y="927.1" fill="#ddf"/><rect y="928.1" height="4.5" fill="#fdd"/><rect y="932.6" fill="#ddf"/><rect y="933.6" fill="#fff"/><rect y="934.6" height="1.5" fill="#fee"/><rect y="936.1" fill="#ccf"/><rect y="937.1" height="2.5" fill="#f99"/><rect y="939.6" fill="#fdd"/><rect y="940.6" height="1.5" fill="#eef"/><rect y="942.1" height="1.5" fill="#fbb"/><rect y="943.6" height="2.5" fill="#f88"/><rect y="946.1" fill="#f99"/><rect y="947.1" height="2" fill="#f55"/><rect y="949.1" height="2" fill="#f88"/><rect y="951.1" fill="#f99"/><rect y="952.1" height="4.5" fill="#f55"/><rect y="956.6" height="2" fill="#f66"/><rect y="958.6" fill="#f44"/><rect y="959.6" fill="#f88"/><rect y="960.6" fill="#f00"/><rect y="961.6" fill="#f55"/><rect y="962.6" fill="#f44"/><rect y="963.6" height="2" fill="#f77"/><rect y="965.6" height="2.5" fill="#f55"/><rect y="968.1" fill="#fbb"/><rect y="969.1" height="1.5" fill="#f44"/><rect y="970.6" fill="#f66"/><rect y="971.6" height="1.5" fill="#f55"/><rect y="973.1" height="2" fill="#f77"/><rect y="975.1" height="2.5" fill="#f66"/><rect y="977.6" height="2" fill="#f55"/><rect y="979.6" fill="#f66"/><rect y="980.6" height="2.5" fill="#f33"/><rect y="983.1" fill="#faa"/><rect y="984.1" height="2" fill="#f88"/><rect y="986.1" height="1.5" fill="#f44"/><rect y="987.6" height="2" fill="#f00"/><rect y="989.6" height="2" fill="#f33"/><rect y="991.6" height="3.5" fill="#f88"/><rect y="995.1" fill="#fdd"/><rect y="996.1" height="1.5" fill="#f44"/><rect y="997.6" fill="#fdd"/><rect y="998.6" height="2.5" fill="#f77"/><rect y="1001.1" height="3.4" fill="#f88"/></g></g>
<path d="M87.1 751.4V719.5H133.3V731.2M110.2 719.5V688.7H232.8V713.8M111.6 751.4V731.2H154.5V731.6M136.2 751.4V731.6H173V732.3M160.6 751.4V732.3H185.4V751.4M209.6 751.4V713.8H255.6V718.3M234.2 751.4V718.3H276.8V720.2M258.8 751.4V720.2H295.8V721.4M283.4 751.4V721.4H308V751.4" stroke="#555" stroke-width="0.8" fill="none"/>
<defs><linearGradient id="dg31" x1="0" y1="0" x2="1" y2="0"><stop offset="0" stop-color="#000" stop-opacity="0"/><stop offset="0.6" stop-color="#000" stop-opacity="0.18"/><stop offset="1" stop-color="#000" stop-opacity="0.5"/></linearGradient></defs>
<rect x="50.8" y="753.4" width="10" height="249.1" fill="url(#dg31)"/>
<path d="M74.2 751.4L61.9 751.4L63.1 752.1L62.2 752.8L63.3 753.5L63.3 754.2L62.8 754.9L63.2 755.6L63 756.3L62 757L62.8 757.7L63.3 758.4L63.3 759.1L62.5 759.8L63.3 760.5L63.3 761.2L63.3 761.9L63.3 762.6L63.1 763.3L63.3 764L63.3 764.7L62.1 765.4L62.6 766.1L63.1 766.8L60.1 767.5L63.3 768.2L61.6 768.9L62.5 769.6L63.3 770.3L59.6 771L63.3 771.7L63.3 772.4L63.3 773.1L63.3 773.8L61.9 774.5L61.2 775.2L61.8 775.9L59.5 776.6L58.7 777.3L60.6 778L61 778.7L60.4 779.4L58.8 780.1L57.3 780.8L59.9 781.5L60.1 782.2L60.4 782.9L57.9 783.6L59.1 784.3L60.1 785L60.8 785.7L60.7 786.4L60.5 787.1L58 787.8L58.8 788.5L60.4 789.2L61.4 789.9L62.2 790.6L62.6 791.3L63.3 792L63.3 792.7L62 793.4L61.7 794.1L61.3 794.8L58.7 795.5L58.3 796.2L58.7 796.9L58.4 797.6L58.5 798.3L56.3 799L59.3 799.7L58.8 800.4L57.8 801.1L59.5 801.8L59.4 802.5L60.7 803.2L60.2 803.9L61.7 804.6L61.5 805.3L62.6 806L63.2 806.7L61.5 807.4L62.1 808.1L62.8 808.8L62.6 809.5L63.3 810.2L61.2 810.9L62.6 811.6L62.7 812.3L63.3 813L62.2 813.7L62.7 814.4L62 815.1L62.7 815.8L62.3 816.5L62.9 817.2L63.3 817.9L61.3 818.6L62.7 819.3L63.3 820L63.3 820.7L62.4 821.4L61.4 822.1L60.5 822.8L60 823.5L61.4 824.2L60.3 824.9L61.8 825.6L62.2 826.3L61.6 827L62.9 827.7L62.3 828.4L62 829.1L58.2 829.8L62.4 830.5L62.2 831.2L59.8 831.9L63.2 832.6L63.3 833.3L60.6 834L63.1 834.7L63.3 835.4L62.4 836.1L61.9 836.8L61.3 837.5L61 838.2L62.1 838.9L62.6 839.6L63.2 840.3L63.3 841L63.2 841.7L63.3 842.4L61.6 843.1L60.5 843.8L60.4 844.5L60.4 845.2L61.1 845.9L60.5 846.6L60.4 847.3L62 848L60.4 848.7L63.2 849.4L62.7 850.1L62.9 850.8L63 851.5L62.4 852.2L61.4 852.9L61.2 853.6L61.5 854.3L61.8 855L61.6 855.7L61.6 856.4L61.2 857.1L60.8 857.8L59.4 858.5L59.1 859.2L58.6 859.9L55.5 860.6L59.7 861.3L61.4 862L61.2 862.7L61.8 863.4L61.2 864.1L59.9 864.8L59.7 865.5L60.5 866.2L60.3 866.9L62.2 867.6L63.3 868.3L63.3 869L61 869.7L63.3 870.4L63.2 871.1L60.4 871.8L62.5 872.5L62.4 873.2L62.4 873.9L63.3 874.6L62.7 875.3L63.3 876L63.3 876.7L63.3 877.4L62.7 878.1L62.5 878.8L63.3 879.5L60.3 880.2L62.8 880.9L62.6 881.6L63.1 882.3L58.3 883L61.8 883.7L62.8 884.4L62 885.1L63.2 885.8L60.6 886.5L60.7 887.2L58.5 887.9L57.8 888.6L58.1 889.3L56.3 890L57.8 890.7L57.8 891.4L57.8 892.1L57.8 892.8L58.3 893.5L58.5 894.2L57.9 894.9L57.8 895.6L57.8 896.3L58.2 897L57.9 897.7L57.2 898.4L57.8 899.1L59.1 899.8L57.8 900.5L59.2 901.2L58.7 901.9L59.3 902.6L58.4 903.3L57.9 904L61 904.7L61 905.4L58.9 906.1L58.3 906.8L56.8 907.5L59 908.2L59.8 908.9L59.8 909.6L57.8 910.3L58.5 911L58.6 911.7L58.4 912.4L58.6 913.1L58.4 913.8L58.8 914.5L58.3 915.2L59.9 915.9L58.5 916.6L55.2 917.3L59.1 918L58.6 918.7L60.7 919.4L60.4 920.1L58.8 920.8L58.9 921.5L55.6 922.2L60.4 922.9L59.1 923.6L55.6 924.3L56.2 925L58.9 925.7L59.7 926.4L59.7 927.1L60.3 927.8L57.4 928.5L60.7 929.2L61.3 929.9L61.7 930.6L61.3 931.3L60.5 932L59.2 932.7L60 933.4L60.3 934.1L59.3 934.8L56.5 935.5L58.8 936.2L55.6 936.9L56.5 937.6L58.3 938.3L59.2 939L60 939.7L56.3 940.4L58.6 941.1L59 941.8L58.5 942.5L57.8 943.2L57.8 943.9L58.8 944.6L59.2 945.3L57.8 946L57.8 946.7L54.8 947.4L57 948.1L57.1 948.8L57.8 949.5L58.8 950.2L57.8 950.9L57.8 951.6L54.8 952.3L58.3 953L59.7 953.7L60.7 954.4L58.8 955.1L61.2 955.8L60.6 956.5L61.5 957.2L61.5 957.9L60.6 958.6L59.3 959.3L60.3 960L61.1 960.7L61.9 961.4L60.7 962.1L61.8 962.8L61.1 963.5L62.4 964.2L61.6 964.9L61.9 965.6L62 966.3L62.9 967L63.1 967.7L62.5 968.4L63.3 969.1L62.3 969.8L62.3 970.5L62.1 971.2L61.4 971.9L59.7 972.6L59 973.3L57.7 974L58.7 974.7L59.1 975.4L58 976.1L57.8 976.8L57.9 977.5L58 978.2L58 978.9L58 979.6L59.2 980.3L56.2 981L61.4 981.7L60.5 982.4L59.9 983.1L59.4 983.8L60.2 984.5L59.8 985.2L56.6 985.9L58.4 986.6L58.7 987.3L58.6 988L57.8 988.7L57.8 989.4L57.8 990.1L57.8 990.8L57.9 991.5L57.8 992.2L58.2 992.9L59.6 993.6L59.3 994.3L59.9 995L59.9 995.7L61.1 996.4L61.9 997.1L62 997.8L61.5 998.5L60.6 999.2L61.4 999.9L61.3 1000.6L61.3 1001.3L59.8 1002L59.5 1002.7L57.1 1003.4L60.7 1004.1L60.7 1004.5L74.2 1004.5Z" fill="#000"/>
<path d="M74.2 755.6H61.5V756.2H74.2M74.2 755.1H60.8V755.9H61.5M74.2 762.6H61.6V763.2H74.2M74.2 766H62V766.5H74.2M74.2 767.1H62.7V767.7H74.2M74.2 769.3H63.3V769.9H74.2M74.2 768.8H61.1V769.6H63.3M74.2 784.8H60.9V785.3H74.2M74.2 787.5H63.1V788H74.2M74.2 787H60.9V787.8H63.1M74.2 786.4H60.6V787.4H60.9M74.2 789.1H64.6V789.7H74.2M74.2 788.6H63.6V789.4H64.6M74.2 790.7H65.8V791.3H74.2M74.2 790.2H61.1V791H65.8M63.6 789H61V790.6H61.1M74.2 802.5H64.4V803.1H74.2M74.2 811.5H65.7V812H74.2M74.2 815.2H63.4V815.8H74.2M74.2 816.8H63.5V817.4H74.2M74.2 819H64.5V819.5H74.2M74.2 822.2H63V822.7H74.2M74.2 825.4H66V826H74.2M74.2 824.9H62.5V825.7H66M74.2 830.7H67.3V831.3H74.2M74.2 835.7H65.6V836.2H74.2M74.2 836.8H65.4V837.3H74.2M74.2 838.4H64.5V839H74.2M74.2 842.6H65.7V843.1H74.2M74.2 849.4H65.9V849.9H74.2M74.2 850.5H65.2V851H74.2M74.2 856.7H65.6V857.3H74.2M74.2 856.2H64.6V857H65.6M74.2 862.2H66.9V862.8H74.2M74.2 863.3H65.4V863.9H74.2M74.2 868.8H65.6V869.3H74.2M74.2 869.9H66.1V870.4H74.2M74.2 871H67.5V871.5H74.2M74.2 872.1H65.7V872.6H74.2M74.2 873.2H65.6V873.7H74.2M74.2 880.2H66.7V880.8H74.2M74.2 879.7H65.8V880.5H66.7M74.2 883H65.9V883.5H74.2M74.2 886.1H66.3V886.7H74.2M74.2 889.8H66V890.4H74.2M74.2 894.1H66.3V894.6H74.2M74.2 893.5H64.1V894.3H66.3M74.2 900H59.8V900.6H74.2M74.2 901.7H63.9V902.3H74.2M74.2 901.1H61V902H63.9M74.2 902.8H64.2V903.4H74.2M74.2 904.5H62.5V905H74.2M74.2 903.9H60.1V904.8H62.5M74.2 907.3H61.2V907.8H74.2M74.2 906.7H58.8V907.5H61.2M74.2 912.6H59.4V913.2H74.2M74.2 912H57.6V912.9H59.4M74.2 925.5H65.1V926H74.2M74.2 926.5H64.1V927.1H74.2M65.1 925.7H61V926.8H64.1M74.2 927.6H61.1V928.1H74.2M74.2 929.2H63.6V929.7H74.2M74.2 928.7H60.4V929.5H63.6M74.2 930.3H64.7V930.8H74.2M74.2 931.3H63.5V931.9H74.2M64.7 930.5H59.7V931.6H63.5M74.2 934H63.3V934.8H74.2M74.2 944.2H64.4V944.8H74.2M74.2 943.7H62.5V944.5H64.4M74.2 948.6H61V949.2H74.2M74.2 950.3H63.6V950.8H74.2M74.2 949.7H61.6V950.5H63.6M74.2 951.9H60.6V952.5H74.2M74.2 954.1H64V954.7H74.2M74.2 957.6H63V958.2H74.2M74.2 967.8H61.4V968.4H74.2M74.2 967.3H59.3V968.1H61.4M74.2 968.9H64.9V969.5H74.2M74.2 970.5H63.6V971.1H74.2M74.2 970H62.8V970.8H63.6M64.9 969.2H60.1V970.4H62.8M74.2 972.7H61.7V973.2H74.2M74.2 972.2H60.7V973H61.7M74.2 973.8H66.2V974.3H74.2M74.2 974.9H65.4V975.4H74.2M66.2 974H63.1V975.1H65.4M60.7 972.6H60.4V974.6H63.1M74.2 979.5H60.2V980.2H74.2M74.2 982.9H61.8V983.4H74.2M74.2 985.1H62.1V985.6H74.2M74.2 987.2H66.1V987.8H74.2M74.2 986.7H65.5V987.5H66.1M74.2 988.3H62.2V988.9H74.2M74.2 990H63.9V990.5H74.2M74.2 989.4H62.9V990.3H63.9M74.2 993.5H63.1V994.1H74.2M74.2 1003.7H63V1004.2H74.2M74.2 1003.1H60.1V1004H63M74.2 751.6H49.7V751.8H74.2M74.2 752.8H52.9V753.4H74.2M74.2 752.3H51.8V753.1H52.9M74.2 754.5H56.6V755.5H60.8M74.2 757.8H59.6V758.4H74.2M74.2 757.3H59.2V758.1H59.6M74.2 756.7H55.7V757.7H59.2M56.6 755H54.3V757.2H55.7M74.2 754H49.3V756.1H54.3M51.8 752.7H48.7V755H49.3M74.2 758.9H50.6V759.6H74.2M74.2 760.3H50.5V761H74.2M50.6 759.2H46.7V760.6H50.5M74.2 762.1H56.5V762.9H61.6M74.2 764.3H58.6V764.9H74.2M74.2 763.7H57.6V764.6H58.6M74.2 768.2H59.3V769.2H61.1M62.7 767.4H56.5V768.7H59.3M62 766.3H55.5V768H56.5M74.2 765.4H54.7V767.1H55.5M57.6 764.2H53.4V766.3H54.7M56.5 762.5H51.8V765.2H53.4M74.2 761.5H47.9V763.8H51.8M74.2 770.4H54.4V771.2H74.2M74.2 771.9H49.5V772.7H74.2M54.4 770.8H47.1V772.3H49.5M74.2 773.2H51.8V773.8H74.2M74.2 775.8H58.8V776.4H74.2M74.2 775.1H57.6V776.1H58.8M74.2 774.5H52V775.6H57.6M51.8 773.5H49.2V775H52M74.2 776.9H53.7V777.5H74.2M74.2 778.7H58.5V779.3H74.2M74.2 778.1H56.7V779H58.5M74.2 780.5H59.5V781.1H74.2M74.2 779.9H56.2V780.8H59.5M56.7 778.5H53.7V780.3H56.2M53.7 777.2H48.8V779.4H53.7M74.2 782.6H55.8V783.2H74.2M74.2 782.1H52.7V782.9H55.8M74.2 783.7H57.6V784.3H74.2M74.2 785.9H56.9V786.9H60.6M56.9 786.4H56.8V789.8H61M60.9 785.1H56.4V788.1H56.8M57.6 784H54.1V786.6H56.4M52.7 782.5H51.4V785.3H54.1M74.2 781.6H49V783.9H51.4M74.2 793.8H59.2V794.4H74.2M74.2 793.1H57.3V794.1H59.2M74.2 792.4H53.7V793.6H57.3M74.2 791.8H52.8V793H53.7M74.2 796.4H57.7V797.1H74.2M74.2 795.6H54.5V796.7H57.7M74.2 794.9H49.4V796.2H54.5M74.2 797.6H56.1V798.2H74.2M74.2 799.5H61V800.2H74.2M74.2 798.9H59.2V799.9H61M56.1 797.9H51.8V799.4H59.2M74.2 800.7H60.7V801.3H74.2M74.2 803.7H61.6V804.3H74.2M64.4 802.8H60.7V804H61.6M74.2 801.9H58.9V803.4H60.7M60.7 801H56V802.6H58.9M74.2 804.8H60V805.3H74.2M74.2 806.4H60.8V807H74.2M74.2 805.9H58.3V806.7H60.8M60 805.1H56.1V806.3H58.3M74.2 807.6H60V808.1H74.2M74.2 808.7H62.2V809.2H74.2M74.2 810.9H63.8V811.7H65.7M74.2 810.4H62V811.3H63.8M74.2 809.8H60.1V810.8H62M62.2 809H59.8V810.3H60.1M60 807.8H57.3V809.6H59.8M56.1 805.7H55.4V808.7H57.3M74.2 812.5H54.1V813.1H74.2M74.2 813.6H59.3V814.1H74.2M74.2 814.7H57.6V815.5H63.4M59.3 813.9H54.3V815.1H57.6M74.2 818.4H61.1V819.2H64.5M74.2 817.9H58.6V818.8H61.1M63.5 817.1H57.6V818.4H58.6M74.2 820.6H61.4V821.1H74.2M74.2 821.7H61.1V822.5H63M61.4 820.9H59.7V822.1H61.1M74.2 823.3H61.4V823.8H74.2M74.2 824.4H61.9V825.3H62.5M61.4 823.5H58V824.8H61.9M59.7 821.5H57.3V824.2H58M74.2 820.1H56.2V822.8H57.3M57.6 817.7H55.9V821.4H56.2M74.2 816.3H54.7V819.6H55.9M54.3 814.5H52.9V817.9H54.7M54.1 812.8H52.6V816.2H52.9M74.2 828.5H56.9V829.1H74.2M74.2 827.8H54.9V828.8H56.9M74.2 827.1H52.4V828.3H54.9M74.2 826.5H51.3V827.7H52.4M74.2 830.2H62.4V831H67.3M74.2 829.6H59.9V830.6H62.4M74.2 832.9H63.8V833.5H74.2M74.2 832.4H61.1V833.2H63.8M74.2 831.8H59.7V832.8H61.1M74.2 834H59.9V834.6H74.2M74.2 835.1H63.4V836H65.6M74.2 837.9H62.7V838.7H64.5M65.4 837.1H61.4V838.3H62.7M63.4 835.5H60.8V837.7H61.4M59.9 834.3H58.6V836.6H60.8M59.7 832.3H57.9V835.5H58.6M59.9 830.1H56.4V833.9H57.9M74.2 840H63V840.5H74.2M74.2 839.5H60.7V840.3H63M74.2 841H60.7V841.6H74.2M74.2 842.1H60.7V842.9H65.7M74.2 844.7H63.7V845.2H74.2M74.2 844.2H62.1V845H63.7M74.2 843.7H61.1V844.6H62.1M60.7 842.5H59.5V844.1H61.1M74.2 847.3H64.4V847.8H74.2M74.2 846.8H62.3V847.6H64.4M74.2 846.3H61.8V847.2H62.3M65.9 849.7H63.2V850.7H65.2M74.2 848.9H62.9V850.2H63.2M74.2 848.4H61.2V849.5H62.9M61.8 846.7H60.7V849H61.2M74.2 845.8H58.6V847.8H60.7M59.5 843.3H58.4V846.8H58.6M60.7 841.3H57.3V845H58.4M60.7 839.9H56.8V843.2H57.3M74.2 852.7H63V853.2H74.2M74.2 852.1H61.7V852.9H63M74.2 854.4H61.9V855H74.2M74.2 853.8H61.8V854.7H61.9M74.2 855.6H61.3V856.6H64.6M61.8 854.3H60.7V856.1H61.3M61.7 852.5H60V855.2H60.7M74.2 851.5H55.7V853.8H60M74.2 859.5H63.5V860H74.2M74.2 858.9H62.5V859.7H63.5M74.2 858.4H59.8V859.3H62.5M74.2 861.1H64.7V861.7H74.2M74.2 860.6H62V861.4H64.7M66.9 862.5H61.3V863.6H65.4M62 861H59.6V863H61.3M59.8 858.8H58.2V862H59.6M74.2 857.8H57.3V860.4H58.2M74.2 865.9H62.6V866.6H74.2M74.2 865.1H58.5V866.2H62.6M74.2 864.4H55.9V865.7H58.5M74.2 868.2H64.1V869H65.6M65.7 872.4H64.6V873.5H65.6M67.5 871.3H63.6V872.9H64.6M66.1 870.1H60.7V872.1H63.6M64.1 868.6H60.2V871.1H60.7M74.2 867.7H58.9V869.9H60.2M74.2 867.1H58V868.8H58.9M74.2 875.3H64.4V875.9H74.2M74.2 878.1H64.5V878.6H74.2M74.2 877.5H62.9V878.3H64.5M74.2 877H61.1V877.9H62.9M74.2 879.1H63.2V880.1H65.8M74.2 881.3H63.6V881.9H74.2M74.2 882.4H63.2V883.2H65.9M63.6 881.6H61.7V882.8H63.2M63.2 879.6H61.3V882.2H61.7M61.1 877.4H60.3V880.9H61.3M74.2 876.4H59.9V879.2H60.3M64.4 875.6H59.3V877.8H59.9M74.2 874.8H57.8V876.7H59.3M74.2 874.2H56.6V875.7H57.8M74.2 884.5H59.4V885.1H74.2M74.2 885.6H60.1V886.4H66.3M59.4 884.8H57.6V886H60.1M74.2 884H56.2V885.4H57.6M74.2 887.7H62.8V888.2H74.2M74.2 887.2H61.4V888H62.8M74.2 889.3H63.2V890.1H66M74.2 888.8H60.5V889.7H63.2M74.2 890.9H61.3V891.4H74.2M74.2 893H63V893.9H64.1M74.2 892.5H60.2V893.5H63M74.2 891.9H59.9V893H60.2M61.3 891.2H58.8V892.5H59.9M60.5 889.2H58.4V891.8H58.8M61.4 887.6H55.9V890.5H58.4M56.2 884.7H54.6V889H55.9M74.2 896.6H62.9V897.3H74.2M74.2 895.8H62.1V897H62.9M74.2 895.1H59.1V896.4H62.1M54.6 886.9H53.2V895.8H59.1M56.6 875H52.8V891.3H53.2M58 867.9H52.5V883.2H52.8M55.9 865H52.1V875.5H52.5M57.3 859.1H51.7V870.3H52.1M55.7 852.7H51.4V864.7H51.7M56.8 841.5H51V858.7H51.4M56.4 832H50.6V850.1H51M51.3 827.1H50.3V841.1H50.6M52.6 814.5H49.9V834.1H50.3M55.4 807.2H49.5V824.3H49.9M56 801.8H49.1V815.7H49.5M51.8 798.6H48.7V808.8H49.1M49.4 795.5H48.3V803.7H48.7M52.8 792.4H47.9V799.6H48.3M49 782.7H47.4V796H47.9M48.8 778.3H47V789.4H47.4M49.2 774.3H46.5V783.8H47M47.1 771.5H46V779.1H46.5M47.9 762.7H45.5V775.3H46M46.7 759.9H45V769H45.5M48.7 753.9H44.4V764.5H45M49.7 751.7H43.6V759.2H44.4M43.6 755.4V754M74.2 897.9H44.5V897.9H74.2M59.8 900.3H57.7V901.6H61M64.2 903.1H57.5V904.3H60.1M74.2 906.1H56.5V907.1H58.8M74.2 905.6H55V906.6H56.5M57.5 903.7H54.7V906.1H55M57.7 900.9H53.1V904.9H54.7M74.2 899.5H51.1V902.9H53.1M74.2 898.9H49V901.2H51.1M74.2 898.4H45.5V900.1H49M74.2 911.4H55.2V912.4H57.6M74.2 910.8H53.6V911.9H55.2M74.2 910.1H50V911.3H53.6M74.2 909.5H49.6V910.7H50M74.2 908.9H48.6V910.1H49.6M74.2 908.3H43.5V909.5H48.6M74.2 914.6H49.1V915.6H74.2M74.2 913.7H46.2V915.1H49.1M74.2 916.1H51.4V916.6H74.2M74.2 919H54V919.6H74.2M74.2 918.4H51.4V919.3H54M74.2 917.8H49.3V918.9H51.4M74.2 917.2H44.8V918.4H49.3M51.4 916.4H43.7V917.8H44.8M74.2 921.2H55.9V921.7H74.2M74.2 922.2H55.2V922.8H74.2M74.2 923.3H57.5V923.8H74.2M74.2 924.9H57.4V926.3H61M60.4 929.1H58.9V931.1H59.7M61.1 927.9H57.2V930.1H58.9M57.4 925.6H56.2V929H57.2M74.2 924.4H54.8V927.3H56.2M57.5 923.6H54.1V925.8H54.8M55.2 922.5H51.8V924.7H54.1M55.9 921.4H50.1V923.6H51.8M74.2 920.6H48.6V922.5H50.1M74.2 920.1H47V921.6H48.6M74.2 933.2H57.4V934.4H63.3M74.2 932.4H47.8V933.8H57.4M74.2 935.3H57.3V936H74.2M74.2 937.4H55.6V938.1H74.2M74.2 936.7H51V937.7H55.6M57.3 935.7H48.3V937.2H51M74.2 939.1H58.3V939.7H74.2M74.2 938.6H52.2V939.4H58.3M74.2 941.4H57.6V942H74.2M74.2 940.8H53.2V941.7H57.6M74.2 943.1H59.1V944.1H62.5M74.2 942.5H58V943.6H59.1M53.2 941.3H52.8V943.1H58M74.2 940.3H49.2V942.2H52.8M52.2 939H48.8V941.2H49.2M74.2 945.3H53.4V945.9H74.2M74.2 946.4H56.1V947H74.2M74.2 947.5H54.1V948.1H74.2M56.1 946.7H52.5V947.8H54.1M61 948.9H58.7V950.1H61.6M74.2 953.6H59.9V954.4H64M74.2 953H59V954H59.9M60.6 952.2H58.1V953.5H59M74.2 951.4H56.5V952.8H58.1M58.7 949.5H55.9V952.1H56.5M52.5 947.2H51.2V950.8H55.9M53.4 945.6H49.2V949H51.2M74.2 955.2H54V955.8H74.2M74.2 957H57.6V957.9H63M74.2 956.4H54.1V957.5H57.6M54 955.5H50.7V956.9H54.1M74.2 959.3H60.4V960H74.2M74.2 958.7H56.9V959.6H60.4M74.2 961.2H56.1V961.8H74.2M74.2 960.6H53V961.5H56.1M56.9 959.2H50.2V961H53M74.2 964.5H59V965.2H74.2M74.2 963.8H54.6V964.8H59M74.2 963H51.2V964.3H54.6M74.2 962.3H49.4V963.7H51.2M74.2 971.6H57.6V973.6H60.4M60.1 969.8H56.7V972.6H57.6M59.3 967.7H55.5V971.2H56.7M74.2 966.8H54.8V969.5H55.5M74.2 966.2H49.6V968.1H54.8M74.2 965.7H47.1V967.2H49.6M74.2 977.1H57.6V977.7H74.2M74.2 976.5H53.9V977.4H57.6M74.2 978.9H56.9V979.9H60.2M74.2 978.3H53.1V979.4H56.9M53.9 977H50.4V978.9H53.1M74.2 975.9H48.1V977.9H50.4M74.2 982.3H57.7V983.1H61.8M74.2 984.5H61.7V985.3H62.1M74.2 984H58.5V984.9H61.7M74.2 986.1H60.5V987.1H65.5M62.2 988.6H60.7V989.9H62.9M60.5 986.6H59.1V989.2H60.7M58.5 984.4H57.5V987.9H59.1M57.7 982.7H56.5V986.2H57.5M74.2 981.8H55.4V984.5H56.5M74.2 981.2H54.1V983.1H55.4M74.2 980.7H51.6V982.2H54.1M74.2 992.3H59.7V992.9H74.2M74.2 991.6H59.2V992.6H59.7M74.2 995.9H62V996.5H74.2M74.2 995.3H60V996.2H62M74.2 994.7H58.2V995.7H60M63.1 993.8H57.4V995.2H58.2M59.2 992.1H55.3V994.5H57.4M74.2 991H53.3V993.3H55.3M74.2 997.5H55.2V998.1H74.2M74.2 997H50.8V997.8H55.2M74.2 999.2H59.3V999.8H74.2M74.2 1000.3H57.5V1000.9H74.2M74.2 1002.6H58.7V1003.6H60.1M74.2 1002H57.3V1003.1H58.7M74.2 1001.5H55.5V1002.5H57.3M57.5 1000.6H54.4V1002H55.5M59.3 999.5H52.1V1001.3H54.4M74.2 998.7H50.8V1000.4H52.1M50.8 997.4H48.1V999.5H50.8M53.3 992.2H46.6V998.5H48.1M51.6 981.4H46.2V995.3H46.6M48.1 976.9H45.7V988.4H46.2M47.1 966.4H45.3V982.6H45.7M49.4 963H44.9V974.5H45.3M50.2 960.1H44.4V968.8H44.9M50.7 956.2H44V964.4H44.4M49.2 947.3H43.5V960.3H44M48.8 940.1H43V953.8H43.5M48.3 936.4H42.5V947H43M47.8 933.1H42V941.7H42.5M47 920.8H41.5V937.4H42M43.7 917.1H41V929.1H41.5M46.2 914.4H40.4V923.1H41M43.5 908.9H39.8V918.7H40.4M45.5 899.2H39.1V913.8H39.8M44.5 897.9H38.2V906.5H39.1M38.2 902.2V904.1" stroke="#1a1a1a" stroke-width="0.5" fill="none"/>
<path d="M43.6 754H14.6V904.1H38.2" stroke="#666" stroke-width="0.8" fill="none"/>
<g font-size="5.6" fill="#222" text-anchor="middle">
<text x="86.9" y="1012.4">N5</text>
<text x="111.5" y="1012.4">N2</text>
<text x="136" y="1012.4">N1</text>
<text x="160.6" y="1012.4">N3</text>
<text x="185.2" y="1012.4">N4</text>
<text x="209.7" y="1012.4">T5</text>
<text x="234.3" y="1012.4">T1</text>
<text x="258.9" y="1012.4">T2</text>
<text x="283.4" y="1012.4">T3</text>
<text x="308" y="1012.4">T4</text>
</g>
<text transform="translate(327.7,878.3) rotate(-90)" font-size="6.1" fill="#222" text-anchor="middle">GeneSymbol</text>
<defs><linearGradient id="cbE" x1="0" y1="0" x2="0" y2="1"><stop offset="0" stop-color="#ff0000"/><stop offset="0.5" stop-color="#ffffff"/><stop offset="1" stop-color="#0000ff"/></linearGradient></defs>
<rect x="11.4" y="686.1" width="12.5" height="50.9" fill="url(#cbE)"/>
<text transform="translate(31.2,690.9) rotate(-90)" font-size="5" fill="#222" text-anchor="middle">2</text>
<text transform="translate(31.2,701.2) rotate(-90)" font-size="5" fill="#222" text-anchor="middle">1</text>
<text transform="translate(31.2,711.5) rotate(-90)" font-size="5" fill="#222" text-anchor="middle">0</text>
<text transform="translate(31.2,721.9) rotate(-90)" font-size="5" fill="#222" text-anchor="middle">-1</text>
<text transform="translate(31.2,732.2) rotate(-90)" font-size="5" fill="#222" text-anchor="middle">-2</text>
<text transform="translate(39.8,711.6) rotate(-90)" font-size="6.1" fill="#222" text-anchor="middle">Z_ScoreExpression</text>
<text x="0.8" y="678.8" font-size="19.6" font-weight="bold" fill="#000">E</text>
<g class="hm hF"><g transform="translate(419.7,0)"><rect y="747.2" height="2" fill="#f55"/><rect y="749.2" height="4" fill="#f77"/><rect y="753.2" fill="#faa"/><rect y="754.2" fill="#f88"/><rect y="755.2" height="2" fill="#fbb"/><rect y="757.2" fill="#f44"/><rect y="758.2" height="1.5" fill="#f88"/><rect y="759.7" fill="#fbb"/><rect y="760.7" height="1.5" fill="#f88"/><rect y="762.2" height="2" fill="#faa"/><rect y="764.2" height="2.5" fill="#f77"/><rect y="766.7" height="1.5" fill="#fcc"/><rect y="768.2" fill="#fee"/><rect y="769.2" height="2.5" fill="#f88"/><rect y="771.7" height="2" fill="#fee"/><rect y="773.7" fill="#f66"/><rect y="774.7" height="4" fill="#fdd"/><rect y="778.7" fill="#faa"/><rect y="779.7" height="3" fill="#fcc"/><rect y="782.7" fill="#f77"/><rect y="783.7" height="2" fill="#f66"/><rect y="785.7" height="2" fill="#fcc"/><rect y="787.7" height="2" fill="#faa"/><rect y="789.7" height="2" fill="#f33"/><rect y="791.7" height="1.5" fill="#fbb"/><rect y="793.2" height="2" fill="#f88"/><rect y="795.2" fill="#f44"/><rect y="796.2" height="2.5" fill="#f99"/><rect y="798.7" height="2" fill="#faa"/><rect y="800.7" height="2" fill="#f88"/><rect y="802.7" fill="#fbb"/><rect y="803.7" height="2" fill="#f66"/><rect y="805.7" height="2" fill="#fee"/><rect y="807.7" height="1.5" fill="#f66"/><rect y="809.2" height="2" fill="#faa"/><rect y="811.2" fill="#f77"/><rect y="812.2" height="4.5" fill="#f99"/><rect y="816.7" height="1.5" fill="#faa"/><rect y="818.2" height="2" fill="#f99"/><rect y="820.2" height="2.5" fill="#fcc"/><rect y="822.7" fill="#f88"/><rect y="823.7" height="2" fill="#faa"/><rect y="825.7" height="1.5" fill="#fcc"/><rect y="827.2" fill="#ccf"/><rect y="828.2" height="2" fill="#faa"/><rect y="830.2" height="2" fill="#f88"/><rect y="832.2" height="2" fill="#fbb"/><rect y="834.2" fill="#f99"/><rect y="835.2" fill="#faa"/><rect y="836.2" height="2.5" fill="#fdd"/><rect y="838.7" fill="#fcc"/><rect y="839.7" height="1.5" fill="#fee"/><rect y="841.2" height="2" fill="#aaf"/><rect y="843.2" fill="#ddf"/><rect y="844.2" height="1.5" fill="#bbf"/><rect y="845.7" height="1.5" fill="#fee"/><rect y="847.2" fill="#fcc"/><rect y="848.2" height="2" fill="#aaf"/><rect y="850.2" height="1.5" fill="#fbb"/><rect y="851.7" height="1.5" fill="#f66"/><rect y="853.2" fill="#fee"/><rect y="854.2" height="1.5" fill="#fff"/><rect y="855.7" height="3" fill="#eef"/><rect y="858.7" fill="#fcc"/><rect y="859.7" height="1.5" fill="#fff"/><rect y="861.2" height="2" fill="#fbb"/><rect y="863.2" height="3.5" fill="#fff"/><rect y="866.7" height="2" fill="#ddf"/><rect y="868.7" height="1.5" fill="#f11"/><rect y="870.2" height="2" fill="#f44"/><rect y="872.2" height="2" fill="#f00"/><rect y="874.2" fill="#f33"/><rect y="875.2" fill="#f00"/><rect y="876.2" fill="#f22"/><rect y="877.2" fill="#f33"/><rect y="878.2" fill="#f44"/><rect y="879.2" fill="#f00"/><rect y="880.2" fill="#f55"/><rect y="881.2" height="2" fill="#f44"/><rect y="883.2" height="2" fill="#f55"/><rect y="885.2" height="2" fill="#f44"/><rect y="887.2" height="0.3" fill="#f00"/><rect y="887.5" fill="#fdd"/><rect y="888.5" height="1.5" fill="#fbb"/><rect y="890" height="2" fill="#fff"/><rect y="892" fill="#fdd"/><rect y="893" fill="#faa"/><rect y="894" fill="#eef"/><rect y="895" height="2" fill="#ddf"/><rect y="897" height="2" fill="#fff"/><rect y="899" height="1.5" fill="#fdd"/><rect y="900.5" fill="#fee"/><rect y="901.5" height="2" fill="#fbb"/><rect y="903.5" fill="#55f"/><rect y="904.5" height="4" fill="#33f"/><rect y="908.5" height="1.5" fill="#11f"/><rect y="910" fill="#22f"/><rect y="911" fill="#00f"/><rect y="912" height="2" fill="#11f"/><rect y="914" height="3" fill="#88f"/><rect y="917" height="2" fill="#55f"/><rect y="919" fill="#88f"/><rect y="920" height="2.5" fill="#55f"/><rect y="922.5" fill="#99f"/><rect y="923.5" fill="#55f"/><rect y="924.5" fill="#88f"/><rect y="925.5" fill="#ccf"/><rect y="926.5" height="3" fill="#77f"/><rect y="929.5" height="2.5" fill="#99f"/><rect y="932" height="2" fill="#44f"/><rect y="934" fill="#bbf"/><rect y="935" height="4.5" fill="#aaf"/><rect y="939.5" height="2.5" fill="#77f"/><rect y="942" height="3" fill="#99f"/><rect y="945" height="2" fill="#aaf"/><rect y="947" fill="#66f"/><rect y="948" fill="#77f"/><rect y="949" fill="#bbf"/><rect y="950" fill="#55f"/><rect y="951" height="2.5" fill="#77f"/><rect y="953.5" height="2" fill="#aaf"/><rect y="955.5" height="1.5" fill="#55f"/><rect y="957" height="2" fill="#11f"/><rect y="959" fill="#88f"/><rect y="960" fill="#00f"/><rect y="961" height="1.5" fill="#33f"/><rect y="962.5" fill="#66f"/><rect y="963.5" height="2" fill="#55f"/><rect y="965.5" height="2" fill="#22f"/><rect y="967.5" height="1.5" fill="#66f"/><rect y="969" height="2.5" fill="#44f"/><rect y="971.5" fill="#22f"/><rect y="972.5" height="2" fill="#33f"/><rect y="974.5" height="1.5" fill="#88f"/><rect y="976" height="2" fill="#99f"/><rect y="978" height="2.5" fill="#55f"/><rect y="980.5" height="2.5" fill="#ccf"/><rect y="983" height="1.5" fill="#99f"/><rect y="984.5" fill="#77f"/><rect y="985.5" height="2.5" fill="#bbf"/><rect y="988" height="1.5" fill="#77f"/><rect y="989.5" fill="#ccf"/><rect y="990.5" height="2" fill="#88f"/><rect y="992.5" fill="#bbf"/><rect y="993.5" height="2.5" fill="#aaf"/><rect y="996" fill="#77f"/><rect y="997" fill="#88f"/><rect y="998" height="2" fill="#99f"/><rect y="1000" fill="#66f"/><rect y="1001" height="6.5" fill="#88f"/><rect y="1007.5" height="3.3" fill="#ccf"/></g><g transform="translate(445.2,0)"><rect y="747.2" height="2" fill="#faa"/><rect y="749.2" height="2" fill="#fbb"/><rect y="751.2" height="2" fill="#f77"/><rect y="753.2" fill="#fbb"/><rect y="754.2" fill="#f77"/><rect y="755.2" height="2" fill="#fcc"/><rect y="757.2" fill="#f99"/><rect y="758.2" height="1.5" fill="#fcc"/><rect y="759.7" fill="#faa"/><rect y="760.7" height="3.5" fill="#f66"/><rect y="764.2" height="2.5" fill="#fdd"/><rect y="766.7" height="1.5" fill="#faa"/><rect y="768.2" fill="#f77"/><rect y="769.2" height="2.5" fill="#f99"/><rect y="771.7" height="2" fill="#faa"/><rect y="773.7" fill="#fbb"/><rect y="774.7" height="2" fill="#f88"/><rect y="776.7" height="2" fill="#fbb"/><rect y="778.7" fill="#f77"/><rect y="779.7" height="1.5" fill="#fee"/><rect y="781.2" height="1.5" fill="#f99"/><rect y="782.7" fill="#f44"/><rect y="783.7" height="4" fill="#f99"/><rect y="787.7" height="2" fill="#faa"/><rect y="789.7" height="2" fill="#fdd"/><rect y="791.7" height="3.5" fill="#f88"/><rect y="795.2" fill="#fbb"/><rect y="796.2" height="2.5" fill="#fee"/><rect y="798.7" height="2" fill="#f99"/><rect y="800.7" height="2" fill="#fdd"/><rect y="802.7" fill="#fbb"/><rect y="803.7" height="2" fill="#faa"/><rect y="805.7" height="2" fill="#f99"/><rect y="807.7" height="1.5" fill="#f66"/><rect y="809.2" height="2" fill="#f55"/><rect y="811.2" fill="#faa"/><rect y="812.2" height="2.5" fill="#f77"/><rect y="814.7" height="2" fill="#f66"/><rect y="816.7" height="1.5" fill="#f22"/><rect y="818.2" height="2" fill="#f88"/><rect y="820.2" height="2.5" fill="#fbb"/><rect y="822.7" fill="#f88"/><rect y="823.7" height="2" fill="#fcc"/><rect y="825.7" height="1.5" fill="#faa"/><rect y="827.2" fill="#fcc"/><rect y="828.2" height="4" fill="#fbb"/><rect y="832.2" height="2" fill="#f99"/><rect y="834.2" height="2" fill="#fbb"/><rect y="836.2" height="3.5" fill="#f88"/><rect y="839.7" height="1.5" fill="#f99"/><rect y="841.2" height="3" fill="#faa"/><rect y="844.2" height="1.5" fill="#fdd"/><rect y="845.7" height="2.5" fill="#fcc"/><rect y="848.2" height="2" fill="#f66"/><rect y="850.2" height="3" fill="#fcc"/><rect y="853.2" fill="#f99"/><rect y="854.2" height="1.5" fill="#f88"/><rect y="855.7" fill="#fbb"/><rect y="856.7" height="2" fill="#f99"/><rect y="858.7" height="4.5" fill="#faa"/><rect y="863.2" height="2.5" fill="#fcc"/><rect y="865.7" fill="#faa"/><rect y="866.7" height="2" fill="#f77"/><rect y="868.7" height="1.5" fill="#fbb"/><rect y="870.2" height="2" fill="#f88"/><rect y="872.2" height="2" fill="#f66"/><rect y="874.2" fill="#f99"/><rect y="875.2" fill="#faa"/><rect y="876.2" fill="#fee"/><rect y="877.2" fill="#fbb"/><rect y="878.2" fill="#f99"/><rect y="879.2" fill="#f88"/><rect y="880.2" fill="#fdd"/><rect y="881.2" height="2" fill="#fbb"/><rect y="883.2" height="2" fill="#faa"/><rect y="885.2" height="2.3" fill="#fbb"/><rect y="887.5" fill="#ddf"/><rect y="888.5" height="1.5" fill="#33f"/><rect y="890" height="2" fill="#44f"/><rect y="892" fill="#55f"/><rect y="893" fill="#77f"/><rect y="894" fill="#ccf"/><rect y="895" height="2" fill="#99f"/><rect y="897" height="2" fill="#aaf"/><rect y="899" height="1.5" fill="#77f"/><rect y="900.5" fill="#aaf"/><rect y="901.5" height="2" fill="#bbf"/><rect y="903.5" fill="#aaf"/><rect y="904.5" fill="#ccf"/><rect y="905.5" fill="#ddf"/><rect y="906.5" height="2" fill="#99f"/><rect y="908.5" height="2.5" fill="#bbf"/><rect y="911" fill="#99f"/><rect y="912" height="2" fill="#fff"/><rect y="914" height="2" fill="#ccf"/><rect y="916" height="3" fill="#aaf"/><rect y="919" fill="#ccf"/><rect y="920" height="2.5" fill="#aaf"/><rect y="922.5" fill="#bbf"/><rect y="923.5" height="2" fill="#88f"/><rect y="925.5" fill="#aaf"/><rect y="926.5" height="2" fill="#66f"/><rect y="928.5" fill="#77f"/><rect y="929.5" height="2.5" fill="#99f"/><rect y="932" height="2" fill="#66f"/><rect y="934" fill="#ccf"/><rect y="935" height="2" fill="#99f"/><rect y="937" height="2.5" fill="#bbf"/><rect y="939.5" height="2.5" fill="#aaf"/><rect y="942" fill="#ccf"/><rect y="943" height="2" fill="#77f"/><rect y="945" height="2" fill="#88f"/><rect y="947" fill="#99f"/><rect y="948" fill="#fff"/><rect y="949" fill="#99f"/><rect y="950" fill="#bbf"/><rect y="951" height="2.5" fill="#99f"/><rect y="953.5" height="2" fill="#aaf"/><rect y="955.5" height="1.5" fill="#77f"/><rect y="957" height="2" fill="#aaf"/><rect y="959" height="2" fill="#bbf"/><rect y="961" height="1.5" fill="#44f"/><rect y="962.5" fill="#ddf"/><rect y="963.5" height="2" fill="#88f"/><rect y="965.5" height="2" fill="#99f"/><rect y="967.5" height="1.5" fill="#33f"/><rect y="969" height="2.5" fill="#22f"/><rect y="971.5" fill="#aaf"/><rect y="972.5" height="2" fill="#99f"/><rect y="974.5" height="1.5" fill="#88f"/><rect y="976" height="4.5" fill="#bbf"/><rect y="980.5" height="2.5" fill="#77f"/><rect y="983" height="2.5" fill="#aaf"/><rect y="985.5" height="2.5" fill="#44f"/><rect y="988" height="2.5" fill="#88f"/><rect y="990.5" height="2" fill="#aaf"/><rect y="992.5" fill="#77f"/><rect y="993.5" height="2.5" fill="#aaf"/><rect y="996" height="2" fill="#99f"/><rect y="998" fill="#55f"/><rect y="999" fill="#bbf"/><rect y="1000" fill="#33f"/><rect y="1001" height="2.5" fill="#77f"/><rect y="1003.5" height="2.5" fill="#ccf"/><rect y="1006" height="1.5" fill="#88f"/><rect y="1007.5" height="2.5" fill="#bbf"/><rect y="1010" height="0.8" fill="#99f"/></g><g transform="translate(470.8,0)"><rect y="747.2" fill="#fbb"/><rect y="748.2" height="3" fill="#faa"/><rect y="751.2" height="3" fill="#fbb"/><rect y="754.2" fill="#faa"/><rect y="755.2" height="2" fill="#fcc"/><rect y="757.2" height="2.5" fill="#fbb"/><rect y="759.7" fill="#fcc"/><rect y="760.7" height="1.5" fill="#fdd"/><rect y="762.2" height="2" fill="#faa"/><rect y="764.2" height="2.5" fill="#fcc"/><rect y="766.7" height="1.5" fill="#f99"/><rect y="768.2" fill="#fdd"/><rect y="769.2" height="2.5" fill="#fcc"/><rect y="771.7" height="2" fill="#ddf"/><rect y="773.7" fill="#fee"/><rect y="774.7" height="4" fill="#fdd"/><rect y="778.7" fill="#f99"/><rect y="779.7" height="1.5" fill="#f77"/><rect y="781.2" height="1.5" fill="#fdd"/><rect y="782.7" fill="#f99"/><rect y="783.7" height="2" fill="#faa"/><rect y="785.7" height="2" fill="#f66"/><rect y="787.7" height="2" fill="#fbb"/><rect y="789.7" height="2" fill="#f33"/><rect y="791.7" height="3.5" fill="#f99"/><rect y="795.2" fill="#fbb"/><rect y="796.2" height="2.5" fill="#faa"/><rect y="798.7" height="2" fill="#f77"/><rect y="800.7" height="2" fill="#f99"/><rect y="802.7" fill="#fbb"/><rect y="803.7" height="2" fill="#fcc"/><rect y="805.7" fill="#f99"/><rect y="806.7" fill="#f77"/><rect y="807.7" height="1.5" fill="#faa"/><rect y="809.2" height="2" fill="#f99"/><rect y="811.2" fill="#faa"/><rect y="812.2" height="2.5" fill="#f77"/><rect y="814.7" height="3.5" fill="#fee"/><rect y="818.2" height="2" fill="#f88"/><rect y="820.2" height="2.5" fill="#f77"/><rect y="822.7" fill="#faa"/><rect y="823.7" height="2" fill="#f77"/><rect y="825.7" height="2.5" fill="#f44"/><rect y="828.2" height="2" fill="#f66"/><rect y="830.2" height="2" fill="#faa"/><rect y="832.2" height="2" fill="#fbb"/><rect y="834.2" fill="#f55"/><rect y="835.2" fill="#f88"/><rect y="836.2" height="2.5" fill="#fbb"/><rect y="838.7" fill="#fcc"/><rect y="839.7" height="1.5" fill="#fbb"/><rect y="841.2" height="2" fill="#f88"/><rect y="843.2" fill="#f77"/><rect y="844.2" height="1.5" fill="#f88"/><rect y="845.7" height="1.5" fill="#fbb"/><rect y="847.2" fill="#faa"/><rect y="848.2" height="2" fill="#eef"/><rect y="850.2" height="4" fill="#fdd"/><rect y="854.2" height="1.5" fill="#fbb"/><rect y="855.7" fill="#fcc"/><rect y="856.7" height="2" fill="#fee"/><rect y="858.7" fill="#fcc"/><rect y="859.7" height="3.5" fill="#f99"/><rect y="863.2" height="5.5" fill="#fbb"/><rect y="868.7" height="1.5" fill="#f77"/><rect y="870.2" height="2" fill="#f99"/><rect y="872.2" height="3" fill="#fcc"/><rect y="875.2" height="2" fill="#fdd"/><rect y="877.2" height="2" fill="#faa"/><rect y="879.2" fill="#f88"/><rect y="880.2" fill="#fbb"/><rect y="881.2" height="2" fill="#fcc"/><rect y="883.2" height="2" fill="#faa"/><rect y="885.2" height="2" fill="#f77"/><rect y="887.2" height="0.3" fill="#f88"/><rect y="887.5" fill="#ccf"/><rect y="888.5" height="1.5" fill="#fee"/><rect y="890" height="3" fill="#eef"/><rect y="893" fill="#99f"/><rect y="894" height="3" fill="#ddf"/><rect y="897" height="2" fill="#aaf"/><rect y="899" height="2.5" fill="#88f"/><rect y="901.5" height="2" fill="#bbf"/><rect y="903.5" fill="#88f"/><rect y="904.5" fill="#ddf"/><rect y="905.5" fill="#bbf"/><rect y="906.5" height="3.5" fill="#fff"/><rect y="910" fill="#ddf"/><rect y="911" fill="#fcc"/><rect y="912" height="2" fill="#eef"/><rect y="914" height="2" fill="#aaf"/><rect y="916" height="3" fill="#fff"/><rect y="919" fill="#fee"/><rect y="920" height="2.5" fill="#ddf"/><rect y="922.5" fill="#fee"/><rect y="923.5" fill="#ccf"/><rect y="924.5" fill="#eef"/><rect y="925.5" fill="#ccf"/><rect y="926.5" height="2" fill="#aaf"/><rect y="928.5" fill="#bbf"/><rect y="929.5" height="2.5" fill="#ccf"/><rect y="932" height="3" fill="#99f"/><rect y="935" height="2" fill="#fff"/><rect y="937" height="2.5" fill="#bbf"/><rect y="939.5" height="2.5" fill="#ccf"/><rect y="942" fill="#eef"/><rect y="943" height="2" fill="#aaf"/><rect y="945" height="2" fill="#bbf"/><rect y="947" fill="#99f"/><rect y="948" fill="#ccf"/><rect y="949" fill="#aaf"/><rect y="950" fill="#99f"/><rect y="951" height="2.5" fill="#ccf"/><rect y="953.5" height="2" fill="#bbf"/><rect y="955.5" height="1.5" fill="#66f"/><rect y="957" height="3" fill="#88f"/><rect y="960" fill="#ccf"/><rect y="961" height="2.5" fill="#aaf"/><rect y="963.5" height="2" fill="#bbf"/><rect y="965.5" height="2" fill="#ccf"/><rect y="967.5" height="1.5" fill="#bbf"/><rect y="969" height="2.5" fill="#ddf"/><rect y="971.5" fill="#88f"/><rect y="972.5" height="3.5" fill="#aaf"/><rect y="976" height="2" fill="#bbf"/><rect y="978" height="2.5" fill="#ddf"/><rect y="980.5" height="2.5" fill="#aaf"/><rect y="983" height="1.5" fill="#ddf"/><rect y="984.5" fill="#88f"/><rect y="985.5" height="2.5" fill="#fff"/><rect y="988" height="2.5" fill="#ddf"/><rect y="990.5" height="2" fill="#88f"/><rect y="992.5" fill="#fff"/><rect y="993.5" height="2.5" fill="#ddf"/><rect y="996" fill="#99f"/><rect y="997" fill="#bbf"/><rect y="998" height="2" fill="#ccf"/><rect y="1000" fill="#bbf"/><rect y="1001" height="2.5" fill="#ccf"/><rect y="1003.5" height="2.5" fill="#99f"/><rect y="1006" height="1.5" fill="#eef"/><rect y="1007.5" height="2.5" fill="#ccf"/><rect y="1010" height="0.8" fill="#bbf"/></g><g transform="translate(496.3,0)"><rect y="747.2" fill="#fcc"/><rect y="748.2" fill="#fbb"/><rect y="749.2" height="2" fill="#fdd"/><rect y="751.2" height="2" fill="#f66"/><rect y="753.2" fill="#f88"/><rect y="754.2" fill="#f99"/><rect y="755.2" height="2" fill="#faa"/><rect y="757.2" fill="#fee"/><rect y="758.2" height="1.5" fill="#fbb"/><rect y="759.7" fill="#faa"/><rect y="760.7" height="1.5" fill="#fcc"/><rect y="762.2" height="2" fill="#fee"/><rect y="764.2" height="2.5" fill="#faa"/><rect y="766.7" height="1.5" fill="#f88"/><rect y="768.2" fill="#fcc"/><rect y="769.2" height="2.5" fill="#f99"/><rect y="771.7" height="2" fill="#fcc"/><rect y="773.7" fill="#fee"/><rect y="774.7" height="2" fill="#fdd"/><rect y="776.7" height="2" fill="#fee"/><rect y="778.7" fill="#fcc"/><rect y="779.7" height="1.5" fill="#f66"/><rect y="781.2" height="1.5" fill="#faa"/><rect y="782.7" fill="#f77"/><rect y="783.7" height="4" fill="#f88"/><rect y="787.7" height="4" fill="#f77"/><rect y="791.7" height="1.5" fill="#fbb"/><rect y="793.2" height="2" fill="#f77"/><rect y="795.2" height="3.5" fill="#faa"/><rect y="798.7" height="4" fill="#f99"/><rect y="802.7" fill="#fcc"/><rect y="803.7" height="2" fill="#faa"/><rect y="805.7" fill="#f99"/><rect y="806.7" fill="#f88"/><rect y="807.7" height="3.5" fill="#fbb"/><rect y="811.2" fill="#faa"/><rect y="812.2" height="2.5" fill="#fbb"/><rect y="814.7" height="2" fill="#fdd"/><rect y="816.7" height="1.5" fill="#f99"/><rect y="818.2" height="2" fill="#f77"/><rect y="820.2" height="3.5" fill="#f88"/><rect y="823.7" height="2" fill="#f99"/><rect y="825.7" height="1.5" fill="#f66"/><rect y="827.2" fill="#f77"/><rect y="828.2" height="2" fill="#f66"/><rect y="830.2" height="4" fill="#f88"/><rect y="834.2" fill="#f99"/><rect y="835.2" fill="#f88"/><rect y="836.2" height="2.5" fill="#f55"/><rect y="838.7" height="2.5" fill="#f99"/><rect y="841.2" height="2" fill="#f88"/><rect y="843.2" fill="#faa"/><rect y="844.2" height="1.5" fill="#fbb"/><rect y="845.7" height="1.5" fill="#f99"/><rect y="847.2" fill="#faa"/><rect y="848.2" height="3.5" fill="#f88"/><rect y="851.7" height="1.5" fill="#f66"/><rect y="853.2" height="2.5" fill="#fbb"/><rect y="855.7" fill="#fdd"/><rect y="856.7" height="2" fill="#f99"/><rect y="858.7" height="4.5" fill="#faa"/><rect y="863.2" height="2.5" fill="#f99"/><rect y="865.7" fill="#fcc"/><rect y="866.7" height="2" fill="#faa"/><rect y="868.7" height="1.5" fill="#f99"/><rect y="870.2" height="2" fill="#fdd"/><rect y="872.2" height="2" fill="#f88"/><rect y="874.2" fill="#f99"/><rect y="875.2" fill="#f66"/><rect y="876.2" fill="#faa"/><rect y="877.2" fill="#f88"/><rect y="878.2" fill="#f77"/><rect y="879.2" fill="#f99"/><rect y="880.2" height="3" fill="#fbb"/><rect y="883.2" height="2" fill="#faa"/><rect y="885.2" height="2" fill="#f77"/><rect y="887.2" height="0.3" fill="#f66"/><rect y="887.5" fill="#bbf"/><rect y="888.5" height="1.5" fill="#ccf"/><rect y="890" height="2" fill="#88f"/><rect y="892" fill="#aaf"/><rect y="893" fill="#fdd"/><rect y="894" height="3" fill="#ddf"/><rect y="897" height="2" fill="#ccf"/><rect y="899" height="1.5" fill="#aaf"/><rect y="900.5" fill="#66f"/><rect y="901.5" height="2" fill="#bbf"/><rect y="903.5" fill="#aaf"/><rect y="904.5" fill="#99f"/><rect y="905.5" fill="#bbf"/><rect y="906.5" height="2" fill="#fee"/><rect y="908.5" height="1.5" fill="#99f"/><rect y="910" fill="#fff"/><rect y="911" height="3" fill="#ccf"/><rect y="914" height="2" fill="#ddf"/><rect y="916" fill="#bbf"/><rect y="917" height="2" fill="#ddf"/><rect y="919" fill="#ccf"/><rect y="920" height="2.5" fill="#aaf"/><rect y="922.5" fill="#ddf"/><rect y="923.5" height="2" fill="#aaf"/><rect y="925.5" fill="#bbf"/><rect y="926.5" height="2" fill="#aaf"/><rect y="928.5" fill="#fdd"/><rect y="929.5" height="2.5" fill="#fee"/><rect y="932" height="2" fill="#ddf"/><rect y="934" fill="#eef"/><rect y="935" height="2" fill="#ccf"/><rect y="937" height="2.5" fill="#aaf"/><rect y="939.5" height="2.5" fill="#ccf"/><rect y="942" height="3" fill="#88f"/><rect y="945" height="2" fill="#77f"/><rect y="947" fill="#99f"/><rect y="948" fill="#ccf"/><rect y="949" fill="#99f"/><rect y="950" fill="#55f"/><rect y="951" height="4.5" fill="#77f"/><rect y="955.5" height="3.5" fill="#88f"/><rect y="959" fill="#eef"/><rect y="960" fill="#aaf"/><rect y="961" height="1.5" fill="#ccf"/><rect y="962.5" fill="#55f"/><rect y="963.5" height="2" fill="#bbf"/><rect y="965.5" height="2" fill="#aaf"/><rect y="967.5" height="1.5" fill="#99f"/><rect y="969" height="3.5" fill="#88f"/><rect y="972.5" height="2" fill="#eef"/><rect y="974.5" height="1.5" fill="#ccf"/><rect y="976" height="2" fill="#bbf"/><rect y="978" height="2.5" fill="#aaf"/><rect y="980.5" height="2.5" fill="#fee"/><rect y="983" height="1.5" fill="#aaf"/><rect y="984.5" fill="#99f"/><rect y="985.5" height="2.5" fill="#ccf"/><rect y="988" height="1.5" fill="#ddf"/><rect y="989.5" fill="#bbf"/><rect y="990.5" height="2" fill="#eef"/><rect y="992.5" fill="#bbf"/><rect y="993.5" height="2.5" fill="#ddf"/><rect y="996" fill="#eef"/><rect y="997" fill="#ccf"/><rect y="998" fill="#aaf"/><rect y="999" fill="#fff"/><rect y="1000" fill="#ccf"/><rect y="1001" height="2.5" fill="#aaf"/><rect y="1003.5" height="2.5" fill="#ccf"/><rect y="1006" height="1.5" fill="#fee"/><rect y="1007.5" height="2.5" fill="#ccf"/><rect y="1010" height="0.8" fill="#bbf"/></g><g transform="translate(521.8,0)"><rect y="747.2" height="2" fill="#f55"/><rect y="749.2" height="4" fill="#faa"/><rect y="753.2" fill="#f66"/><rect y="754.2" fill="#f88"/><rect y="755.2" height="2" fill="#fcc"/><rect y="757.2" fill="#f99"/><rect y="758.2" height="1.5" fill="#f77"/><rect y="759.7" fill="#fdd"/><rect y="760.7" height="1.5" fill="#f77"/><rect y="762.2" height="2" fill="#faa"/><rect y="764.2" height="2.5" fill="#f77"/><rect y="766.7" height="1.5" fill="#f99"/><rect y="768.2" fill="#fbb"/><rect y="769.2" height="4.5" fill="#faa"/><rect y="773.7" fill="#f66"/><rect y="774.7" height="2" fill="#fdd"/><rect y="776.7" height="2" fill="#f88"/><rect y="778.7" fill="#fdd"/><rect y="779.7" height="1.5" fill="#f99"/><rect y="781.2" height="1.5" fill="#fbb"/><rect y="782.7" fill="#fdd"/><rect y="783.7" height="2" fill="#f77"/><rect y="785.7" height="2" fill="#f44"/><rect y="787.7" height="2" fill="#fcc"/><rect y="789.7" height="2" fill="#f77"/><rect y="791.7" height="3.5" fill="#f99"/><rect y="795.2" fill="#faa"/><rect y="796.2" height="2.5" fill="#f99"/><rect y="798.7" height="5" fill="#f88"/><rect y="803.7" height="2" fill="#fee"/><rect y="805.7" fill="#fbb"/><rect y="806.7" height="2.5" fill="#f99"/><rect y="809.2" height="2" fill="#fbb"/><rect y="811.2" height="3.5" fill="#f44"/><rect y="814.7" height="2" fill="#faa"/><rect y="816.7" height="1.5" fill="#f33"/><rect y="818.2" height="2" fill="#f77"/><rect y="820.2" height="3.5" fill="#fcc"/><rect y="823.7" height="3.5" fill="#faa"/><rect y="827.2" fill="#f44"/><rect y="828.2" height="2" fill="#fbb"/><rect y="830.2" height="2" fill="#f88"/><rect y="832.2" height="2" fill="#f99"/><rect y="834.2" fill="#f77"/><rect y="835.2" fill="#f55"/><rect y="836.2" height="2.5" fill="#f99"/><rect y="838.7" fill="#fdd"/><rect y="839.7" height="1.5" fill="#f99"/><rect y="841.2" height="2" fill="#faa"/><rect y="843.2" height="2.5" fill="#fdd"/><rect y="845.7" height="1.5" fill="#faa"/><rect y="847.2" fill="#fdd"/><rect y="848.2" height="2" fill="#f88"/><rect y="850.2" height="1.5" fill="#f99"/><rect y="851.7" height="1.5" fill="#faa"/><rect y="853.2" fill="#f66"/><rect y="854.2" height="1.5" fill="#fdd"/><rect y="855.7" fill="#f66"/><rect y="856.7" height="4.5" fill="#fbb"/><rect y="861.2" height="2" fill="#fdd"/><rect y="863.2" height="2.5" fill="#f55"/><rect y="865.7" fill="#f77"/><rect y="866.7" height="2" fill="#f99"/><rect y="868.7" height="1.5" fill="#f55"/><rect y="870.2" height="2" fill="#f88"/><rect y="872.2" height="3" fill="#faa"/><rect y="875.2" fill="#f44"/><rect y="876.2" fill="#f88"/><rect y="877.2" fill="#f99"/><rect y="878.2" fill="#f66"/><rect y="879.2" fill="#fdd"/><rect y="880.2" fill="#f88"/><rect y="881.2" height="2" fill="#f66"/><rect y="883.2" height="4" fill="#f88"/><rect y="887.2" height="0.3" fill="#f99"/><rect y="887.5" fill="#eef"/><rect y="888.5" height="1.5" fill="#bbf"/><rect y="890" height="2" fill="#55f"/><rect y="892" fill="#bbf"/><rect y="893" fill="#ccf"/><rect y="894" fill="#99f"/><rect y="895" height="2" fill="#88f"/><rect y="897" height="2" fill="#99f"/><rect y="899" height="1.5" fill="#ddf"/><rect y="900.5" fill="#99f"/><rect y="901.5" height="2" fill="#66f"/><rect y="903.5" fill="#99f"/><rect y="904.5" height="2" fill="#88f"/><rect y="906.5" height="2" fill="#99f"/><rect y="908.5" height="1.5" fill="#ddf"/><rect y="910" height="2" fill="#eef"/><rect y="912" height="2" fill="#ccf"/><rect y="914" height="2" fill="#77f"/><rect y="916" fill="#88f"/><rect y="917" height="2" fill="#bbf"/><rect y="919" fill="#99f"/><rect y="920" height="2.5" fill="#88f"/><rect y="922.5" fill="#ccf"/><rect y="923.5" fill="#99f"/><rect y="924.5" fill="#aaf"/><rect y="925.5" fill="#88f"/><rect y="926.5" height="2" fill="#aaf"/><rect y="928.5" height="3.5" fill="#bbf"/><rect y="932" height="2" fill="#ccf"/><rect y="934" fill="#77f"/><rect y="935" height="4.5" fill="#99f"/><rect y="939.5" height="3.5" fill="#66f"/><rect y="943" height="2" fill="#bbf"/><rect y="945" height="3" fill="#66f"/><rect y="948" height="2" fill="#99f"/><rect y="950" fill="#ccf"/><rect y="951" height="2.5" fill="#ddf"/><rect y="953.5" height="2" fill="#77f"/><rect y="955.5" height="1.5" fill="#bbf"/><rect y="957" height="2" fill="#ccf"/><rect y="959" height="3.5" fill="#66f"/><rect y="962.5" fill="#88f"/><rect y="963.5" height="2" fill="#aaf"/><rect y="965.5" height="3.5" fill="#99f"/><rect y="969" height="2.5" fill="#66f"/><rect y="971.5" fill="#99f"/><rect y="972.5" height="2" fill="#bbf"/><rect y="974.5" height="1.5" fill="#ccf"/><rect y="976" height="2" fill="#aaf"/><rect y="978" height="2.5" fill="#77f"/><rect y="980.5" height="2.5" fill="#bbf"/><rect y="983" height="1.5" fill="#99f"/><rect y="984.5" height="3.5" fill="#ccf"/><rect y="988" height="1.5" fill="#bbf"/><rect y="989.5" fill="#aaf"/><rect y="990.5" height="3" fill="#99f"/><rect y="993.5" height="2.5" fill="#55f"/><rect y="996" fill="#88f"/><rect y="997" fill="#77f"/><rect y="998" fill="#99f"/><rect y="999" fill="#aaf"/><rect y="1000" fill="#99f"/><rect y="1001" height="2.5" fill="#bbf"/><rect y="1003.5" height="2.5" fill="#ccf"/><rect y="1006" height="1.5" fill="#66f"/><rect y="1007.5" height="2.5" fill="#99f"/><rect y="1010" height="0.8" fill="#bbf"/></g><g transform="translate(547.4,0)"><rect y="747.2" height="2" fill="#99f"/><rect y="749.2" height="2" fill="#44f"/><rect y="751.2" height="2" fill="#88f"/><rect y="753.2" fill="#44f"/><rect y="754.2" fill="#88f"/><rect y="755.2" height="2" fill="#77f"/><rect y="757.2" fill="#aaf"/><rect y="758.2" height="4" fill="#55f"/><rect y="762.2" height="2" fill="#66f"/><rect y="764.2" height="2.5" fill="#88f"/><rect y="766.7" height="1.5" fill="#66f"/><rect y="768.2" fill="#77f"/><rect y="769.2" height="2.5" fill="#bbf"/><rect y="771.7" height="2" fill="#99f"/><rect y="773.7" fill="#22f"/><rect y="774.7" height="2" fill="#aaf"/><rect y="776.7" height="2" fill="#88f"/><rect y="778.7" fill="#99f"/><rect y="779.7" height="1.5" fill="#55f"/><rect y="781.2" height="1.5" fill="#00f"/><rect y="782.7" fill="#33f"/><rect y="783.7" height="2" fill="#22f"/><rect y="785.7" height="2" fill="#55f"/><rect y="787.7" height="2" fill="#00f"/><rect y="789.7" height="2" fill="#11f"/><rect y="791.7" height="3.5" fill="#55f"/><rect y="795.2" fill="#66f"/><rect y="796.2" height="2.5" fill="#33f"/><rect y="798.7" height="2" fill="#55f"/><rect y="800.7" height="2" fill="#66f"/><rect y="802.7" fill="#77f"/><rect y="803.7" height="2" fill="#aaf"/><rect y="805.7" fill="#77f"/><rect y="806.7" height="4.5" fill="#88f"/><rect y="811.2" fill="#bbf"/><rect y="812.2" height="2.5" fill="#55f"/><rect y="814.7" height="2" fill="#bbf"/><rect y="816.7" height="1.5" fill="#33f"/><rect y="818.2" height="4.5" fill="#aaf"/><rect y="822.7" fill="#88f"/><rect y="823.7" height="2" fill="#77f"/><rect y="825.7" height="1.5" fill="#55f"/><rect y="827.2" fill="#66f"/><rect y="828.2" height="4" fill="#77f"/><rect y="832.2" height="2" fill="#99f"/><rect y="834.2" fill="#44f"/><rect y="835.2" fill="#66f"/><rect y="836.2" height="2.5" fill="#88f"/><rect y="838.7" fill="#99f"/><rect y="839.7" height="1.5" fill="#88f"/><rect y="841.2" height="2" fill="#66f"/><rect y="843.2" height="2.5" fill="#55f"/><rect y="845.7" height="1.5" fill="#44f"/><rect y="847.2" fill="#33f"/><rect y="848.2" height="3.5" fill="#00f"/><rect y="851.7" height="1.5" fill="#66f"/><rect y="853.2" fill="#44f"/><rect y="854.2" height="1.5" fill="#11f"/><rect y="855.7" fill="#22f"/><rect y="856.7" height="2" fill="#66f"/><rect y="858.7" fill="#11f"/><rect y="859.7" height="1.5" fill="#77f"/><rect y="861.2" height="5.5" fill="#66f"/><rect y="866.7" height="3.5" fill="#99f"/><rect y="870.2" height="2" fill="#ccf"/><rect y="872.2" height="2" fill="#aaf"/><rect y="874.2" fill="#fbb"/><rect y="875.2" fill="#bbf"/><rect y="876.2" fill="#88f"/><rect y="877.2" fill="#fff"/><rect y="878.2" fill="#bbf"/><rect y="879.2" fill="#ddf"/><rect y="880.2" fill="#aaf"/><rect y="881.2" height="2" fill="#ccf"/><rect y="883.2" height="2" fill="#ddf"/><rect y="885.2" height="2" fill="#ccf"/><rect y="887.2" height="0.3" fill="#bbf"/><rect y="887.5" fill="#f00"/><rect y="888.5" height="1.5" fill="#f55"/><rect y="890" height="2" fill="#f33"/><rect y="892" fill="#f44"/><rect y="893" fill="#f55"/><rect y="894" fill="#f66"/><rect y="895" height="2" fill="#f44"/><rect y="897" height="2" fill="#f22"/><rect y="899" height="1.5" fill="#f33"/><rect y="900.5" fill="#f44"/><rect y="901.5" height="2" fill="#f33"/><rect y="903.5" fill="#99f"/><rect y="904.5" fill="#eef"/><rect y="905.5" fill="#fcc"/><rect y="906.5" height="2" fill="#fbb"/><rect y="908.5" height="1.5" fill="#faa"/><rect y="910" fill="#fdd"/><rect y="911" fill="#fee"/><rect y="912" height="2" fill="#eef"/><rect y="914" height="3" fill="#fee"/><rect y="917" height="2" fill="#f99"/><rect y="919" fill="#fee"/><rect y="920" height="3.5" fill="#fcc"/><rect y="923.5" fill="#aaf"/><rect y="924.5" fill="#f66"/><rect y="925.5" fill="#f77"/><rect y="926.5" height="2" fill="#f55"/><rect y="928.5" fill="#f88"/><rect y="929.5" height="5.5" fill="#f99"/><rect y="935" height="2" fill="#f88"/><rect y="937" height="5" fill="#f99"/><rect y="942" fill="#f77"/><rect y="943" height="2" fill="#fdd"/><rect y="945" height="2" fill="#f88"/><rect y="947" fill="#faa"/><rect y="948" fill="#f99"/><rect y="949" fill="#fbb"/><rect y="950" fill="#f55"/><rect y="951" height="2.5" fill="#faa"/><rect y="953.5" height="2" fill="#f99"/><rect y="955.5" height="1.5" fill="#f66"/><rect y="957" height="2" fill="#f77"/><rect y="959" fill="#f88"/><rect y="960" fill="#fbb"/><rect y="961" height="1.5" fill="#f88"/><rect y="962.5" fill="#fdd"/><rect y="963.5" height="2" fill="#f66"/><rect y="965.5" height="2" fill="#fbb"/><rect y="967.5" height="1.5" fill="#f55"/><rect y="969" height="2.5" fill="#faa"/><rect y="971.5" fill="#f66"/><rect y="972.5" height="2" fill="#f88"/><rect y="974.5" height="1.5" fill="#f22"/><rect y="976" height="2" fill="#f55"/><rect y="978" height="2.5" fill="#f00"/><rect y="980.5" height="2.5" fill="#f22"/><rect y="983" height="5" fill="#f11"/><rect y="988" height="1.5" fill="#f00"/><rect y="989.5" fill="#f44"/><rect y="990.5" height="2" fill="#f00"/><rect y="992.5" fill="#f22"/><rect y="993.5" height="2.5" fill="#f33"/><rect y="996" fill="#f99"/><rect y="997" fill="#f77"/><rect y="998" height="2" fill="#f99"/><rect y="1000" fill="#f55"/><rect y="1001" height="2.5" fill="#fbb"/><rect y="1003.5" height="2.5" fill="#fcc"/><rect y="1006" height="4" fill="#faa"/><rect y="1010" height="0.8" fill="#fdd"/></g><g transform="translate(572.9,0)"><rect y="747.2" fill="#88f"/><rect y="748.2" fill="#77f"/><rect y="749.2" height="4" fill="#88f"/><rect y="753.2" fill="#bbf"/><rect y="754.2" fill="#88f"/><rect y="755.2" height="2" fill="#aaf"/><rect y="757.2" fill="#99f"/><rect y="758.2" height="1.5" fill="#ddf"/><rect y="759.7" fill="#fff"/><rect y="760.7" height="1.5" fill="#aaf"/><rect y="762.2" height="2" fill="#66f"/><rect y="764.2" height="2.5" fill="#77f"/><rect y="766.7" height="1.5" fill="#bbf"/><rect y="768.2" height="3.5" fill="#fff"/><rect y="771.7" height="2" fill="#bbf"/><rect y="773.7" height="3" fill="#ddf"/><rect y="776.7" height="2" fill="#77f"/><rect y="778.7" fill="#ddf"/><rect y="779.7" height="3" fill="#eef"/><rect y="782.7" fill="#aaf"/><rect y="783.7" height="2" fill="#ccf"/><rect y="785.7" height="2" fill="#ddf"/><rect y="787.7" height="4" fill="#bbf"/><rect y="791.7" height="1.5" fill="#77f"/><rect y="793.2" height="2" fill="#88f"/><rect y="795.2" fill="#fee"/><rect y="796.2" height="2.5" fill="#ccf"/><rect y="798.7" height="2" fill="#99f"/><rect y="800.7" height="2" fill="#fff"/><rect y="802.7" fill="#aaf"/><rect y="803.7" height="2" fill="#ccf"/><rect y="805.7" fill="#99f"/><rect y="806.7" fill="#ccf"/><rect y="807.7" height="1.5" fill="#aaf"/><rect y="809.2" height="2" fill="#ddf"/><rect y="811.2" fill="#ccf"/><rect y="812.2" height="4.5" fill="#bbf"/><rect y="816.7" height="1.5" fill="#aaf"/><rect y="818.2" height="2" fill="#ddf"/><rect y="820.2" height="3.5" fill="#aaf"/><rect y="823.7" height="2" fill="#ccf"/><rect y="825.7" height="1.5" fill="#88f"/><rect y="827.2" fill="#ccf"/><rect y="828.2" height="4" fill="#aaf"/><rect y="832.2" height="2" fill="#bbf"/><rect y="834.2" fill="#fff"/><rect y="835.2" fill="#99f"/><rect y="836.2" height="2.5" fill="#eef"/><rect y="838.7" fill="#bbf"/><rect y="839.7" height="1.5" fill="#aaf"/><rect y="841.2" height="2" fill="#99f"/><rect y="843.2" fill="#aaf"/><rect y="844.2" height="3" fill="#99f"/><rect y="847.2" fill="#11f"/><rect y="848.2" height="2" fill="#77f"/><rect y="850.2" height="1.5" fill="#bbf"/><rect y="851.7" height="2.5" fill="#ddf"/><rect y="854.2" height="1.5" fill="#77f"/><rect y="855.7" fill="#ccf"/><rect y="856.7" height="2" fill="#ddf"/><rect y="858.7" fill="#99f"/><rect y="859.7" height="6" fill="#77f"/><rect y="865.7" fill="#66f"/><rect y="866.7" height="2" fill="#77f"/><rect y="868.7" height="1.5" fill="#99f"/><rect y="870.2" height="2" fill="#77f"/><rect y="872.2" height="2" fill="#99f"/><rect y="874.2" fill="#66f"/><rect y="875.2" fill="#aaf"/><rect y="876.2" fill="#99f"/><rect y="877.2" fill="#eef"/><rect y="878.2" fill="#88f"/><rect y="879.2" fill="#aaf"/><rect y="880.2" fill="#bbf"/><rect y="881.2" height="2" fill="#aaf"/><rect y="883.2" height="2" fill="#ccf"/><rect y="885.2" height="2" fill="#55f"/><rect y="887.2" height="0.3" fill="#88f"/><rect y="887.5" fill="#ddf"/><rect y="888.5" height="1.5" fill="#fcc"/><rect y="890" height="2" fill="#ddf"/><rect y="892" fill="#fcc"/><rect y="893" fill="#fee"/><rect y="894" fill="#fbb"/><rect y="895" height="2" fill="#faa"/><rect y="897" height="2" fill="#fcc"/><rect y="899" height="1.5" fill="#faa"/><rect y="900.5" fill="#fdd"/><rect y="901.5" height="2" fill="#f99"/><rect y="903.5" fill="#ccf"/><rect y="904.5" fill="#f55"/><rect y="905.5" fill="#faa"/><rect y="906.5" height="2" fill="#f88"/><rect y="908.5" height="1.5" fill="#f66"/><rect y="910" fill="#faa"/><rect y="911" height="6" fill="#f88"/><rect y="917" height="2" fill="#f66"/><rect y="919" height="3.5" fill="#faa"/><rect y="922.5" fill="#f66"/><rect y="923.5" fill="#f77"/><rect y="924.5" height="2" fill="#f44"/><rect y="926.5" height="2" fill="#f22"/><rect y="928.5" fill="#f44"/><rect y="929.5" height="2.5" fill="#f33"/><rect y="932" height="2" fill="#f00"/><rect y="934" fill="#f66"/><rect y="935" height="4.5" fill="#f00"/><rect y="939.5" height="2.5" fill="#f44"/><rect y="942" height="3" fill="#f22"/><rect y="945" height="2" fill="#f66"/><rect y="947" fill="#f77"/><rect y="948" fill="#f88"/><rect y="949" fill="#fee"/><rect y="950" fill="#fbb"/><rect y="951" height="6" fill="#faa"/><rect y="957" height="2" fill="#f99"/><rect y="959" fill="#f77"/><rect y="960" fill="#f55"/><rect y="961" height="1.5" fill="#f88"/><rect y="962.5" height="3" fill="#fcc"/><rect y="965.5" height="2" fill="#faa"/><rect y="967.5" height="4" fill="#fcc"/><rect y="971.5" fill="#eef"/><rect y="972.5" height="2" fill="#fcc"/><rect y="974.5" height="3.5" fill="#fdd"/><rect y="978" height="2.5" fill="#f99"/><rect y="980.5" height="2.5" fill="#fdd"/><rect y="983" height="1.5" fill="#f55"/><rect y="984.5" fill="#f77"/><rect y="985.5" height="5" fill="#f99"/><rect y="990.5" height="2" fill="#f88"/><rect y="992.5" fill="#f99"/><rect y="993.5" height="2.5" fill="#fcc"/><rect y="996" fill="#f66"/><rect y="997" fill="#f99"/><rect y="998" fill="#f55"/><rect y="999" fill="#f44"/><rect y="1000" fill="#f88"/><rect y="1001" height="2.5" fill="#fbb"/><rect y="1003.5" height="2.5" fill="#f99"/><rect y="1006" height="1.5" fill="#fcc"/><rect y="1007.5" height="2.5" fill="#f77"/><rect y="1010" height="0.8" fill="#faa"/></g><g transform="translate(598.4,0)"><rect y="747.2" fill="#66f"/><rect y="748.2" height="3" fill="#77f"/><rect y="751.2" height="2" fill="#aaf"/><rect y="753.2" fill="#77f"/><rect y="754.2" fill="#88f"/><rect y="755.2" height="2" fill="#bbf"/><rect y="757.2" fill="#ccf"/><rect y="758.2" height="1.5" fill="#eef"/><rect y="759.7" fill="#99f"/><rect y="760.7" height="1.5" fill="#aaf"/><rect y="762.2" height="2" fill="#77f"/><rect y="764.2" height="2.5" fill="#ddf"/><rect y="766.7" height="2.5" fill="#66f"/><rect y="769.2" height="2.5" fill="#aaf"/><rect y="771.7" height="2" fill="#bbf"/><rect y="773.7" height="3" fill="#88f"/><rect y="776.7" height="2" fill="#aaf"/><rect y="778.7" fill="#99f"/><rect y="779.7" height="1.5" fill="#44f"/><rect y="781.2" height="1.5" fill="#aaf"/><rect y="782.7" fill="#88f"/><rect y="783.7" height="2" fill="#66f"/><rect y="785.7" height="2" fill="#bbf"/><rect y="787.7" height="2" fill="#55f"/><rect y="789.7" height="2" fill="#77f"/><rect y="791.7" height="1.5" fill="#99f"/><rect y="793.2" height="2" fill="#88f"/><rect y="795.2" fill="#77f"/><rect y="796.2" height="2.5" fill="#aaf"/><rect y="798.7" height="2" fill="#66f"/><rect y="800.7" height="2" fill="#77f"/><rect y="802.7" height="3" fill="#aaf"/><rect y="805.7" fill="#99f"/><rect y="806.7" fill="#aaf"/><rect y="807.7" height="1.5" fill="#bbf"/><rect y="809.2" height="2" fill="#66f"/><rect y="811.2" fill="#99f"/><rect y="812.2" height="2.5" fill="#88f"/><rect y="814.7" height="2" fill="#aaf"/><rect y="816.7" height="1.5" fill="#88f"/><rect y="818.2" height="2" fill="#66f"/><rect y="820.2" height="2.5" fill="#aaf"/><rect y="822.7" fill="#77f"/><rect y="823.7" height="2" fill="#88f"/><rect y="825.7" height="4.5" fill="#bbf"/><rect y="830.2" height="2" fill="#aaf"/><rect y="832.2" height="2" fill="#77f"/><rect y="834.2" fill="#88f"/><rect y="835.2" fill="#99f"/><rect y="836.2" height="2.5" fill="#55f"/><rect y="838.7" fill="#99f"/><rect y="839.7" height="1.5" fill="#77f"/><rect y="841.2" height="2" fill="#55f"/><rect y="843.2" fill="#99f"/><rect y="844.2" height="1.5" fill="#ddf"/><rect y="845.7" height="1.5" fill="#77f"/><rect y="847.2" fill="#bbf"/><rect y="848.2" height="2" fill="#44f"/><rect y="850.2" height="1.5" fill="#22f"/><rect y="851.7" height="1.5" fill="#ddf"/><rect y="853.2" fill="#33f"/><rect y="854.2" height="1.5" fill="#77f"/><rect y="855.7" fill="#88f"/><rect y="856.7" height="2" fill="#ddf"/><rect y="858.7" fill="#66f"/><rect y="859.7" height="1.5" fill="#ddf"/><rect y="861.2" height="2" fill="#aaf"/><rect y="863.2" height="2.5" fill="#88f"/><rect y="865.7" fill="#ccf"/><rect y="866.7" height="2" fill="#77f"/><rect y="868.7" height="1.5" fill="#eef"/><rect y="870.2" height="2" fill="#88f"/><rect y="872.2" height="2" fill="#ccf"/><rect y="874.2" fill="#ddf"/><rect y="875.2" height="2" fill="#ccf"/><rect y="877.2" fill="#99f"/><rect y="878.2" fill="#bbf"/><rect y="879.2" fill="#77f"/><rect y="880.2" fill="#44f"/><rect y="881.2" height="2" fill="#33f"/><rect y="883.2" height="2" fill="#77f"/><rect y="885.2" height="2" fill="#33f"/><rect y="887.2" height="0.3" fill="#22f"/><rect y="887.5" fill="#fbb"/><rect y="888.5" height="1.5" fill="#fff"/><rect y="890" height="3" fill="#fdd"/><rect y="893" fill="#fcc"/><rect y="894" height="3" fill="#fbb"/><rect y="897" height="2" fill="#fcc"/><rect y="899" height="1.5" fill="#f88"/><rect y="900.5" fill="#fcc"/><rect y="901.5" height="2" fill="#f88"/><rect y="903.5" fill="#faa"/><rect y="904.5" fill="#f88"/><rect y="905.5" fill="#f44"/><rect y="906.5" height="2" fill="#f55"/><rect y="908.5" height="1.5" fill="#f88"/><rect y="910" fill="#faa"/><rect y="911" fill="#f55"/><rect y="912" height="4" fill="#f88"/><rect y="916" fill="#f77"/><rect y="917" height="2" fill="#f66"/><rect y="919" fill="#faa"/><rect y="920" height="2.5" fill="#fbb"/><rect y="922.5" fill="#f88"/><rect y="923.5" fill="#f77"/><rect y="924.5" fill="#f33"/><rect y="925.5" fill="#f66"/><rect y="926.5" height="2" fill="#f44"/><rect y="928.5" fill="#f77"/><rect y="929.5" height="2.5" fill="#f99"/><rect y="932" height="2" fill="#fcc"/><rect y="934" fill="#f88"/><rect y="935" height="4.5" fill="#f77"/><rect y="939.5" height="2.5" fill="#fcc"/><rect y="942" fill="#f99"/><rect y="943" height="2" fill="#faa"/><rect y="945" height="2" fill="#fbb"/><rect y="947" height="2" fill="#f88"/><rect y="949" fill="#faa"/><rect y="950" fill="#f77"/><rect y="951" height="2.5" fill="#f66"/><rect y="953.5" height="2" fill="#f99"/><rect y="955.5" height="3.5" fill="#f88"/><rect y="959" fill="#f55"/><rect y="960" height="3.5" fill="#f99"/><rect y="963.5" height="4" fill="#fcc"/><rect y="967.5" height="1.5" fill="#faa"/><rect y="969" height="2.5" fill="#fee"/><rect y="971.5" fill="#f66"/><rect y="972.5" height="2" fill="#faa"/><rect y="974.5" height="1.5" fill="#fcc"/><rect y="976" height="2" fill="#fbb"/><rect y="978" height="2.5" fill="#f88"/><rect y="980.5" height="2.5" fill="#fbb"/><rect y="983" height="1.5" fill="#f88"/><rect y="984.5" fill="#f77"/><rect y="985.5" height="2.5" fill="#f99"/><rect y="988" height="1.5" fill="#fbb"/><rect y="989.5" fill="#fcc"/><rect y="990.5" height="2" fill="#fee"/><rect y="992.5" fill="#f44"/><rect y="993.5" height="2.5" fill="#f22"/><rect y="996" fill="#f66"/><rect y="997" fill="#f33"/><rect y="998" fill="#f22"/><rect y="999" fill="#f00"/><rect y="1000" fill="#f99"/><rect y="1001" height="2.5" fill="#f66"/><rect y="1003.5" height="2.5" fill="#fff"/><rect y="1006" height="1.5" fill="#f66"/><rect y="1007.5" height="3.3" fill="#f77"/></g><g transform="translate(623.9,0)"><rect y="747.2" fill="#ccf"/><rect y="748.2" fill="#bbf"/><rect y="749.2" height="2" fill="#fff"/><rect y="751.2" height="2" fill="#fee"/><rect y="753.2" fill="#fff"/><rect y="754.2" fill="#eef"/><rect y="755.2" height="3" fill="#ccf"/><rect y="758.2" height="4" fill="#eef"/><rect y="762.2" height="2" fill="#ccf"/><rect y="764.2" height="2.5" fill="#eef"/><rect y="766.7" height="1.5" fill="#ddf"/><rect y="768.2" fill="#eef"/><rect y="769.2" height="2.5" fill="#fdd"/><rect y="771.7" height="2" fill="#fff"/><rect y="773.7" fill="#ccf"/><rect y="774.7" height="2" fill="#ddf"/><rect y="776.7" height="2" fill="#bbf"/><rect y="778.7" height="2.5" fill="#ddf"/><rect y="781.2" height="1.5" fill="#ccf"/><rect y="782.7" height="3" fill="#eef"/><rect y="785.7" height="2" fill="#fee"/><rect y="787.7" height="2" fill="#bbf"/><rect y="789.7" height="2" fill="#faa"/><rect y="791.7" height="1.5" fill="#eef"/><rect y="793.2" height="2" fill="#fff"/><rect y="795.2" fill="#eef"/><rect y="796.2" height="2.5" fill="#fee"/><rect y="798.7" height="2" fill="#ccf"/><rect y="800.7" height="3" fill="#99f"/><rect y="803.7" height="3" fill="#88f"/><rect y="806.7" fill="#66f"/><rect y="807.7" height="1.5" fill="#88f"/><rect y="809.2" height="2" fill="#aaf"/><rect y="811.2" fill="#bbf"/><rect y="812.2" height="2.5" fill="#77f"/><rect y="814.7" height="3.5" fill="#99f"/><rect y="818.2" height="2" fill="#ddf"/><rect y="820.2" height="2.5" fill="#ccf"/><rect y="822.7" height="3" fill="#88f"/><rect y="825.7" height="1.5" fill="#eef"/><rect y="827.2" fill="#ccf"/><rect y="828.2" height="2" fill="#fee"/><rect y="830.2" height="2" fill="#99f"/><rect y="832.2" height="2" fill="#44f"/><rect y="834.2" fill="#99f"/><rect y="835.2" fill="#ccf"/><rect y="836.2" height="2.5" fill="#aaf"/><rect y="838.7" height="2.5" fill="#bbf"/><rect y="841.2" height="2" fill="#ccf"/><rect y="843.2" fill="#99f"/><rect y="844.2" height="1.5" fill="#fee"/><rect y="845.7" height="1.5" fill="#aaf"/><rect y="847.2" height="3" fill="#bbf"/><rect y="850.2" height="1.5" fill="#ccf"/><rect y="851.7" height="1.5" fill="#bbf"/><rect y="853.2" fill="#ddf"/><rect y="854.2" height="1.5" fill="#eef"/><rect y="855.7" fill="#99f"/><rect y="856.7" height="2" fill="#ddf"/><rect y="858.7" fill="#bbf"/><rect y="859.7" height="1.5" fill="#ccf"/><rect y="861.2" height="2" fill="#ddf"/><rect y="863.2" height="2.5" fill="#ccf"/><rect y="865.7" fill="#aaf"/><rect y="866.7" height="3.5" fill="#ccf"/><rect y="870.2" height="2" fill="#eef"/><rect y="872.2" height="2" fill="#aaf"/><rect y="874.2" fill="#bbf"/><rect y="875.2" fill="#99f"/><rect y="876.2" height="2" fill="#ddf"/><rect y="878.2" fill="#aaf"/><rect y="879.2" height="2" fill="#99f"/><rect y="881.2" height="2" fill="#aaf"/><rect y="883.2" height="2" fill="#bbf"/><rect y="885.2" height="2" fill="#aaf"/><rect y="887.2" height="0.3" fill="#77f"/><rect y="887.5" fill="#fdd"/><rect y="888.5" height="1.5" fill="#fbb"/><rect y="890" height="2" fill="#fcc"/><rect y="892" fill="#fff"/><rect y="893" fill="#faa"/><rect y="894" fill="#fcc"/><rect y="895" height="2" fill="#fff"/><rect y="897" height="2" fill="#fee"/><rect y="899" height="1.5" fill="#fcc"/><rect y="900.5" fill="#fee"/><rect y="901.5" height="2" fill="#f88"/><rect y="903.5" fill="#faa"/><rect y="904.5" height="2" fill="#fdd"/><rect y="906.5" height="2" fill="#f77"/><rect y="908.5" height="1.5" fill="#fee"/><rect y="910" fill="#faa"/><rect y="911" fill="#f66"/><rect y="912" height="2" fill="#f99"/><rect y="914" height="2" fill="#f88"/><rect y="916" fill="#f77"/><rect y="917" height="3" fill="#fcc"/><rect y="920" height="2.5" fill="#f55"/><rect y="922.5" fill="#f99"/><rect y="923.5" height="2" fill="#fbb"/><rect y="925.5" fill="#faa"/><rect y="926.5" height="2" fill="#fee"/><rect y="928.5" fill="#f99"/><rect y="929.5" height="2.5" fill="#fbb"/><rect y="932" height="2" fill="#fcc"/><rect y="934" fill="#fdd"/><rect y="935" height="2" fill="#fcc"/><rect y="937" height="2.5" fill="#f99"/><rect y="939.5" height="3.5" fill="#fee"/><rect y="943" height="4" fill="#fdd"/><rect y="947" height="2" fill="#fcc"/><rect y="949" fill="#fbb"/><rect y="950" height="3.5" fill="#fdd"/><rect y="953.5" height="2" fill="#f66"/><rect y="955.5" height="1.5" fill="#fee"/><rect y="957" height="2" fill="#f99"/><rect y="959" fill="#f77"/><rect y="960" fill="#fcc"/><rect y="961" height="1.5" fill="#fbb"/><rect y="962.5" fill="#f88"/><rect y="963.5" height="2" fill="#fcc"/><rect y="965.5" height="2" fill="#fbb"/><rect y="967.5" height="1.5" fill="#f99"/><rect y="969" height="2.5" fill="#fcc"/><rect y="971.5" fill="#fee"/><rect y="972.5" height="2" fill="#f99"/><rect y="974.5" height="1.5" fill="#faa"/><rect y="976" height="2" fill="#f99"/><rect y="978" height="2.5" fill="#f88"/><rect y="980.5" height="2.5" fill="#faa"/><rect y="983" height="1.5" fill="#f88"/><rect y="984.5" fill="#fdd"/><rect y="985.5" height="2.5" fill="#f99"/><rect y="988" height="1.5" fill="#faa"/><rect y="989.5" fill="#f66"/><rect y="990.5" height="2" fill="#f77"/><rect y="992.5" fill="#f66"/><rect y="993.5" height="2.5" fill="#f99"/><rect y="996" height="2" fill="#f77"/><rect y="998" fill="#f88"/><rect y="999" fill="#fbb"/><rect y="1000" fill="#fcc"/><rect y="1001" height="2.5" fill="#faa"/><rect y="1003.5" height="2.5" fill="#fcc"/><rect y="1006" height="1.5" fill="#faa"/><rect y="1007.5" height="2.5" fill="#fcc"/><rect y="1010" height="0.8" fill="#fbb"/></g><g transform="translate(649.5,0)"><rect y="747.2" fill="#aaf"/><rect y="748.2" height="3" fill="#88f"/><rect y="751.2" height="2" fill="#99f"/><rect y="753.2" fill="#55f"/><rect y="754.2" fill="#88f"/><rect y="755.2" height="2" fill="#55f"/><rect y="757.2" fill="#66f"/><rect y="758.2" height="1.5" fill="#aaf"/><rect y="759.7" fill="#66f"/><rect y="760.7" height="1.5" fill="#88f"/><rect y="762.2" height="2" fill="#aaf"/><rect y="764.2" height="2.5" fill="#88f"/><rect y="766.7" height="1.5" fill="#aaf"/><rect y="768.2" height="3.5" fill="#66f"/><rect y="771.7" height="2" fill="#88f"/><rect y="773.7" fill="#aaf"/><rect y="774.7" height="2" fill="#66f"/><rect y="776.7" height="2" fill="#aaf"/><rect y="778.7" height="2.5" fill="#77f"/><rect y="781.2" height="1.5" fill="#99f"/><rect y="782.7" fill="#88f"/><rect y="783.7" height="2" fill="#aaf"/><rect y="785.7" height="2" fill="#44f"/><rect y="787.7" height="2" fill="#77f"/><rect y="789.7" height="2" fill="#99f"/><rect y="791.7" height="1.5" fill="#55f"/><rect y="793.2" height="2" fill="#aaf"/><rect y="795.2" fill="#88f"/><rect y="796.2" height="2.5" fill="#55f"/><rect y="798.7" height="2" fill="#77f"/><rect y="800.7" height="2" fill="#ccf"/><rect y="802.7" fill="#aaf"/><rect y="803.7" height="2" fill="#bbf"/><rect y="805.7" height="2" fill="#77f"/><rect y="807.7" height="1.5" fill="#88f"/><rect y="809.2" height="2" fill="#aaf"/><rect y="811.2" fill="#bbf"/><rect y="812.2" height="2.5" fill="#ddf"/><rect y="814.7" height="2" fill="#88f"/><rect y="816.7" height="1.5" fill="#55f"/><rect y="818.2" height="2" fill="#99f"/><rect y="820.2" height="2.5" fill="#77f"/><rect y="822.7" fill="#99f"/><rect y="823.7" height="2" fill="#66f"/><rect y="825.7" height="2.5" fill="#99f"/><rect y="828.2" height="2" fill="#aaf"/><rect y="830.2" height="2" fill="#77f"/><rect y="832.2" height="2" fill="#66f"/><rect y="834.2" fill="#88f"/><rect y="835.2" fill="#66f"/><rect y="836.2" height="2.5" fill="#bbf"/><rect y="838.7" fill="#fff"/><rect y="839.7" height="1.5" fill="#ccf"/><rect y="841.2" height="2" fill="#88f"/><rect y="843.2" fill="#fcc"/><rect y="844.2" height="1.5" fill="#ccf"/><rect y="845.7" height="1.5" fill="#aaf"/><rect y="847.2" fill="#bbf"/><rect y="848.2" height="2" fill="#88f"/><rect y="850.2" height="1.5" fill="#ddf"/><rect y="851.7" height="1.5" fill="#fee"/><rect y="853.2" height="2.5" fill="#ddf"/><rect y="855.7" fill="#fff"/><rect y="856.7" height="2" fill="#fdd"/><rect y="858.7" fill="#aaf"/><rect y="859.7" height="1.5" fill="#fee"/><rect y="861.2" height="4.5" fill="#eef"/><rect y="865.7" fill="#fdd"/><rect y="866.7" height="2" fill="#fee"/><rect y="868.7" height="1.5" fill="#fff"/><rect y="870.2" height="2" fill="#aaf"/><rect y="872.2" height="2" fill="#ddf"/><rect y="874.2" fill="#66f"/><rect y="875.2" fill="#99f"/><rect y="876.2" fill="#aaf"/><rect y="877.2" height="2" fill="#ccf"/><rect y="879.2" fill="#bbf"/><rect y="880.2" fill="#88f"/><rect y="881.2" height="2" fill="#ddf"/><rect y="883.2" height="2" fill="#eef"/><rect y="885.2" height="2" fill="#aaf"/><rect y="887.2" height="0.3" fill="#88f"/><rect y="887.5" fill="#fdd"/><rect y="888.5" height="1.5" fill="#f99"/><rect y="890" height="2" fill="#faa"/><rect y="892" height="2" fill="#f77"/><rect y="894" fill="#f88"/><rect y="895" height="2" fill="#f77"/><rect y="897" height="2" fill="#f88"/><rect y="899" height="2.5" fill="#faa"/><rect y="901.5" height="2" fill="#fcc"/><rect y="903.5" fill="#fbb"/><rect y="904.5" fill="#faa"/><rect y="905.5" fill="#f88"/><rect y="906.5" height="2" fill="#f44"/><rect y="908.5" height="1.5" fill="#f99"/><rect y="910" fill="#f77"/><rect y="911" fill="#f55"/><rect y="912" height="4" fill="#f77"/><rect y="916" fill="#f88"/><rect y="917" height="2" fill="#f99"/><rect y="919" fill="#f66"/><rect y="920" height="2.5" fill="#faa"/><rect y="922.5" fill="#f77"/><rect y="923.5" fill="#fcc"/><rect y="924.5" fill="#faa"/><rect y="925.5" fill="#fbb"/><rect y="926.5" height="2" fill="#f99"/><rect y="928.5" fill="#fcc"/><rect y="929.5" height="2.5" fill="#f88"/><rect y="932" height="3" fill="#faa"/><rect y="935" height="2" fill="#f88"/><rect y="937" height="2.5" fill="#f99"/><rect y="939.5" height="3.5" fill="#f88"/><rect y="943" height="2" fill="#faa"/><rect y="945" height="2" fill="#f55"/><rect y="947" fill="#f66"/><rect y="948" fill="#f99"/><rect y="949" fill="#f55"/><rect y="950" fill="#faa"/><rect y="951" height="4.5" fill="#f77"/><rect y="955.5" height="1.5" fill="#f66"/><rect y="957" height="2" fill="#fbb"/><rect y="959" fill="#f88"/><rect y="960" fill="#f99"/><rect y="961" height="1.5" fill="#f66"/><rect y="962.5" fill="#f88"/><rect y="963.5" height="2" fill="#f44"/><rect y="965.5" height="3.5" fill="#f66"/><rect y="969" height="2.5" fill="#f77"/><rect y="971.5" fill="#f55"/><rect y="972.5" height="2" fill="#f66"/><rect y="974.5" height="1.5" fill="#faa"/><rect y="976" height="2" fill="#f55"/><rect y="978" height="2.5" fill="#fbb"/><rect y="980.5" height="2.5" fill="#faa"/><rect y="983" height="1.5" fill="#f99"/><rect y="984.5" fill="#faa"/><rect y="985.5" height="2.5" fill="#f88"/><rect y="988" height="1.5" fill="#fdd"/><rect y="989.5" fill="#f88"/><rect y="990.5" height="2" fill="#f66"/><rect y="992.5" height="3.5" fill="#faa"/><rect y="996" fill="#fff"/><rect y="997" fill="#fdd"/><rect y="998" fill="#f99"/><rect y="999" fill="#fdd"/><rect y="1000" fill="#fee"/><rect y="1001" height="2.5" fill="#fbb"/><rect y="1003.5" height="2.5" fill="#f88"/><rect y="1006" height="1.5" fill="#fff"/><rect y="1007.5" height="2.5" fill="#f99"/><rect y="1010" height="0.8" fill="#f66"/></g></g>
<path d="M432.5 747V713.4H480M456 713.4V682.6H584.5V706.3M480 713.4V725.6M458 747V725.6H501.7V726M483.5 747V726H521.8V727.5M509 747V727.5H534.6V747M560 747V706.3H607.7V710.6M585.7 747V710.6H629.8V712.6M611.2 747V712.6H649.5V713.4M636.7 747V713.4H662.3V747" stroke="#555" stroke-width="0.8" fill="none"/>
<defs><linearGradient id="dg57" x1="0" y1="0" x2="1" y2="0"><stop offset="0" stop-color="#000" stop-opacity="0"/><stop offset="0.6" stop-color="#000" stop-opacity="0.18"/><stop offset="1" stop-color="#000" stop-opacity="0.5"/></linearGradient></defs>
<rect x="394.2" y="749.2" width="10" height="259.6" fill="url(#dg57)"/>
<path d="M418.6 747.2L403.6 747.2L403.7 747.9L400.6 748.6L400.4 749.3L401.2 750L401.3 750.7L402 751.4L402.1 752.1L402 752.8L401.3 753.5L401.2 754.2L401.2 754.9L401.2 755.6L402.2 756.3L398.1 757L401.2 757.7L401.2 758.4L401.2 759.1L401.2 759.8L399.6 760.5L398 761.2L400.3 761.9L401.2 762.6L401.2 763.3L401.2 764L401.2 764.7L401.6 765.4L398.7 766.1L402.6 766.8L401.2 767.5L401.7 768.2L402.1 768.9L402.3 769.6L401.2 770.3L401.2 771L401.2 771.7L401.2 772.4L401.3 773.1L401 773.8L401.6 774.5L401.7 775.2L401.8 775.9L401.9 776.6L403.4 777.3L404.6 778L404.8 778.7L404.7 779.4L404.4 780.1L403.6 780.8L403.6 781.5L403.8 782.2L402.1 782.9L401.7 783.6L401.2 784.3L401.5 785L403.3 785.7L403.1 786.4L403.7 787.1L403.4 787.8L403.2 788.5L403.2 789.2L402.9 789.9L403.1 790.6L402.4 791.3L399.5 792L403.4 792.7L403.4 793.4L403.4 794.1L404.1 794.8L404.1 795.5L402.9 796.2L402.3 796.9L402.8 797.6L403.7 798.3L404 799L403.9 799.7L402.8 800.4L403.5 801.1L403.6 801.8L404.4 802.5L400.8 803.2L403.6 803.9L402.7 804.6L402.2 805.3L399.4 806L401.9 806.7L402.1 807.4L400.7 808.1L403.5 808.8L403.5 809.5L404.6 810.2L403.7 810.9L403.5 811.6L402.8 812.3L402.5 813L402.2 813.7L401.7 814.4L401.2 815.1L398.7 815.8L401.2 816.5L400.9 817.2L401.7 817.9L398 818.6L403.2 819.3L404.1 820L402.6 820.7L401.2 821.4L401.6 822.1L401.9 822.8L402.5 823.5L402.6 824.2L402.2 824.9L402.8 825.6L402.9 826.3L402.8 827L402 827.7L403.2 828.4L398 829.1L401.2 829.8L401.4 830.5L398.6 831.2L401.6 831.9L402 832.6L401.2 833.3L401.2 834L401.5 834.7L401.2 835.4L401.2 836.1L401.2 836.8L401.2 837.5L401.5 838.2L401.5 838.9L402.8 839.6L402.2 840.3L403.8 841L404.3 841.7L406 842.4L406.7 843.1L406.5 843.8L405.5 844.5L404.2 845.2L404.8 845.9L405.5 846.6L405.4 847.3L403.2 848L403.9 848.7L403.9 849.4L404.6 850.1L406.3 850.8L406.1 851.5L405.8 852.2L402.3 852.9L406.7 853.6L406.1 854.3L405.3 855L405.6 855.7L405.6 856.4L404.8 857.1L402.6 857.8L403.9 858.5L404.6 859.2L404.7 859.9L404.3 860.6L403.6 861.3L403.8 862L403.5 862.7L402.1 863.4L402.8 864.1L403.2 864.8L403.6 865.5L404.1 866.2L405.6 866.9L406.3 867.6L406.5 868.3L406.4 869L405.6 869.7L406.5 870.4L406.7 871.1L406.7 871.8L406.7 872.5L403.8 873.2L402.8 873.9L402.8 874.6L403 875.3L404.2 876L405.2 876.7L404.6 877.4L403.7 878.1L404.9 878.8L405.5 879.5L403.1 880.2L404.7 880.9L405 881.6L404.4 882.3L404.2 883L404 883.7L403.1 884.4L403.1 885.1L402.9 885.8L402.3 886.5L403.2 887.2L401.4 887.9L402 888.6L401.2 889.3L401.2 890L401.2 890.7L401.5 891.4L401.6 892.1L402 892.8L401.6 893.5L402.4 894.2L403.4 894.9L403.6 895.6L402.6 896.3L405.4 897L406.6 897.7L406.7 898.4L406.7 899.1L404.4 899.8L405.9 900.5L406.4 901.2L405.5 901.9L405.3 902.6L403.8 903.3L405.4 904L404.6 904.7L404.6 905.4L404.1 906.1L403.5 906.8L403.5 907.5L404.1 908.2L402.7 908.9L401.3 909.6L401.2 910.3L401.5 911L401.2 911.7L401.1 912.4L401.2 913.1L401.2 913.8L401.2 914.5L401.2 915.2L401.2 915.9L401.2 916.6L401.2 917.3L398.9 918L402.8 918.7L400.8 919.4L402.9 920.1L405.1 920.8L404.9 921.5L405.9 922.2L405.2 922.9L404.5 923.6L404.6 924.3L403.2 925L403.1 925.7L403.7 926.4L401.1 927.1L405 927.8L405.7 928.5L403.9 929.2L403.9 929.9L403.7 930.6L403.6 931.3L402.8 932L402.4 932.7L405.3 933.4L405 934.1L405.1 934.8L405.9 935.5L405.7 936.2L405.5 936.9L405.2 937.6L406.4 938.3L406 939L406.7 939.7L406.7 940.4L406.7 941.1L406.7 941.8L406.7 942.5L406.7 943.2L406.3 943.9L406 944.6L405.9 945.3L406.1 946L405.5 946.7L405.2 947.4L405.5 948.1L404.3 948.8L401.1 949.5L403 950.2L402.9 950.9L404.7 951.6L404.9 952.3L404.5 953L405.1 953.7L402.2 954.4L402.4 955.1L403.3 955.8L403.4 956.5L402.3 957.2L400.6 957.9L401.2 958.6L397.8 959.3L401.2 960L401.2 960.7L401.2 961.4L401.2 962.1L401.2 962.8L401.5 963.5L400.2 964.2L402 964.9L398.6 965.6L401.4 966.3L401.1 967L401.2 967.7L401.2 968.4L402.4 969.1L401.1 969.8L402.1 970.5L401.3 971.2L401.2 971.9L401.2 972.6L401.2 973.3L401.2 974L401.2 974.7L401.2 975.4L402.1 976.1L402.3 976.8L403 977.5L403.6 978.2L404.4 978.9L404.8 979.6L402.6 980.3L403.5 981L402.6 981.7L402.2 982.4L404.2 983.1L403.5 983.8L405 984.5L403 985.2L405.8 985.9L405.9 986.6L406.7 987.3L406.6 988L406.7 988.7L406 989.4L404.6 990.1L405.2 990.8L404.4 991.5L404.8 992.2L404.8 992.9L404.8 993.6L401.8 994.3L406.2 995L406.7 995.7L406 996.4L406.3 997.1L405.1 997.8L406.5 998.5L406.4 999.2L406.7 999.9L406.7 1000.6L406.2 1001.3L406.7 1002L406.3 1002.7L405.4 1003.4L404.7 1004.1L404.3 1004.8L404.6 1005.5L404.5 1006.2L404.5 1006.9L404.9 1007.6L404.9 1008.3L406.1 1009L404.3 1009.7L402.6 1010.4L402.6 1010.8L418.6 1010.8Z" fill="#000"/>
<path d="M418.6 751.1H402.3V751.6H418.6M418.6 753.2H404.3V753.8H418.6M418.6 754.3H405.8V754.9H418.6M418.6 755.4H402.7V756H418.6M418.6 760.2H405V760.8H418.6M418.6 761.9H405.5V762.4H418.6M418.6 763H404.7V763.5H418.6M418.6 770.1H403.1V770.6H418.6M418.6 771.7H409.1V772.3H418.6M418.6 771.2H403.9V772H409.1M418.6 777.2H405.3V777.8H418.6M418.6 782.3H409.4V782.9H418.6M418.6 783.4H406V784H418.6M418.6 791.5H408.7V792.1H418.6M418.6 792.6H405.8V793.2H418.6M418.6 797.1H406.1V797.7H418.6M418.6 802H408.9V802.8H418.6M418.6 808.8H406.5V809.4H418.6M418.6 810.5H406.8V811.1H418.6M418.6 816H405.1V816.5H418.6M418.6 817.1H405V817.6H418.6M418.6 818.1H406.1V818.7H418.6M418.6 820.3H407.5V820.8H418.6M418.6 819.7H404.2V820.5H407.5M418.6 828.8H410.7V829.4H418.6M418.6 828.1H405.4V829.1H410.7M418.6 832.1H407V832.7H418.6M418.6 833.2H405.5V833.8H418.6M418.6 835.5H405.2V836H418.6M418.6 837.7H412.1V838.2H418.6M418.6 838.8H405.7V839.3H418.6M418.6 844H410.1V844.6H418.6M418.6 843.5H407.3V844.3H410.1M418.6 845.6H410.1V846.2H418.6M418.6 845.1H408.2V845.9H410.1M418.6 847.2H409.4V847.7H418.6M418.6 846.7H407.6V847.5H409.4M418.6 848.3H407.5V848.8H418.6M418.6 849.9H411.4V850.4H418.6M418.6 849.3H408.6V850.1H411.4M418.6 866H407.5V866.5H418.6M418.6 870.6H405.8V871.2H418.6M418.6 877.2H407.5V877.7H418.6M418.6 876.6H406.4V877.5H407.5M418.6 881H410.2V881.6H418.6M418.6 880.5H407.1V881.3H410.2M418.6 889.7H405.4V890.3H418.6M418.6 892.5H405.1V893H418.6M418.6 894.7H409.6V895.2H418.6M418.6 894.1H406.1V895H409.6M418.6 897.4H405.7V898H418.6M418.6 898.5H404.3V899.1H418.6M418.6 904.1H407.6V904.7H418.6M418.6 912.9H405V913.5H418.6M418.6 915.1H409.7V915.7H418.6M418.6 914.6H407.2V915.4H409.7M418.6 923.9H405.4V924.5H418.6M418.6 926.2H406.4V926.7H418.6M418.6 929.5H408.5V930.1H418.6M418.6 929H407.3V929.8H408.5M418.6 928.4H404.2V929.4H407.3M418.6 934.9H404.5V935.5H418.6M418.6 940.8H404.5V941.4H418.6M418.6 942.4H406.6V943H418.6M418.6 941.9H405.3V942.7H406.6M418.6 948.9H406.8V949.6H418.6M418.6 948.2H405.3V949.3H406.8M418.6 961.6H407.3V962.2H418.6M418.6 963.7H408.9V964.3H418.6M418.6 964.8H405.3V965.3H418.6M418.6 970.5H407.1V971.1H418.6M418.6 972.6H409.9V973.2H418.6M418.6 972.1H407.2V972.9H409.9M418.6 974.2H409.5V974.8H418.6M418.6 975.8H409.5V976.3H418.6M418.6 975.3H408.3V976.1H409.5M409.5 974.5H407.2V975.7H408.3M418.6 977.9H411.9V978.5H418.6M418.6 977.4H409.3V978.2H411.9M418.6 979.5H412.9V980H418.6M418.6 979H408.5V979.8H412.9M409.3 977.8H406.7V979.4H408.5M418.6 981.7H409V982.3H418.6M418.6 984H409.5V984.6H418.6M418.6 992.4H406.7V993H418.6M418.6 998.6H407.2V999.2H418.6M418.6 1000.4H410.9V1000.9H418.6M418.6 999.8H407.1V1000.6H410.9M418.6 1005.7H410V1006.3H418.6M418.6 1005.2H409.6V1006H410M418.6 1004.7H407.6V1005.6H409.6M418.6 1010H410.7V1010.5H418.6M418.6 1009.5H409.9V1010.3H410.7M418.6 1008.9H408V1009.9H409.9M418.6 1008.4H407.4V1009.4H408M418.6 747.5H387.3V747.3H418.6M418.6 747.8H393V748.4H418.6M418.6 748.9H391.7V749.5H418.6M418.6 752.2H399.2V752.7H418.6M402.3 751.4H396.2V752.4H399.2M405.8 754.6H400.5V755.7H402.7M404.3 753.5H399V755.1H400.5M396.2 751.9H395.6V754.3H399M418.6 750.5H393.9V753.1H395.6M418.6 750H390.9V751.8H393.9M391.7 749.2H388.6V750.9H390.9M393 748.1H387.6V750.1H388.6M418.6 756.5H397.9V757H418.6M418.6 759.2H403.7V759.7H418.6M418.6 758.6H402V759.4H403.7M405.5 762.1H402.8V763.2H404.7M418.6 761.3H402.6V762.7H402.8M405 760.5H400.8V762H402.6M402 759H399.4V761.3H400.8M418.6 758.1H398.4V760.1H399.4M418.6 757.5H394.2V759.1H398.4M397.9 756.7H392.8V758.3H394.2M418.6 765.1H397.2V765.7H418.6M418.6 764.6H394.3V765.4H397.2M418.6 766.2H399V766.8H418.6M418.6 767.9H401.3V768.4H418.6M418.6 767.3H398.8V768.1H401.3M399 766.5H397.1V767.7H398.8M418.6 769H402.5V769.5H418.6M403.1 770.3H399.7V771.6H403.9M402.5 769.2H399.2V770.9H399.7M397.1 767.1H395.2V770.1H399.2M394.3 765H393.1V768.6H395.2M418.6 764H390.3V766.8H393.1M418.6 773.5H395.7V774.3H418.6M418.6 772.8H390.9V773.9H395.7M418.6 775.4H404.4V776H418.6M418.6 774.8H397.2V775.7H404.4M418.6 778.4H403.5V779H418.6M405.3 777.5H399.9V778.7H403.5M418.6 776.6H396.1V778.1H399.9M397.2 775.2H393.6V777.4H396.1M418.6 780.7H404.5V781.2H418.6M418.6 780.1H398.1V780.9H404.5M418.6 781.8H402.7V782.6H409.4M418.6 784.5H401V785.1H418.6M406 783.7H399V784.8H401M402.7 782.2H395.6V784.3H399M398.1 780.5H394.6V783.2H395.6M418.6 779.5H393.3V781.9H394.6M418.6 786.1H401V786.7H418.6M418.6 787.2H398.9V787.8H418.6M401 786.4H396.5V787.5H398.9M418.6 788.3H398.1V788.8H418.6M408.7 791.8H404.4V792.9H405.8M418.6 791H403.1V792.3H404.4M418.6 790.5H400.8V791.7H403.1M418.6 789.9H400.7V791.1H400.8M418.6 789.4H398.9V790.5H400.7M398.1 788.6H395.7V789.9H398.9M396.5 786.9H394.2V789.2H395.7M418.6 785.6H392.8V788.1H394.2M418.6 794.2H398.7V794.8H418.6M418.6 796H403.5V796.5H418.6M418.6 798.8H403.6V799.4H418.6M418.6 798.3H400.7V799.1H403.6M406.1 797.4H400V798.7H400.7M403.5 796.2H395.7V798H400M418.6 795.4H395.3V797.1H395.7M398.7 794.5H394.3V796.3H395.3M418.6 793.7H392.6V795.4H394.3M418.6 801.3H403.8V802.4H408.9M418.6 800.6H400.8V801.9H403.8M418.6 799.9H398.4V801.2H400.8M392.6 794.5H391.3V800.6H398.4M392.8 786.8H390.6V797.5H391.3M393.3 780.7H389.9V792.2H390.6M393.6 776.3H389.2V786.5H389.9M390.9 773.3H388.4V781.4H389.2M390.3 765.4H387.6V777.4H388.4M392.8 757.5H386.8V771.4H387.6M387.6 749.1H385.8V764.4H386.8M387.3 747.4H384.5V756.8H385.8M384.5 752.1V748M418.6 803.2H390.8V803.2H418.6M418.6 805.2H401.2V805.9H418.6M418.6 804.5H392.8V805.6H401.2M418.6 803.7H389.5V805H392.8M418.6 808.2H402.4V809.1H406.5M418.6 811.7H404.4V812.3H418.6M406.8 810.8H403.1V812H404.4M418.6 809.9H400.5V811.4H403.1M402.4 808.6H398.1V810.7H400.5M418.6 807.6H395.9V809.7H398.1M418.6 807H395.2V808.6H395.9M418.6 806.4H393.8V807.8H395.2M418.6 813.8H400V814.4H418.6M418.6 813.3H396.5V814.1H400M418.6 815.5H402.7V816.3H405.1M418.6 814.9H398.8V815.9H402.7M418.6 819.2H402.7V820.1H404.2M406.1 818.4H400.3V819.7H402.7M405 817.3H398.7V819H400.3M398.8 815.4H397.2V818.2H398.7M396.5 813.7H395.4V816.8H397.2M418.6 812.8H390.3V815.2H395.4M418.6 823.2H401.2V823.8H418.6M418.6 824.4H399.4V825.1H418.6M401.2 823.5H398.4V824.8H399.4M418.6 822.6H396.4V824.1H398.4M418.6 821.9H394.1V823.3H396.4M418.6 821.3H392.2V822.6H394.1M418.6 827.5H402.8V828.6H405.4M418.6 826.9H400.7V828.1H402.8M418.6 826.2H399.5V827.5H400.7M418.6 825.6H394.3V826.8H399.5M418.6 829.9H400.6V830.5H418.6M407 832.4H401.7V833.5H405.5M418.6 834.9H402.7V835.7H405.2M418.6 834.3H402.4V835.3H402.7M412.1 837.9H404.4V839H405.7M418.6 837.1H403.1V838.5H404.4M418.6 836.6H400.7V837.8H403.1M402.4 834.8H399.3V837.2H400.7M401.7 833H398.7V836H399.3M418.6 831.6H396.5V834.5H398.7M418.6 831H394.7V833H396.5M400.6 830.2H393.9V832H394.7M418.6 840.9H406.5V841.4H418.6M418.6 842.5H406.5V843H418.6M406.5 842.7H404.8V843.9H407.3M418.6 841.9H403.3V843.3H404.8M407.5 848.5H406.2V849.7H408.6M407.6 847.1H405.3V849.1H406.2M408.2 845.5H403.1V848.1H405.3M403.3 842.6H402.7V846.8H403.1M406.5 841.1H402.1V844.7H402.7M418.6 840.3H401.3V842.9H402.1M418.6 839.8H397.2V841.6H401.3M418.6 852.4H406.6V853.1H418.6M418.6 851.6H403.4V852.8H406.6M418.6 850.9H397.3V852.2H403.4M418.6 854.2H398.9V854.8H418.6M418.6 855.9H403.8V856.5H418.6M418.6 855.3H400.1V856.2H403.8M418.6 857.6H403.7V858.2H418.6M418.6 859.3H403.6V859.9H418.6M418.6 858.8H400.8V859.6H403.6M403.7 857.9H399.3V859.2H400.8M418.6 857H398.1V858.5H399.3M400.1 855.8H396.5V857.8H398.1M398.9 854.5H394.9V856.8H396.5M418.6 853.6H393.1V855.6H394.9M418.6 860.4H404.3V861H418.6M418.6 862.1H406.6V862.6H418.6M418.6 861.5H402.8V862.4H406.6M404.3 860.7H400V861.9H402.8M418.6 863.2H402.1V863.7H418.6M418.6 864.3H406.6V864.9H418.6M418.6 865.4H405.1V866.3H407.5M406.6 864.6H403.6V865.8H405.1M402.1 863.5H399.8V865.2H403.6M400 861.3H398.2V864.3H399.8M418.6 870H403.3V870.9H405.8M418.6 869.4H399.3V870.5H403.3M418.6 868.8H396.1V869.9H399.3M418.6 868.2H394.9V869.4H396.1M418.6 867.6H394.1V868.8H394.9M418.6 867H393.4V868.2H394.1M418.6 872.3H402.6V872.8H418.6M418.6 871.7H399.6V872.5H402.6M418.6 873.9H400.4V874.4H418.6M418.6 876.1H404.2V877.1H406.4M418.6 875.5H402V876.6H404.2M418.6 875H400.2V876.1H402M418.6 878.3H402.1V878.8H418.6M418.6 879.9H404.3V880.9H407.1M418.6 879.4H401.8V880.4H404.3M402.1 878.6H400.8V879.9H401.8M400.2 875.5H399.2V879.2H400.8M400.4 874.2H398V877.4H399.2M418.6 873.4H396.4V875.8H398M399.6 872.1H395.6V874.6H396.4M418.6 883.8H404.7V884.4H418.6M418.6 883.2H404.1V884.1H404.7M418.6 882.7H402.8V883.7H404.1M418.6 882.1H400.6V883.2H402.8M418.6 885.5H404.6V886.1H418.6M418.6 886.7H403.5V887.2H418.6M404.6 885.8H399.5V887H403.5M418.6 885H396.6V886.4H399.5M400.6 882.6H394.9V885.7H396.6M395.6 873.3H392.7V884.1H394.9M393.4 867.6H392.3V878.7H392.7M398.2 862.8H392V873.2H392.3M393.1 854.6H391.6V868H392M397.3 851.5H391.2V861.3H391.6M397.2 840.7H390.9V856.4H391.2M393.9 831.1H390.5V848.6H390.9M394.3 826.2H390.1V839.8H390.5M392.2 822H389.6V833H390.1M390.3 814H389.2V827.5H389.6M393.8 807.1H388.7V820.8H389.2M389.5 804.4H388.2V813.9H388.7M390.8 803.2H387.5V809.2H388.2M387.5 806.2V845M384.5 748H383.6V845H387.5M418.6 887.8H392.8V887.6H418.6M418.6 889.2H402.6V890H405.4M418.6 890.8H400.6V891.4H418.6M418.6 891.9H403.1V892.8H405.1M418.6 893.6H403.4V894.6H406.1M403.1 892.4H401.9V894.1H403.4M400.6 891.1H399.7V893.2H401.9M402.6 889.6H399.3V892.2H399.7M418.6 888.6H396.4V890.9H399.3M418.6 888.1H394V889.8H396.4M392.8 887.7H386.8V888.9H394M386.8 888.3V887.3M418.6 895.8H392.8V895.8H418.6M418.6 896.8H403.4V897.7H405.7M418.6 896.3H395.3V897.3H403.4M418.6 899.6H400V900.2H418.6M404.3 898.8H399.1V899.9H400M418.6 902.4H403.3V903H418.6M418.6 903.6H403V904.4H407.6M403.3 902.7H399.4V904H403M418.6 901.9H397V903.3H399.4M418.6 901.3H395.1V902.6H397M418.6 900.8H394.2V902H395.1M399.1 899.4H393.5V901.4H394.2M395.3 896.8H392.1V900.4H393.5M418.6 905.2H400.8V905.9H418.6M418.6 907.3H399.9V908H418.6M418.6 906.6H390.4V907.6H399.9M400.8 905.5H389.1V907.1H390.4M418.6 911.2H403.9V911.8H418.6M418.6 914H402V915H407.2M405 913.2H400.6V914.5H402M418.6 912.3H399V913.8H400.6M403.9 911.5H398.2V913.1H399M418.6 910.7H396.7V912.3H398.2M418.6 910.1H395.1V911.5H396.7M418.6 909.6H393.8V910.8H395.1M418.6 909H393.3V910.2H393.8M418.6 908.5H392.4V909.6H393.3M418.6 918.1H400.1V918.7H418.6M418.6 917.5H397.3V918.4H400.1M418.6 920H402.4V920.6H418.6M418.6 919.4H394.5V920.3H402.4M397.3 917.9H393.3V919.8H394.5M418.6 916.8H391V918.9H393.3M418.6 916.2H389.5V917.9H391M418.6 921.7H402.4V922.3H418.6M418.6 922.8H403.7V923.4H418.6M418.6 925.6H404V926.5H406.4M418.6 925.1H402.9V926H404M418.6 927.8H402.9V928.9H404.2M418.6 927.3H400.5V928.4H402.9M402.9 925.5H400.4V927.8H400.5M405.4 924.2H398.9V926.7H400.4M403.7 923.1H397.5V925.5H398.9M402.4 922H395.9V924.3H397.5M418.6 921.1H392.3V923.1H395.9M418.6 931.8H402.9V932.4H418.6M418.6 933H400.2V933.6H418.6M418.6 934.3H399.7V935.2H404.5M400.2 933.3H399V934.7H399.7M402.9 932.1H398V934H399M418.6 931.2H396.3V933.1H398M418.6 930.6H392.1V932.1H396.3M418.6 936H396.3V936.5H418.6M418.6 938.1H399.9V938.7H418.6M418.6 939.8H403.9V940.3H418.6M418.6 939.2H400.5V940H403.9M399.9 938.4H398.6V939.6H400.5M418.6 937.6H396.6V939H398.6M418.6 937.1H394.1V938.3H396.6M404.5 941.1H399.6V942.3H405.3M418.6 943.5H401.1V944.1H418.6M418.6 945.1H404.1V945.7H418.6M418.6 944.6H402V945.4H404.1M401.1 943.8H398.6V945H402M399.6 941.7H396.5V944.4H398.6M394.1 937.7H393.2V943.1H396.5M396.3 936.2H392.5V940.4H393.2M418.6 947.6H402.4V948.8H405.3M418.6 946.9H395.9V948.2H402.4M418.6 946.2H392V947.5H395.9M418.6 953.1H402.9V953.7H418.6M418.6 952.5H401.4V953.4H402.9M418.6 951.9H400.6V952.9H401.4M418.6 951.3H399V952.4H400.6M418.6 950.7H395.1V951.9H399M418.6 950.1H390.8V951.3H395.1M418.6 954.2H397V954.7H418.6M418.6 956.3H399.9V956.8H418.6M418.6 955.8H397.8V956.6H399.9M418.6 957.4H398.6V957.9H418.6M418.6 959H401.6V959.5H418.6M418.6 958.4H396.7V959.2H401.6M418.6 961.1H403.6V961.9H407.3M418.6 960.6H400.9V961.5H403.6M408.9 964H403V965.1H405.3M418.6 963.2H400.5V964.5H403M418.6 962.7H399.5V963.9H400.5M400.9 961H398.6V963.3H399.5M418.6 960H397.1V962.2H398.6M396.7 958.8H394.7V961.1H397.1M398.6 957.6H393.9V960H394.7M397.8 956.2H393.5V958.8H393.9M418.6 955.2H392.1V957.5H393.5M397 954.5H391.8V956.4H392.1M418.6 967.2H400.3V967.9H418.6M418.6 966.5H396.7V967.6H400.3M418.6 965.8H393.7V967.1H396.7M418.6 971.6H404.3V972.5H407.2M407.1 970.8H403.1V972.1H404.3M418.6 976.9H405.5V978.6H406.7M407.2 975.1H404.7V977.7H405.5M418.6 973.7H403.1V976.4H404.7M403.1 971.4H402.1V975.1H403.1M418.6 970H401.4V973.2H402.1M418.6 969.5H399.1V971.6H401.4M418.6 968.9H397.2V970.6H399.1M418.6 968.4H395.9V969.7H397.2M418.6 981.1H404.3V982H409M418.6 983.4H405.5V984.3H409.5M418.6 985.8H406V986.4H418.6M418.6 985.2H403.3V986.1H406M405.5 983.9H402.1V985.6H403.3M418.6 982.9H401.7V984.8H402.1M404.3 981.6H400.8V983.8H401.7M418.6 980.5H396.4V982.7H400.8M418.6 987.4H404.2V988H418.6M418.6 986.9H403.2V987.7H404.2M418.6 989.6H406V990.2H418.6M418.6 989.1H403.2V989.9H406M418.6 988.5H398.1V989.5H403.2M418.6 991.8H405.8V992.7H406.7M418.6 991.3H402.2V992.3H405.8M418.6 990.7H401.1V991.8H402.2M398.1 989H397.4V991.3H401.1M403.2 987.3H396.7V990.1H397.4M418.6 993.5H398.3V994H418.6M418.6 995.8H406.3V996.3H418.6M418.6 995.2H404.9V996H406.3M418.6 994.6H402.8V995.6H404.9M418.6 996.9H404.1V997.5H418.6M407.2 998.9H404.8V1000.2H407.1M418.6 998.1H404.2V999.6H404.8M404.1 997.2H402.6V998.8H404.2M402.8 995.1H401.4V998H402.6M398.3 993.7H396.9V996.6H401.4M418.6 1002H404.2V1002.5H418.6M418.6 1003.6H404.4V1004.1H418.6M418.6 1006.8H405.7V1007.3H418.6M418.6 1007.9H405.6V1008.9H407.4M405.7 1007.1H404.9V1008.4H405.6M407.6 1005.1H404.5V1007.7H404.9M404.4 1003.8H403.1V1006.4H404.5M418.6 1003H402V1005.1H403.1M404.2 1002.2H401V1004.1H402M418.6 1001.4H397V1003.2H401M396.9 995.2H390.8V1002.3H397M396.7 988.7H390.6V998.7H390.8M396.4 981.6H390.4V993.7H390.6M395.9 969.1H390.1V987.7H390.4M393.7 966.4H389.9V978.4H390.1M391.8 955.4H389.7V972.4H389.9M390.8 950.7H389.5V963.9H389.7M392 946.9H389.2V957.3H389.5M392.5 938.3H389V952.1H389.2M392.1 931.4H388.7V945.2H389M392.3 922.1H388.5V938.3H388.7M389.5 917H388.2V930.2H388.5M392.4 909H387.9V923.6H388.2M389.1 906.3H387.6V916.3H387.9M392.1 898.6H387.3V911.3H387.6M392.8 895.8H386.8V904.9H387.3M386.8 887.3H382.8V900.3H386.8" stroke="#1a1a1a" stroke-width="0.5" fill="none"/>
<path d="M383.6 796.5H356.6V893.8H382.8" stroke="#666" stroke-width="0.8" fill="none"/>
<g font-size="5.6" fill="#222" text-anchor="middle">
<text x="432.5" y="1019">N5</text>
<text x="458" y="1019">N2</text>
<text x="483.5" y="1019">N1</text>
<text x="509.1" y="1019">N3</text>
<text x="534.6" y="1019">N4</text>
<text x="560.1" y="1019">T5</text>
<text x="585.6" y="1019">T1</text>
<text x="611.2" y="1019">T4</text>
<text x="636.7" y="1019">T2</text>
<text x="662.2" y="1019">T3</text>
</g>
<text transform="translate(682.7,879.6) rotate(-90)" font-size="6.1" fill="#222" text-anchor="middle">GeneSymbol</text>
<defs><linearGradient id="cbF" x1="0" y1="0" x2="0" y2="1"><stop offset="0" stop-color="#ff0000"/><stop offset="0.5" stop-color="#ffffff"/><stop offset="1" stop-color="#0000ff"/></linearGradient></defs>
<rect x="353.7" y="679.4" width="12.6" height="52.6" fill="url(#cbF)"/>
<text transform="translate(373.8,684.2) rotate(-90)" font-size="5" fill="#222" text-anchor="middle">2</text>
<text transform="translate(373.8,694.9) rotate(-90)" font-size="5" fill="#222" text-anchor="middle">1</text>
<text transform="translate(373.8,705.7) rotate(-90)" font-size="5" fill="#222" text-anchor="middle">0</text>
<text transform="translate(373.8,716.4) rotate(-90)" font-size="5" fill="#222" text-anchor="middle">-1</text>
<text transform="translate(373.8,727.2) rotate(-90)" font-size="5" fill="#222" text-anchor="middle">-2</text>
<text transform="translate(383.4,705.7) rotate(-90)" font-size="6.1" fill="#222" text-anchor="middle">Z_ScoreExpression</text>
<text x="338.6" y="678.4" font-size="19.6" font-weight="bold" fill="#000">F</text>
</svg>
</body></html>
